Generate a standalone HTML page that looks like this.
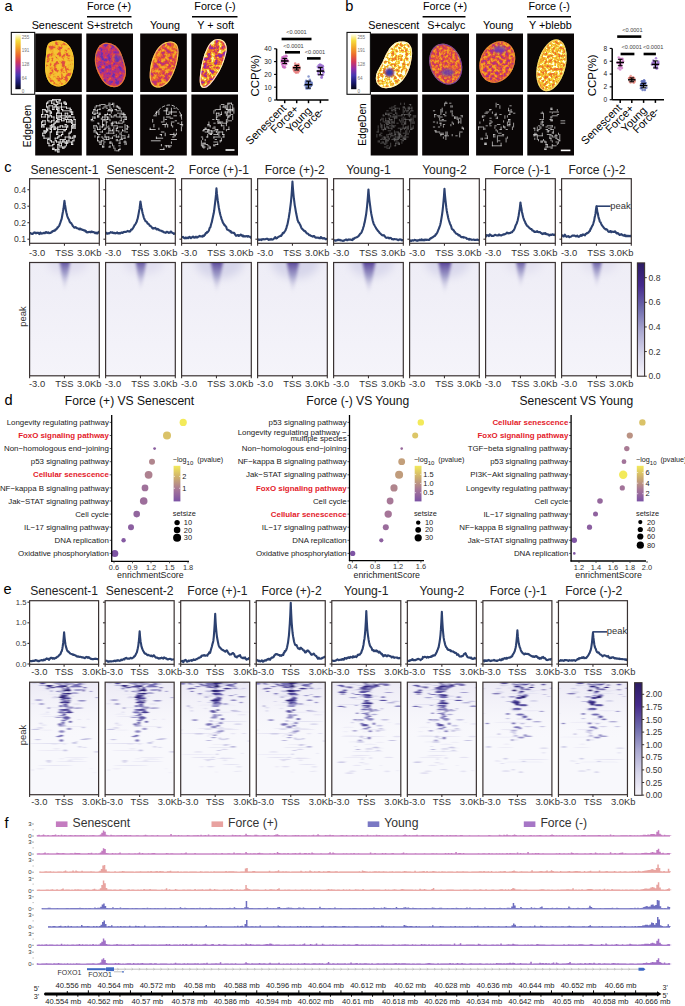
<!DOCTYPE html>
<html><head><meta charset="utf-8"><style>
html,body{margin:0;padding:0;background:#fff;overflow:hidden;width:685px;height:1006px;}
svg{display:block;}
</style></head><body>
<svg width="685" height="1006" viewBox="0 0 685 1006" font-family='"Liberation Sans", sans-serif'>
<defs>
<linearGradient id="fireg" x1="0" y1="0" x2="0" y2="1"><stop offset="0" stop-color="rgb(255, 255, 235)"/><stop offset="0.12" stop-color="rgb(245, 220, 60)"/><stop offset="0.25" stop-color="rgb(242, 165, 40)"/><stop offset="0.38" stop-color="rgb(235, 105, 45)"/><stop offset="0.5" stop-color="rgb(210, 55, 90)"/><stop offset="0.62" stop-color="rgb(150, 45, 165)"/><stop offset="0.75" stop-color="rgb(70, 55, 175)"/><stop offset="0.88" stop-color="rgb(25, 25, 110)"/><stop offset="1" stop-color="rgb(5, 5, 20)"/></linearGradient>
<clipPath id="nc0"><path d="M58 40.5C66 40 72 47 73.5 56C75 66 73 78 66 84C61 88 53 87 49 82C45 77 44.5 68 45.5 60C46.5 52 46 46 49 43C51 41.3 54.5 40.6 58 40.5Z"/></clipPath>
<filter id="nf0" filterUnits="userSpaceOnUse" x="35.2" y="33.5" width="46.6" height="58.5" color-interpolation-filters="sRGB"><feTurbulence type="fractalNoise" baseFrequency="0.26" numOctaves="3" seed="3"/><feGaussianBlur stdDeviation="0.5"/><feColorMatrix type="matrix" values="1 0 0 0 0  1 0 0 0 0  1 0 0 0 0  0 0 0 0 1"/><feComponentTransfer><feFuncR type="table" tableValues="0.86 0.86 0.86 0.86 0.86 0.86 0.86 0.87 0.87 0.88 0.88 0.9 0.92 0.93 0.94 0.95 0.95 0.95 0.95 0.95 0.96 0.96 0.96 0.96 0.96 0.96 0.96 0.96 0.96 0.96 0.96 0.96 0.96"/><feFuncG type="table" tableValues="0.29 0.29 0.29 0.29 0.3 0.3 0.3 0.3 0.31 0.32 0.34 0.37 0.42 0.49 0.57 0.64 0.69 0.72 0.74 0.75 0.76 0.76 0.77 0.77 0.77 0.77 0.77 0.77 0.77 0.77 0.77 0.77 0.77"/><feFuncB type="table" tableValues="0.28 0.28 0.28 0.28 0.28 0.28 0.28 0.28 0.27 0.26 0.24 0.21 0.18 0.17 0.16 0.16 0.17 0.18 0.19 0.2 0.2 0.2 0.2 0.2 0.2 0.2 0.2 0.2 0.2 0.2 0.2 0.2 0.2"/></feComponentTransfer></filter>
<clipPath id="nc1"><path d="M104 43C111 41.5 118 46 121 53C123 58 124 61 125.5 67C127 74 125 82 119 86C113 89 106 86 102 80C99 75 96 70 95 63C94 55 97 45 104 43Z"/></clipPath>
<filter id="nf1" filterUnits="userSpaceOnUse" x="86.3" y="33.5" width="46.7" height="58.5" color-interpolation-filters="sRGB"><feTurbulence type="fractalNoise" baseFrequency="0.26" numOctaves="3" seed="11"/><feGaussianBlur stdDeviation="0.5"/><feColorMatrix type="matrix" values="1 0 0 0 0  1 0 0 0 0  1 0 0 0 0  0 0 0 0 1"/><feComponentTransfer><feFuncR type="table" tableValues="0.4 0.4 0.4 0.4 0.4 0.4 0.4 0.41 0.41 0.42 0.44 0.48 0.53 0.6 0.66 0.7 0.74 0.76 0.79 0.81 0.84 0.86 0.88 0.89 0.9 0.91 0.91 0.92 0.92 0.92 0.92 0.92 0.92"/><feFuncG type="table" tableValues="0.2 0.2 0.2 0.2 0.2 0.2 0.2 0.2 0.2 0.2 0.19 0.19 0.18 0.18 0.19 0.2 0.2 0.21 0.21 0.21 0.24 0.28 0.32 0.35 0.38 0.39 0.4 0.4 0.4 0.4 0.4 0.4 0.4"/><feFuncB type="table" tableValues="0.67 0.67 0.67 0.67 0.67 0.67 0.67 0.67 0.67 0.67 0.67 0.66 0.65 0.63 0.56 0.5 0.46 0.43 0.4 0.36 0.33 0.29 0.26 0.23 0.21 0.2 0.19 0.19 0.19 0.18 0.18 0.18 0.18"/></feComponentTransfer></filter>
<clipPath id="nc2"><path d="M170 41.5C176 41 179 46 178.5 53C178 62 175 72 170 80C166 86 160 89 155 87C150 85 149 78 150 70C151 61 154 53 158 48C162 43 166 41.8 170 41.5Z"/></clipPath>
<filter id="nf2" filterUnits="userSpaceOnUse" x="140.2" y="33.5" width="46.6" height="58.5" color-interpolation-filters="sRGB"><feTurbulence type="fractalNoise" baseFrequency="0.26" numOctaves="3" seed="21"/><feGaussianBlur stdDeviation="0.5"/><feColorMatrix type="matrix" values="1 0 0 0 0  1 0 0 0 0  1 0 0 0 0  0 0 0 0 1"/><feComponentTransfer><feFuncR type="table" tableValues="0.71 0.71 0.71 0.71 0.71 0.71 0.71 0.71 0.71 0.71 0.73 0.78 0.82 0.85 0.87 0.89 0.91 0.92 0.93 0.93 0.94 0.95 0.95 0.95 0.95 0.95 0.95 0.95 0.95 0.95 0.95 0.95 0.95"/><feFuncG type="table" tableValues="0.2 0.2 0.2 0.2 0.2 0.2 0.2 0.2 0.2 0.2 0.2 0.21 0.22 0.26 0.3 0.34 0.38 0.42 0.47 0.52 0.57 0.62 0.66 0.68 0.68 0.68 0.68 0.68 0.68 0.68 0.68 0.68 0.68"/><feFuncB type="table" tableValues="0.49 0.49 0.49 0.49 0.49 0.49 0.49 0.49 0.49 0.49 0.47 0.41 0.35 0.31 0.28 0.24 0.2 0.18 0.17 0.17 0.16 0.16 0.16 0.17 0.17 0.17 0.17 0.17 0.17 0.17 0.17 0.17 0.17"/></feComponentTransfer></filter>
<clipPath id="nc3"><path d="M218 39C224 39 228 44 226.5 52C225 60 221 70 216 77C212 83 208 88 204 88C200 88 199 82 200 75C201 66 203 56 207 48C210 42 214 39 218 39Z"/></clipPath>
<filter id="nf3" filterUnits="userSpaceOnUse" x="191.4" y="33.5" width="46.6" height="58.5" color-interpolation-filters="sRGB"><feTurbulence type="fractalNoise" baseFrequency="0.26" numOctaves="3" seed="31"/><feGaussianBlur stdDeviation="0.5"/><feColorMatrix type="matrix" values="1 0 0 0 0  1 0 0 0 0  1 0 0 0 0  0 0 0 0 1"/><feComponentTransfer><feFuncR type="table" tableValues="0.55 0.55 0.55 0.55 0.55 0.55 0.55 0.55 0.55 0.55 0.59 0.68 0.76 0.83 0.87 0.9 0.93 0.93 0.94 0.95 0.96 0.96 0.97 0.98 0.98 0.98 0.98 0.98 0.98 0.98 0.98 0.98 0.98"/><feFuncG type="table" tableValues="0.18 0.18 0.18 0.18 0.18 0.18 0.18 0.18 0.18 0.18 0.18 0.19 0.2 0.23 0.3 0.37 0.44 0.52 0.61 0.69 0.76 0.84 0.89 0.94 0.95 0.95 0.95 0.95 0.95 0.95 0.95 0.95 0.95"/><feFuncB type="table" tableValues="0.65 0.65 0.65 0.65 0.65 0.65 0.65 0.65 0.65 0.65 0.64 0.54 0.43 0.34 0.28 0.22 0.17 0.17 0.16 0.17 0.2 0.23 0.4 0.64 0.65 0.65 0.65 0.65 0.65 0.65 0.65 0.65 0.65"/></feComponentTransfer></filter>
<clipPath id="nc10"><path d="M404 41.5C410 42 413 48 412 56C411 65 408 74 403 80C398 86 390 89 384 88C378 87 375 82 376 76C377 70 381 66 383 61C386 54 389 47 395 43C398 41.5 401 41.2 404 41.5Z"/></clipPath>
<filter id="nf10" filterUnits="userSpaceOnUse" x="370.7" y="33.5" width="47.1" height="58.5" color-interpolation-filters="sRGB"><feTurbulence type="fractalNoise" baseFrequency="0.36" numOctaves="3" seed="41"/><feGaussianBlur stdDeviation="0.5"/><feColorMatrix type="matrix" values="1 0 0 0 0  1 0 0 0 0  1 0 0 0 0  0 0 0 0 1"/><feComponentTransfer><feFuncR type="table" tableValues="0.92 0.92 0.92 0.92 0.92 0.92 0.92 0.92 0.92 0.92 0.93 0.94 0.94 0.95 0.95 0.96 0.96 0.97 0.98 0.99 1 1 1 1 1 1 1 1 1 1 1 1 1"/><feFuncG type="table" tableValues="0.44 0.44 0.44 0.44 0.44 0.44 0.44 0.44 0.44 0.44 0.47 0.53 0.6 0.66 0.72 0.78 0.85 0.89 0.93 0.97 1 1 1 1 1 1 1 1 1 1 1 1 1"/><feFuncB type="table" tableValues="0.17 0.17 0.17 0.17 0.17 0.17 0.17 0.17 0.17 0.17 0.17 0.17 0.16 0.16 0.18 0.21 0.23 0.37 0.57 0.76 0.92 0.92 0.92 0.92 0.92 0.92 0.92 0.92 0.92 0.92 0.92 0.92 0.92"/></feComponentTransfer></filter>
<clipPath id="nc11"><ellipse cx="445.7" cy="64.1" rx="15.8" ry="21" transform="rotate(-20 445.7 64.1)"/></clipPath>
<filter id="nf11" filterUnits="userSpaceOnUse" x="422.2" y="33.5" width="46.8" height="58.5" color-interpolation-filters="sRGB"><feTurbulence type="fractalNoise" baseFrequency="0.38" numOctaves="3" seed="51"/><feGaussianBlur stdDeviation="0.5"/><feColorMatrix type="matrix" values="1 0 0 0 0  1 0 0 0 0  1 0 0 0 0  0 0 0 0 1"/><feComponentTransfer><feFuncR type="table" tableValues="0.77 0.77 0.77 0.77 0.77 0.77 0.77 0.77 0.77 0.77 0.78 0.82 0.84 0.86 0.88 0.89 0.91 0.92 0.93 0.93 0.94 0.94 0.95 0.95 0.95 0.95 0.95 0.95 0.95 0.95 0.95 0.95 0.95"/><feFuncG type="table" tableValues="0.21 0.21 0.21 0.21 0.21 0.21 0.21 0.21 0.21 0.21 0.21 0.22 0.25 0.29 0.32 0.35 0.39 0.42 0.47 0.51 0.55 0.59 0.63 0.65 0.65 0.65 0.65 0.65 0.65 0.65 0.65 0.65 0.65"/><feFuncB type="table" tableValues="0.42 0.42 0.42 0.42 0.42 0.42 0.42 0.42 0.42 0.42 0.4 0.35 0.32 0.29 0.26 0.23 0.2 0.18 0.17 0.17 0.17 0.16 0.16 0.16 0.16 0.16 0.16 0.16 0.16 0.16 0.16 0.16 0.16"/></feComponentTransfer></filter>
<clipPath id="nc12"><ellipse cx="497.3" cy="62" rx="17" ry="21.5" transform="rotate(25 497.3 62)"/></clipPath>
<filter id="nf12" filterUnits="userSpaceOnUse" x="476.1" y="33.5" width="46.9" height="58.5" color-interpolation-filters="sRGB"><feTurbulence type="fractalNoise" baseFrequency="0.32" numOctaves="3" seed="61"/><feGaussianBlur stdDeviation="0.5"/><feColorMatrix type="matrix" values="1 0 0 0 0  1 0 0 0 0  1 0 0 0 0  0 0 0 0 1"/><feComponentTransfer><feFuncR type="table" tableValues="0.67 0.67 0.67 0.67 0.67 0.67 0.67 0.67 0.67 0.67 0.69 0.74 0.79 0.83 0.85 0.87 0.89 0.91 0.93 0.93 0.94 0.94 0.95 0.95 0.95 0.95 0.95 0.95 0.95 0.95 0.95 0.95 0.95"/><feFuncG type="table" tableValues="0.19 0.19 0.19 0.19 0.19 0.19 0.19 0.19 0.19 0.19 0.19 0.2 0.21 0.23 0.27 0.32 0.36 0.4 0.45 0.5 0.55 0.6 0.65 0.66 0.66 0.66 0.66 0.66 0.66 0.66 0.66 0.66 0.66"/><feFuncB type="table" tableValues="0.54 0.54 0.54 0.54 0.54 0.54 0.54 0.54 0.54 0.54 0.52 0.45 0.39 0.34 0.3 0.26 0.23 0.19 0.17 0.17 0.17 0.16 0.16 0.16 0.16 0.16 0.16 0.16 0.16 0.16 0.16 0.16 0.16"/></feComponentTransfer></filter>
<clipPath id="nc13"><ellipse cx="551.5" cy="65.3" rx="14" ry="26.5" transform="rotate(15 551.5 65.3)"/></clipPath>
<filter id="nf13" filterUnits="userSpaceOnUse" x="527.3" y="33.5" width="46.7" height="58.5" color-interpolation-filters="sRGB"><feTurbulence type="fractalNoise" baseFrequency="0.38" numOctaves="3" seed="71"/><feGaussianBlur stdDeviation="0.5"/><feColorMatrix type="matrix" values="1 0 0 0 0  1 0 0 0 0  1 0 0 0 0  0 0 0 0 1"/><feComponentTransfer><feFuncR type="table" tableValues="0.92 0.92 0.92 0.92 0.92 0.92 0.92 0.92 0.92 0.92 0.92 0.93 0.94 0.94 0.95 0.95 0.95 0.96 0.96 0.97 0.98 0.99 1 1 1 1 1 1 1 1 1 1 1"/><feFuncG type="table" tableValues="0.4 0.4 0.4 0.4 0.4 0.4 0.4 0.4 0.4 0.4 0.42 0.48 0.54 0.59 0.65 0.7 0.75 0.8 0.85 0.89 0.92 0.95 0.99 1 1 1 1 1 1 1 1 1 1"/><feFuncB type="table" tableValues="0.18 0.18 0.18 0.18 0.18 0.18 0.18 0.18 0.18 0.18 0.18 0.17 0.17 0.16 0.16 0.18 0.19 0.21 0.23 0.37 0.53 0.69 0.86 0.92 0.92 0.92 0.92 0.92 0.92 0.92 0.92 0.92 0.92"/></feComponentTransfer></filter>
<filter id="nspot" x="-50%" y="-50%" width="200%" height="200%"><feGaussianBlur stdDeviation="1.1"/></filter>
<clipPath id="lpc100"><rect x="29.6" y="179.3" width="69.7" height="64"/></clipPath>
<clipPath id="lpc101"><rect x="105.6" y="179.3" width="69.7" height="64"/></clipPath>
<clipPath id="lpc102"><rect x="181.6" y="179.3" width="69.7" height="64"/></clipPath>
<clipPath id="lpc103"><rect x="257.6" y="179.3" width="69.7" height="64"/></clipPath>
<clipPath id="lpc104"><rect x="333.6" y="179.3" width="69.7" height="64"/></clipPath>
<clipPath id="lpc105"><rect x="409.6" y="179.3" width="69.7" height="64"/></clipPath>
<clipPath id="lpc106"><rect x="485.6" y="179.3" width="69.7" height="64"/></clipPath>
<clipPath id="lpc107"><rect x="561.6" y="179.3" width="69.7" height="64"/></clipPath>
<linearGradient id="hcbg" x1="0" y1="0" x2="0" y2="1"><stop offset="0" stop-color="#eeedf6"/><stop offset="1" stop-color="#f5f4fa"/></linearGradient>
<filter id="hcb1" x="-50%" y="-50%" width="200%" height="200%"><feGaussianBlur stdDeviation="1.5"/></filter>
<filter id="hcb2" x="-50%" y="-50%" width="200%" height="200%"><feGaussianBlur stdDeviation="4"/></filter>
<linearGradient id="hcg0" x1="0" y1="0" x2="0" y2="1"><stop offset="0" stop-color="#564499"/><stop offset="0.45" stop-color="#9c9ac8" stop-opacity="0.85"/><stop offset="1" stop-color="#e6e4f2" stop-opacity="0"/></linearGradient>
<clipPath id="hcc0"><rect x="29.6" y="262.5" width="69.7" height="113.3"/></clipPath>
<linearGradient id="hcg1" x1="0" y1="0" x2="0" y2="1"><stop offset="0" stop-color="#5a4a9c"/><stop offset="0.45" stop-color="#a09dca" stop-opacity="0.85"/><stop offset="1" stop-color="#e6e4f2" stop-opacity="0"/></linearGradient>
<clipPath id="hcc1"><rect x="105.6" y="262.5" width="69.7" height="113.3"/></clipPath>
<linearGradient id="hcg2" x1="0" y1="0" x2="0" y2="1"><stop offset="0" stop-color="#4e3792"/><stop offset="0.45" stop-color="#9592c3" stop-opacity="0.85"/><stop offset="1" stop-color="#e6e4f2" stop-opacity="0"/></linearGradient>
<clipPath id="hcc2"><rect x="181.6" y="262.5" width="69.7" height="113.3"/></clipPath>
<linearGradient id="hcg3" x1="0" y1="0" x2="0" y2="1"><stop offset="0" stop-color="#4e3792"/><stop offset="0.45" stop-color="#9592c3" stop-opacity="0.85"/><stop offset="1" stop-color="#e6e4f2" stop-opacity="0"/></linearGradient>
<clipPath id="hcc3"><rect x="257.6" y="262.5" width="69.7" height="113.3"/></clipPath>
<linearGradient id="hcg4" x1="0" y1="0" x2="0" y2="1"><stop offset="0" stop-color="#4a308f"/><stop offset="0.45" stop-color="#918ec1" stop-opacity="0.85"/><stop offset="1" stop-color="#e6e4f2" stop-opacity="0"/></linearGradient>
<clipPath id="hcc4"><rect x="333.6" y="262.5" width="69.7" height="113.3"/></clipPath>
<linearGradient id="hcg5" x1="0" y1="0" x2="0" y2="1"><stop offset="0" stop-color="#4a308f"/><stop offset="0.45" stop-color="#918ec1" stop-opacity="0.85"/><stop offset="1" stop-color="#e6e4f2" stop-opacity="0"/></linearGradient>
<clipPath id="hcc5"><rect x="409.6" y="262.5" width="69.7" height="113.3"/></clipPath>
<linearGradient id="hcg6" x1="0" y1="0" x2="0" y2="1"><stop offset="0" stop-color="#5e509f"/><stop offset="0.45" stop-color="#a4a1cc" stop-opacity="0.85"/><stop offset="1" stop-color="#e6e4f2" stop-opacity="0"/></linearGradient>
<clipPath id="hcc6"><rect x="485.6" y="262.5" width="69.7" height="113.3"/></clipPath>
<linearGradient id="hcg7" x1="0" y1="0" x2="0" y2="1"><stop offset="0" stop-color="#5e509f"/><stop offset="0.45" stop-color="#a4a1cc" stop-opacity="0.85"/><stop offset="1" stop-color="#e6e4f2" stop-opacity="0"/></linearGradient>
<clipPath id="hcc7"><rect x="561.6" y="262.5" width="69.7" height="113.3"/></clipPath>
<linearGradient id="cbc" x1="0" y1="0" x2="0" y2="1"><stop offset="0" stop-color="#2c1c62"/><stop offset="0.1" stop-color="#392377"/><stop offset="0.2" stop-color="#462a8c"/><stop offset="0.3" stop-color="#5a4a9c"/><stop offset="0.4" stop-color="#6e6aac"/><stop offset="0.5" stop-color="#8c89be"/><stop offset="0.6" stop-color="#aaa8d0"/><stop offset="0.7" stop-color="#c0bedd"/><stop offset="0.8" stop-color="#d6d5ea"/><stop offset="0.9" stop-color="#e6e4f2"/><stop offset="1" stop-color="#f6f4fa"/></linearGradient>
<linearGradient id="dg172" x1="0" y1="0" x2="0" y2="1"><stop offset="0" stop-color="#f3ea5a"/><stop offset="0.34" stop-color="#ccac70"/><stop offset="0.67" stop-color="#a67698"/><stop offset="1" stop-color="#7b52a5"/></linearGradient>
<linearGradient id="dg413" x1="0" y1="0" x2="0" y2="1"><stop offset="0" stop-color="#f3ea5a"/><stop offset="0.34" stop-color="#ccac70"/><stop offset="0.67" stop-color="#a67698"/><stop offset="1" stop-color="#7b52a5"/></linearGradient>
<linearGradient id="dg636" x1="0" y1="0" x2="0" y2="1"><stop offset="0" stop-color="#f3ea5a"/><stop offset="0.34" stop-color="#ccac70"/><stop offset="0.67" stop-color="#a67698"/><stop offset="1" stop-color="#7b52a5"/></linearGradient>
<clipPath id="lpe200"><rect x="29.6" y="601.3" width="69" height="63"/></clipPath>
<clipPath id="lpe201"><rect x="105.15" y="601.3" width="69" height="63"/></clipPath>
<clipPath id="lpe202"><rect x="180.7" y="601.3" width="69" height="63"/></clipPath>
<clipPath id="lpe203"><rect x="256.25" y="601.3" width="69" height="63"/></clipPath>
<clipPath id="lpe204"><rect x="331.8" y="601.3" width="69" height="63"/></clipPath>
<clipPath id="lpe205"><rect x="407.35" y="601.3" width="69" height="63"/></clipPath>
<clipPath id="lpe206"><rect x="482.9" y="601.3" width="69" height="63"/></clipPath>
<clipPath id="lpe207"><rect x="558.45" y="601.3" width="69" height="63"/></clipPath>
<linearGradient id="hehz" x1="0" y1="0" x2="0" y2="1"><stop offset="0" stop-color="#eceaf5"/><stop offset="1" stop-color="#f7f6fb" stop-opacity="0"/></linearGradient>
<filter id="heb" x="-20%" y="-50%" width="140%" height="200%"><feGaussianBlur stdDeviation="0.9 0.55"/></filter>
<clipPath id="hecl0"><rect x="29.6" y="682.2" width="69" height="112.5"/></clipPath>
<clipPath id="hecl1"><rect x="105.15" y="682.2" width="69" height="112.5"/></clipPath>
<clipPath id="hecl2"><rect x="180.7" y="682.2" width="69" height="112.5"/></clipPath>
<clipPath id="hecl3"><rect x="256.25" y="682.2" width="69" height="112.5"/></clipPath>
<clipPath id="hecl4"><rect x="331.8" y="682.2" width="69" height="112.5"/></clipPath>
<clipPath id="hecl5"><rect x="407.35" y="682.2" width="69" height="112.5"/></clipPath>
<clipPath id="hecl6"><rect x="482.9" y="682.2" width="69" height="112.5"/></clipPath>
<clipPath id="hecl7"><rect x="558.45" y="682.2" width="69" height="112.5"/></clipPath>
</defs>
<rect x="35.2" y="33.5" width="46.6" height="58.5" fill="#0a0606" />
<g clip-path="url(#nc0)"><rect x="35.2" y="33.5" width="46.6" height="58.5" fill="#000" filter="url(#nf0)"/></g>
<g clip-path="url(#nc0)"><path d="M58 40.5C66 40 72 47 73.5 56C75 66 73 78 66 84C61 88 53 87 49 82C45 77 44.5 68 45.5 60C46.5 52 46 46 49 43C51 41.3 54.5 40.6 58 40.5Z" fill="none" stroke="#f5d030" stroke-opacity="0.9" stroke-width="2.2"/></g>
<rect x="86.3" y="33.5" width="46.7" height="58.5" fill="#0a0606" />
<g clip-path="url(#nc1)"><rect x="86.3" y="33.5" width="46.7" height="58.5" fill="#000" filter="url(#nf1)"/></g>
<g clip-path="url(#nc1)"><path d="M104 43C111 41.5 118 46 121 53C123 58 124 61 125.5 67C127 74 125 82 119 86C113 89 106 86 102 80C99 75 96 70 95 63C94 55 97 45 104 43Z" fill="none" stroke="#e8802a" stroke-opacity="0.9" stroke-width="2.2"/></g>
<rect x="140.2" y="33.5" width="46.6" height="58.5" fill="#0a0606" />
<g clip-path="url(#nc2)"><rect x="140.2" y="33.5" width="46.6" height="58.5" fill="#000" filter="url(#nf2)"/></g>
<g clip-path="url(#nc2)"><path d="M170 41.5C176 41 179 46 178.5 53C178 62 175 72 170 80C166 86 160 89 155 87C150 85 149 78 150 70C151 61 154 53 158 48C162 43 166 41.8 170 41.5Z" fill="none" stroke="#f8e060" stroke-opacity="0.8" stroke-width="2.2"/></g>
<rect x="191.4" y="33.5" width="46.6" height="58.5" fill="#0a0606" />
<g clip-path="url(#nc3)"><rect x="191.4" y="33.5" width="46.6" height="58.5" fill="#000" filter="url(#nf3)"/></g>
<g clip-path="url(#nc3)"><path d="M218 39C224 39 228 44 226.5 52C225 60 221 70 216 77C212 83 208 88 204 88C200 88 199 82 200 75C201 66 203 56 207 48C210 42 214 39 218 39Z" fill="none" stroke="#fff8d0" stroke-opacity="0.9" stroke-width="2.2"/></g>
<rect x="370.7" y="33.5" width="47.1" height="58.5" fill="#0a0606" />
<g clip-path="url(#nc10)"><rect x="370.7" y="33.5" width="47.1" height="58.5" fill="#000" filter="url(#nf10)"/></g>
<g clip-path="url(#nc10)"><path d="M404 41.5C410 42 413 48 412 56C411 65 408 74 403 80C398 86 390 89 384 88C378 87 375 82 376 76C377 70 381 66 383 61C386 54 389 47 395 43C398 41.5 401 41.2 404 41.5Z" fill="none" stroke="#fff4c0" stroke-opacity="0.9" stroke-width="2.2"/></g>
<rect x="422.2" y="33.5" width="46.8" height="58.5" fill="#0a0606" />
<g clip-path="url(#nc11)"><rect x="422.2" y="33.5" width="46.8" height="58.5" fill="#000" filter="url(#nf11)"/></g>
<ellipse cx="445.7" cy="64.1" rx="15.3" ry="20.5" transform="rotate(-20 445.7 64.1)" fill="none" stroke="#6040b0" stroke-opacity="0.7" stroke-width="1.2"/>
<rect x="476.1" y="33.5" width="46.9" height="58.5" fill="#0a0606" />
<g clip-path="url(#nc12)"><rect x="476.1" y="33.5" width="46.9" height="58.5" fill="#000" filter="url(#nf12)"/></g>
<ellipse cx="497.3" cy="62" rx="16.5" ry="21" transform="rotate(25 497.3 62)" fill="none" stroke="#e89030" stroke-opacity="0.7" stroke-width="1.2"/>
<rect x="527.3" y="33.5" width="46.7" height="58.5" fill="#0a0606" />
<g clip-path="url(#nc13)"><rect x="527.3" y="33.5" width="46.7" height="58.5" fill="#000" filter="url(#nf13)"/></g>
<ellipse cx="551.5" cy="65.3" rx="13.5" ry="26" transform="rotate(15 551.5 65.3)" fill="none" stroke="#f8e070" stroke-opacity="0.8" stroke-width="1.2"/>
<g clip-path="url(#nc10)"><ellipse cx="389.5" cy="72.5" rx="4.6" ry="4.2" fill="#8a2a8a" fill-opacity="0.9" filter="url(#nspot)"/></g>
<g clip-path="url(#nc10)"><ellipse cx="389.5" cy="72.5" rx="3.2" ry="3.0" fill="#3040a8" fill-opacity="1.0" filter="url(#nspot)"/></g>
<g clip-path="url(#nc11)"><ellipse cx="447.5" cy="72.5" rx="6.5" ry="3.6" fill="#5a3cb8" fill-opacity="0.75" filter="url(#nspot)"/></g>
<g clip-path="url(#nc12)"><ellipse cx="499.5" cy="49.5" rx="6.5" ry="3.6" fill="#6a3cb8" fill-opacity="0.8" filter="url(#nspot)"/></g>
<g clip-path="url(#nc1)"><ellipse cx="118.0" cy="58.0" rx="5.0" ry="3.5" fill="#5a3cb8" fill-opacity="0.5" filter="url(#nspot)"/></g>
<rect x="35.2" y="94.5" width="46.6" height="61" fill="#0a0606" />
<path d="M52.7 99.5h7.50M49.0 100.8h2.50M52.7 100.8h3.75M59.0 100.8h1.25M47.7 102.0h1.25M56.5 102.0h1.25M64.0 102.0h1.25M46.5 103.2h1.25M51.5 103.2h2.50M59.0 103.2h2.50M64.0 103.2h2.50M54.0 104.5h3.75M65.2 104.5h1.25M49.0 105.8h3.75M55.2 105.8h1.25M46.5 107.0h1.25M54.0 107.0h1.25M57.7 107.0h8.75M57.7 108.2h1.25M66.5 108.2h3.75M42.7 109.5h2.50M52.7 109.5h1.25M56.5 109.5h1.25M61.5 109.5h1.25M70.2 109.5h1.25M45.2 110.8h1.25M49.0 110.8h1.25M57.7 110.8h1.25M62.7 110.8h7.50M46.5 112.0h1.25M50.2 112.0h1.25M57.7 112.0h1.25M70.2 112.0h2.50M50.2 113.2h1.25M56.5 113.2h1.25M59.0 113.2h2.50M65.2 113.2h2.50M41.5 114.5h1.25M45.2 114.5h2.50M71.5 114.5h1.25M47.7 115.8h1.25M50.2 115.8h1.25M56.5 115.8h3.75M61.5 115.8h3.75M69.0 115.8h1.25M41.5 117.0h3.75M47.7 117.0h1.25M51.5 117.0h2.50M56.5 117.0h2.50M60.2 117.0h1.25M65.2 117.0h1.25M67.7 117.0h1.25M70.2 117.0h3.75M56.5 118.2h1.25M61.5 118.2h2.50M57.7 119.5h3.75M65.2 119.5h1.25M67.7 119.5h1.25M70.2 119.5h1.25M74.0 119.5h1.25M42.7 120.8h2.50M47.7 120.8h1.25M51.5 120.8h2.50M56.5 120.8h1.25M61.5 120.8h2.50M71.5 120.8h1.25M41.5 122.0h1.25M50.2 122.0h1.25M55.2 122.0h1.25M57.7 122.0h1.25M66.5 122.0h2.50M70.2 122.0h1.25M54.0 123.2h1.25M71.5 123.2h1.25M42.7 124.5h2.50M52.7 124.5h1.25M65.2 124.5h1.25M72.7 124.5h2.50M42.7 125.8h1.25M50.2 125.8h1.25M52.7 125.8h1.25M60.2 125.8h2.50M66.5 125.8h1.25M71.5 125.8h1.25M74.0 125.8h1.25M41.5 127.0h2.50M51.5 127.0h1.25M54.0 127.0h1.25M57.7 127.0h2.50M62.7 127.0h2.50M66.5 127.0h1.25M72.7 127.0h1.25M46.5 128.2h5.00M54.0 128.2h3.75M72.7 128.2h2.50M46.5 129.5h1.25M50.2 129.5h1.25M54.0 129.5h1.25M57.7 129.5h6.25M65.2 129.5h1.25M44.0 130.8h1.25M46.5 130.8h1.25M64.0 130.8h1.25M44.0 132.0h2.50M50.2 132.0h1.25M56.5 132.0h6.25M70.2 132.0h1.25M42.7 133.2h2.50M69.0 133.2h1.25M56.5 134.5h1.25M61.5 134.5h1.25M42.7 135.8h1.25M59.0 135.8h2.50M74.0 135.8h1.25M57.7 137.0h1.25M65.2 137.0h5.00M74.0 137.0h1.25M44.0 138.2h5.00M55.2 138.2h2.50M70.2 138.2h2.50M47.7 139.5h1.25M60.2 139.5h5.00M50.2 140.8h1.25M55.2 140.8h1.25M62.7 140.8h1.25M66.5 140.8h2.50M72.7 140.8h1.25M51.5 142.0h2.50M56.5 142.0h2.50M60.2 142.0h2.50M64.0 142.0h1.25M67.7 142.0h3.75M47.7 143.2h1.25M59.0 143.2h2.50M65.2 143.2h2.50M52.7 144.5h1.25M57.7 144.5h1.25M71.5 144.5h1.25M49.0 145.8h3.75M59.0 145.8h2.50M59.0 147.0h3.75M64.0 147.0h1.25M52.7 148.2h1.25M57.7 148.2h1.25M62.7 148.2h1.25M52.7 149.5h1.25M55.2 149.5h3.75M55.2 150.8h2.50M57.7 152.0h1.25M41.5 114.5v2.50M41.5 122.0v5.00M42.7 109.5v5.00M42.7 120.8v1.25M42.7 124.5v1.25M42.7 133.2v2.50M44.0 125.8v1.25M44.0 130.8v1.25M44.0 135.8v2.50M45.2 109.5v1.25M45.2 114.5v2.50M45.2 120.8v3.75M45.2 130.8v2.50M46.5 103.2v3.75M46.5 110.8v1.25M46.5 128.2v1.25M46.5 130.8v1.25M47.7 102.0v1.25M47.7 107.0v5.00M47.7 114.5v1.25M47.7 117.0v3.75M47.7 129.5v1.25M47.7 139.5v3.75M49.0 105.8v5.00M49.0 115.8v1.25M49.0 120.8v1.25M49.0 138.2v1.25M49.0 143.2v2.50M50.2 110.8v1.25M50.2 113.2v2.50M50.2 125.8v3.75M50.2 132.0v8.75M51.5 100.8v2.50M51.5 112.0v1.25M51.5 115.8v1.25M51.5 120.8v1.25M51.5 124.5v1.25M51.5 127.0v1.25M51.5 129.5v2.50M51.5 140.8v1.25M52.7 99.5v1.25M52.7 105.8v3.75M52.7 125.8v1.25M52.7 144.5v1.25M52.7 148.2v1.25M54.0 103.2v1.25M54.0 107.0v2.50M54.0 117.0v3.75M54.0 123.2v1.25M54.0 125.8v1.25M54.0 128.2v1.25M54.0 142.0v2.50M54.0 148.2v1.25M55.2 105.8v1.25M55.2 122.0v1.25M55.2 127.0v2.50M55.2 138.2v2.50M55.2 149.5v1.25M56.5 100.8v1.25M56.5 105.8v3.75M56.5 113.2v2.50M56.5 117.0v1.25M56.5 120.8v1.25M56.5 132.0v2.50M56.5 140.8v1.25M57.7 102.0v2.50M57.7 107.0v1.25M57.7 109.5v1.25M57.7 112.0v1.25M57.7 118.2v1.25M57.7 120.8v1.25M57.7 127.0v1.25M57.7 129.5v5.00M57.7 137.0v1.25M57.7 144.5v3.75M57.7 150.8v1.25M59.0 100.8v2.50M59.0 108.2v2.50M59.0 112.0v1.25M59.0 117.0v5.00M59.0 135.8v1.25M59.0 142.0v1.25M59.0 144.5v1.25M59.0 149.5v2.50M60.2 99.5v1.25M60.2 115.8v1.25M60.2 125.8v1.25M60.2 139.5v2.50M61.5 103.2v6.25M61.5 113.2v2.50M61.5 117.0v1.25M61.5 119.5v1.25M61.5 134.5v1.25M61.5 143.2v2.50M62.7 109.5v1.25M62.7 125.8v1.25M62.7 132.0v2.50M62.7 140.8v1.25M62.7 147.0v1.25M64.0 102.0v1.25M64.0 118.2v2.50M64.0 129.5v1.25M64.0 140.8v1.25M64.0 147.0v1.25M65.2 102.0v2.50M65.2 113.2v2.50M65.2 117.0v2.50M65.2 124.5v2.50M65.2 129.5v1.25M65.2 137.0v2.50M65.2 142.0v1.25M65.2 145.8v1.25M66.5 103.2v1.25M66.5 107.0v1.25M66.5 115.8v1.25M66.5 119.5v2.50M66.5 127.0v2.50M66.5 140.8v5.00M67.7 113.2v2.50M67.7 117.0v2.50M67.7 125.8v1.25M67.7 142.0v1.25M69.0 115.8v1.25M69.0 119.5v2.50M69.0 133.2v7.50M70.2 108.2v1.25M70.2 110.8v1.25M70.2 115.8v1.25M70.2 119.5v2.50M70.2 132.0v1.25M70.2 137.0v1.25M71.5 110.8v3.75M71.5 119.5v1.25M71.5 122.0v1.25M71.5 125.8v6.25M71.5 142.0v2.50M72.7 112.0v2.50M72.7 120.8v2.50M72.7 124.5v1.25M72.7 127.0v1.25M72.7 137.0v1.25M72.7 140.8v3.75M74.0 117.0v2.50M74.0 125.8v1.25M74.0 135.8v5.00M75.2 119.5v5.00M75.2 125.8v2.50M75.2 135.8v1.25" fill="none" stroke="#fff" stroke-width="0.75" stroke-linecap="square"/>
<rect x="86.3" y="94.5" width="46.7" height="61" fill="#0a0606" />
<path d="M108.8 103.2h1.25M101.3 104.5h3.75M111.3 104.5h1.25M96.3 105.8h3.75M105.0 105.8h2.50M103.8 107.0h2.50M117.5 107.0h1.25M102.5 108.2h1.25M106.3 108.2h1.25M118.8 108.2h1.25M93.8 109.5h1.25M98.8 109.5h1.25M108.8 109.5h1.25M115.0 109.5h1.25M95.0 110.8h2.50M107.5 110.8h1.25M110.0 110.8h2.50M117.5 110.8h1.25M92.5 113.2h1.25M95.0 113.2h2.50M98.8 113.2h1.25M117.5 113.2h1.25M122.5 113.2h1.25M93.8 114.5h1.25M98.8 114.5h1.25M105.0 114.5h2.50M108.8 114.5h1.25M122.5 114.5h2.50M97.5 115.8h1.25M105.0 115.8h1.25M113.8 115.8h1.25M92.5 117.0h2.50M97.5 117.0h1.25M102.5 117.0h2.50M106.3 117.0h1.25M111.3 117.0h2.50M117.5 117.0h2.50M122.5 117.0h1.25M125.0 117.0h1.25M93.8 118.2h1.25M91.3 119.5h1.25M102.5 119.5h2.50M106.3 119.5h1.25M125.0 119.5h1.25M92.5 120.8h1.25M102.5 120.8h3.75M120.0 120.8h1.25M106.3 122.0h1.25M113.8 122.0h2.50M122.5 122.0h1.25M97.5 123.2h1.25M111.3 123.2h2.50M116.3 123.2h1.25M118.8 123.2h3.75M102.5 124.5h1.25M93.8 125.8h2.50M102.5 125.8h1.25M113.8 125.8h3.75M126.3 125.8h1.25M101.3 127.0h1.25M106.3 127.0h1.25M118.8 127.0h3.75M127.5 127.0h1.25M105.0 128.2h1.25M108.8 128.2h1.25M116.3 128.2h1.25M97.5 129.5h2.50M103.8 129.5h1.25M93.8 130.8h1.25M110.0 130.8h2.50M116.3 130.8h1.25M122.5 130.8h1.25M93.8 132.0h2.50M100.0 132.0h2.50M126.3 132.0h1.25M96.3 133.2h1.25M106.3 133.2h2.50M110.0 133.2h3.75M97.5 134.5h2.50M113.8 135.8h1.25M122.5 135.8h2.50M97.5 137.0h1.25M101.3 137.0h1.25M105.0 137.0h1.25M107.5 137.0h1.25M116.3 137.0h2.50M127.5 137.0h1.25M102.5 138.2h1.25M110.0 138.2h2.50M121.3 138.2h3.75M103.8 139.5h1.25M106.3 139.5h2.50M120.0 139.5h2.50M97.5 140.8h1.25M101.3 140.8h2.50M118.8 140.8h1.25M98.8 142.0h1.25M103.8 142.0h1.25M110.0 142.0h1.25M123.8 142.0h2.50M110.0 143.2h2.50M118.8 143.2h1.25M100.0 144.5h1.25M118.8 145.8h1.25M102.5 147.0h1.25M108.8 147.0h1.25M118.8 149.5h1.25M116.3 150.8h2.50M91.3 119.5v1.25M92.5 112.0v1.25M92.5 118.2v1.25M93.8 109.5v2.50M93.8 125.8v2.50M95.0 107.0v2.50M95.0 113.2v1.25M95.0 117.0v1.25M95.0 128.2v2.50M95.0 135.8v1.25M96.3 105.8v1.25M96.3 125.8v1.25M96.3 132.0v1.25M97.5 109.5v1.25M97.5 112.0v1.25M97.5 115.8v1.25M97.5 127.0v2.50M97.5 133.2v1.25M97.5 137.0v3.75M98.8 115.8v1.25M98.8 123.2v1.25M98.8 135.8v1.25M100.0 104.5v1.25M100.0 108.2v1.25M100.0 113.2v1.25M100.0 125.8v3.75M100.0 142.0v2.50M101.3 118.2v1.25M101.3 140.8v2.50M102.5 117.0v1.25M102.5 120.8v3.75M102.5 125.8v1.25M102.5 130.8v1.25M102.5 145.8v1.25M103.8 124.5v1.25M103.8 143.2v1.25M103.8 145.8v1.25M105.0 114.5v1.25M105.0 117.0v2.50M105.0 128.2v1.25M105.0 134.5v2.50M106.3 122.0v3.75M106.3 137.0v2.50M107.5 113.2v1.25M107.5 117.0v2.50M108.8 104.5v1.25M108.8 109.5v1.25M108.8 117.0v2.50M108.8 125.8v1.25M108.8 128.2v5.00M108.8 137.0v2.50M110.0 104.5v3.75M110.0 109.5v1.25M110.0 114.5v1.25M110.0 119.5v1.25M110.0 129.5v1.25M110.0 142.0v1.25M110.0 145.8v1.25M111.3 108.2v5.00M111.3 115.8v1.25M111.3 123.2v2.50M112.5 103.2v1.25M112.5 109.5v1.25M112.5 122.0v3.75M112.5 129.5v1.25M112.5 137.0v1.25M112.5 144.5v1.25M113.8 103.2v3.75M113.8 127.0v6.25M113.8 145.8v2.50M115.0 114.5v1.25M115.0 148.2v2.50M116.3 105.8v1.25M116.3 109.5v1.25M116.3 114.5v2.50M116.3 122.0v1.25M116.3 128.2v2.50M116.3 134.5v2.50M116.3 139.5v1.25M117.5 105.8v1.25M117.5 127.0v1.25M117.5 139.5v1.25M118.8 107.0v1.25M118.8 122.0v1.25M118.8 130.8v1.25M118.8 135.8v1.25M118.8 149.5v1.25M120.0 108.2v2.50M120.0 113.2v3.75M120.0 133.2v1.25M120.0 142.0v1.25M120.0 148.2v1.25M121.3 110.8v1.25M121.3 113.2v1.25M121.3 117.0v3.75M121.3 132.0v1.25M121.3 134.5v3.75M122.5 129.5v1.25M123.8 113.2v3.75M123.8 119.5v2.50M125.0 114.5v2.50M125.0 118.2v1.25M125.0 124.5v7.50M125.0 137.0v1.25M125.0 140.8v3.75M126.3 117.0v2.50M126.3 128.2v1.25M126.3 143.2v1.25M127.5 125.8v1.25M127.5 128.2v1.25M128.8 134.5v2.50" fill="none" stroke="#fff" stroke-width="0.65" stroke-linecap="square"/>
<rect x="140.2" y="94.5" width="46.6" height="61" fill="#0a0606" />
<path d="M173.9 108.2h1.25M163.9 110.8h3.75M156.4 112.0h1.25M168.9 112.0h7.50M168.9 113.2h1.25M167.7 114.5h1.25M153.9 115.8h2.50M173.9 115.8h2.50M180.2 115.8h1.25M166.4 117.0h3.75M170.2 118.2h2.50M165.2 119.5h1.25M175.2 120.8h1.25M161.4 122.0h1.25M171.4 122.0h2.50M177.7 123.2h1.25M162.7 124.5h2.50M180.2 124.5h2.50M181.4 125.8h1.25M150.2 129.5h5.00M161.4 132.0h2.50M160.2 134.5h1.25M170.2 134.5h3.75M173.9 135.8h1.25M172.7 137.0h1.25M156.4 138.2h6.25M171.4 139.5h5.00M151.4 140.8h8.75M165.2 145.8h3.75M170.2 145.8h1.25M168.9 147.0h1.25M160.2 149.5h3.75M150.2 128.2v1.25M152.7 119.5v2.50M153.9 124.5v2.50M156.4 112.0v2.50M156.4 137.0v1.25M158.9 110.8v3.75M158.9 128.2v1.25M161.4 134.5v1.25M161.4 144.5v1.25M163.9 117.0v5.00M163.9 148.2v1.25M165.2 124.5v2.50M165.2 133.2v2.50M166.4 108.2v6.25M166.4 123.2v1.25M166.4 145.8v1.25M167.7 108.2v1.25M167.7 124.5v2.50M168.9 145.8v1.25M171.4 108.2v6.25M171.4 123.2v2.50M171.4 142.0v1.25M172.7 125.8v1.25M173.9 133.2v1.25M175.2 134.5v1.25M176.4 129.5v1.25M176.4 133.2v1.25M181.4 114.5v1.25M181.4 127.0v3.75" fill="none" stroke="#fff" stroke-width="0.7" stroke-linecap="square"/>
<rect x="191.4" y="94.5" width="46.6" height="61" fill="#0a0606" />
<path d="M228.9 103.2h2.50M221.4 104.5h2.50M225.2 105.8h1.25M222.7 107.0h1.25M225.2 107.0h1.25M232.7 108.2h1.25M216.4 109.5h3.75M226.4 109.5h1.25M228.9 109.5h3.75M227.7 110.8h1.25M230.2 110.8h2.50M225.2 112.0h5.00M216.4 113.2h2.50M220.2 114.5h1.25M231.4 114.5h1.25M217.7 115.8h2.50M228.9 115.8h1.25M216.4 117.0h1.25M227.7 117.0h1.25M212.7 119.5h1.25M216.4 119.5h1.25M227.7 120.8h3.75M218.9 122.0h1.25M221.4 122.0h1.25M226.4 122.0h1.25M213.9 123.2h1.25M217.7 123.2h1.25M220.2 123.2h6.25M207.7 124.5h1.25M207.7 125.8h2.50M221.4 125.8h2.50M213.9 127.0h1.25M205.2 128.2h1.25M212.7 128.2h2.50M203.9 129.5h1.25M206.4 129.5h2.50M215.2 129.5h2.50M227.7 129.5h1.25M202.7 130.8h1.25M207.7 130.8h3.75M213.9 130.8h1.25M205.2 132.0h2.50M216.4 132.0h1.25M218.9 132.0h3.75M208.9 133.2h1.25M211.4 133.2h1.25M210.2 134.5h1.25M213.9 134.5h3.75M222.7 134.5h1.25M201.4 137.0h1.25M206.4 137.0h1.25M213.9 137.0h6.25M222.7 137.0h1.25M215.2 139.5h1.25M220.2 140.8h1.25M213.9 142.0h3.75M203.9 143.2h1.25M206.4 144.5h1.25M215.2 144.5h2.50M202.7 145.8h1.25M207.7 145.8h1.25M213.9 145.8h1.25M202.7 147.0h2.50M208.9 147.0h1.25M208.9 148.2h1.25M201.4 140.8v5.00M202.7 138.2v1.25M202.7 143.2v3.75M203.9 129.5v1.25M203.9 143.2v1.25M203.9 147.0v1.25M205.2 128.2v1.25M205.2 139.5v1.25M205.2 143.2v1.25M207.7 130.8v1.25M207.7 134.5v2.50M207.7 148.2v1.25M208.9 122.0v2.50M208.9 129.5v3.75M210.2 125.8v1.25M210.2 133.2v1.25M210.2 147.0v1.25M211.4 130.8v1.25M211.4 133.2v1.25M212.7 130.8v1.25M213.9 110.8v2.50M213.9 137.0v1.25M213.9 144.5v1.25M215.2 109.5v1.25M216.4 113.2v2.50M216.4 117.0v2.50M216.4 130.8v1.25M217.7 120.8v1.25M217.7 129.5v1.25M217.7 133.2v1.25M217.7 143.2v1.25M218.9 113.2v1.25M218.9 119.5v1.25M218.9 122.0v1.25M218.9 132.0v3.75M220.2 105.8v3.75M220.2 122.0v1.25M220.2 140.8v1.25M221.4 112.0v2.50M221.4 124.5v1.25M221.4 138.2v2.50M222.7 132.0v2.50M223.9 105.8v1.25M223.9 127.0v2.50M223.9 134.5v2.50M225.2 107.0v1.25M225.2 112.0v1.25M226.4 108.2v1.25M226.4 113.2v2.50M226.4 119.5v2.50M226.4 123.2v2.50M226.4 129.5v1.25M227.7 103.2v6.25M227.7 112.0v3.75M227.7 117.0v2.50M228.9 103.2v1.25M228.9 109.5v1.25M228.9 115.8v1.25M228.9 127.0v2.50M230.2 105.8v5.00M230.2 112.0v3.75M231.4 103.2v1.25M232.7 104.5v3.75M232.7 109.5v1.25M232.7 115.8v3.75M233.9 109.5v3.75" fill="none" stroke="#fff" stroke-width="0.65" stroke-linecap="square"/>
<rect x="370.7" y="94.5" width="47.1" height="61" fill="#0a0606" />
<path d="M409.4 104.5h1.25M394.4 105.8h1.25M393.2 107.0h1.25M403.2 107.0h1.25M389.4 108.2h1.25M394.4 108.2h1.25M396.9 108.2h1.25M408.2 108.2h3.75M393.2 109.5h1.25M386.9 110.8h1.25M391.9 110.8h1.25M394.4 110.8h1.25M406.9 110.8h1.25M411.9 110.8h1.25M385.7 113.2h1.25M389.4 113.2h2.50M395.7 113.2h1.25M408.2 113.2h1.25M385.7 114.5h1.25M388.2 114.5h1.25M393.2 114.5h1.25M401.9 114.5h1.25M404.4 114.5h6.25M383.2 115.8h1.25M388.2 115.8h2.50M398.2 115.8h3.75M408.2 115.8h1.25M413.2 115.8h2.50M391.9 117.0h1.25M395.7 117.0h1.25M413.2 117.0h2.50M388.2 118.2h1.25M394.4 118.2h2.50M404.4 118.2h1.25M410.7 118.2h1.25M389.4 119.5h2.50M404.4 119.5h5.00M410.7 119.5h1.25M385.7 120.8h5.00M409.4 120.8h2.50M384.4 122.0h5.00M391.9 122.0h1.25M401.9 122.0h3.75M411.9 122.0h2.50M385.7 123.2h1.25M389.4 123.2h1.25M396.9 123.2h1.25M404.4 123.2h1.25M411.9 123.2h2.50M386.9 124.5h1.25M380.7 125.8h1.25M389.4 125.8h1.25M391.9 125.8h1.25M394.4 125.8h1.25M380.7 127.0h1.25M386.9 127.0h1.25M393.2 127.0h1.25M405.7 127.0h2.50M384.4 128.2h1.25M388.2 128.2h3.75M398.2 128.2h1.25M401.9 128.2h1.25M404.4 128.2h1.25M406.9 128.2h1.25M411.9 128.2h1.25M383.2 129.5h2.50M400.7 129.5h1.25M410.7 129.5h1.25M388.2 130.8h2.50M376.9 132.0h1.25M395.7 132.0h2.50M380.7 133.2h1.25M389.4 133.2h2.50M398.2 133.2h1.25M403.2 133.2h1.25M379.4 134.5h1.25M388.2 134.5h2.50M394.4 134.5h1.25M398.2 134.5h2.50M379.4 135.8h2.50M391.9 135.8h2.50M398.2 135.8h3.75M404.4 135.8h1.25M383.2 137.0h1.25M386.9 137.0h1.25M396.9 137.0h3.75M403.2 137.0h5.00M381.9 138.2h1.25M384.4 138.2h1.25M393.2 138.2h1.25M396.9 138.2h2.50M403.2 138.2h2.50M380.7 139.5h1.25M383.2 139.5h3.75M391.9 139.5h3.75M396.9 139.5h1.25M400.7 139.5h1.25M404.4 139.5h1.25M385.7 140.8h2.50M394.4 140.8h1.25M401.9 140.8h1.25M381.9 142.0h1.25M380.7 143.2h1.25M395.7 143.2h1.25M398.2 143.2h1.25M398.2 144.5h1.25M386.9 145.8h1.25M394.4 145.8h1.25M384.4 147.0h2.50M386.9 148.2h2.50M376.9 134.5v2.50M378.2 125.8v2.50M378.2 129.5v2.50M378.2 140.8v1.25M379.4 140.8v1.25M380.7 119.5v1.25M380.7 123.2v1.25M381.9 118.2v1.25M381.9 124.5v1.25M381.9 127.0v2.50M383.2 114.5v1.25M383.2 118.2v3.75M383.2 129.5v1.25M383.2 142.0v1.25M384.4 124.5v3.75M384.4 137.0v1.25M384.4 143.2v1.25M385.7 113.2v1.25M385.7 118.2v2.50M385.7 128.2v1.25M385.7 137.0v1.25M385.7 140.8v3.75M386.9 123.2v1.25M386.9 125.8v1.25M386.9 134.5v1.25M386.9 140.8v2.50M388.2 113.2v1.25M388.2 120.8v3.75M388.2 127.0v1.25M388.2 135.8v1.25M388.2 138.2v2.50M389.4 118.2v1.25M389.4 122.0v1.25M389.4 138.2v1.25M389.4 147.0v1.25M390.7 115.8v1.25M390.7 135.8v1.25M390.7 143.2v3.75M391.9 107.0v3.75M391.9 119.5v5.00M391.9 125.8v1.25M391.9 128.2v1.25M391.9 133.2v2.50M393.2 115.8v1.25M393.2 122.0v1.25M393.2 125.8v1.25M394.4 115.8v7.50M394.4 130.8v2.50M394.4 138.2v2.50M395.7 108.2v2.50M395.7 112.0v1.25M395.7 115.8v1.25M395.7 133.2v1.25M395.7 135.8v3.75M395.7 143.2v2.50M396.9 114.5v2.50M396.9 139.5v2.50M398.2 132.0v1.25M398.2 137.0v2.50M398.2 142.0v1.25M399.4 108.2v1.25M399.4 119.5v1.25M399.4 133.2v5.00M399.4 143.2v1.25M400.7 103.2v1.25M400.7 120.8v1.25M400.7 128.2v3.75M400.7 133.2v1.25M401.9 114.5v1.25M401.9 118.2v2.50M401.9 123.2v1.25M401.9 135.8v1.25M401.9 142.0v1.25M403.2 107.0v1.25M403.2 109.5v3.75M403.2 117.0v1.25M403.2 119.5v1.25M403.2 124.5v3.75M403.2 138.2v2.50M404.4 103.2v1.25M404.4 107.0v1.25M404.4 110.8v1.25M404.4 114.5v1.25M404.4 123.2v1.25M404.4 128.2v1.25M404.4 138.2v1.25M405.7 108.2v2.50M405.7 119.5v2.50M405.7 123.2v1.25M405.7 127.0v1.25M405.7 130.8v5.00M405.7 138.2v1.25M406.9 110.8v1.25M406.9 129.5v5.00M408.2 107.0v3.75M408.2 125.8v1.25M408.2 128.2v1.25M408.2 133.2v1.25M409.4 107.0v2.50M409.4 112.0v1.25M409.4 115.8v1.25M409.4 119.5v1.25M409.4 130.8v1.25M410.7 104.5v1.25M410.7 110.8v1.25M410.7 114.5v1.25M410.7 119.5v10.00M411.9 107.0v1.25M411.9 109.5v1.25M411.9 128.2v1.25M413.2 118.2v2.50M413.2 125.8v2.50" fill="none" stroke="#888" stroke-width="0.5" stroke-linecap="square"/>
<rect x="422.2" y="94.5" width="46.8" height="61" fill="#0a0606" />
<path d="M445.9 103.2h1.25M449.7 103.2h1.25M433.4 110.8h1.25M434.7 114.5h1.25M443.4 114.5h1.25M437.2 115.8h2.50M444.7 115.8h1.25M452.2 115.8h1.25M460.9 115.8h1.25M438.4 117.0h3.75M454.7 117.0h1.25M454.7 118.2h1.25M458.4 118.2h2.50M442.2 119.5h1.25M439.7 120.8h6.25M433.4 122.0h1.25M458.4 122.0h1.25M439.7 123.2h1.25M443.4 124.5h1.25M433.4 127.0h1.25M438.4 127.0h1.25M462.2 128.2h1.25M434.7 130.8h1.25M435.9 132.0h3.75M459.7 132.0h2.50M439.7 133.2h3.75M440.9 134.5h2.50M444.7 135.8h3.75M455.9 135.8h1.25M434.7 114.5v2.50M435.9 130.8v1.25M437.2 122.0v1.25M439.7 118.2v1.25M440.9 109.5v5.00M440.9 123.2v2.50M440.9 134.5v1.25M442.2 108.2v3.75M443.4 125.8v1.25M443.4 137.0v1.25M444.7 103.2v2.50M445.9 102.0v1.25M445.9 112.0v1.25M445.9 132.0v7.50M447.2 132.0v2.50M450.9 105.8v1.25M450.9 110.8v1.25M450.9 124.5v1.25M452.2 105.8v1.25M452.2 110.8v1.25M452.2 113.2v1.25M452.2 122.0v1.25M452.2 134.5v1.25M453.4 123.2v1.25M454.7 117.0v1.25M457.2 117.0v2.50M458.4 119.5v1.25M458.4 122.0v1.25M459.7 133.2v3.75M460.9 119.5v3.75M462.2 115.8v1.25M462.2 127.0v1.25M463.4 128.2v1.25" fill="none" stroke="#fff" stroke-width="0.6" stroke-linecap="square"/>
<rect x="476.1" y="94.5" width="46.9" height="61" fill="#0a0606" />
<path d="M497.4 104.5h1.25M509.9 105.8h1.25M489.9 109.5h1.25M508.6 110.8h1.25M486.1 112.0h2.50M511.1 112.0h1.25M484.9 113.2h2.50M513.6 113.2h1.25M494.9 114.5h1.25M499.9 114.5h1.25M508.6 114.5h1.25M483.6 115.8h1.25M494.9 115.8h1.25M482.4 117.0h1.25M489.9 118.2h1.25M496.1 118.2h1.25M508.6 119.5h1.25M489.9 120.8h1.25M491.1 122.0h1.25M489.9 123.2h1.25M497.4 124.5h2.50M508.6 124.5h1.25M486.1 125.8h1.25M489.9 125.8h1.25M494.9 125.8h1.25M508.6 125.8h1.25M478.6 127.0h3.75M503.6 127.0h1.25M499.9 129.5h1.25M506.1 129.5h1.25M498.6 133.2h2.50M493.6 134.5h1.25M502.4 134.5h1.25M498.6 135.8h5.00M484.9 138.2h2.50M498.6 140.8h1.25M484.9 143.2h1.25M484.9 144.5h1.25M492.4 145.8h8.75M478.6 127.0v2.50M479.9 122.0v1.25M481.1 138.2v1.25M482.4 115.8v1.25M482.4 138.2v1.25M483.6 119.5v1.25M483.6 127.0v2.50M484.9 128.2v1.25M484.9 143.2v1.25M486.1 133.2v2.50M486.1 143.2v1.25M487.4 135.8v2.50M489.9 109.5v1.25M489.9 123.2v1.25M492.4 112.0v1.25M492.4 142.0v3.75M493.6 134.5v2.50M494.9 127.0v1.25M494.9 135.8v1.25M496.1 103.2v3.75M496.1 113.2v1.25M496.1 129.5v1.25M497.4 117.0v1.25M497.4 130.8v1.25M497.4 135.8v6.25M499.9 105.8v2.50M501.1 127.0v2.50M501.1 143.2v2.50M503.6 120.8v1.25M503.6 125.8v1.25M504.9 115.8v2.50M504.9 127.0v1.25M506.1 138.2v3.75M507.4 115.8v1.25M507.4 122.0v3.75M507.4 137.0v1.25M508.6 108.2v2.50M508.6 119.5v2.50M509.9 112.0v2.50M509.9 119.5v5.00M511.1 109.5v2.50M512.4 127.0v2.50M513.6 123.2v3.75" fill="none" stroke="#fff" stroke-width="0.6" stroke-linecap="square"/>
<rect x="527.3" y="94.5" width="46.7" height="61" fill="#0a0606" />
<path d="M551.0 108.2h1.25M551.0 109.5h1.25M549.8 112.0h1.25M553.5 112.0h5.00M541.0 113.2h1.25M557.3 114.5h1.25M552.3 115.8h5.00M551.0 117.0h1.25M539.8 119.5h1.25M542.3 119.5h1.25M549.8 119.5h1.25M551.0 120.8h1.25M561.0 120.8h3.75M541.0 122.0h2.50M561.0 123.2h3.75M538.5 125.8h1.25M547.3 125.8h5.00M539.8 127.0h1.25M546.0 127.0h1.25M533.5 128.2h1.25M539.8 128.2h1.25M548.5 128.2h1.25M538.5 129.5h1.25M546.0 129.5h1.25M551.0 129.5h2.50M537.3 130.8h1.25M548.5 130.8h1.25M533.5 134.5h3.75M547.3 134.5h3.75M533.5 135.8h1.25M537.3 135.8h5.00M549.8 135.8h2.50M554.8 135.8h2.50M553.5 137.0h1.25M549.8 138.2h1.25M556.0 138.2h1.25M557.3 139.5h1.25M558.5 140.8h1.25M541.0 142.0h1.25M544.8 142.0h1.25M556.0 142.0h1.25M546.0 144.5h1.25M552.3 145.8h3.75M547.3 147.0h5.00M551.0 148.2h1.25M544.8 149.5h1.25M534.8 128.2v2.50M534.8 133.2v2.50M534.8 138.2v1.25M536.0 133.2v2.50M537.3 127.0v3.75M537.3 135.8v3.75M538.5 139.5v1.25M541.0 123.2v1.25M541.0 140.8v1.25M542.3 112.0v1.25M542.3 120.8v2.50M542.3 124.5v1.25M542.3 133.2v2.50M542.3 140.8v1.25M543.5 113.2v5.00M543.5 124.5v1.25M543.5 139.5v1.25M544.8 140.8v1.25M544.8 148.2v1.25M546.0 142.0v2.50M546.0 145.8v3.75M547.3 129.5v2.50M547.3 144.5v2.50M548.5 130.8v1.25M549.8 137.0v1.25M551.0 108.2v1.25M551.0 117.0v1.25M551.0 119.5v1.25M551.0 127.0v2.50M551.0 138.2v2.50M552.3 112.0v1.25M552.3 119.5v1.25M552.3 125.8v1.25M552.3 132.0v1.25M552.3 135.8v1.25M552.3 140.8v1.25M552.3 144.5v1.25M553.5 130.8v2.50M554.8 127.0v1.25M556.0 134.5v3.75M557.3 109.5v1.25M557.3 143.2v1.25M558.5 133.2v1.25M558.5 142.0v1.25M559.8 134.5v6.25" fill="none" stroke="#fff" stroke-width="0.6" stroke-linecap="square"/>
<path d="M154.87 114.65 L155.77 113.3 L156.74 112.03 L157.77 110.85 L158.85 109.76 L159.97 108.77 L161.13 107.88 L162.32 107.11 L163.53 106.46 L164.76 105.92 L165.99 105.51 L167.23 105.22 L168.45 105.07 L169.67 105.04 L170.86 105.14 L172.02 105.37 L173.14 105.73 L174.22 106.21 L175.24 106.81 L176.21 107.53 L177.12 108.37 L177.96 109.32 L178.73 110.36 L179.41 111.51 L180.02 112.74 L180.54 114.06 L180.96 115.44 L181.3 116.9 L181.54 118.41 L181.69 119.97 L181.74 121.56 L181.69 123.18 L181.54 124.82" fill="none" stroke="#fff" stroke-width="0.75" stroke-dasharray="3.5 1.6"/>
<rect x="225.5" y="149.2" width="9" height="1.6" fill="#fff" />
<rect x="560.8" y="149.6" width="9.6" height="1.6" fill="#fff" />
<rect x="11.3" y="32.4" width="23.4" height="61.9" fill="#fff" stroke="#111" stroke-width="1.1" />
<rect x="15.4" y="34.1" width="5.3" height="55.1" fill="url(#fireg)"/>
<text x="21.7" y="38.6" font-size="4.6" text-anchor="start" fill="#777" >255</text>
<text x="21.7" y="52.1" font-size="4.6" text-anchor="start" fill="#777" >191</text>
<text x="21.7" y="65.7" font-size="4.6" text-anchor="start" fill="#777" >128</text>
<text x="21.7" y="79.6" font-size="4.6" text-anchor="start" fill="#777" >64</text>
<text x="21.7" y="93.3" font-size="4.6" text-anchor="start" fill="#777" >0</text>
<rect x="347" y="32.4" width="23.4" height="61.9" fill="#fff" stroke="#111" stroke-width="1.1" />
<rect x="351.1" y="34.1" width="5.3" height="55.1" fill="url(#fireg)"/>
<text x="357.4" y="38.6" font-size="4.6" text-anchor="start" fill="#777" >255</text>
<text x="357.4" y="52.1" font-size="4.6" text-anchor="start" fill="#777" >191</text>
<text x="357.4" y="65.7" font-size="4.6" text-anchor="start" fill="#777" >128</text>
<text x="357.4" y="79.6" font-size="4.6" text-anchor="start" fill="#777" >64</text>
<text x="357.4" y="93.3" font-size="4.6" text-anchor="start" fill="#777" >0</text>
<text x="4.4" y="11.3" font-size="14.6" text-anchor="start" fill="#000" >a</text>
<text x="345.3" y="11.3" font-size="14.6" text-anchor="start" fill="#000" >b</text>
<text x="109" y="10.4" font-size="10.8" text-anchor="middle" fill="#000" >Force (+)</text>
<text x="215" y="10.4" font-size="10.8" text-anchor="middle" fill="#000" >Force (-)</text>
<text x="445" y="10.4" font-size="10.8" text-anchor="middle" fill="#000" >Force (+)</text>
<text x="549.2" y="10.4" font-size="10.8" text-anchor="middle" fill="#000" >Force (-)</text>
<line x1="87" y1="16.8" x2="131.5" y2="16.8" stroke="#000" stroke-width="1.4" />
<line x1="192" y1="16.8" x2="237.5" y2="16.8" stroke="#000" stroke-width="1.4" />
<line x1="422.6" y1="16.8" x2="465.5" y2="16.8" stroke="#000" stroke-width="1.4" />
<line x1="527" y1="16.8" x2="571" y2="16.8" stroke="#000" stroke-width="1.4" />
<text x="57.2" y="29.3" font-size="10.8" text-anchor="middle" fill="#000" >Senescent</text>
<text x="109.8" y="29.3" font-size="10.8" text-anchor="middle" fill="#000" >S+stretch</text>
<text x="165" y="29.3" font-size="10.8" text-anchor="middle" fill="#000" >Young</text>
<text x="215.6" y="29.3" font-size="10.8" text-anchor="middle" fill="#000" >Y + soft</text>
<text x="393.8" y="29.3" font-size="10.8" text-anchor="middle" fill="#000" >Senescent</text>
<text x="446.3" y="29.3" font-size="10.8" text-anchor="middle" fill="#000" >S+calyc</text>
<text x="498.2" y="29.3" font-size="10.8" text-anchor="middle" fill="#000" >Young</text>
<text x="550.3" y="29.3" font-size="10.8" text-anchor="middle" fill="#000" >Y +blebb</text>
<text x="31" y="126" font-size="10.2" text-anchor="middle" fill="#000" transform="rotate(-90 31.0 126)">EdgeDen</text>
<text x="366" y="124.5" font-size="10.2" text-anchor="middle" fill="#000" transform="rotate(-90 366.0 124.5)">EdgeDen</text>
<line x1="276.6" y1="48.8" x2="276.6" y2="100" stroke="#000" stroke-width="1.5" />
<line x1="276.6" y1="100" x2="328.5" y2="100" stroke="#000" stroke-width="1.5" />
<line x1="274.1" y1="100" x2="276.6" y2="100" stroke="#000" stroke-width="1.1" />
<text x="271.6" y="102.3" font-size="6.6" text-anchor="end" fill="#222" >0</text>
<line x1="274.1" y1="87.2" x2="276.6" y2="87.2" stroke="#000" stroke-width="1.1" />
<text x="271.6" y="89.5" font-size="6.6" text-anchor="end" fill="#222" >10</text>
<line x1="274.1" y1="74.4" x2="276.6" y2="74.4" stroke="#000" stroke-width="1.1" />
<text x="271.6" y="76.7" font-size="6.6" text-anchor="end" fill="#222" >20</text>
<line x1="274.1" y1="61.6" x2="276.6" y2="61.6" stroke="#000" stroke-width="1.1" />
<text x="271.6" y="63.9" font-size="6.6" text-anchor="end" fill="#222" >30</text>
<line x1="274.1" y1="48.8" x2="276.6" y2="48.8" stroke="#000" stroke-width="1.1" />
<text x="271.6" y="51.1" font-size="6.6" text-anchor="end" fill="#222" >40</text>
<line x1="284.7" y1="100" x2="284.7" y2="103.2" stroke="#000" stroke-width="1.5" />
<line x1="296.7" y1="100" x2="296.7" y2="103.2" stroke="#000" stroke-width="1.5" />
<line x1="308.5" y1="100" x2="308.5" y2="103.2" stroke="#000" stroke-width="1.5" />
<line x1="320.4" y1="100" x2="320.4" y2="103.2" stroke="#000" stroke-width="1.5" />
<circle cx="285.72" cy="61.9" r="1.25" fill="#c966c0" fill-opacity="0.8"/>
<circle cx="282.02" cy="59.08" r="1.25" fill="#c966c0" fill-opacity="0.8"/>
<circle cx="282.26" cy="64.38" r="1.25" fill="#c966c0" fill-opacity="0.8"/>
<circle cx="284.75" cy="61.74" r="1.25" fill="#c966c0" fill-opacity="0.8"/>
<circle cx="282.41" cy="57.14" r="1.25" fill="#c966c0" fill-opacity="0.8"/>
<circle cx="281.94" cy="60.04" r="1.25" fill="#c966c0" fill-opacity="0.8"/>
<circle cx="283.12" cy="67.09" r="1.25" fill="#c966c0" fill-opacity="0.8"/>
<circle cx="283.13" cy="57.81" r="1.25" fill="#c966c0" fill-opacity="0.8"/>
<circle cx="285.02" cy="67.18" r="1.25" fill="#c966c0" fill-opacity="0.8"/>
<circle cx="284.28" cy="67.38" r="1.25" fill="#c966c0" fill-opacity="0.8"/>
<circle cx="287.08" cy="59.84" r="1.25" fill="#c966c0" fill-opacity="0.8"/>
<circle cx="283.2" cy="61.13" r="1.25" fill="#c966c0" fill-opacity="0.8"/>
<circle cx="283.43" cy="59.82" r="1.25" fill="#c966c0" fill-opacity="0.8"/>
<circle cx="286.75" cy="59.51" r="1.25" fill="#c966c0" fill-opacity="0.8"/>
<circle cx="285.56" cy="58.91" r="1.25" fill="#c966c0" fill-opacity="0.8"/>
<circle cx="284.06" cy="56.56" r="1.25" fill="#c966c0" fill-opacity="0.8"/>
<circle cx="281.8" cy="62.23" r="1.25" fill="#c966c0" fill-opacity="0.8"/>
<circle cx="282.64" cy="61.35" r="1.25" fill="#c966c0" fill-opacity="0.8"/>
<circle cx="283.51" cy="62.61" r="1.25" fill="#c966c0" fill-opacity="0.8"/>
<circle cx="285.17" cy="64.48" r="1.25" fill="#c966c0" fill-opacity="0.8"/>
<circle cx="286.39" cy="63.93" r="1.25" fill="#c966c0" fill-opacity="0.8"/>
<circle cx="286.05" cy="60.06" r="1.25" fill="#c966c0" fill-opacity="0.8"/>
<circle cx="284.88" cy="60.78" r="1.25" fill="#c966c0" fill-opacity="0.8"/>
<circle cx="286.52" cy="56.15" r="1.25" fill="#c966c0" fill-opacity="0.8"/>
<circle cx="288.07" cy="61.35" r="1.25" fill="#c966c0" fill-opacity="0.8"/>
<circle cx="282.51" cy="63.97" r="1.25" fill="#c966c0" fill-opacity="0.8"/>
<circle cx="283.11" cy="66.35" r="1.25" fill="#c966c0" fill-opacity="0.8"/>
<circle cx="284.64" cy="57.91" r="1.25" fill="#c966c0" fill-opacity="0.8"/>
<circle cx="285.92" cy="55.66" r="1.25" fill="#c966c0" fill-opacity="0.8"/>
<circle cx="285.18" cy="59.63" r="1.25" fill="#c966c0" fill-opacity="0.8"/>
<line x1="284.7" y1="58.4" x2="284.7" y2="63.52" stroke="#000" stroke-width="1.2" />
<line x1="282.4" y1="58.4" x2="287" y2="58.4" stroke="#000" stroke-width="1.1" />
<line x1="282.4" y1="63.52" x2="287" y2="63.52" stroke="#000" stroke-width="1.1" />
<line x1="280.9" y1="60.96" x2="288.5" y2="60.96" stroke="#000" stroke-width="1.5" />
<circle cx="297.89" cy="66.17" r="1.25" fill="#e87e7e" fill-opacity="0.8"/>
<circle cx="297.28" cy="69.31" r="1.25" fill="#e87e7e" fill-opacity="0.8"/>
<circle cx="298.56" cy="70.22" r="1.25" fill="#e87e7e" fill-opacity="0.8"/>
<circle cx="299.48" cy="69.1" r="1.25" fill="#e87e7e" fill-opacity="0.8"/>
<circle cx="294.69" cy="71.48" r="1.25" fill="#e87e7e" fill-opacity="0.8"/>
<circle cx="298.06" cy="67.13" r="1.25" fill="#e87e7e" fill-opacity="0.8"/>
<circle cx="297.95" cy="72.48" r="1.25" fill="#e87e7e" fill-opacity="0.8"/>
<circle cx="295.87" cy="72.48" r="1.25" fill="#e87e7e" fill-opacity="0.8"/>
<circle cx="294.22" cy="70.61" r="1.25" fill="#e87e7e" fill-opacity="0.8"/>
<circle cx="296.49" cy="65.24" r="1.25" fill="#e87e7e" fill-opacity="0.8"/>
<circle cx="293.72" cy="67.11" r="1.25" fill="#e87e7e" fill-opacity="0.8"/>
<circle cx="298.42" cy="66.63" r="1.25" fill="#e87e7e" fill-opacity="0.8"/>
<circle cx="296.02" cy="66.42" r="1.25" fill="#e87e7e" fill-opacity="0.8"/>
<circle cx="299.01" cy="66.34" r="1.25" fill="#e87e7e" fill-opacity="0.8"/>
<circle cx="296.97" cy="65.3" r="1.25" fill="#e87e7e" fill-opacity="0.8"/>
<circle cx="299.09" cy="66.39" r="1.25" fill="#e87e7e" fill-opacity="0.8"/>
<circle cx="295.44" cy="65.59" r="1.25" fill="#e87e7e" fill-opacity="0.8"/>
<circle cx="296.37" cy="72.38" r="1.25" fill="#e87e7e" fill-opacity="0.8"/>
<circle cx="298.92" cy="71.1" r="1.25" fill="#e87e7e" fill-opacity="0.8"/>
<circle cx="295.2" cy="63.62" r="1.25" fill="#e87e7e" fill-opacity="0.8"/>
<circle cx="294.94" cy="66.91" r="1.25" fill="#e87e7e" fill-opacity="0.8"/>
<circle cx="296.61" cy="66.08" r="1.25" fill="#e87e7e" fill-opacity="0.8"/>
<circle cx="293.72" cy="69.44" r="1.25" fill="#e87e7e" fill-opacity="0.8"/>
<circle cx="296.18" cy="68.81" r="1.25" fill="#e87e7e" fill-opacity="0.8"/>
<circle cx="299.24" cy="70" r="1.25" fill="#e87e7e" fill-opacity="0.8"/>
<circle cx="297.75" cy="65.32" r="1.25" fill="#e87e7e" fill-opacity="0.8"/>
<circle cx="297.53" cy="71.28" r="1.25" fill="#e87e7e" fill-opacity="0.8"/>
<circle cx="293.6" cy="68.09" r="1.25" fill="#e87e7e" fill-opacity="0.8"/>
<circle cx="298.45" cy="64.15" r="1.25" fill="#e87e7e" fill-opacity="0.8"/>
<circle cx="298.29" cy="70.37" r="1.25" fill="#e87e7e" fill-opacity="0.8"/>
<line x1="296.7" y1="65.44" x2="296.7" y2="70.05" stroke="#000" stroke-width="1.2" />
<line x1="294.4" y1="65.44" x2="299" y2="65.44" stroke="#000" stroke-width="1.1" />
<line x1="294.4" y1="70.05" x2="299" y2="70.05" stroke="#000" stroke-width="1.1" />
<line x1="292.9" y1="67.74" x2="300.5" y2="67.74" stroke="#000" stroke-width="1.5" />
<circle cx="306.21" cy="87.28" r="1.25" fill="#6d7fc2" fill-opacity="0.8"/>
<circle cx="309.31" cy="82.52" r="1.25" fill="#6d7fc2" fill-opacity="0.8"/>
<circle cx="306.58" cy="83.48" r="1.25" fill="#6d7fc2" fill-opacity="0.8"/>
<circle cx="306.16" cy="84.16" r="1.25" fill="#6d7fc2" fill-opacity="0.8"/>
<circle cx="305.06" cy="85.23" r="1.25" fill="#6d7fc2" fill-opacity="0.8"/>
<circle cx="306.16" cy="83.71" r="1.25" fill="#6d7fc2" fill-opacity="0.8"/>
<circle cx="305.74" cy="82.07" r="1.25" fill="#6d7fc2" fill-opacity="0.8"/>
<circle cx="310.81" cy="82.74" r="1.25" fill="#6d7fc2" fill-opacity="0.8"/>
<circle cx="306.91" cy="86.08" r="1.25" fill="#6d7fc2" fill-opacity="0.8"/>
<circle cx="307.5" cy="85.89" r="1.25" fill="#6d7fc2" fill-opacity="0.8"/>
<circle cx="310.8" cy="85.77" r="1.25" fill="#6d7fc2" fill-opacity="0.8"/>
<circle cx="311.71" cy="83.34" r="1.25" fill="#6d7fc2" fill-opacity="0.8"/>
<circle cx="306.36" cy="88.42" r="1.25" fill="#6d7fc2" fill-opacity="0.8"/>
<circle cx="305.81" cy="83.82" r="1.25" fill="#6d7fc2" fill-opacity="0.8"/>
<circle cx="310.61" cy="86.09" r="1.25" fill="#6d7fc2" fill-opacity="0.8"/>
<circle cx="306.46" cy="82.44" r="1.25" fill="#6d7fc2" fill-opacity="0.8"/>
<circle cx="308.58" cy="76.48" r="1.25" fill="#6d7fc2" fill-opacity="0.8"/>
<circle cx="306.18" cy="83.45" r="1.25" fill="#6d7fc2" fill-opacity="0.8"/>
<circle cx="308.69" cy="85.4" r="1.25" fill="#6d7fc2" fill-opacity="0.8"/>
<circle cx="311.89" cy="84.85" r="1.25" fill="#6d7fc2" fill-opacity="0.8"/>
<circle cx="307.21" cy="81.25" r="1.25" fill="#6d7fc2" fill-opacity="0.8"/>
<circle cx="307.81" cy="88.48" r="1.25" fill="#6d7fc2" fill-opacity="0.8"/>
<circle cx="308.68" cy="81.76" r="1.25" fill="#6d7fc2" fill-opacity="0.8"/>
<circle cx="309.76" cy="79.63" r="1.25" fill="#6d7fc2" fill-opacity="0.8"/>
<circle cx="310.55" cy="85.79" r="1.25" fill="#6d7fc2" fill-opacity="0.8"/>
<circle cx="311.45" cy="82.55" r="1.25" fill="#6d7fc2" fill-opacity="0.8"/>
<circle cx="310.17" cy="80.98" r="1.25" fill="#6d7fc2" fill-opacity="0.8"/>
<circle cx="309.73" cy="88.48" r="1.25" fill="#6d7fc2" fill-opacity="0.8"/>
<circle cx="307.51" cy="84.05" r="1.25" fill="#6d7fc2" fill-opacity="0.8"/>
<circle cx="306.12" cy="80.63" r="1.25" fill="#6d7fc2" fill-opacity="0.8"/>
<line x1="308.5" y1="81.18" x2="308.5" y2="88.1" stroke="#000" stroke-width="1.2" />
<line x1="306.2" y1="81.18" x2="310.8" y2="81.18" stroke="#000" stroke-width="1.1" />
<line x1="306.2" y1="88.1" x2="310.8" y2="88.1" stroke="#000" stroke-width="1.1" />
<line x1="304.7" y1="84.64" x2="312.3" y2="84.64" stroke="#000" stroke-width="1.5" />
<circle cx="319.01" cy="67.76" r="1.25" fill="#9b6fd0" fill-opacity="0.8"/>
<circle cx="321.74" cy="70.48" r="1.25" fill="#9b6fd0" fill-opacity="0.8"/>
<circle cx="322.72" cy="66.71" r="1.25" fill="#9b6fd0" fill-opacity="0.8"/>
<circle cx="323.66" cy="72.29" r="1.25" fill="#9b6fd0" fill-opacity="0.8"/>
<circle cx="318.85" cy="67.27" r="1.25" fill="#9b6fd0" fill-opacity="0.8"/>
<circle cx="318.56" cy="72.18" r="1.25" fill="#9b6fd0" fill-opacity="0.8"/>
<circle cx="321.24" cy="70.15" r="1.25" fill="#9b6fd0" fill-opacity="0.8"/>
<circle cx="322.82" cy="68.42" r="1.25" fill="#9b6fd0" fill-opacity="0.8"/>
<circle cx="321.33" cy="68.51" r="1.25" fill="#9b6fd0" fill-opacity="0.8"/>
<circle cx="322.04" cy="75.08" r="1.25" fill="#9b6fd0" fill-opacity="0.8"/>
<circle cx="322.42" cy="65.8" r="1.25" fill="#9b6fd0" fill-opacity="0.8"/>
<circle cx="322.05" cy="67.97" r="1.25" fill="#9b6fd0" fill-opacity="0.8"/>
<circle cx="318.09" cy="71.07" r="1.25" fill="#9b6fd0" fill-opacity="0.8"/>
<circle cx="321.89" cy="75.82" r="1.25" fill="#9b6fd0" fill-opacity="0.8"/>
<circle cx="323.04" cy="74.78" r="1.25" fill="#9b6fd0" fill-opacity="0.8"/>
<circle cx="319.94" cy="64.58" r="1.25" fill="#9b6fd0" fill-opacity="0.8"/>
<circle cx="321.38" cy="77.6" r="1.25" fill="#9b6fd0" fill-opacity="0.8"/>
<circle cx="318.86" cy="65.22" r="1.25" fill="#9b6fd0" fill-opacity="0.8"/>
<circle cx="323.02" cy="69.41" r="1.25" fill="#9b6fd0" fill-opacity="0.8"/>
<circle cx="322.38" cy="69.37" r="1.25" fill="#9b6fd0" fill-opacity="0.8"/>
<circle cx="322.88" cy="66.35" r="1.25" fill="#9b6fd0" fill-opacity="0.8"/>
<circle cx="321.11" cy="64.88" r="1.25" fill="#9b6fd0" fill-opacity="0.8"/>
<circle cx="318.24" cy="74.17" r="1.25" fill="#9b6fd0" fill-opacity="0.8"/>
<circle cx="317.79" cy="66.83" r="1.25" fill="#9b6fd0" fill-opacity="0.8"/>
<circle cx="320.52" cy="65.15" r="1.25" fill="#9b6fd0" fill-opacity="0.8"/>
<circle cx="323.32" cy="72.17" r="1.25" fill="#9b6fd0" fill-opacity="0.8"/>
<circle cx="321.83" cy="77.6" r="1.25" fill="#9b6fd0" fill-opacity="0.8"/>
<circle cx="318.75" cy="67.67" r="1.25" fill="#9b6fd0" fill-opacity="0.8"/>
<circle cx="318.54" cy="71.11" r="1.25" fill="#9b6fd0" fill-opacity="0.8"/>
<circle cx="320.89" cy="67.61" r="1.25" fill="#9b6fd0" fill-opacity="0.8"/>
<line x1="320.4" y1="67.36" x2="320.4" y2="74.78" stroke="#000" stroke-width="1.2" />
<line x1="318.1" y1="67.36" x2="322.7" y2="67.36" stroke="#000" stroke-width="1.1" />
<line x1="318.1" y1="74.78" x2="322.7" y2="74.78" stroke="#000" stroke-width="1.1" />
<line x1="316.6" y1="71.07" x2="324.2" y2="71.07" stroke="#000" stroke-width="1.5" />
<rect x="281.6" y="37.7" width="29.9" height="2.6" fill="#000" />
<text x="296.5" y="34.4" font-size="5.6" text-anchor="middle" fill="#444" >&lt;0.0001</text>
<rect x="285" y="51" width="15" height="2.6" fill="#000" />
<text x="293.5" y="47.7" font-size="5.6" text-anchor="middle" fill="#444" >&lt;0.0001</text>
<rect x="307" y="57.1" width="13.6" height="2.6" fill="#000" />
<text x="315" y="53.8" font-size="5.6" text-anchor="middle" fill="#444" >&lt;0.0001</text>
<text x="259" y="75.6" font-size="11.4" text-anchor="middle" transform="rotate(-90 259 75.6)">CCP(%)</text>
<text x="286.8" y="108.8" font-size="11" text-anchor="end" transform="rotate(-45 286.8 108.8)">Senescent</text>
<text x="299.4" y="109.6" font-size="11" text-anchor="end" transform="rotate(-45 299.4 109.6)">Force+</text>
<text x="312.2" y="111.4" font-size="11" text-anchor="end" transform="rotate(-45 312.2 111.4)">Young</text>
<text x="324.7" y="111.8" font-size="11" text-anchor="end" transform="rotate(-45 324.7 111.8)">Force-</text>
<line x1="612.2" y1="48.4" x2="612.2" y2="99.7" stroke="#000" stroke-width="1.5" />
<line x1="612.2" y1="99.7" x2="664" y2="99.7" stroke="#000" stroke-width="1.5" />
<line x1="609.7" y1="99.7" x2="612.2" y2="99.7" stroke="#000" stroke-width="1.1" />
<text x="607.2" y="102" font-size="6.6" text-anchor="end" fill="#222" >0</text>
<line x1="609.7" y1="86.88" x2="612.2" y2="86.88" stroke="#000" stroke-width="1.1" />
<text x="607.2" y="89.17" font-size="6.6" text-anchor="end" fill="#222" >2</text>
<line x1="609.7" y1="74.05" x2="612.2" y2="74.05" stroke="#000" stroke-width="1.1" />
<text x="607.2" y="76.35" font-size="6.6" text-anchor="end" fill="#222" >4</text>
<line x1="609.7" y1="61.23" x2="612.2" y2="61.23" stroke="#000" stroke-width="1.1" />
<text x="607.2" y="63.52" font-size="6.6" text-anchor="end" fill="#222" >6</text>
<line x1="609.7" y1="48.4" x2="612.2" y2="48.4" stroke="#000" stroke-width="1.1" />
<text x="607.2" y="50.7" font-size="6.6" text-anchor="end" fill="#222" >8</text>
<line x1="620.2" y1="99.7" x2="620.2" y2="102.9" stroke="#000" stroke-width="1.5" />
<line x1="631.8" y1="99.7" x2="631.8" y2="102.9" stroke="#000" stroke-width="1.5" />
<line x1="643.6" y1="99.7" x2="643.6" y2="102.9" stroke="#000" stroke-width="1.5" />
<line x1="655.4" y1="99.7" x2="655.4" y2="102.9" stroke="#000" stroke-width="1.5" />
<circle cx="617.58" cy="62.72" r="1.25" fill="#d07ac8" fill-opacity="0.8"/>
<circle cx="622.38" cy="58.84" r="1.25" fill="#d07ac8" fill-opacity="0.8"/>
<circle cx="620.7" cy="64.88" r="1.25" fill="#d07ac8" fill-opacity="0.8"/>
<circle cx="622.47" cy="59.4" r="1.25" fill="#d07ac8" fill-opacity="0.8"/>
<circle cx="620.21" cy="69.43" r="1.25" fill="#d07ac8" fill-opacity="0.8"/>
<circle cx="620.37" cy="58.74" r="1.25" fill="#d07ac8" fill-opacity="0.8"/>
<circle cx="619.79" cy="63.19" r="1.25" fill="#d07ac8" fill-opacity="0.8"/>
<circle cx="617.93" cy="62.61" r="1.25" fill="#d07ac8" fill-opacity="0.8"/>
<circle cx="618.7" cy="57.38" r="1.25" fill="#d07ac8" fill-opacity="0.8"/>
<circle cx="620.01" cy="62.35" r="1.25" fill="#d07ac8" fill-opacity="0.8"/>
<circle cx="619.01" cy="63.21" r="1.25" fill="#d07ac8" fill-opacity="0.8"/>
<circle cx="620.29" cy="66.95" r="1.25" fill="#d07ac8" fill-opacity="0.8"/>
<circle cx="618.53" cy="68.31" r="1.25" fill="#d07ac8" fill-opacity="0.8"/>
<circle cx="620.57" cy="64.62" r="1.25" fill="#d07ac8" fill-opacity="0.8"/>
<circle cx="622.16" cy="62.48" r="1.25" fill="#d07ac8" fill-opacity="0.8"/>
<circle cx="620.24" cy="59.67" r="1.25" fill="#d07ac8" fill-opacity="0.8"/>
<circle cx="622.01" cy="68.02" r="1.25" fill="#d07ac8" fill-opacity="0.8"/>
<circle cx="619.86" cy="64.76" r="1.25" fill="#d07ac8" fill-opacity="0.8"/>
<circle cx="620.27" cy="65.69" r="1.25" fill="#d07ac8" fill-opacity="0.8"/>
<circle cx="621.32" cy="65.23" r="1.25" fill="#d07ac8" fill-opacity="0.8"/>
<circle cx="620.09" cy="66.67" r="1.25" fill="#d07ac8" fill-opacity="0.8"/>
<circle cx="623.09" cy="61.22" r="1.25" fill="#d07ac8" fill-opacity="0.8"/>
<line x1="620.2" y1="59.3" x2="620.2" y2="65.71" stroke="#000" stroke-width="1.2" />
<line x1="617.9" y1="59.3" x2="622.5" y2="59.3" stroke="#000" stroke-width="1.1" />
<line x1="617.9" y1="65.71" x2="622.5" y2="65.71" stroke="#000" stroke-width="1.1" />
<line x1="616.4" y1="62.51" x2="624" y2="62.51" stroke="#000" stroke-width="1.5" />
<circle cx="634.47" cy="81.06" r="1.25" fill="#e88a82" fill-opacity="0.8"/>
<circle cx="630.65" cy="82.39" r="1.25" fill="#e88a82" fill-opacity="0.8"/>
<circle cx="633.43" cy="82.39" r="1.25" fill="#e88a82" fill-opacity="0.8"/>
<circle cx="629.76" cy="81.5" r="1.25" fill="#e88a82" fill-opacity="0.8"/>
<circle cx="629.32" cy="78.32" r="1.25" fill="#e88a82" fill-opacity="0.8"/>
<circle cx="630.28" cy="78.38" r="1.25" fill="#e88a82" fill-opacity="0.8"/>
<circle cx="633.16" cy="77.26" r="1.25" fill="#e88a82" fill-opacity="0.8"/>
<circle cx="634.19" cy="78.55" r="1.25" fill="#e88a82" fill-opacity="0.8"/>
<circle cx="632.7" cy="78.1" r="1.25" fill="#e88a82" fill-opacity="0.8"/>
<circle cx="630.07" cy="77.3" r="1.25" fill="#e88a82" fill-opacity="0.8"/>
<circle cx="630.76" cy="76.09" r="1.25" fill="#e88a82" fill-opacity="0.8"/>
<circle cx="633.97" cy="82.39" r="1.25" fill="#e88a82" fill-opacity="0.8"/>
<circle cx="634.51" cy="81.61" r="1.25" fill="#e88a82" fill-opacity="0.8"/>
<circle cx="633.78" cy="78.49" r="1.25" fill="#e88a82" fill-opacity="0.8"/>
<circle cx="631.9" cy="78.74" r="1.25" fill="#e88a82" fill-opacity="0.8"/>
<circle cx="630.9" cy="78.08" r="1.25" fill="#e88a82" fill-opacity="0.8"/>
<circle cx="633.28" cy="79.26" r="1.25" fill="#e88a82" fill-opacity="0.8"/>
<circle cx="629.05" cy="78.23" r="1.25" fill="#e88a82" fill-opacity="0.8"/>
<line x1="631.8" y1="77.9" x2="631.8" y2="81.75" stroke="#000" stroke-width="1.2" />
<line x1="629.5" y1="77.9" x2="634.1" y2="77.9" stroke="#000" stroke-width="1.1" />
<line x1="629.5" y1="81.75" x2="634.1" y2="81.75" stroke="#000" stroke-width="1.1" />
<line x1="628" y1="79.82" x2="635.6" y2="79.82" stroke="#000" stroke-width="1.5" />
<circle cx="641.01" cy="88.2" r="1.25" fill="#5a6ab8" fill-opacity="0.8"/>
<circle cx="642.5" cy="86.51" r="1.25" fill="#5a6ab8" fill-opacity="0.8"/>
<circle cx="641.13" cy="87.78" r="1.25" fill="#5a6ab8" fill-opacity="0.8"/>
<circle cx="646.36" cy="87.75" r="1.25" fill="#5a6ab8" fill-opacity="0.8"/>
<circle cx="641.21" cy="83.96" r="1.25" fill="#5a6ab8" fill-opacity="0.8"/>
<circle cx="642.65" cy="90.08" r="1.25" fill="#5a6ab8" fill-opacity="0.8"/>
<circle cx="642.64" cy="81.27" r="1.25" fill="#5a6ab8" fill-opacity="0.8"/>
<circle cx="641.22" cy="84.5" r="1.25" fill="#5a6ab8" fill-opacity="0.8"/>
<circle cx="644.89" cy="90.08" r="1.25" fill="#5a6ab8" fill-opacity="0.8"/>
<circle cx="642.31" cy="82.94" r="1.25" fill="#5a6ab8" fill-opacity="0.8"/>
<circle cx="643.94" cy="82.19" r="1.25" fill="#5a6ab8" fill-opacity="0.8"/>
<circle cx="644.39" cy="80.95" r="1.25" fill="#5a6ab8" fill-opacity="0.8"/>
<circle cx="644.86" cy="84.85" r="1.25" fill="#5a6ab8" fill-opacity="0.8"/>
<circle cx="643.09" cy="85.12" r="1.25" fill="#5a6ab8" fill-opacity="0.8"/>
<circle cx="644.05" cy="80.15" r="1.25" fill="#5a6ab8" fill-opacity="0.8"/>
<circle cx="645.21" cy="82.93" r="1.25" fill="#5a6ab8" fill-opacity="0.8"/>
<circle cx="641.81" cy="81.22" r="1.25" fill="#5a6ab8" fill-opacity="0.8"/>
<circle cx="645.57" cy="83.06" r="1.25" fill="#5a6ab8" fill-opacity="0.8"/>
<line x1="643.6" y1="83.35" x2="643.6" y2="87.84" stroke="#000" stroke-width="1.2" />
<line x1="641.3" y1="83.35" x2="645.9" y2="83.35" stroke="#000" stroke-width="1.1" />
<line x1="641.3" y1="87.84" x2="645.9" y2="87.84" stroke="#000" stroke-width="1.1" />
<line x1="639.8" y1="85.59" x2="647.4" y2="85.59" stroke="#000" stroke-width="1.5" />
<circle cx="655.7" cy="67.79" r="1.25" fill="#9b6fd0" fill-opacity="0.8"/>
<circle cx="658.27" cy="63.43" r="1.25" fill="#9b6fd0" fill-opacity="0.8"/>
<circle cx="655.59" cy="64.66" r="1.25" fill="#9b6fd0" fill-opacity="0.8"/>
<circle cx="653.76" cy="62.42" r="1.25" fill="#9b6fd0" fill-opacity="0.8"/>
<circle cx="652.53" cy="62.67" r="1.25" fill="#9b6fd0" fill-opacity="0.8"/>
<circle cx="653.45" cy="62.98" r="1.25" fill="#9b6fd0" fill-opacity="0.8"/>
<circle cx="657.12" cy="65.68" r="1.25" fill="#9b6fd0" fill-opacity="0.8"/>
<circle cx="654.19" cy="61.39" r="1.25" fill="#9b6fd0" fill-opacity="0.8"/>
<circle cx="654.47" cy="66.84" r="1.25" fill="#9b6fd0" fill-opacity="0.8"/>
<circle cx="651.93" cy="64.43" r="1.25" fill="#9b6fd0" fill-opacity="0.8"/>
<circle cx="657.08" cy="64.43" r="1.25" fill="#9b6fd0" fill-opacity="0.8"/>
<circle cx="655.75" cy="63.75" r="1.25" fill="#9b6fd0" fill-opacity="0.8"/>
<circle cx="658.2" cy="62.81" r="1.25" fill="#9b6fd0" fill-opacity="0.8"/>
<circle cx="653.31" cy="60.38" r="1.25" fill="#9b6fd0" fill-opacity="0.8"/>
<circle cx="655.37" cy="62.71" r="1.25" fill="#9b6fd0" fill-opacity="0.8"/>
<circle cx="657.23" cy="68.15" r="1.25" fill="#9b6fd0" fill-opacity="0.8"/>
<circle cx="656.44" cy="68.01" r="1.25" fill="#9b6fd0" fill-opacity="0.8"/>
<circle cx="658.23" cy="61.58" r="1.25" fill="#9b6fd0" fill-opacity="0.8"/>
<circle cx="656.5" cy="68.43" r="1.25" fill="#9b6fd0" fill-opacity="0.8"/>
<circle cx="655.99" cy="58.36" r="1.25" fill="#9b6fd0" fill-opacity="0.8"/>
<line x1="655.4" y1="60.9" x2="655.4" y2="67.96" stroke="#000" stroke-width="1.2" />
<line x1="653.1" y1="60.9" x2="657.7" y2="60.9" stroke="#000" stroke-width="1.1" />
<line x1="653.1" y1="67.96" x2="657.7" y2="67.96" stroke="#000" stroke-width="1.1" />
<line x1="651.6" y1="64.43" x2="659.2" y2="64.43" stroke="#000" stroke-width="1.5" />
<rect x="617.2" y="35.3" width="24.1" height="2.6" fill="#000" />
<text x="632.4" y="32" font-size="5.6" text-anchor="middle" fill="#444" >&lt;0.0001</text>
<rect x="620.6" y="52.7" width="13.8" height="2.6" fill="#000" />
<text x="631.7" y="49.4" font-size="5.6" text-anchor="middle" fill="#444" >&lt;0.0001</text>
<rect x="643.6" y="52.7" width="12.3" height="2.6" fill="#000" />
<text x="653.1" y="49.4" font-size="5.6" text-anchor="middle" fill="#444" >&lt;0.0001</text>
<text x="596.4" y="75.25" font-size="11.4" text-anchor="middle" transform="rotate(-90 596.4 75.25)">CCP(%)</text>
<text x="622.3" y="108.5" font-size="11" text-anchor="end" transform="rotate(-45 622.3 108.5)">Senescent</text>
<text x="634.5" y="109.3" font-size="11" text-anchor="end" transform="rotate(-45 634.5 109.3)">Force+</text>
<text x="647.3" y="111.1" font-size="11" text-anchor="end" transform="rotate(-45 647.3 111.1)">Young</text>
<text x="659.7" y="111.5" font-size="11" text-anchor="end" transform="rotate(-45 659.7 111.5)">Force-</text>
<text x="4.2" y="172.4" font-size="14.6" text-anchor="start" fill="#000" >c</text>
<polyline clip-path="url(#lpc100)" points="29.6,233.15 30.06,232.93 30.53,233.03 30.99,233.73 31.46,233.63 31.92,233.91 32.39,233.55 32.85,233.9 33.32,233.33 33.78,233.14 34.25,232.42 34.71,232.53 35.18,232.54 35.64,232.96 36.11,233.32 36.57,232.73 37.03,232.89 37.5,232.82 37.96,232.87 38.43,232.71 38.89,233.57 39.36,234.09 39.82,233.51 40.29,232.49 40.75,233.49 41.22,233.61 41.68,233.31 42.15,233.41 42.61,233.37 43.08,233.37 43.54,232.85 44,232.86 44.47,232.8 44.93,233.28 45.4,232.83 45.86,232.14 46.33,232.12 46.79,232.44 47.26,232.96 47.72,232.58 48.19,232.33 48.65,232.41 49.12,233.2 49.58,233.05 50.05,233.03 50.51,232.89 50.97,232.3 51.44,232.38 51.9,232.05 52.37,231.17 52.83,231.36 53.3,231.1 53.76,230.56 54.23,230.6 54.69,230.83 55.16,230.14 55.62,229.33 56.09,229.66 56.55,229.11 57.02,228.61 57.48,227.37 57.94,227.44 58.41,226.65 58.87,226.27 59.34,225.45 59.8,224.1 60.27,222.89 60.73,221.49 61.2,220.18 61.66,218.92 62.13,216.31 62.59,213.48 63.06,211.16 63.52,208.52 63.99,204.69 64.45,200.85 64.91,204.21 65.38,206.85 65.84,209.86 66.31,212.31 66.77,214 67.24,216 67.7,217.21 68.17,218.26 68.63,219.13 69.1,220 69.56,221.55 70.03,222.26 70.49,222.76 70.96,223.02 71.42,223.4 71.88,224.3 72.35,224.99 72.81,225.94 73.28,226.39 73.74,226.94 74.21,227.59 74.67,227.72 75.14,227.41 75.6,227.13 76.07,227.53 76.53,228.02 77,228.23 77.46,228.25 77.93,228.42 78.39,228.63 78.85,229.02 79.32,229.31 79.78,228.56 80.25,228.57 80.71,229.31 81.18,229.15 81.64,229.66 82.11,229.62 82.57,229.92 83.04,229.87 83.5,230.22 83.97,230.4 84.43,230.32 84.9,230.31 85.36,231.31 85.82,230.84 86.29,231.9 86.75,232.36 87.22,232.33 87.68,231.96 88.15,232.01 88.61,232.24 89.08,231.82 89.54,231.96 90.01,232.1 90.47,231.88 90.94,232.35 91.4,231.56 91.87,231.44 92.33,231.87 92.79,232.12 93.26,232.25 93.72,232.12 94.19,232.18 94.65,232.69 95.12,233.1 95.58,232.55 96.05,233.17 96.51,233.35 96.98,232.71 97.44,233.32 97.91,232.94 98.37,232.53 98.84,231.78 99.3,231.75" fill="none" stroke="#2c4170" stroke-width="2.1" stroke-linejoin="round"/>
<rect x="29.6" y="178.7" width="69.7" height="64.6" fill="none" stroke="#3a3232" stroke-width="1.2" />
<line x1="27.4" y1="189.7" x2="29.6" y2="189.7" stroke="#3a3232" stroke-width="1.1" />
<text x="26" y="192.7" font-size="8.6" text-anchor="end" fill="#333" >0.4</text>
<line x1="27.4" y1="206.2" x2="29.6" y2="206.2" stroke="#3a3232" stroke-width="1.1" />
<text x="26" y="209.2" font-size="8.6" text-anchor="end" fill="#333" >0.3</text>
<line x1="27.4" y1="222.7" x2="29.6" y2="222.7" stroke="#3a3232" stroke-width="1.1" />
<text x="26" y="225.7" font-size="8.6" text-anchor="end" fill="#333" >0.2</text>
<line x1="27.4" y1="239.2" x2="29.6" y2="239.2" stroke="#3a3232" stroke-width="1.1" />
<text x="26" y="242.2" font-size="8.6" text-anchor="end" fill="#333" >0.1</text>
<line x1="29.6" y1="243.3" x2="29.6" y2="245.7" stroke="#3a3232" stroke-width="1.1" />
<line x1="64.45" y1="243.3" x2="64.45" y2="245.7" stroke="#3a3232" stroke-width="1.1" />
<line x1="99.3" y1="243.3" x2="99.3" y2="245.7" stroke="#3a3232" stroke-width="1.1" />
<text x="64.45" y="174.1" font-size="12.1" text-anchor="middle" fill="#222" >Senescent-1</text>
<text x="29" y="256.1" font-size="9.4" text-anchor="start" fill="#333" >-3.0</text>
<text x="64.45" y="256.1" font-size="9.4" text-anchor="middle" fill="#333" >TSS</text>
<text x="101.5" y="256.1" font-size="9.4" text-anchor="end" fill="#333" >3.0Kb</text>
<polyline clip-path="url(#lpc101)" points="105.6,233.6 106.06,233.63 106.53,232.73 106.99,233.16 107.46,233.77 107.92,233.5 108.39,233.39 108.85,233.13 109.32,233.35 109.78,232.81 110.25,232.79 110.71,232.07 111.18,232.36 111.64,232.64 112.11,232.38 112.57,232.41 113.03,233.04 113.5,232.82 113.96,233.23 114.43,232.78 114.89,233.16 115.36,233.04 115.82,233.38 116.29,233.16 116.75,232.64 117.22,232.4 117.68,232.91 118.15,233.46 118.61,233.02 119.08,233.26 119.54,233.42 120,232.96 120.47,233.37 120.93,232.85 121.4,232.42 121.86,232.52 122.33,232.9 122.79,232.85 123.26,232.15 123.72,232.19 124.19,231.78 124.65,231.94 125.12,231.96 125.58,231.91 126.05,231.85 126.51,231.69 126.97,231.33 127.44,230.92 127.9,231.1 128.37,231.41 128.83,231.41 129.3,231.41 129.76,231.7 130.23,231.01 130.69,230.74 131.16,229.47 131.62,229.42 132.09,229.52 132.55,228.71 133.02,228.14 133.48,227.22 133.94,226.64 134.41,225.33 134.87,225.12 135.34,224.24 135.8,223.49 136.27,222.53 136.73,221.77 137.2,219.79 137.66,218.64 138.13,216.3 138.59,213.83 139.06,211.16 139.52,208.91 139.99,205.08 140.45,201.48 140.91,204.5 141.38,207.45 141.84,209.12 142.31,211.7 142.77,213.71 143.24,215.23 143.7,217.25 144.17,218.5 144.63,219.52 145.1,220.29 145.56,221.27 146.03,221.34 146.49,221.58 146.96,222.2 147.42,223.24 147.88,223.81 148.35,223.78 148.81,224.04 149.28,224.74 149.74,225.73 150.21,225.81 150.67,226.09 151.14,226.58 151.6,227.02 152.07,227.77 152.53,228.3 153,228.57 153.46,228.19 153.93,228.02 154.39,228.31 154.85,228.36 155.32,227.87 155.78,228.62 156.25,228.9 156.71,229.48 157.18,228.78 157.64,229.35 158.11,229.15 158.57,229.38 159.04,230.13 159.5,230.2 159.97,230.46 160.43,230.58 160.9,230.81 161.36,230.83 161.82,230.9 162.29,231.48 162.75,231.29 163.22,231.78 163.68,232.3 164.15,232.3 164.61,232.51 165.08,232.58 165.54,232.81 166.01,232.25 166.47,231.93 166.94,232.32 167.4,231.85 167.87,232.1 168.33,232.52 168.79,232.88 169.26,232.59 169.72,232.63 170.19,232.53 170.65,231.5 171.12,231.63 171.58,232.1 172.05,232.76 172.51,232.92 172.98,233.13 173.44,233.24 173.91,233.96 174.37,233.48 174.84,233.66 175.3,232.56" fill="none" stroke="#2c4170" stroke-width="2.1" stroke-linejoin="round"/>
<rect x="105.6" y="178.7" width="69.7" height="64.6" fill="none" stroke="#3a3232" stroke-width="1.2" />
<line x1="103.4" y1="189.7" x2="105.6" y2="189.7" stroke="#3a3232" stroke-width="1.1" />
<line x1="103.4" y1="206.2" x2="105.6" y2="206.2" stroke="#3a3232" stroke-width="1.1" />
<line x1="103.4" y1="222.7" x2="105.6" y2="222.7" stroke="#3a3232" stroke-width="1.1" />
<line x1="103.4" y1="239.2" x2="105.6" y2="239.2" stroke="#3a3232" stroke-width="1.1" />
<line x1="105.6" y1="243.3" x2="105.6" y2="245.7" stroke="#3a3232" stroke-width="1.1" />
<line x1="140.45" y1="243.3" x2="140.45" y2="245.7" stroke="#3a3232" stroke-width="1.1" />
<line x1="175.3" y1="243.3" x2="175.3" y2="245.7" stroke="#3a3232" stroke-width="1.1" />
<text x="140.45" y="174.1" font-size="12.1" text-anchor="middle" fill="#222" >Senescent-2</text>
<text x="105" y="256.1" font-size="9.4" text-anchor="start" fill="#333" >-3.0</text>
<text x="140.45" y="256.1" font-size="9.4" text-anchor="middle" fill="#333" >TSS</text>
<text x="177.5" y="256.1" font-size="9.4" text-anchor="end" fill="#333" >3.0Kb</text>
<polyline clip-path="url(#lpc102)" points="181.6,237.47 182.06,237.15 182.53,237.09 182.99,236.8 183.46,237.51 183.92,237.87 184.39,238.22 184.85,238.39 185.32,237.64 185.78,237.54 186.25,237.98 186.71,238.21 187.18,237.51 187.64,238.04 188.11,238.1 188.57,237.71 189.03,237.15 189.5,236.79 189.96,237.31 190.43,237.93 190.89,238.22 191.36,237.75 191.82,237.54 192.29,236.99 192.75,236.8 193.22,236.56 193.68,237.27 194.15,237.71 194.61,237.5 195.08,237.17 195.54,237.44 196,236.72 196.47,237.48 196.93,237.27 197.4,237.44 197.86,236.95 198.33,236.59 198.79,236.67 199.26,236.38 199.72,235.77 200.19,236.18 200.65,236.38 201.12,236.53 201.58,236.28 202.05,236.32 202.51,236.58 202.97,235.61 203.44,235.72 203.9,236.12 204.37,235.07 204.83,235.02 205.3,234.1 205.76,233.14 206.23,233.26 206.69,233.19 207.16,231.95 207.62,232.12 208.09,231.74 208.55,231.01 209.02,230.21 209.48,228.48 209.94,227.57 210.41,227.23 210.87,225.1 211.34,223.52 211.8,222.19 212.27,219.75 212.73,217.74 213.2,215.53 213.66,213.58 214.13,210.77 214.59,206.86 215.06,203.05 215.52,199.02 215.99,194.64 216.45,188.42 216.91,193.38 217.38,197.34 217.84,201 218.31,204.14 218.77,207.26 219.24,209.78 219.7,212.34 220.17,214.17 220.63,215.81 221.1,217.3 221.56,219.13 222.03,220.15 222.49,221.38 222.96,222.82 223.42,223.58 223.88,224.06 224.35,225.09 224.81,225.11 225.28,225.87 225.74,226.24 226.21,226.84 226.67,228.38 227.14,229.54 227.6,229.44 228.07,229.91 228.53,230.39 229,230.38 229.46,230.58 229.93,230.86 230.39,231.65 230.85,231.28 231.32,232.65 231.78,232.24 232.25,232.73 232.71,232.56 233.18,232.86 233.64,233.03 234.11,232.74 234.57,233.5 235.04,234.65 235.5,234.8 235.97,235.68 236.43,235.56 236.9,235.61 237.36,235.17 237.82,235.41 238.29,235.2 238.75,235.9 239.22,235.62 239.68,235.7 240.15,235.3 240.61,234.55 241.08,234.79 241.54,234.9 242.01,235.74 242.47,236.17 242.94,235.44 243.4,236.48 243.87,236.55 244.33,236.32 244.79,236 245.26,236.45 245.72,236.52 246.19,236.35 246.65,235.96 247.12,236.26 247.58,236.59 248.05,236.19 248.51,236.06 248.98,236.64 249.44,236.64 249.91,236.85 250.37,236.91 250.84,237.69 251.3,237.38" fill="none" stroke="#2c4170" stroke-width="2.1" stroke-linejoin="round"/>
<rect x="181.6" y="178.7" width="69.7" height="64.6" fill="none" stroke="#3a3232" stroke-width="1.2" />
<line x1="179.4" y1="189.7" x2="181.6" y2="189.7" stroke="#3a3232" stroke-width="1.1" />
<line x1="179.4" y1="206.2" x2="181.6" y2="206.2" stroke="#3a3232" stroke-width="1.1" />
<line x1="179.4" y1="222.7" x2="181.6" y2="222.7" stroke="#3a3232" stroke-width="1.1" />
<line x1="179.4" y1="239.2" x2="181.6" y2="239.2" stroke="#3a3232" stroke-width="1.1" />
<line x1="181.6" y1="243.3" x2="181.6" y2="245.7" stroke="#3a3232" stroke-width="1.1" />
<line x1="216.45" y1="243.3" x2="216.45" y2="245.7" stroke="#3a3232" stroke-width="1.1" />
<line x1="251.3" y1="243.3" x2="251.3" y2="245.7" stroke="#3a3232" stroke-width="1.1" />
<text x="218.85" y="174.1" font-size="12.1" text-anchor="middle" fill="#222" >Force (+)-1</text>
<text x="181" y="256.1" font-size="9.4" text-anchor="start" fill="#333" >-3.0</text>
<text x="216.45" y="256.1" font-size="9.4" text-anchor="middle" fill="#333" >TSS</text>
<text x="253.5" y="256.1" font-size="9.4" text-anchor="end" fill="#333" >3.0Kb</text>
<polyline clip-path="url(#lpc103)" points="257.6,239.13 258.06,239.31 258.53,239.48 258.99,240 259.46,239.76 259.92,239.51 260.39,239.62 260.85,239.65 261.32,240.07 261.78,239.35 262.25,239.26 262.71,239.43 263.18,239.21 263.64,239.16 264.11,239.21 264.57,239.33 265.03,239.31 265.5,239.15 265.96,238.93 266.43,238.78 266.89,238.83 267.36,238.68 267.82,238.94 268.29,239.56 268.75,239.88 269.22,239.27 269.68,239.74 270.15,239.72 270.61,239.41 271.08,238.9 271.54,239.58 272,239.65 272.47,239.55 272.93,239.44 273.4,239.09 273.86,238.58 274.33,238.29 274.79,237.34 275.26,237.13 275.72,237.94 276.19,238.43 276.65,238.24 277.12,238.07 277.58,237.42 278.05,237.1 278.51,236.76 278.97,236.72 279.44,236.44 279.9,236.16 280.37,236.06 280.83,235.59 281.3,235.8 281.76,234.95 282.23,234.35 282.69,232.99 283.16,232.91 283.62,233.08 284.09,232.55 284.55,231.73 285.02,231.03 285.48,230.31 285.94,229.08 286.41,228.11 286.87,226.01 287.34,224.9 287.8,222.69 288.27,220.26 288.73,217.89 289.2,214.89 289.66,211.97 290.13,208.41 290.59,204.94 291.06,200.78 291.52,195.49 291.99,189.12 292.45,181.58 292.91,188.19 293.38,193.56 293.84,198.23 294.31,201.71 294.77,205.33 295.24,207.88 295.7,210.74 296.17,213.33 296.63,215.54 297.1,217.8 297.56,220 298.03,221.12 298.49,222.29 298.96,222.43 299.42,223.45 299.88,224.24 300.35,225.28 300.81,226.3 301.28,227.6 301.74,228.57 302.21,228.48 302.67,229.28 303.14,229.95 303.6,230.14 304.07,230.75 304.53,231.29 305,231.02 305.46,231.55 305.93,232.27 306.39,232.83 306.85,233.4 307.32,233.5 307.78,233.6 308.25,234.15 308.71,234.47 309.18,235.21 309.64,235.31 310.11,235.12 310.57,235.65 311.04,235.76 311.5,236.09 311.97,236.29 312.43,236.21 312.9,236.65 313.36,236.27 313.82,236.04 314.29,236 314.75,236.72 315.22,237.54 315.68,237.63 316.15,237.49 316.61,237.51 317.08,237.61 317.54,237.63 318.01,237.81 318.47,237.62 318.94,238.23 319.4,238.03 319.87,237.89 320.33,238.2 320.79,236.98 321.26,237.42 321.72,237.71 322.19,238.4 322.65,238.34 323.12,238.34 323.58,238.06 324.05,238.45 324.51,238.16 324.98,238.82 325.44,238.79 325.91,239.38 326.37,239.16 326.84,238.79 327.3,239.34" fill="none" stroke="#2c4170" stroke-width="2.1" stroke-linejoin="round"/>
<rect x="257.6" y="178.7" width="69.7" height="64.6" fill="none" stroke="#3a3232" stroke-width="1.2" />
<line x1="255.4" y1="189.7" x2="257.6" y2="189.7" stroke="#3a3232" stroke-width="1.1" />
<line x1="255.4" y1="206.2" x2="257.6" y2="206.2" stroke="#3a3232" stroke-width="1.1" />
<line x1="255.4" y1="222.7" x2="257.6" y2="222.7" stroke="#3a3232" stroke-width="1.1" />
<line x1="255.4" y1="239.2" x2="257.6" y2="239.2" stroke="#3a3232" stroke-width="1.1" />
<line x1="257.6" y1="243.3" x2="257.6" y2="245.7" stroke="#3a3232" stroke-width="1.1" />
<line x1="292.45" y1="243.3" x2="292.45" y2="245.7" stroke="#3a3232" stroke-width="1.1" />
<line x1="327.3" y1="243.3" x2="327.3" y2="245.7" stroke="#3a3232" stroke-width="1.1" />
<text x="294.75" y="174.1" font-size="12.1" text-anchor="middle" fill="#222" >Force (+)-2</text>
<text x="257" y="256.1" font-size="9.4" text-anchor="start" fill="#333" >-3.0</text>
<text x="292.45" y="256.1" font-size="9.4" text-anchor="middle" fill="#333" >TSS</text>
<text x="329.5" y="256.1" font-size="9.4" text-anchor="end" fill="#333" >3.0Kb</text>
<polyline clip-path="url(#lpc104)" points="333.6,239.9 334.06,240.28 334.53,240.38 334.99,240.63 335.46,240.79 335.92,240.25 336.39,240.31 336.85,240.42 337.32,240.11 337.78,239.7 338.25,239.67 338.71,239.68 339.18,240.17 339.64,239.89 340.11,239.83 340.57,240.35 341.03,240.56 341.5,240.31 341.96,240.62 342.43,240.79 342.89,240.87 343.36,240.45 343.82,240.6 344.29,240.5 344.75,240.21 345.22,239.85 345.68,239.64 346.15,239.59 346.61,239.6 347.08,240.29 347.54,240.17 348,239.76 348.47,239.55 348.93,239.78 349.4,239.56 349.86,239.6 350.33,239.54 350.79,239.59 351.26,239.77 351.72,240.03 352.19,240.08 352.65,239.77 353.12,238.56 353.58,239.12 354.05,238.73 354.51,238.24 354.97,237.9 355.44,237.81 355.9,237.62 356.37,237.35 356.83,237.28 357.3,237.1 357.76,236.71 358.23,236.29 358.69,235.78 359.16,235.54 359.62,234.57 360.09,233.9 360.55,233.44 361.02,233.14 361.48,232.49 361.94,231.41 362.41,230.19 362.87,229.08 363.34,227.25 363.8,226.04 364.27,223.68 364.73,222.17 365.2,219.46 365.66,217.05 366.13,214.3 366.59,210.53 367.06,206.3 367.52,201.46 367.99,195.7 368.45,189.45 368.91,195.23 369.38,199.78 369.84,203.47 370.31,206.89 370.77,210.58 371.24,213.48 371.7,215.87 372.17,217.95 372.63,220.32 373.1,221.89 373.56,223.38 374.03,224.78 374.49,225.12 374.96,226.11 375.42,227.02 375.88,227.74 376.35,228.71 376.81,229.3 377.28,229.88 377.74,230.51 378.21,231.17 378.67,231.56 379.14,232.16 379.6,232.84 380.07,233.25 380.53,233.58 381,234.22 381.46,234.53 381.93,235.04 382.39,235.29 382.85,235.39 383.32,235.34 383.78,235.17 384.25,235.45 384.71,236.24 385.18,236.64 385.64,237.52 386.11,237.66 386.57,237.88 387.04,237.77 387.5,237.72 387.97,237.52 388.43,237.68 388.9,238.29 389.36,238.4 389.82,237.79 390.29,237.9 390.75,237.99 391.22,238.18 391.68,239.1 392.15,239.07 392.61,239.03 393.08,239.34 393.54,239.39 394.01,239.05 394.47,239.1 394.94,239.14 395.4,239.31 395.87,239.3 396.33,239.23 396.79,239.3 397.26,239.67 397.72,239.85 398.19,240.21 398.65,239.71 399.12,239.72 399.58,239.38 400.05,239.22 400.51,239.78 400.98,239.82 401.44,239.67 401.91,240.31 402.37,240.08 402.84,240.01 403.3,240.15" fill="none" stroke="#2c4170" stroke-width="2.1" stroke-linejoin="round"/>
<rect x="333.6" y="178.7" width="69.7" height="64.6" fill="none" stroke="#3a3232" stroke-width="1.2" />
<line x1="331.4" y1="189.7" x2="333.6" y2="189.7" stroke="#3a3232" stroke-width="1.1" />
<line x1="331.4" y1="206.2" x2="333.6" y2="206.2" stroke="#3a3232" stroke-width="1.1" />
<line x1="331.4" y1="222.7" x2="333.6" y2="222.7" stroke="#3a3232" stroke-width="1.1" />
<line x1="331.4" y1="239.2" x2="333.6" y2="239.2" stroke="#3a3232" stroke-width="1.1" />
<line x1="333.6" y1="243.3" x2="333.6" y2="245.7" stroke="#3a3232" stroke-width="1.1" />
<line x1="368.45" y1="243.3" x2="368.45" y2="245.7" stroke="#3a3232" stroke-width="1.1" />
<line x1="403.3" y1="243.3" x2="403.3" y2="245.7" stroke="#3a3232" stroke-width="1.1" />
<text x="368.45" y="174.1" font-size="12.1" text-anchor="middle" fill="#222" >Young-1</text>
<text x="333" y="256.1" font-size="9.4" text-anchor="start" fill="#333" >-3.0</text>
<text x="368.45" y="256.1" font-size="9.4" text-anchor="middle" fill="#333" >TSS</text>
<text x="405.5" y="256.1" font-size="9.4" text-anchor="end" fill="#333" >3.0Kb</text>
<polyline clip-path="url(#lpc105)" points="409.6,240.29 410.06,240.56 410.53,240.34 410.99,241.1 411.46,241.04 411.92,240.34 412.39,240.48 412.85,240.31 413.32,240.65 413.78,240.16 414.25,240.01 414.71,239.82 415.18,240.16 415.64,240.11 416.11,240.49 416.57,240.32 417.03,240.93 417.5,240.55 417.96,240.27 418.43,240.39 418.89,239.95 419.36,240.11 419.82,239.63 420.29,240.01 420.75,240.31 421.22,240.29 421.68,239.22 422.15,240.05 422.61,240.16 423.08,240.2 423.54,239.88 424,240.35 424.47,239.56 424.93,240.21 425.4,239.54 425.86,239.65 426.33,239.9 426.79,239.5 427.26,239.95 427.72,239.69 428.19,239.86 428.65,239.92 429.12,239.89 429.58,239.45 430.05,238.56 430.51,238.59 430.97,237.97 431.44,238.12 431.9,237.69 432.37,237.31 432.83,237.23 433.3,236.76 433.76,236.43 434.23,236.05 434.69,236.24 435.16,235.55 435.62,234.43 436.09,234.57 436.55,233.8 437.02,232.97 437.48,232 437.94,230.91 438.41,229.67 438.87,228.71 439.34,227.33 439.8,226.03 440.27,224.57 440.73,222.5 441.2,219.92 441.66,217.12 442.13,214.04 442.59,210.52 443.06,206 443.52,201.28 443.99,195.73 444.45,188.7 444.91,194.56 445.38,199.35 445.84,203.34 446.31,207.67 446.77,210.77 447.24,213.29 447.7,215.39 448.17,217.7 448.63,219.47 449.1,220.99 449.56,222.31 450.03,223.85 450.49,224.81 450.96,225.77 451.42,227.17 451.88,228.97 452.35,229.26 452.81,229.39 453.28,230.18 453.74,230.21 454.21,231.47 454.67,231.93 455.14,232.22 455.6,233.07 456.07,233.46 456.53,233.79 457,233.91 457.46,233.94 457.93,234.45 458.39,235.28 458.85,235.03 459.32,235.29 459.78,235.36 460.25,236.3 460.71,236.48 461.18,237.1 461.64,237.28 462.11,237.06 462.57,237.07 463.04,236.9 463.5,237.54 463.97,237.24 464.43,237.55 464.9,237.57 465.36,237.66 465.82,237.85 466.29,238.03 466.75,238.82 467.22,238.72 467.68,238.81 468.15,239 468.61,239.35 469.08,239.66 469.54,238.89 470.01,239.13 470.47,239.43 470.94,239.25 471.4,239.6 471.87,239.88 472.33,239.68 472.79,239.71 473.26,239.67 473.72,239.56 474.19,239.86 474.65,239.99 475.12,239.86 475.58,239.96 476.05,239.97 476.51,239.75 476.98,239.79 477.44,239.53 477.91,240.03 478.37,240.05 478.84,240.18 479.3,240.6" fill="none" stroke="#2c4170" stroke-width="2.1" stroke-linejoin="round"/>
<rect x="409.6" y="178.7" width="69.7" height="64.6" fill="none" stroke="#3a3232" stroke-width="1.2" />
<line x1="407.4" y1="189.7" x2="409.6" y2="189.7" stroke="#3a3232" stroke-width="1.1" />
<line x1="407.4" y1="206.2" x2="409.6" y2="206.2" stroke="#3a3232" stroke-width="1.1" />
<line x1="407.4" y1="222.7" x2="409.6" y2="222.7" stroke="#3a3232" stroke-width="1.1" />
<line x1="407.4" y1="239.2" x2="409.6" y2="239.2" stroke="#3a3232" stroke-width="1.1" />
<line x1="409.6" y1="243.3" x2="409.6" y2="245.7" stroke="#3a3232" stroke-width="1.1" />
<line x1="444.45" y1="243.3" x2="444.45" y2="245.7" stroke="#3a3232" stroke-width="1.1" />
<line x1="479.3" y1="243.3" x2="479.3" y2="245.7" stroke="#3a3232" stroke-width="1.1" />
<text x="444.45" y="174.1" font-size="12.1" text-anchor="middle" fill="#222" >Young-2</text>
<text x="409" y="256.1" font-size="9.4" text-anchor="start" fill="#333" >-3.0</text>
<text x="444.45" y="256.1" font-size="9.4" text-anchor="middle" fill="#333" >TSS</text>
<text x="481.5" y="256.1" font-size="9.4" text-anchor="end" fill="#333" >3.0Kb</text>
<polyline clip-path="url(#lpc106)" points="485.6,235.75 486.06,236.52 486.53,235.15 486.99,235.19 487.46,235.26 487.92,235.49 488.39,235.24 488.85,236.04 489.32,235.41 489.78,234.42 490.25,235.14 490.71,234.94 491.18,235.51 491.64,236.01 492.11,235.79 492.57,235.98 493.03,235.98 493.5,235.73 493.96,235.68 494.43,235.09 494.89,234.86 495.36,234.88 495.82,234.96 496.29,235.34 496.75,235.42 497.22,235.32 497.68,235.3 498.15,235.45 498.61,235.06 499.08,234.47 499.54,235.22 500,234.97 500.47,235.37 500.93,235.52 501.4,235.49 501.86,235.13 502.33,234.82 502.79,234.57 503.26,234.59 503.72,234.22 504.19,234.11 504.65,234.4 505.12,234.13 505.58,233.9 506.05,233.43 506.51,233.05 506.97,232.65 507.44,233.22 507.9,232.79 508.37,233.09 508.83,233.42 509.3,233.01 509.76,232.95 510.23,232.86 510.69,232.83 511.16,232.31 511.62,232.19 512.09,232.24 512.55,231.46 513.02,230.82 513.48,230.54 513.94,229.89 514.41,228.95 514.87,227.89 515.34,226.37 515.8,225.12 516.27,224.21 516.73,223.41 517.2,221.82 517.66,220.5 518.13,218.13 518.59,216.01 519.06,212.92 519.52,210.56 519.99,206.67 520.45,202.44 520.91,206.09 521.38,208.28 521.84,211.17 522.31,213.6 522.77,215.57 523.24,217.6 523.7,218.71 524.17,220.27 524.63,221.03 525.1,221.89 525.56,223.36 526.03,223.99 526.49,224.91 526.96,225.55 527.42,226.11 527.88,226.51 528.35,226.57 528.81,227.29 529.28,227.89 529.74,228.09 530.21,228.63 530.67,229.06 531.14,229.08 531.6,229.02 532.07,230.24 532.53,230.53 533,230.47 533.46,231.01 533.93,231.04 534.39,231.91 534.85,231.49 535.32,231.96 535.78,231.8 536.25,231.84 536.71,231.57 537.18,231.11 537.64,231.9 538.11,232.06 538.57,232.13 539.04,232.05 539.5,232.26 539.97,232.1 540.43,232.5 540.9,232.94 541.36,233 541.82,233.66 542.29,234.05 542.75,233.55 543.22,233.39 543.68,233.86 544.15,233.18 544.61,233.29 545.08,233.88 545.54,233.21 546.01,234.09 546.47,234.16 546.94,234.17 547.4,234.48 547.87,234.3 548.33,234.67 548.79,234.5 549.26,235.6 549.72,235.06 550.19,235.27 550.65,234.59 551.12,234.8 551.58,234.95 552.05,234.56 552.51,234.21 552.98,234.22 553.44,235.03 553.91,234.85 554.37,234.59 554.84,235.08 555.3,234.54" fill="none" stroke="#2c4170" stroke-width="2.1" stroke-linejoin="round"/>
<rect x="485.6" y="178.7" width="69.7" height="64.6" fill="none" stroke="#3a3232" stroke-width="1.2" />
<line x1="483.4" y1="189.7" x2="485.6" y2="189.7" stroke="#3a3232" stroke-width="1.1" />
<line x1="483.4" y1="206.2" x2="485.6" y2="206.2" stroke="#3a3232" stroke-width="1.1" />
<line x1="483.4" y1="222.7" x2="485.6" y2="222.7" stroke="#3a3232" stroke-width="1.1" />
<line x1="483.4" y1="239.2" x2="485.6" y2="239.2" stroke="#3a3232" stroke-width="1.1" />
<line x1="485.6" y1="243.3" x2="485.6" y2="245.7" stroke="#3a3232" stroke-width="1.1" />
<line x1="520.45" y1="243.3" x2="520.45" y2="245.7" stroke="#3a3232" stroke-width="1.1" />
<line x1="555.3" y1="243.3" x2="555.3" y2="245.7" stroke="#3a3232" stroke-width="1.1" />
<text x="522.05" y="174.1" font-size="12.1" text-anchor="middle" fill="#222" >Force (-)-1</text>
<text x="485" y="256.1" font-size="9.4" text-anchor="start" fill="#333" >-3.0</text>
<text x="520.45" y="256.1" font-size="9.4" text-anchor="middle" fill="#333" >TSS</text>
<text x="557.5" y="256.1" font-size="9.4" text-anchor="end" fill="#333" >3.0Kb</text>
<polyline clip-path="url(#lpc107)" points="561.6,236.35 562.06,235.81 562.53,235.43 562.99,235.9 563.46,236.43 563.92,236.36 564.39,235.37 564.85,234.61 565.32,235.29 565.78,236.01 566.25,236.67 566.71,236.89 567.18,236.37 567.64,236.52 568.11,236.53 568.57,236.18 569.03,237 569.5,237.2 569.96,236.83 570.43,236.81 570.89,236.68 571.36,236.37 571.82,236.03 572.29,235.67 572.75,235.67 573.22,235.57 573.68,235.76 574.15,235.44 574.61,235.49 575.08,235.93 575.54,236.26 576,236.39 576.47,236.27 576.93,235.76 577.4,235.62 577.86,236.44 578.33,236.23 578.79,236.84 579.26,236.36 579.72,236.34 580.19,235.9 580.65,235.12 581.12,235.7 581.58,235.9 582.05,234.9 582.51,235.27 582.97,234.41 583.44,234.54 583.9,234.76 584.37,235.18 584.83,235.41 585.3,234.7 585.76,233.83 586.23,233.9 586.69,233.68 587.16,232.85 587.62,232.93 588.09,232.75 588.55,232.51 589.02,231.72 589.48,231.06 589.94,230.97 590.41,229 590.87,228.86 591.34,227.55 591.8,226.71 592.27,225.75 592.73,225.09 593.2,223.76 593.66,222.19 594.13,220.79 594.59,217.81 595.06,215.83 595.52,213.67 595.99,209.31 596.45,206.2 596.91,208.55 597.38,212.07 597.84,213.44 598.31,216.22 598.77,218.23 599.24,219.34 599.7,221.32 600.17,222 600.63,222.37 601.1,223.6 601.56,224.69 602.03,225.38 602.49,225.99 602.96,226.56 603.42,227.21 603.88,227.78 604.35,228.58 604.81,228.72 605.28,228.94 605.74,229.5 606.21,229.15 606.67,229.32 607.14,229.57 607.6,230.5 608.07,231.28 608.53,231.57 609,231.99 609.46,231.85 609.93,231.12 610.39,230.96 610.85,231.03 611.32,232.27 611.78,232.08 612.25,231.86 612.71,231.61 613.18,231.85 613.64,231.75 614.11,231.99 614.57,231.8 615.04,231.4 615.5,231.82 615.97,232.75 616.43,232.52 616.9,233.45 617.36,233.37 617.82,233.03 618.29,233.39 618.75,234.11 619.22,234.55 619.68,234.99 620.15,234.53 620.61,234.67 621.08,234.35 621.54,234.11 622.01,234.66 622.47,235.21 622.94,235.39 623.4,235.3 623.87,235.71 624.33,235.18 624.79,234.79 625.26,236.06 625.72,236.2 626.19,236.29 626.65,235.65 627.12,236.06 627.58,235.79 628.05,236.14 628.51,235.79 628.98,235.98 629.44,236.17 629.91,235.87 630.37,236.29 630.84,235.74 631.3,235.72" fill="none" stroke="#2c4170" stroke-width="2.1" stroke-linejoin="round"/>
<line x1="596.05" y1="206.2" x2="610.55" y2="206.2" stroke="#2c4170" stroke-width="1.6" />
<text x="610.25" y="208.8" font-size="9.4" text-anchor="start" fill="#333" >peak</text>
<rect x="561.6" y="178.7" width="69.7" height="64.6" fill="none" stroke="#3a3232" stroke-width="1.2" />
<line x1="559.4" y1="189.7" x2="561.6" y2="189.7" stroke="#3a3232" stroke-width="1.1" />
<line x1="559.4" y1="206.2" x2="561.6" y2="206.2" stroke="#3a3232" stroke-width="1.1" />
<line x1="559.4" y1="222.7" x2="561.6" y2="222.7" stroke="#3a3232" stroke-width="1.1" />
<line x1="559.4" y1="239.2" x2="561.6" y2="239.2" stroke="#3a3232" stroke-width="1.1" />
<line x1="561.6" y1="243.3" x2="561.6" y2="245.7" stroke="#3a3232" stroke-width="1.1" />
<line x1="596.45" y1="243.3" x2="596.45" y2="245.7" stroke="#3a3232" stroke-width="1.1" />
<line x1="631.3" y1="243.3" x2="631.3" y2="245.7" stroke="#3a3232" stroke-width="1.1" />
<text x="597.05" y="174.1" font-size="12.1" text-anchor="middle" fill="#222" >Force (-)-2</text>
<text x="561" y="256.1" font-size="9.4" text-anchor="start" fill="#333" >-3.0</text>
<text x="596.45" y="256.1" font-size="9.4" text-anchor="middle" fill="#333" >TSS</text>
<text x="633.5" y="256.1" font-size="9.4" text-anchor="end" fill="#333" >3.0Kb</text>
<rect x="29.6" y="262.5" width="69.7" height="113.3" fill="url(#hcbg)" />
<g clip-path="url(#hcc0)"><ellipse cx="67.45" cy="262.5" rx="20" ry="12" fill="#e0deef" filter="url(#hcb2)"/><path d="M59.45 259.5 L70.45 259.5 L65.25 292.5 L64.15 292.5 Z" fill="url(#hcg0)" filter="url(#hcb1)"/></g>
<rect x="29.6" y="262.5" width="69.7" height="113.3" fill="none" stroke="#3a3232" stroke-width="1.2" />
<line x1="29.6" y1="375.8" x2="29.6" y2="378.2" stroke="#3a3232" stroke-width="1.1" />
<line x1="64.45" y1="375.8" x2="64.45" y2="378.2" stroke="#3a3232" stroke-width="1.1" />
<line x1="99.3" y1="375.8" x2="99.3" y2="378.2" stroke="#3a3232" stroke-width="1.1" />
<text x="29" y="386.6" font-size="9.4" text-anchor="start" fill="#333" >-3.0</text>
<text x="64.45" y="386.6" font-size="9.4" text-anchor="middle" fill="#333" >TSS</text>
<text x="101.5" y="386.6" font-size="9.4" text-anchor="end" fill="#333" >3.0Kb</text>
<rect x="105.6" y="262.5" width="69.7" height="113.3" fill="url(#hcbg)" />
<g clip-path="url(#hcc1)"><ellipse cx="143.45" cy="262.5" rx="20" ry="12" fill="#e0deef" filter="url(#hcb2)"/><path d="M135.45 259.5 L146.45 259.5 L141.25 292.5 L140.15 292.5 Z" fill="url(#hcg1)" filter="url(#hcb1)"/></g>
<rect x="105.6" y="262.5" width="69.7" height="113.3" fill="none" stroke="#3a3232" stroke-width="1.2" />
<line x1="105.6" y1="375.8" x2="105.6" y2="378.2" stroke="#3a3232" stroke-width="1.1" />
<line x1="140.45" y1="375.8" x2="140.45" y2="378.2" stroke="#3a3232" stroke-width="1.1" />
<line x1="175.3" y1="375.8" x2="175.3" y2="378.2" stroke="#3a3232" stroke-width="1.1" />
<text x="105" y="386.6" font-size="9.4" text-anchor="start" fill="#333" >-3.0</text>
<text x="140.45" y="386.6" font-size="9.4" text-anchor="middle" fill="#333" >TSS</text>
<text x="177.5" y="386.6" font-size="9.4" text-anchor="end" fill="#333" >3.0Kb</text>
<rect x="181.6" y="262.5" width="69.7" height="113.3" fill="url(#hcbg)" />
<g clip-path="url(#hcc2)"><ellipse cx="219.45" cy="262.5" rx="24" ry="16" fill="#d6d5ea" filter="url(#hcb2)"/><path d="M210.45 259.5 L223.45 259.5 L217.25 294.5 L216.15 294.5 Z" fill="url(#hcg2)" filter="url(#hcb1)"/></g>
<rect x="181.6" y="262.5" width="69.7" height="113.3" fill="none" stroke="#3a3232" stroke-width="1.2" />
<line x1="181.6" y1="375.8" x2="181.6" y2="378.2" stroke="#3a3232" stroke-width="1.1" />
<line x1="216.45" y1="375.8" x2="216.45" y2="378.2" stroke="#3a3232" stroke-width="1.1" />
<line x1="251.3" y1="375.8" x2="251.3" y2="378.2" stroke="#3a3232" stroke-width="1.1" />
<text x="181" y="386.6" font-size="9.4" text-anchor="start" fill="#333" >-3.0</text>
<text x="216.45" y="386.6" font-size="9.4" text-anchor="middle" fill="#333" >TSS</text>
<text x="253.5" y="386.6" font-size="9.4" text-anchor="end" fill="#333" >3.0Kb</text>
<rect x="257.6" y="262.5" width="69.7" height="113.3" fill="url(#hcbg)" />
<g clip-path="url(#hcc3)"><ellipse cx="295.45" cy="262.5" rx="24" ry="16" fill="#d6d5ea" filter="url(#hcb2)"/><path d="M286.45 259.5 L299.45 259.5 L293.25 294.5 L292.15 294.5 Z" fill="url(#hcg3)" filter="url(#hcb1)"/></g>
<rect x="257.6" y="262.5" width="69.7" height="113.3" fill="none" stroke="#3a3232" stroke-width="1.2" />
<line x1="257.6" y1="375.8" x2="257.6" y2="378.2" stroke="#3a3232" stroke-width="1.1" />
<line x1="292.45" y1="375.8" x2="292.45" y2="378.2" stroke="#3a3232" stroke-width="1.1" />
<line x1="327.3" y1="375.8" x2="327.3" y2="378.2" stroke="#3a3232" stroke-width="1.1" />
<text x="257" y="386.6" font-size="9.4" text-anchor="start" fill="#333" >-3.0</text>
<text x="292.45" y="386.6" font-size="9.4" text-anchor="middle" fill="#333" >TSS</text>
<text x="329.5" y="386.6" font-size="9.4" text-anchor="end" fill="#333" >3.0Kb</text>
<rect x="333.6" y="262.5" width="69.7" height="113.3" fill="url(#hcbg)" />
<g clip-path="url(#hcc4)"><ellipse cx="371.45" cy="262.5" rx="22" ry="15" fill="#d9d8ec" filter="url(#hcb2)"/><path d="M362.05 259.5 L375.85 259.5 L369.25 295.5 L368.15 295.5 Z" fill="url(#hcg4)" filter="url(#hcb1)"/></g>
<rect x="333.6" y="262.5" width="69.7" height="113.3" fill="none" stroke="#3a3232" stroke-width="1.2" />
<line x1="333.6" y1="375.8" x2="333.6" y2="378.2" stroke="#3a3232" stroke-width="1.1" />
<line x1="368.45" y1="375.8" x2="368.45" y2="378.2" stroke="#3a3232" stroke-width="1.1" />
<line x1="403.3" y1="375.8" x2="403.3" y2="378.2" stroke="#3a3232" stroke-width="1.1" />
<text x="333" y="386.6" font-size="9.4" text-anchor="start" fill="#333" >-3.0</text>
<text x="368.45" y="386.6" font-size="9.4" text-anchor="middle" fill="#333" >TSS</text>
<text x="405.5" y="386.6" font-size="9.4" text-anchor="end" fill="#333" >3.0Kb</text>
<rect x="409.6" y="262.5" width="69.7" height="113.3" fill="url(#hcbg)" />
<g clip-path="url(#hcc5)"><ellipse cx="447.45" cy="262.5" rx="22" ry="15" fill="#d9d8ec" filter="url(#hcb2)"/><path d="M438.05 259.5 L451.85 259.5 L445.25 295.5 L444.15 295.5 Z" fill="url(#hcg5)" filter="url(#hcb1)"/></g>
<rect x="409.6" y="262.5" width="69.7" height="113.3" fill="none" stroke="#3a3232" stroke-width="1.2" />
<line x1="409.6" y1="375.8" x2="409.6" y2="378.2" stroke="#3a3232" stroke-width="1.1" />
<line x1="444.45" y1="375.8" x2="444.45" y2="378.2" stroke="#3a3232" stroke-width="1.1" />
<line x1="479.3" y1="375.8" x2="479.3" y2="378.2" stroke="#3a3232" stroke-width="1.1" />
<text x="409" y="386.6" font-size="9.4" text-anchor="start" fill="#333" >-3.0</text>
<text x="444.45" y="386.6" font-size="9.4" text-anchor="middle" fill="#333" >TSS</text>
<text x="481.5" y="386.6" font-size="9.4" text-anchor="end" fill="#333" >3.0Kb</text>
<rect x="485.6" y="262.5" width="69.7" height="113.3" fill="url(#hcbg)" />
<g clip-path="url(#hcc6)"><ellipse cx="523.45" cy="262.5" rx="18" ry="11" fill="#e3e1f0" filter="url(#hcb2)"/><path d="M515.85 259.5 L526.05 259.5 L521.25 289.5 L520.15 289.5 Z" fill="url(#hcg6)" filter="url(#hcb1)"/></g>
<rect x="485.6" y="262.5" width="69.7" height="113.3" fill="none" stroke="#3a3232" stroke-width="1.2" />
<line x1="485.6" y1="375.8" x2="485.6" y2="378.2" stroke="#3a3232" stroke-width="1.1" />
<line x1="520.45" y1="375.8" x2="520.45" y2="378.2" stroke="#3a3232" stroke-width="1.1" />
<line x1="555.3" y1="375.8" x2="555.3" y2="378.2" stroke="#3a3232" stroke-width="1.1" />
<text x="485" y="386.6" font-size="9.4" text-anchor="start" fill="#333" >-3.0</text>
<text x="520.45" y="386.6" font-size="9.4" text-anchor="middle" fill="#333" >TSS</text>
<text x="557.5" y="386.6" font-size="9.4" text-anchor="end" fill="#333" >3.0Kb</text>
<rect x="561.6" y="262.5" width="69.7" height="113.3" fill="url(#hcbg)" />
<g clip-path="url(#hcc7)"><ellipse cx="599.45" cy="262.5" rx="18" ry="11" fill="#e3e1f0" filter="url(#hcb2)"/><path d="M591.85 259.5 L602.05 259.5 L597.25 289.5 L596.15 289.5 Z" fill="url(#hcg7)" filter="url(#hcb1)"/></g>
<rect x="561.6" y="262.5" width="69.7" height="113.3" fill="none" stroke="#3a3232" stroke-width="1.2" />
<line x1="561.6" y1="375.8" x2="561.6" y2="378.2" stroke="#3a3232" stroke-width="1.1" />
<line x1="596.45" y1="375.8" x2="596.45" y2="378.2" stroke="#3a3232" stroke-width="1.1" />
<line x1="631.3" y1="375.8" x2="631.3" y2="378.2" stroke="#3a3232" stroke-width="1.1" />
<text x="561" y="386.6" font-size="9.4" text-anchor="start" fill="#333" >-3.0</text>
<text x="596.45" y="386.6" font-size="9.4" text-anchor="middle" fill="#333" >TSS</text>
<text x="633.5" y="386.6" font-size="9.4" text-anchor="end" fill="#333" >3.0Kb</text>
<text x="26" y="316.5" font-size="9.4" text-anchor="middle" fill="#333" transform="rotate(-90 26 316.5)">peak</text>
<rect x="637.4" y="262.9" width="7.2" height="113.3" fill="url(#cbc)" stroke="#3a3232" stroke-width="1.1" />
<line x1="644.6" y1="376.2" x2="646.8" y2="376.2" stroke="#3a3232" stroke-width="1.0" />
<text x="648.6" y="379.2" font-size="8.6" text-anchor="start" fill="#333" >0.0</text>
<line x1="644.6" y1="351.57" x2="646.8" y2="351.57" stroke="#3a3232" stroke-width="1.0" />
<text x="648.6" y="354.57" font-size="8.6" text-anchor="start" fill="#333" >0.2</text>
<line x1="644.6" y1="326.94" x2="646.8" y2="326.94" stroke="#3a3232" stroke-width="1.0" />
<text x="648.6" y="329.94" font-size="8.6" text-anchor="start" fill="#333" >0.4</text>
<line x1="644.6" y1="302.31" x2="646.8" y2="302.31" stroke="#3a3232" stroke-width="1.0" />
<text x="648.6" y="305.31" font-size="8.6" text-anchor="start" fill="#333" >0.6</text>
<line x1="644.6" y1="277.68" x2="646.8" y2="277.68" stroke="#3a3232" stroke-width="1.0" />
<text x="648.6" y="280.68" font-size="8.6" text-anchor="start" fill="#333" >0.8</text>
<text x="4.6" y="404.6" font-size="14.6" text-anchor="start" fill="#000" >d</text>
<text x="129.5" y="405.3" font-size="12.1" text-anchor="middle" fill="#111" >Force (+) VS Senescent</text>
<text x="108.9" y="425" font-size="7.9" text-anchor="end" fill="#222" >Longevity regulating pathway</text>
<line x1="109.7" y1="422.4" x2="111.7" y2="422.4" stroke="#333" stroke-width="0.8" />
<circle cx="183.2" cy="422.4" r="3.6" fill="#f3ea5a"/>
<text x="108.9" y="438.1" font-size="7.9" text-anchor="end" fill="#e41a2a" font-weight="bold">FoxO signaling pathway</text>
<line x1="109.7" y1="435.5" x2="111.7" y2="435.5" stroke="#333" stroke-width="0.8" />
<circle cx="167" cy="435.5" r="4" fill="#dac268"/>
<text x="108.9" y="451.2" font-size="7.9" text-anchor="end" fill="#222" >Non−homologous end−joining</text>
<line x1="109.7" y1="448.6" x2="111.7" y2="448.6" stroke="#333" stroke-width="0.8" />
<circle cx="154.6" cy="448.6" r="1.4" fill="#8b5fa0"/>
<text x="108.9" y="464.3" font-size="7.9" text-anchor="end" fill="#222" >p53 signaling pathway</text>
<line x1="109.7" y1="461.7" x2="111.7" y2="461.7" stroke="#333" stroke-width="0.8" />
<circle cx="152" cy="461.7" r="3" fill="#b0858d"/>
<text x="108.9" y="477.4" font-size="7.9" text-anchor="end" fill="#e41a2a" font-weight="bold">Cellular senescence</text>
<line x1="109.7" y1="474.8" x2="111.7" y2="474.8" stroke="#333" stroke-width="0.8" />
<circle cx="148.6" cy="474.8" r="3.9" fill="#ae8190"/>
<text x="108.9" y="490.5" font-size="7.9" text-anchor="end" fill="#222" >NF−kappa B signaling pathway</text>
<line x1="109.7" y1="487.9" x2="111.7" y2="487.9" stroke="#333" stroke-width="0.8" />
<circle cx="145" cy="487.9" r="3.4" fill="#9f719a"/>
<text x="108.9" y="503.6" font-size="7.9" text-anchor="end" fill="#222" >Jak−STAT signaling pathway</text>
<line x1="109.7" y1="501" x2="111.7" y2="501" stroke="#333" stroke-width="0.8" />
<circle cx="143.7" cy="501" r="3.8" fill="#9d6e9b"/>
<text x="108.9" y="516.7" font-size="7.9" text-anchor="end" fill="#222" >Cell cycle</text>
<line x1="109.7" y1="514.1" x2="111.7" y2="514.1" stroke="#333" stroke-width="0.8" />
<circle cx="136.7" cy="514.1" r="3.3" fill="#92669e"/>
<text x="108.9" y="529.8" font-size="7.9" text-anchor="end" fill="#222" >IL−17 signaling pathway</text>
<line x1="109.7" y1="527.2" x2="111.7" y2="527.2" stroke="#333" stroke-width="0.8" />
<circle cx="131" cy="527.2" r="3" fill="#8b5fa0"/>
<text x="108.9" y="542.9" font-size="7.9" text-anchor="end" fill="#222" >DNA replication</text>
<line x1="109.7" y1="540.3" x2="111.7" y2="540.3" stroke="#333" stroke-width="0.8" />
<circle cx="123.6" cy="540.3" r="2.2" fill="#855ba2"/>
<text x="108.9" y="556" font-size="7.9" text-anchor="end" fill="#222" >Oxidative phosphorylation</text>
<line x1="109.7" y1="553.4" x2="111.7" y2="553.4" stroke="#333" stroke-width="0.8" />
<circle cx="114.8" cy="553.4" r="3.5" fill="#7e54a4"/>
<line x1="111.7" y1="415" x2="111.7" y2="561.9" stroke="#000" stroke-width="1.3" />
<line x1="111.1" y1="561.3" x2="189" y2="561.3" stroke="#000" stroke-width="1.3" />
<line x1="114" y1="561.3" x2="114" y2="563.3" stroke="#333" stroke-width="0.8" />
<text x="114" y="569.9" font-size="7.4" text-anchor="middle" fill="#333" >0.6</text>
<line x1="132.51" y1="561.3" x2="132.51" y2="563.3" stroke="#333" stroke-width="0.8" />
<text x="132.51" y="569.9" font-size="7.4" text-anchor="middle" fill="#333" >0.9</text>
<line x1="151.02" y1="561.3" x2="151.02" y2="563.3" stroke="#333" stroke-width="0.8" />
<text x="151.02" y="569.9" font-size="7.4" text-anchor="middle" fill="#333" >1.2</text>
<line x1="169.53" y1="561.3" x2="169.53" y2="563.3" stroke="#333" stroke-width="0.8" />
<text x="169.53" y="569.9" font-size="7.4" text-anchor="middle" fill="#333" >1.5</text>
<line x1="188.04" y1="561.3" x2="188.04" y2="563.3" stroke="#333" stroke-width="0.8" />
<text x="188.04" y="569.9" font-size="7.4" text-anchor="middle" fill="#333" >1.8</text>
<text x="150.35" y="577.6" font-size="8.8" text-anchor="middle" fill="#222" >enrichmentScore</text>
<text x="172.8" y="462.2" font-size="7.2" fill="#222">−log<tspan dy="2.4" font-size="6">10</tspan><tspan dy="-2.4" dx="2"> (pvalue)</tspan></text>
<rect x="173.6" y="465.8" width="6.8" height="35.6" fill="url(#dg172)" />
<line x1="173.6" y1="476.4" x2="175" y2="476.4" stroke="#fff" stroke-width="0.6" />
<line x1="179" y1="476.4" x2="180.4" y2="476.4" stroke="#fff" stroke-width="0.6" />
<text x="182.2" y="479" font-size="7.4" text-anchor="start" fill="#222" >2</text>
<line x1="173.6" y1="488.3" x2="175" y2="488.3" stroke="#fff" stroke-width="0.6" />
<line x1="179" y1="488.3" x2="180.4" y2="488.3" stroke="#fff" stroke-width="0.6" />
<text x="182.2" y="490.9" font-size="7.4" text-anchor="start" fill="#222" >1</text>
<text x="172.8" y="516.2" font-size="7.4" text-anchor="start" fill="#222" >setsize</text>
<circle cx="177.1" cy="522.6" r="2.7" fill="#000"/>
<text x="183.8" y="525.2" font-size="7.4" text-anchor="start" fill="#222" >10</text>
<circle cx="177.1" cy="530" r="3.3" fill="#000"/>
<text x="183.8" y="532.6" font-size="7.4" text-anchor="start" fill="#222" >20</text>
<circle cx="177.1" cy="537.8" r="4.0" fill="#000"/>
<text x="183.8" y="540.4" font-size="7.4" text-anchor="start" fill="#222" >30</text>
<text x="357.8" y="405.3" font-size="12.1" text-anchor="middle" fill="#111" >Force (-) VS Young</text>
<text x="346.7" y="425" font-size="7.9" text-anchor="end" fill="#222" >p53 signaling pathway</text>
<line x1="347.5" y1="422.4" x2="349.5" y2="422.4" stroke="#333" stroke-width="0.8" />
<circle cx="420.8" cy="422.4" r="3.2" fill="#f3ea5a"/>
<text x="346.7" y="434.7" font-size="7.9" text-anchor="end" fill="#222" >Longevity regulating pathway −</text>
<text x="346.7" y="440.8" font-size="7.9" text-anchor="end" fill="#222" >multiple species</text>
<line x1="347.5" y1="435.5" x2="349.5" y2="435.5" stroke="#333" stroke-width="0.8" />
<circle cx="415.2" cy="435.5" r="3" fill="#dcc667"/>
<text x="346.7" y="451.2" font-size="7.9" text-anchor="end" fill="#222" >Non−homologous end−joining</text>
<line x1="347.5" y1="448.6" x2="349.5" y2="448.6" stroke="#333" stroke-width="0.8" />
<circle cx="401.7" cy="448.6" r="1.3" fill="#986a9c"/>
<text x="346.7" y="464.3" font-size="7.9" text-anchor="end" fill="#222" >NF−kappa B signaling pathway</text>
<line x1="347.5" y1="461.7" x2="349.5" y2="461.7" stroke="#333" stroke-width="0.8" />
<circle cx="401.7" cy="461.7" r="3.4" fill="#c39f7a"/>
<text x="346.7" y="477.4" font-size="7.9" text-anchor="end" fill="#222" >Jak−STAT signaling pathway</text>
<line x1="347.5" y1="474.8" x2="349.5" y2="474.8" stroke="#333" stroke-width="0.8" />
<circle cx="399.1" cy="474.8" r="4" fill="#c09c7c"/>
<text x="346.7" y="490.5" font-size="7.9" text-anchor="end" fill="#e41a2a" font-weight="bold">FoxO signaling pathway</text>
<line x1="347.5" y1="487.9" x2="349.5" y2="487.9" stroke="#333" stroke-width="0.8" />
<circle cx="394" cy="487.9" r="3.6" fill="#b0858d"/>
<text x="346.7" y="503.6" font-size="7.9" text-anchor="end" fill="#222" >Cell cycle</text>
<line x1="347.5" y1="501" x2="349.5" y2="501" stroke="#333" stroke-width="0.8" />
<circle cx="390.1" cy="501" r="3.4" fill="#a77897"/>
<text x="346.7" y="516.7" font-size="7.9" text-anchor="end" fill="#e41a2a" font-weight="bold">Cellular senescence</text>
<line x1="347.5" y1="514.1" x2="349.5" y2="514.1" stroke="#333" stroke-width="0.8" />
<circle cx="388.2" cy="514.1" r="3.7" fill="#a57598"/>
<text x="346.7" y="529.8" font-size="7.9" text-anchor="end" fill="#222" >IL−17 signaling pathway</text>
<line x1="347.5" y1="527.2" x2="349.5" y2="527.2" stroke="#333" stroke-width="0.8" />
<circle cx="385.8" cy="527.2" r="3" fill="#9a6c9c"/>
<text x="346.7" y="542.9" font-size="7.9" text-anchor="end" fill="#222" >DNA replication</text>
<line x1="347.5" y1="540.3" x2="349.5" y2="540.3" stroke="#333" stroke-width="0.8" />
<circle cx="381.3" cy="540.3" r="2.1" fill="#8d619f"/>
<text x="346.7" y="556" font-size="7.9" text-anchor="end" fill="#222" >Oxidative phosphorylation</text>
<line x1="347.5" y1="553.4" x2="349.5" y2="553.4" stroke="#333" stroke-width="0.8" />
<circle cx="352.7" cy="553.4" r="2.6" fill="#7e54a4"/>
<line x1="349.5" y1="415" x2="349.5" y2="561.2" stroke="#000" stroke-width="1.3" />
<line x1="348.9" y1="560.6" x2="424" y2="560.6" stroke="#000" stroke-width="1.3" />
<line x1="352.4" y1="560.6" x2="352.4" y2="562.6" stroke="#333" stroke-width="0.8" />
<text x="352.4" y="569.2" font-size="7.4" text-anchor="middle" fill="#333" >0.4</text>
<line x1="375.24" y1="560.6" x2="375.24" y2="562.6" stroke="#333" stroke-width="0.8" />
<text x="375.24" y="569.2" font-size="7.4" text-anchor="middle" fill="#333" >0.8</text>
<line x1="398.08" y1="560.6" x2="398.08" y2="562.6" stroke="#333" stroke-width="0.8" />
<text x="398.08" y="569.2" font-size="7.4" text-anchor="middle" fill="#333" >1.2</text>
<line x1="420.92" y1="560.6" x2="420.92" y2="562.6" stroke="#333" stroke-width="0.8" />
<text x="420.92" y="569.2" font-size="7.4" text-anchor="middle" fill="#333" >1.6</text>
<text x="386.75" y="577.6" font-size="8.8" text-anchor="middle" fill="#222" >enrichmentScore</text>
<text x="413.9" y="462.2" font-size="7.2" fill="#222">−log<tspan dy="2.4" font-size="6">10</tspan><tspan dy="-2.4" dx="2"> (pvalue)</tspan></text>
<rect x="414.7" y="465.8" width="6.8" height="35.6" fill="url(#dg413)" />
<line x1="414.7" y1="474.4" x2="416.1" y2="474.4" stroke="#fff" stroke-width="0.6" />
<line x1="420.1" y1="474.4" x2="421.5" y2="474.4" stroke="#fff" stroke-width="0.6" />
<text x="423.3" y="477" font-size="7.4" text-anchor="start" fill="#222" >1.5</text>
<line x1="414.7" y1="483.5" x2="416.1" y2="483.5" stroke="#fff" stroke-width="0.6" />
<line x1="420.1" y1="483.5" x2="421.5" y2="483.5" stroke="#fff" stroke-width="0.6" />
<text x="423.3" y="486.1" font-size="7.4" text-anchor="start" fill="#222" >1.0</text>
<line x1="414.7" y1="492.7" x2="416.1" y2="492.7" stroke="#fff" stroke-width="0.6" />
<line x1="420.1" y1="492.7" x2="421.5" y2="492.7" stroke="#fff" stroke-width="0.6" />
<text x="423.3" y="495.3" font-size="7.4" text-anchor="start" fill="#222" >0.5</text>
<text x="413.9" y="516.2" font-size="7.4" text-anchor="start" fill="#222" >setsize</text>
<circle cx="418.2" cy="522.6" r="2.2" fill="#000"/>
<text x="424.9" y="525.2" font-size="7.4" text-anchor="start" fill="#222" >10</text>
<circle cx="418.2" cy="529.8" r="2.9" fill="#000"/>
<text x="424.9" y="532.4" font-size="7.4" text-anchor="start" fill="#222" >20</text>
<circle cx="418.2" cy="537.8" r="3.6" fill="#000"/>
<text x="424.9" y="540.4" font-size="7.4" text-anchor="start" fill="#222" >30</text>
<text x="576.3" y="405.3" font-size="12.1" text-anchor="middle" fill="#111" >Senescent VS Young</text>
<text x="568.3" y="425" font-size="7.9" text-anchor="end" fill="#e41a2a" font-weight="bold">Cellular senescence</text>
<line x1="569.1" y1="422.4" x2="571.1" y2="422.4" stroke="#333" stroke-width="0.8" />
<circle cx="642.4" cy="422.4" r="3.2" fill="#dac268"/>
<text x="568.3" y="438.1" font-size="7.9" text-anchor="end" fill="#e41a2a" font-weight="bold">FoxO signaling pathway</text>
<line x1="569.1" y1="435.5" x2="571.1" y2="435.5" stroke="#333" stroke-width="0.8" />
<circle cx="629.8" cy="435.5" r="3.1" fill="#ba9283"/>
<text x="568.3" y="451.2" font-size="7.9" text-anchor="end" fill="#222" >TGF−beta signaling pathway</text>
<line x1="569.1" y1="448.6" x2="571.1" y2="448.6" stroke="#333" stroke-width="0.8" />
<circle cx="626.8" cy="448.6" r="2.7" fill="#a97b94"/>
<text x="568.3" y="464.3" font-size="7.9" text-anchor="end" fill="#222" >p53 signaling pathway</text>
<line x1="569.1" y1="461.7" x2="571.1" y2="461.7" stroke="#333" stroke-width="0.8" />
<circle cx="624" cy="461.7" r="2.4" fill="#a27399"/>
<text x="568.3" y="477.4" font-size="7.9" text-anchor="end" fill="#222" >PI3K−Akt signaling pathway</text>
<line x1="569.1" y1="474.8" x2="571.1" y2="474.8" stroke="#333" stroke-width="0.8" />
<circle cx="623.2" cy="474.8" r="4.2" fill="#f3ea5a"/>
<text x="568.3" y="490.5" font-size="7.9" text-anchor="end" fill="#222" >Longevity regulating pathway</text>
<line x1="569.1" y1="487.9" x2="571.1" y2="487.9" stroke="#333" stroke-width="0.8" />
<circle cx="622.3" cy="487.9" r="2.6" fill="#a27399"/>
<text x="568.3" y="503.6" font-size="7.9" text-anchor="end" fill="#222" >Cell cycle</text>
<line x1="569.1" y1="501" x2="571.1" y2="501" stroke="#333" stroke-width="0.8" />
<circle cx="600" cy="501" r="2.8" fill="#95689d"/>
<text x="568.3" y="516.7" font-size="7.9" text-anchor="end" fill="#222" >IL−17 signaling pathway</text>
<line x1="569.1" y1="514.1" x2="571.1" y2="514.1" stroke="#333" stroke-width="0.8" />
<circle cx="595.5" cy="514.1" r="2.5" fill="#8f629f"/>
<text x="568.3" y="529.8" font-size="7.9" text-anchor="end" fill="#222" >NF−kappa B signaling pathway</text>
<line x1="569.1" y1="527.2" x2="571.1" y2="527.2" stroke="#333" stroke-width="0.8" />
<circle cx="589.5" cy="527.2" r="2.6" fill="#8b5fa0"/>
<text x="568.3" y="542.9" font-size="7.9" text-anchor="end" fill="#222" >Jak−STAT signaling pathway</text>
<line x1="569.1" y1="540.3" x2="571.1" y2="540.3" stroke="#333" stroke-width="0.8" />
<circle cx="574.3" cy="540.3" r="2.7" fill="#7f55a4"/>
<text x="568.3" y="556" font-size="7.9" text-anchor="end" fill="#222" >DNA replication</text>
<line x1="569.1" y1="553.4" x2="571.1" y2="553.4" stroke="#333" stroke-width="0.8" />
<circle cx="574.3" cy="553.4" r="1.3" fill="#7f55a4"/>
<line x1="571.1" y1="415" x2="571.1" y2="561.6" stroke="#000" stroke-width="1.3" />
<line x1="570.5" y1="561" x2="646" y2="561" stroke="#000" stroke-width="1.3" />
<line x1="579" y1="561" x2="579" y2="563" stroke="#333" stroke-width="0.8" />
<text x="579" y="569.6" font-size="7.4" text-anchor="middle" fill="#333" >1.2</text>
<line x1="596" y1="561" x2="596" y2="563" stroke="#333" stroke-width="0.8" />
<text x="596" y="569.6" font-size="7.4" text-anchor="middle" fill="#333" >1.4</text>
<line x1="613" y1="561" x2="613" y2="563" stroke="#333" stroke-width="0.8" />
<text x="613" y="569.6" font-size="7.4" text-anchor="middle" fill="#333" >1.6</text>
<line x1="630" y1="561" x2="630" y2="563" stroke="#333" stroke-width="0.8" />
<text x="630" y="569.6" font-size="7.4" text-anchor="middle" fill="#333" >1.8</text>
<line x1="647" y1="561" x2="647" y2="563" stroke="#333" stroke-width="0.8" />
<text x="647" y="569.6" font-size="7.4" text-anchor="middle" fill="#333" >2.0</text>
<text x="608.55" y="577.6" font-size="8.8" text-anchor="middle" fill="#222" >enrichmentScore</text>
<text x="636" y="462.2" font-size="7.2" fill="#222">−log<tspan dy="2.4" font-size="6">10</tspan><tspan dy="-2.4" dx="2"> (pvalue)</tspan></text>
<rect x="636.8" y="465.8" width="6.8" height="35.6" fill="url(#dg636)" />
<line x1="636.8" y1="472.5" x2="638.2" y2="472.5" stroke="#fff" stroke-width="0.6" />
<line x1="642.2" y1="472.5" x2="643.6" y2="472.5" stroke="#fff" stroke-width="0.6" />
<text x="645.4" y="475.1" font-size="7.4" text-anchor="start" fill="#222" >6</text>
<line x1="636.8" y1="483.2" x2="638.2" y2="483.2" stroke="#fff" stroke-width="0.6" />
<line x1="642.2" y1="483.2" x2="643.6" y2="483.2" stroke="#fff" stroke-width="0.6" />
<text x="645.4" y="485.8" font-size="7.4" text-anchor="start" fill="#222" >4</text>
<line x1="636.8" y1="493.7" x2="638.2" y2="493.7" stroke="#fff" stroke-width="0.6" />
<line x1="642.2" y1="493.7" x2="643.6" y2="493.7" stroke="#fff" stroke-width="0.6" />
<text x="645.4" y="496.3" font-size="7.4" text-anchor="start" fill="#222" >2</text>
<text x="636" y="516.2" font-size="7.4" text-anchor="start" fill="#222" >setsize</text>
<circle cx="640.3" cy="522.1" r="2.1" fill="#000"/>
<text x="647" y="524.7" font-size="7.4" text-anchor="start" fill="#222" >20</text>
<circle cx="640.3" cy="529.5" r="2.6" fill="#000"/>
<text x="647" y="532.1" font-size="7.4" text-anchor="start" fill="#222" >40</text>
<circle cx="640.3" cy="536.5" r="3.1" fill="#000"/>
<text x="647" y="539.1" font-size="7.4" text-anchor="start" fill="#222" >60</text>
<circle cx="640.3" cy="545.2" r="3.6" fill="#000"/>
<text x="647" y="547.8" font-size="7.4" text-anchor="start" fill="#222" >80</text>
<text x="3.4" y="593.9" font-size="14.6" text-anchor="start" fill="#000" >e</text>
<polyline clip-path="url(#lpe200)" points="29.6,660.9 30.06,660.91 30.52,661.01 30.98,661.19 31.44,660.97 31.9,661.18 32.36,660.78 32.82,660.84 33.28,660.87 33.74,660.86 34.2,660.96 34.66,660.61 35.12,660.52 35.58,660.11 36.04,660.57 36.5,660.24 36.96,660.57 37.42,660.56 37.88,661.1 38.34,660.79 38.8,661.22 39.26,661 39.72,660.76 40.18,660.61 40.64,660.37 41.1,660.19 41.56,660.12 42.02,660.47 42.48,660.35 42.94,660.43 43.4,660.22 43.86,659.65 44.32,659.58 44.78,660.12 45.24,659.6 45.7,659.14 46.16,659.06 46.62,658.47 47.08,658.97 47.54,659.03 48,658.6 48.46,659.39 48.92,659.93 49.38,659.06 49.84,658.91 50.3,658.05 50.76,657.79 51.22,657.73 51.68,657.7 52.14,658.25 52.6,658.73 53.06,658.2 53.52,658.12 53.98,658.69 54.44,658.76 54.9,658.24 55.36,657.79 55.82,657.82 56.28,657.91 56.74,657.26 57.2,656.85 57.66,656.75 58.12,656.35 58.58,655.93 59.04,655.13 59.5,654.96 59.96,654.65 60.42,654.11 60.88,652.99 61.34,651.72 61.8,651.06 62.26,649.03 62.72,646.23 63.18,642.96 63.64,638.18 64.1,632.36 64.56,637.34 65.02,641.3 65.48,644.46 65.94,646.64 66.4,648.12 66.86,649.63 67.32,650.72 67.78,651.44 68.24,651.34 68.7,652.1 69.16,652.31 69.62,653.04 70.08,653.29 70.54,653.61 71,653.86 71.46,654.04 71.92,654.1 72.38,654.59 72.84,654.34 73.3,654.43 73.76,654.94 74.22,654.86 74.68,655.16 75.14,655.3 75.6,655.43 76.06,655.8 76.52,656.47 76.98,656.34 77.44,656.48 77.9,656.67 78.36,656.43 78.82,656.85 79.28,656.96 79.74,656.81 80.2,656.71 80.66,656.8 81.12,657.08 81.58,657.36 82.04,657.49 82.5,657.2 82.96,657.28 83.42,657.63 83.88,657.58 84.34,657.87 84.8,658.14 85.26,657.7 85.72,657.5 86.18,656.92 86.64,657.18 87.1,657.1 87.56,657.5 88.02,657.85 88.48,657.13 88.94,657.3 89.4,657.63 89.86,658.27 90.32,658.23 90.78,658.91 91.24,658.75 91.7,658.76 92.16,659.14 92.62,659.04 93.08,659.09 93.54,659.21 94,658.94 94.46,658.74 94.92,658.8 95.38,658.9 95.84,658.56 96.3,658.88 96.76,659.04 97.22,658.95 97.68,659.31 98.14,659.1 98.6,658.8" fill="none" stroke="#2c4170" stroke-width="2.1" stroke-linejoin="round"/>
<rect x="29.6" y="600.7" width="69" height="63.6" fill="none" stroke="#3a3232" stroke-width="1.2" />
<line x1="27.4" y1="602.2" x2="29.6" y2="602.2" stroke="#3a3232" stroke-width="1.1" />
<text x="26.4" y="604.8" font-size="7.6" text-anchor="end" fill="#333" >1.5</text>
<line x1="27.4" y1="622.8" x2="29.6" y2="622.8" stroke="#3a3232" stroke-width="1.1" />
<text x="26.4" y="625.4" font-size="7.6" text-anchor="end" fill="#333" >1.0</text>
<line x1="27.4" y1="643.4" x2="29.6" y2="643.4" stroke="#3a3232" stroke-width="1.1" />
<text x="26.4" y="646" font-size="7.6" text-anchor="end" fill="#333" >0.5</text>
<line x1="27.4" y1="664" x2="29.6" y2="664" stroke="#3a3232" stroke-width="1.1" />
<text x="26.4" y="666.6" font-size="7.6" text-anchor="end" fill="#333" >0.0</text>
<line x1="29.6" y1="664.3" x2="29.6" y2="666.7" stroke="#3a3232" stroke-width="1.1" />
<line x1="64.1" y1="664.3" x2="64.1" y2="666.7" stroke="#3a3232" stroke-width="1.1" />
<line x1="98.6" y1="664.3" x2="98.6" y2="666.7" stroke="#3a3232" stroke-width="1.1" />
<text x="64.1" y="595" font-size="12.1" text-anchor="middle" fill="#222" >Senescent-1</text>
<text x="31.2" y="675.3" font-size="9.4" text-anchor="start" fill="#333" >-3.0</text>
<text x="64.1" y="675.3" font-size="9.4" text-anchor="middle" fill="#333" >TSS</text>
<text x="106.6" y="675.3" font-size="9.4" text-anchor="end" fill="#333" >3.0Kb</text>
<polyline clip-path="url(#lpe201)" points="105.15,660.85 105.61,660.83 106.07,660.67 106.53,660.82 106.99,660.9 107.45,661.43 107.91,661.78 108.37,661.38 108.83,661.82 109.29,661.3 109.75,661.31 110.21,661.28 110.67,661.47 111.13,661.41 111.59,661.43 112.05,661.27 112.51,661.19 112.97,661.26 113.43,661.18 113.89,660.83 114.35,660.86 114.81,660.65 115.27,660.7 115.73,661.19 116.19,660.61 116.65,660.58 117.11,660.22 117.57,660.17 118.03,660.65 118.49,660.37 118.95,660.34 119.41,660.85 119.87,660.68 120.33,660.65 120.79,660 121.25,659.65 121.71,660.23 122.17,660 122.63,659.5 123.09,659.41 123.55,659.56 124.01,658.91 124.47,659.43 124.93,658.61 125.39,658.15 125.85,658.15 126.31,657.76 126.77,658.56 127.23,658.66 127.69,658.5 128.15,658.64 128.61,658.65 129.07,658.6 129.53,658.74 129.99,658.39 130.45,657.92 130.91,657.92 131.37,658.26 131.83,658.37 132.29,658.23 132.75,657.83 133.21,657.43 133.67,657.46 134.13,656.39 134.59,656.51 135.05,655.81 135.51,654.93 135.97,654.09 136.43,653.1 136.89,652.17 137.35,650.2 137.81,648.15 138.27,645.85 138.73,642.23 139.19,637.34 139.65,631.41 140.11,636.98 140.57,641.48 141.03,643.68 141.49,646.55 141.95,648.04 142.41,649.05 142.87,650.17 143.33,651.08 143.79,651.74 144.25,652.75 144.71,653.25 145.17,653.7 145.63,653.48 146.09,654.1 146.55,654.25 147.01,654.75 147.47,655.23 147.93,654.97 148.39,654.91 148.85,655.18 149.31,655.38 149.77,655.46 150.23,655.67 150.69,656.03 151.15,655.55 151.61,655.76 152.07,656.22 152.53,656.43 152.99,656.28 153.45,655.53 153.91,655.28 154.37,655.7 154.83,656.63 155.29,656.97 155.75,657.47 156.21,657.65 156.67,657.61 157.13,657.54 157.59,657.97 158.05,658.29 158.51,658.17 158.97,658.68 159.43,658.39 159.89,658.3 160.35,658.02 160.81,658.34 161.27,657.92 161.73,657.61 162.19,658.13 162.65,658.11 163.11,658.66 163.57,658.2 164.03,657.43 164.49,657.6 164.95,657.91 165.41,658.39 165.87,658.32 166.33,658.38 166.79,658.72 167.25,659.28 167.71,659.36 168.17,659.33 168.63,659.03 169.09,658.94 169.55,658.92 170.01,658.95 170.47,658.92 170.93,659.09 171.39,659.77 171.85,659.82 172.31,659.43 172.77,659.43 173.23,659.56 173.69,659.35 174.15,659.42" fill="none" stroke="#2c4170" stroke-width="2.1" stroke-linejoin="round"/>
<rect x="105.15" y="600.7" width="69" height="63.6" fill="none" stroke="#3a3232" stroke-width="1.2" />
<line x1="102.95" y1="602.2" x2="105.15" y2="602.2" stroke="#3a3232" stroke-width="1.1" />
<line x1="102.95" y1="622.8" x2="105.15" y2="622.8" stroke="#3a3232" stroke-width="1.1" />
<line x1="102.95" y1="643.4" x2="105.15" y2="643.4" stroke="#3a3232" stroke-width="1.1" />
<line x1="102.95" y1="664" x2="105.15" y2="664" stroke="#3a3232" stroke-width="1.1" />
<line x1="105.15" y1="664.3" x2="105.15" y2="666.7" stroke="#3a3232" stroke-width="1.1" />
<line x1="139.65" y1="664.3" x2="139.65" y2="666.7" stroke="#3a3232" stroke-width="1.1" />
<line x1="174.15" y1="664.3" x2="174.15" y2="666.7" stroke="#3a3232" stroke-width="1.1" />
<text x="139.65" y="595" font-size="12.1" text-anchor="middle" fill="#222" >Senescent-2</text>
<text x="106.75" y="675.3" font-size="9.4" text-anchor="start" fill="#333" >-3.0</text>
<text x="139.65" y="675.3" font-size="9.4" text-anchor="middle" fill="#333" >TSS</text>
<text x="182.15" y="675.3" font-size="9.4" text-anchor="end" fill="#333" >3.0Kb</text>
<polyline clip-path="url(#lpe202)" points="180.7,660.61 181.16,661.24 181.62,661.23 182.08,660.83 182.54,661.24 183,662 183.46,662.18 183.92,661.16 184.38,660.39 184.84,660.32 185.3,660.24 185.76,659.86 186.22,660.75 186.68,661.18 187.14,661.74 187.6,661.33 188.06,661.06 188.52,660.58 188.98,661.15 189.44,660.67 189.9,660.55 190.36,660.55 190.82,660.42 191.28,659.99 191.74,660.9 192.2,660.43 192.66,660.3 193.12,660.05 193.58,659.3 194.04,660.04 194.5,659.91 194.96,659.92 195.42,659.77 195.88,659.32 196.34,659.06 196.8,659.12 197.26,658.73 197.72,658.38 198.18,658.19 198.64,658.31 199.1,657.6 199.56,657.46 200.02,657.37 200.48,657.27 200.94,657.1 201.4,655.84 201.86,655.52 202.32,655.6 202.78,655.69 203.24,655.5 203.7,655.35 204.16,654.99 204.62,655.72 205.08,655.65 205.54,655.66 206,655.27 206.46,655.56 206.92,655.41 207.38,655.73 207.84,654.16 208.3,654.08 208.76,653.8 209.22,652.24 209.68,652.42 210.14,652.8 210.6,650.9 211.06,649.24 211.52,647.79 211.98,646.3 212.44,644.07 212.9,642.69 213.36,640.69 213.82,636.54 214.28,630.34 214.74,623.12 215.2,613.82 215.66,622.5 216.12,628.61 216.58,633.6 217.04,637.29 217.5,639.79 217.96,642.1 218.42,644.18 218.88,645.86 219.34,646.83 219.8,647.63 220.26,647.82 220.72,648.24 221.18,648.96 221.64,649.53 222.1,649.49 222.56,649.91 223.02,649.99 223.48,650.68 223.94,650.67 224.4,650.87 224.86,651.24 225.32,651.75 225.78,651.21 226.24,650.61 226.7,650.34 227.16,650.83 227.62,651.51 228.08,652.72 228.54,653.09 229,653.83 229.46,654.25 229.92,654.63 230.38,654.46 230.84,654.19 231.3,654.4 231.76,653.74 232.22,653.53 232.68,653.08 233.14,653.14 233.6,653.84 234.06,653.99 234.52,655.09 234.98,656.54 235.44,656.63 235.9,656.83 236.36,657.19 236.82,657.45 237.28,656.23 237.74,656.44 238.2,656.2 238.66,655.99 239.12,655.55 239.58,655.38 240.04,655.12 240.5,656.45 240.96,656.9 241.42,657.56 241.88,657.54 242.34,658.04 242.8,658.19 243.26,657.6 243.72,658 244.18,658.26 244.64,657.8 245.1,657.44 245.56,658.71 246.02,658.86 246.48,659.54 246.94,658.97 247.4,659.17 247.86,659.34 248.32,658.79 248.78,658.17 249.24,658.16 249.7,659.08" fill="none" stroke="#2c4170" stroke-width="2.1" stroke-linejoin="round"/>
<rect x="180.7" y="600.7" width="69" height="63.6" fill="none" stroke="#3a3232" stroke-width="1.2" />
<line x1="178.5" y1="602.2" x2="180.7" y2="602.2" stroke="#3a3232" stroke-width="1.1" />
<line x1="178.5" y1="622.8" x2="180.7" y2="622.8" stroke="#3a3232" stroke-width="1.1" />
<line x1="178.5" y1="643.4" x2="180.7" y2="643.4" stroke="#3a3232" stroke-width="1.1" />
<line x1="178.5" y1="664" x2="180.7" y2="664" stroke="#3a3232" stroke-width="1.1" />
<line x1="180.7" y1="664.3" x2="180.7" y2="666.7" stroke="#3a3232" stroke-width="1.1" />
<line x1="215.2" y1="664.3" x2="215.2" y2="666.7" stroke="#3a3232" stroke-width="1.1" />
<line x1="249.7" y1="664.3" x2="249.7" y2="666.7" stroke="#3a3232" stroke-width="1.1" />
<text x="217.4" y="595" font-size="12.1" text-anchor="middle" fill="#222" >Force (+)-1</text>
<text x="182.3" y="675.3" font-size="9.4" text-anchor="start" fill="#333" >-3.0</text>
<text x="215.2" y="675.3" font-size="9.4" text-anchor="middle" fill="#333" >TSS</text>
<text x="257.7" y="675.3" font-size="9.4" text-anchor="end" fill="#333" >3.0Kb</text>
<polyline clip-path="url(#lpe203)" points="256.25,659.95 256.71,659.77 257.17,660.34 257.63,660.61 258.09,660.49 258.55,661.08 259.01,660.58 259.47,661.08 259.93,660.97 260.39,661.51 260.85,661.19 261.31,660.73 261.77,660.42 262.23,660.54 262.69,661.71 263.15,661.63 263.61,661.3 264.07,660.61 264.53,660.68 264.99,660.29 265.45,660.24 265.91,660.55 266.37,659.82 266.83,659.62 267.29,659.74 267.75,659.48 268.21,658.72 268.67,658.94 269.13,659.5 269.59,658.92 270.05,659.74 270.51,659.14 270.97,658.2 271.43,657.8 271.89,657.49 272.35,657.63 272.81,657.62 273.27,656.94 273.73,657.03 274.19,655.57 274.65,655.44 275.11,654.69 275.57,654.17 276.03,654.35 276.49,654.01 276.95,654.11 277.41,654.3 277.87,654.61 278.33,654.98 278.79,654.84 279.25,655.04 279.71,655.76 280.17,655.39 280.63,655.31 281.09,655.87 281.55,655.18 282.01,655.28 282.47,655.27 282.93,654.32 283.39,654.89 283.85,652.75 284.31,652.86 284.77,651.09 285.23,651.36 285.69,650.61 286.15,650.13 286.61,648.94 287.07,647.28 287.53,644.87 287.99,642.77 288.45,639.18 288.91,635.61 289.37,629.66 289.83,623.19 290.29,614.61 290.75,602.85 291.21,613.67 291.67,622.67 292.13,628.16 292.59,633.02 293.05,636.14 293.51,638.46 293.97,641.2 294.43,642.75 294.89,644.17 295.35,645.12 295.81,645.14 296.27,645.14 296.73,645.26 297.19,646.56 297.65,647.66 298.11,648.29 298.57,648.63 299.03,648.41 299.49,648.32 299.95,649.11 300.41,648.21 300.87,647.7 301.33,648.24 301.79,648.69 302.25,648.75 302.71,649.58 303.17,650.11 303.63,650.71 304.09,650.44 304.55,650.88 305.01,652.32 305.47,652.07 305.93,652.42 306.39,651.84 306.85,650.94 307.31,650.47 307.77,650.86 308.23,650.56 308.69,651.25 309.15,651.84 309.61,652.25 310.07,652.93 310.53,653.26 310.99,654.28 311.45,654.7 311.91,654.86 312.37,654.35 312.83,654.21 313.29,654.07 313.75,653.52 314.21,654.16 314.67,654.84 315.13,655.41 315.59,655.91 316.05,655.83 316.51,656.2 316.97,657.42 317.43,657.82 317.89,658.65 318.35,657.98 318.81,657.68 319.27,658.78 319.73,658.43 320.19,658.57 320.65,658.66 321.11,658.8 321.57,658.41 322.03,657.92 322.49,658.14 322.95,657.57 323.41,657.34 323.87,657.47 324.33,657.07 324.79,656.66 325.25,657.76" fill="none" stroke="#2c4170" stroke-width="2.1" stroke-linejoin="round"/>
<rect x="256.25" y="600.7" width="69" height="63.6" fill="none" stroke="#3a3232" stroke-width="1.2" />
<line x1="254.05" y1="602.2" x2="256.25" y2="602.2" stroke="#3a3232" stroke-width="1.1" />
<line x1="254.05" y1="622.8" x2="256.25" y2="622.8" stroke="#3a3232" stroke-width="1.1" />
<line x1="254.05" y1="643.4" x2="256.25" y2="643.4" stroke="#3a3232" stroke-width="1.1" />
<line x1="254.05" y1="664" x2="256.25" y2="664" stroke="#3a3232" stroke-width="1.1" />
<line x1="256.25" y1="664.3" x2="256.25" y2="666.7" stroke="#3a3232" stroke-width="1.1" />
<line x1="290.75" y1="664.3" x2="290.75" y2="666.7" stroke="#3a3232" stroke-width="1.1" />
<line x1="325.25" y1="664.3" x2="325.25" y2="666.7" stroke="#3a3232" stroke-width="1.1" />
<text x="291.55" y="595" font-size="12.1" text-anchor="middle" fill="#222" >Force (+)-2</text>
<text x="257.85" y="675.3" font-size="9.4" text-anchor="start" fill="#333" >-3.0</text>
<text x="290.75" y="675.3" font-size="9.4" text-anchor="middle" fill="#333" >TSS</text>
<text x="333.25" y="675.3" font-size="9.4" text-anchor="end" fill="#333" >3.0Kb</text>
<polyline clip-path="url(#lpe204)" points="331.8,660.75 332.26,660.6 332.72,660.76 333.18,660.78 333.64,661.02 334.1,660.79 334.56,660.75 335.02,660.85 335.48,660.56 335.94,660.54 336.4,659.99 336.86,659.92 337.32,659.36 337.78,659.81 338.24,659.9 338.7,660.21 339.16,660.09 339.62,659.79 340.08,659.86 340.54,659.65 341,659.83 341.46,659.43 341.92,659.77 342.38,659.02 342.84,659 343.3,659.19 343.76,659.65 344.22,659.34 344.68,658.12 345.14,657.99 345.6,658.39 346.06,658.35 346.52,658.75 346.98,657.82 347.44,658.04 347.9,657.8 348.36,657.32 348.82,657.3 349.28,658.01 349.74,657.41 350.2,656.89 350.66,657.46 351.12,657.13 351.58,657.22 352.04,657.31 352.5,657.55 352.96,656.28 353.42,656.52 353.88,657.17 354.34,656.57 354.8,656.83 355.26,656.39 355.72,656.49 356.18,657.07 356.64,656.52 357.1,656.36 357.56,655.09 358.02,654.63 358.48,655.02 358.94,654.71 359.4,654.46 359.86,654.65 360.32,653.72 360.78,653.27 361.24,652.66 361.7,651.15 362.16,649.91 362.62,648.93 363.08,646.69 363.54,644.71 364,641.07 364.46,638.91 364.92,634.53 365.38,629.11 365.84,621.61 366.3,611.09 366.76,620.49 367.22,628.24 367.68,633.12 368.14,636.65 368.6,639.68 369.06,642.22 369.52,643.92 369.98,645.75 370.44,646.47 370.9,647.03 371.36,647.74 371.82,648.6 372.28,650.27 372.74,650.17 373.2,650.56 373.66,650.11 374.12,651.27 374.58,650.84 375.04,650.54 375.5,651.18 375.96,651.09 376.42,650.47 376.88,651.3 377.34,650.89 377.8,651.5 378.26,652.11 378.72,652.63 379.18,652.18 379.64,651.71 380.1,652.44 380.56,652.82 381.02,653.61 381.48,653.99 381.94,653.76 382.4,655.13 382.86,655.09 383.32,656.31 383.78,656.14 384.24,655.2 384.7,655.42 385.16,655.76 385.62,655.18 386.08,655.81 386.54,655.97 387,656.31 387.46,655.66 387.92,655.23 388.38,655.46 388.84,655.44 389.3,655.86 389.76,655.96 390.22,656.31 390.68,656.35 391.14,656.62 391.6,657.31 392.06,656.84 392.52,656.81 392.98,656.62 393.44,657.51 393.9,657.58 394.36,657.81 394.82,657.36 395.28,657.53 395.74,657.54 396.2,657.52 396.66,657.63 397.12,657.53 397.58,657.71 398.04,658.21 398.5,658.33 398.96,658.12 399.42,658.09 399.88,657.9 400.34,658.39 400.8,658.68" fill="none" stroke="#2c4170" stroke-width="2.1" stroke-linejoin="round"/>
<rect x="331.8" y="600.7" width="69" height="63.6" fill="none" stroke="#3a3232" stroke-width="1.2" />
<line x1="329.6" y1="602.2" x2="331.8" y2="602.2" stroke="#3a3232" stroke-width="1.1" />
<line x1="329.6" y1="622.8" x2="331.8" y2="622.8" stroke="#3a3232" stroke-width="1.1" />
<line x1="329.6" y1="643.4" x2="331.8" y2="643.4" stroke="#3a3232" stroke-width="1.1" />
<line x1="329.6" y1="664" x2="331.8" y2="664" stroke="#3a3232" stroke-width="1.1" />
<line x1="331.8" y1="664.3" x2="331.8" y2="666.7" stroke="#3a3232" stroke-width="1.1" />
<line x1="366.3" y1="664.3" x2="366.3" y2="666.7" stroke="#3a3232" stroke-width="1.1" />
<line x1="400.8" y1="664.3" x2="400.8" y2="666.7" stroke="#3a3232" stroke-width="1.1" />
<text x="366.3" y="595" font-size="12.1" text-anchor="middle" fill="#222" >Young-1</text>
<text x="333.4" y="675.3" font-size="9.4" text-anchor="start" fill="#333" >-3.0</text>
<text x="366.3" y="675.3" font-size="9.4" text-anchor="middle" fill="#333" >TSS</text>
<text x="408.8" y="675.3" font-size="9.4" text-anchor="end" fill="#333" >3.0Kb</text>
<polyline clip-path="url(#lpe205)" points="407.35,661.18 407.81,660.7 408.27,661.08 408.73,660.97 409.19,660.68 409.65,660.85 410.11,660.27 410.57,660.43 411.03,659.95 411.49,659.79 411.95,659.91 412.41,659.11 412.87,659.71 413.33,660.18 413.79,659.9 414.25,660.1 414.71,660.08 415.17,660.09 415.63,660.21 416.09,659.59 416.55,659.73 417.01,659.38 417.47,659.04 417.93,658.87 418.39,658.83 418.85,659.18 419.31,659.27 419.77,659.43 420.23,659.43 420.69,660.12 421.15,659.64 421.61,659.02 422.07,659.07 422.53,658.38 422.99,656.92 423.45,657.07 423.91,657.16 424.37,656.98 424.83,656.76 425.29,656.93 425.75,657.03 426.21,657.19 426.67,657.68 427.13,657.39 427.59,656.88 428.05,657 428.51,657.56 428.97,656.97 429.43,657.08 429.89,656.95 430.35,656.96 430.81,656.52 431.27,656.4 431.73,656.8 432.19,656.03 432.65,655.61 433.11,655.35 433.57,655.85 434.03,655.36 434.49,655.29 434.95,655.46 435.41,654.33 435.87,653.74 436.33,652.73 436.79,651.93 437.25,650.56 437.71,649.8 438.17,648.29 438.63,647.27 439.09,644.59 439.55,642.09 440.01,638.84 440.47,634.76 440.93,629.13 441.39,621.25 441.85,611.82 442.31,621.31 442.77,628.29 443.23,633.69 443.69,637.91 444.15,640.41 444.61,642.2 445.07,644.3 445.53,645.54 445.99,646.91 446.45,647.34 446.91,647.91 447.37,649.19 447.83,649.02 448.29,650 448.75,650.02 449.21,649.84 449.67,650.25 450.13,650.11 450.59,651.1 451.05,650.55 451.51,651.29 451.97,651.27 452.43,651.56 452.89,651.27 453.35,651.79 453.81,652.2 454.27,652.06 454.73,652.69 455.19,653.04 455.65,652.79 456.11,652.93 456.57,653.53 457.03,654.82 457.49,654.46 457.95,654.23 458.41,654.54 458.87,655.53 459.33,656.22 459.79,656.53 460.25,656.29 460.71,656.57 461.17,656.62 461.63,656.02 462.09,656.14 462.55,655.69 463.01,655.86 463.47,655.03 463.93,654.1 464.39,653.78 464.85,653.77 465.31,653.15 465.77,653.59 466.23,654.98 466.69,655.65 467.15,656.41 467.61,657.2 468.07,657.39 468.53,657.56 468.99,657.59 469.45,657.57 469.91,657.79 470.37,657.55 470.83,658.22 471.29,657.58 471.75,658.62 472.21,658.63 472.67,658.96 473.13,658.97 473.59,658.64 474.05,658.6 474.51,657.86 474.97,658.4 475.43,658.38 475.89,658.44 476.35,658.7" fill="none" stroke="#2c4170" stroke-width="2.1" stroke-linejoin="round"/>
<rect x="407.35" y="600.7" width="69" height="63.6" fill="none" stroke="#3a3232" stroke-width="1.2" />
<line x1="405.15" y1="602.2" x2="407.35" y2="602.2" stroke="#3a3232" stroke-width="1.1" />
<line x1="405.15" y1="622.8" x2="407.35" y2="622.8" stroke="#3a3232" stroke-width="1.1" />
<line x1="405.15" y1="643.4" x2="407.35" y2="643.4" stroke="#3a3232" stroke-width="1.1" />
<line x1="405.15" y1="664" x2="407.35" y2="664" stroke="#3a3232" stroke-width="1.1" />
<line x1="407.35" y1="664.3" x2="407.35" y2="666.7" stroke="#3a3232" stroke-width="1.1" />
<line x1="441.85" y1="664.3" x2="441.85" y2="666.7" stroke="#3a3232" stroke-width="1.1" />
<line x1="476.35" y1="664.3" x2="476.35" y2="666.7" stroke="#3a3232" stroke-width="1.1" />
<text x="441.85" y="595" font-size="12.1" text-anchor="middle" fill="#222" >Young-2</text>
<text x="408.95" y="675.3" font-size="9.4" text-anchor="start" fill="#333" >-3.0</text>
<text x="441.85" y="675.3" font-size="9.4" text-anchor="middle" fill="#333" >TSS</text>
<text x="484.35" y="675.3" font-size="9.4" text-anchor="end" fill="#333" >3.0Kb</text>
<polyline clip-path="url(#lpe206)" points="482.9,660.4 483.36,660.49 483.82,660.62 484.28,661.28 484.74,660.31 485.2,661 485.66,660.75 486.12,660.46 486.58,661.01 487.04,660.93 487.5,660.6 487.96,660.07 488.42,660.36 488.88,659.94 489.34,660.36 489.8,660.67 490.26,661.08 490.72,660.62 491.18,660.85 491.64,660.81 492.1,660.39 492.56,660.54 493.02,660.57 493.48,660.38 493.94,659.9 494.4,660.27 494.86,660.52 495.32,660.81 495.78,660.6 496.24,660.44 496.7,660.96 497.16,660.91 497.62,660.49 498.08,660.38 498.54,660.17 499,660.09 499.46,659.74 499.92,659.36 500.38,659.84 500.84,660.35 501.3,660.2 501.76,659.75 502.22,658.78 502.68,659.71 503.14,659.25 503.6,658.89 504.06,658.43 504.52,658.11 504.98,658.34 505.44,658.57 505.9,658.2 506.36,657.79 506.82,658.66 507.28,658.46 507.74,658.01 508.2,657.84 508.66,657.63 509.12,657.47 509.58,657.72 510.04,657.52 510.5,657.2 510.96,657.15 511.42,656.32 511.88,656.43 512.34,655.95 512.8,654.42 513.26,653.94 513.72,653.23 514.18,652.24 514.64,651.49 515.1,649.77 515.56,647.99 516.02,645.48 516.48,641.29 516.94,636.62 517.4,630.39 517.86,636.41 518.32,640.3 518.78,643.53 519.24,645.34 519.7,647.27 520.16,647.97 520.62,649.58 521.08,650.79 521.54,651.67 522,652.06 522.46,652.95 522.92,653.28 523.38,653.58 523.84,653.61 524.3,654.43 524.76,653.69 525.22,653.65 525.68,653.47 526.14,654.05 526.6,654.03 527.06,653.93 527.52,653.95 527.98,653.78 528.44,654.4 528.9,654.18 529.36,654.6 529.82,654.95 530.28,655.36 530.74,655.65 531.2,655.76 531.66,656.2 532.12,656.03 532.58,656.73 533.04,656.86 533.5,656.27 533.96,656.27 534.42,656.99 534.88,656.76 535.34,656.46 535.8,655.98 536.26,656.05 536.72,656.84 537.18,656.68 537.64,657.23 538.1,658.09 538.56,657.68 539.02,658.44 539.48,658.77 539.94,657.95 540.4,658.44 540.86,658.68 541.32,658.26 541.78,657.4 542.24,657.69 542.7,657.66 543.16,656.91 543.62,657.4 544.08,658.26 544.54,658.19 545,657.98 545.46,658.7 545.92,659.33 546.38,660 546.84,659.75 547.3,660.1 547.76,659.97 548.22,659.79 548.68,659.54 549.14,659.46 549.6,659.39 550.06,659.43 550.52,659.65 550.98,658.94 551.44,658.85 551.9,659.17" fill="none" stroke="#2c4170" stroke-width="2.1" stroke-linejoin="round"/>
<rect x="482.9" y="600.7" width="69" height="63.6" fill="none" stroke="#3a3232" stroke-width="1.2" />
<line x1="480.7" y1="602.2" x2="482.9" y2="602.2" stroke="#3a3232" stroke-width="1.1" />
<line x1="480.7" y1="622.8" x2="482.9" y2="622.8" stroke="#3a3232" stroke-width="1.1" />
<line x1="480.7" y1="643.4" x2="482.9" y2="643.4" stroke="#3a3232" stroke-width="1.1" />
<line x1="480.7" y1="664" x2="482.9" y2="664" stroke="#3a3232" stroke-width="1.1" />
<line x1="482.9" y1="664.3" x2="482.9" y2="666.7" stroke="#3a3232" stroke-width="1.1" />
<line x1="517.4" y1="664.3" x2="517.4" y2="666.7" stroke="#3a3232" stroke-width="1.1" />
<line x1="551.9" y1="664.3" x2="551.9" y2="666.7" stroke="#3a3232" stroke-width="1.1" />
<text x="518.2" y="595" font-size="12.1" text-anchor="middle" fill="#222" >Force (-)-1</text>
<text x="484.5" y="675.3" font-size="9.4" text-anchor="start" fill="#333" >-3.0</text>
<text x="517.4" y="675.3" font-size="9.4" text-anchor="middle" fill="#333" >TSS</text>
<text x="559.9" y="675.3" font-size="9.4" text-anchor="end" fill="#333" >3.0Kb</text>
<polyline clip-path="url(#lpe207)" points="558.45,661.19 558.91,661.01 559.37,660.72 559.83,660.89 560.29,660.52 560.75,660.14 561.21,660.64 561.67,660.2 562.13,660.3 562.59,660.52 563.05,660.7 563.51,660.5 563.97,660.89 564.43,660.06 564.89,660.16 565.35,659.99 565.81,660.14 566.27,660.12 566.73,660.2 567.19,660.26 567.65,660.23 568.11,660.83 568.57,661 569.03,660.3 569.49,660.12 569.95,660.36 570.41,660.47 570.87,660.58 571.33,660.57 571.79,660.16 572.25,660.68 572.71,660.4 573.17,660.55 573.63,660.17 574.09,660.1 574.55,660.42 575.01,660.47 575.47,660.8 575.93,660.23 576.39,660.18 576.85,659.94 577.31,659.17 577.77,659.28 578.23,658.79 578.69,659.08 579.15,658.18 579.61,658.48 580.07,658.35 580.53,658.15 580.99,658.08 581.45,658.06 581.91,657.44 582.37,657.92 582.83,657.35 583.29,657.06 583.75,657.35 584.21,658.27 584.67,657.91 585.13,657.98 585.59,658.04 586.05,658.13 586.51,657.66 586.97,656.93 587.43,656.48 587.89,655.86 588.35,655.17 588.81,654.46 589.27,653.37 589.73,652.76 590.19,651.28 590.65,650.27 591.11,648.33 591.57,645.44 592.03,642.11 592.49,637.13 592.95,632.53 593.41,637.39 593.87,641.18 594.33,644.5 594.79,646.75 595.25,647.9 595.71,648.73 596.17,650.3 596.63,651.37 597.09,652.06 597.55,652.41 598.01,652.75 598.47,652.34 598.93,652.83 599.39,653.62 599.85,654.13 600.31,654.49 600.77,654.57 601.23,654.95 601.69,655.34 602.15,655.9 602.61,656.39 603.07,655.92 603.53,655.55 603.99,655.29 604.45,655.23 604.91,655.44 605.37,655.61 605.83,655.67 606.29,656.1 606.75,656.49 607.21,656.32 607.67,656.41 608.13,655.93 608.59,657.33 609.05,657.04 609.51,657.82 609.97,658.23 610.43,657.64 610.89,657.84 611.35,657.96 611.81,657.21 612.27,657.27 612.73,657.39 613.19,657.31 613.65,657.51 614.11,658.13 614.57,658.37 615.03,658.46 615.49,658.11 615.95,658.37 616.41,658.25 616.87,658.8 617.33,658.62 617.79,658.73 618.25,658.66 618.71,658.93 619.17,658.58 619.63,658.78 620.09,659.11 620.55,658.88 621.01,659.02 621.47,659.05 621.93,659.19 622.39,659.12 622.85,659.2 623.31,659.26 623.77,659.26 624.23,659.22 624.69,659.43 625.15,659.84 625.61,659.24 626.07,659.28 626.53,659.8 626.99,660.15 627.45,659.75" fill="none" stroke="#2c4170" stroke-width="2.1" stroke-linejoin="round"/>
<line x1="592.55" y1="631.86" x2="607.05" y2="631.86" stroke="#2c4170" stroke-width="1.6" />
<text x="606.75" y="634.46" font-size="9.4" text-anchor="start" fill="#333" >peak</text>
<rect x="558.45" y="600.7" width="69" height="63.6" fill="none" stroke="#3a3232" stroke-width="1.2" />
<line x1="556.25" y1="602.2" x2="558.45" y2="602.2" stroke="#3a3232" stroke-width="1.1" />
<line x1="556.25" y1="622.8" x2="558.45" y2="622.8" stroke="#3a3232" stroke-width="1.1" />
<line x1="556.25" y1="643.4" x2="558.45" y2="643.4" stroke="#3a3232" stroke-width="1.1" />
<line x1="556.25" y1="664" x2="558.45" y2="664" stroke="#3a3232" stroke-width="1.1" />
<line x1="558.45" y1="664.3" x2="558.45" y2="666.7" stroke="#3a3232" stroke-width="1.1" />
<line x1="592.95" y1="664.3" x2="592.95" y2="666.7" stroke="#3a3232" stroke-width="1.1" />
<line x1="627.45" y1="664.3" x2="627.45" y2="666.7" stroke="#3a3232" stroke-width="1.1" />
<text x="593.75" y="595" font-size="12.1" text-anchor="middle" fill="#222" >Force (-)-2</text>
<text x="560.05" y="675.3" font-size="9.4" text-anchor="start" fill="#333" >-3.0</text>
<text x="592.95" y="675.3" font-size="9.4" text-anchor="middle" fill="#333" >TSS</text>
<text x="635.45" y="675.3" font-size="9.4" text-anchor="end" fill="#333" >3.0Kb</text>
<rect x="29.6" y="682.2" width="69" height="112.5" fill="#f8f8fc" />
<rect x="29.6" y="682.2" width="69" height="56.25" fill="url(#hehz)" />
<g clip-path="url(#hecl0)"><g filter="url(#heb)"><ellipse cx="65.82" cy="682.5" rx="3.3" ry="0.84" fill="#2e2378"/><ellipse cx="62.87" cy="682.5" rx="5.06" ry="0.85" fill="#241a62"/><ellipse cx="60.36" cy="683.47" rx="4.59" ry="0.89" fill="#30257c"/><ellipse cx="63.39" cy="686.06" rx="4.14" ry="0.97" fill="#241a62"/><ellipse cx="67.87" cy="688.08" rx="1.72" ry="1.19" fill="#544a9b"/><ellipse cx="64" cy="689.03" rx="1.92" ry="0.97" fill="#584e9f"/><ellipse cx="68.68" cy="690.19" rx="1.97" ry="1.27" fill="#30247b"/><ellipse cx="65.19" cy="690.19" rx="3.47" ry="0.87" fill="#291f6d"/><ellipse cx="61" cy="691.31" rx="4.71" ry="0.93" fill="#5f56a4"/><ellipse cx="62.9" cy="691.31" rx="1.95" ry="1.06" fill="#6158a6"/><ellipse cx="68.17" cy="693.75" rx="3.31" ry="0.94" fill="#2f2379"/><ellipse cx="64.05" cy="693.75" rx="2.08" ry="0.91" fill="#5a51a1"/><ellipse cx="64.5" cy="694.77" rx="4.25" ry="1.09" fill="#2f247a"/><ellipse cx="63.35" cy="695.71" rx="2.83" ry="1.2" fill="#473d91"/><ellipse cx="65.47" cy="697.25" rx="2.57" ry="1.08" fill="#504698"/><ellipse cx="62.58" cy="697.25" rx="3.93" ry="0.94" fill="#2d2275"/><ellipse cx="68.15" cy="698.51" rx="2.68" ry="1.07" fill="#4f4598"/><ellipse cx="64.18" cy="698.51" rx="2.21" ry="0.88" fill="#463b90"/><ellipse cx="62.55" cy="699.73" rx="2.56" ry="0.81" fill="#6d65af"/><ellipse cx="69" cy="700.85" rx="1.87" ry="0.72" fill="#2f2379"/><ellipse cx="65.1" cy="700.85" rx="2.27" ry="1.22" fill="#817bbb"/><ellipse cx="67.09" cy="702.42" rx="2.85" ry="1.01" fill="#342882"/><ellipse cx="63.36" cy="702.42" rx="3.49" ry="0.84" fill="#352982"/><ellipse cx="65.36" cy="705.07" rx="2.48" ry="1.1" fill="#554c9d"/><ellipse cx="60.69" cy="706.07" rx="1.48" ry="1.17" fill="#6b63ae"/><ellipse cx="65.53" cy="706.07" rx="3.02" ry="1.06" fill="#7a73b6"/><ellipse cx="69.86" cy="707.43" rx="3.71" ry="1.03" fill="#544b9c"/><ellipse cx="62.74" cy="709.92" rx="4.01" ry="0.8" fill="#655daa"/><ellipse cx="66.17" cy="709.92" rx="3.62" ry="0.92" fill="#4b4194"/><ellipse cx="69.16" cy="711.18" rx="1.61" ry="1.19" fill="#645ca9"/><ellipse cx="69.05" cy="712.29" rx="3.94" ry="0.89" fill="#453a8f"/><ellipse cx="61.5" cy="712.29" rx="3.62" ry="1.09" fill="#7871b6"/><ellipse cx="64.29" cy="714.55" rx="1.61" ry="1.19" fill="#4e4597"/><ellipse cx="65.91" cy="717" rx="3.12" ry="0.8" fill="#564c9d"/><ellipse cx="66.55" cy="717.94" rx="3.61" ry="1.09" fill="#5f57a5"/><ellipse cx="66.62" cy="719.27" rx="1.81" ry="0.84" fill="#817bbb"/><ellipse cx="63.7" cy="720.52" rx="2.63" ry="0.75" fill="#756eb4"/><ellipse cx="70.35" cy="721.86" rx="1.56" ry="1.05" fill="#584f9f"/><ellipse cx="63.24" cy="722.78" rx="1.29" ry="1.24" fill="#635ba8"/><ellipse cx="62.59" cy="722.78" rx="1.38" ry="0.86" fill="#6b63ae"/><ellipse cx="59.58" cy="724.18" rx="1.49" ry="0.85" fill="#554b9c"/><ellipse cx="61.86" cy="725.52" rx="3.15" ry="1.23" fill="#7c75b8"/><ellipse cx="69.15" cy="728.9" rx="2.46" ry="1.11" fill="#9c97cb"/><ellipse cx="61.71" cy="731.47" rx="2.88" ry="1.3" fill="#8c86c1"/><ellipse cx="61.36" cy="735.66" rx="1.98" ry="0.86" fill="#6b63ae"/><ellipse cx="58.7" cy="736.57" rx="2.71" ry="0.72" fill="#8079ba"/><ellipse cx="61.38" cy="740.47" rx="1.81" ry="1.26" fill="#7871b6"/><ellipse cx="72.87" cy="686.56" rx="3.12" ry="0.88" fill="#7b74b7"/><ellipse cx="61.89" cy="685.9" rx="1.82" ry="0.77" fill="#43388e"/><ellipse cx="78.57" cy="686.64" rx="3.87" ry="0.7" fill="#6860ac"/><ellipse cx="49.92" cy="685.75" rx="4.72" ry="0.59" fill="#2f2379"/><ellipse cx="76.97" cy="682.21" rx="1.87" ry="0.63" fill="#6058a6"/><ellipse cx="52.22" cy="687.62" rx="3.67" ry="0.55" fill="#372b84"/><ellipse cx="64.82" cy="684.03" rx="4.78" ry="0.82" fill="#a6a2d0"/><ellipse cx="48.68" cy="686.01" rx="3.11" ry="0.98" fill="#32267f"/><ellipse cx="80.29" cy="683.87" rx="2.42" ry="0.91" fill="#7068b0"/><ellipse cx="68.69" cy="683.6" rx="2.72" ry="0.86" fill="#30247b"/><ellipse cx="66.43" cy="683.62" rx="1.53" ry="0.88" fill="#6860ac"/><ellipse cx="61.87" cy="683.89" rx="3.09" ry="0.61" fill="#483d92"/><ellipse cx="47.91" cy="688.52" rx="1.31" ry="0.85" fill="#473d91"/><ellipse cx="62.59" cy="683.77" rx="1.4" ry="0.84" fill="#e2e0f1"/><ellipse cx="45.82" cy="686.46" rx="1.55" ry="0.47" fill="#dcdbee"/><ellipse cx="40.81" cy="723.41" rx="1.78" ry="0.87" fill="#dddbee"/><ellipse cx="62.54" cy="719.8" rx="1.56" ry="0.4" fill="#aaa7d3"/><ellipse cx="42.61" cy="683.42" rx="2.86" ry="0.82" fill="#53499b"/><ellipse cx="75.77" cy="708.15" rx="3.24" ry="0.77" fill="#c0bde0"/><ellipse cx="78.79" cy="684.72" rx="4.07" ry="0.45" fill="#7069b1"/><ellipse cx="38.63" cy="699.91" rx="3.9" ry="0.77" fill="#9e99cb"/><ellipse cx="57.86" cy="683.21" rx="4.42" ry="0.71" fill="#9f9bcc"/><ellipse cx="40.63" cy="768.73" rx="4.42" ry="0.73" fill="#efeef8"/><ellipse cx="88.16" cy="719.2" rx="1.13" ry="0.74" fill="#e6e5f3"/><ellipse cx="54.65" cy="743.73" rx="4.23" ry="0.44" fill="#c9c8e5"/><ellipse cx="37.8" cy="739.62" rx="3.28" ry="0.62" fill="#c7c5e4"/><ellipse cx="48.72" cy="687.97" rx="4.49" ry="0.57" fill="#bcbadd"/><ellipse cx="84.95" cy="687.64" rx="1.62" ry="0.73" fill="#584f9f"/><ellipse cx="58.95" cy="717.43" rx="3.94" ry="0.41" fill="#7b74b7"/><ellipse cx="69.96" cy="760.93" rx="2.84" ry="0.67" fill="#dfddef"/><ellipse cx="67.64" cy="697.15" rx="2.83" ry="0.73" fill="#8882bf"/><ellipse cx="33.27" cy="703.7" rx="2.25" ry="0.79" fill="#e7e6f4"/><ellipse cx="59.16" cy="686.65" rx="4.26" ry="0.74" fill="#4c4295"/><ellipse cx="41.57" cy="703.94" rx="2.88" ry="0.8" fill="#908bc3"/><ellipse cx="55.22" cy="697.38" rx="2.64" ry="0.53" fill="#5b52a1"/><ellipse cx="97.43" cy="751.82" rx="3.8" ry="0.88" fill="#d7d5eb"/><ellipse cx="99.72" cy="742.85" rx="1.31" ry="0.47" fill="#b7b4da"/><ellipse cx="71.03" cy="699.93" rx="1.12" ry="0.49" fill="#cbc9e6"/><ellipse cx="49.03" cy="762.19" rx="1.79" ry="0.78" fill="#dcdaee"/><ellipse cx="76.53" cy="741.72" rx="1.12" ry="0.44" fill="#bfbcdf"/><ellipse cx="42.17" cy="685.38" rx="3.32" ry="0.71" fill="#b6b3da"/><ellipse cx="54.56" cy="697.77" rx="3.35" ry="0.79" fill="#e2e0f1"/><ellipse cx="54.81" cy="685.85" rx="1.34" ry="0.49" fill="#e1dff0"/><ellipse cx="70.05" cy="683.74" rx="4.38" ry="0.87" fill="#aaa6d3"/><ellipse cx="34.29" cy="683.23" rx="3.05" ry="0.88" fill="#d8d7ec"/><ellipse cx="79.93" cy="683.23" rx="1.54" ry="0.5" fill="#7069b1"/><ellipse cx="67.88" cy="708.57" rx="2.23" ry="0.52" fill="#e5e4f3"/><ellipse cx="63.58" cy="725.99" rx="3.33" ry="0.8" fill="#cccae6"/><ellipse cx="74.49" cy="742.89" rx="2.67" ry="0.9" fill="#c5c4e3"/><ellipse cx="74.43" cy="693.09" rx="4.16" ry="0.53" fill="#665eab"/><ellipse cx="64.41" cy="744.29" rx="1.13" ry="0.79" fill="#e3e2f2"/><ellipse cx="18.71" cy="683.43" rx="4.25" ry="0.62" fill="#483e92"/><ellipse cx="64.65" cy="689.14" rx="1.95" ry="0.66" fill="#e0def0"/><ellipse cx="61.84" cy="758.69" rx="2.81" ry="0.52" fill="#eceaf6"/><ellipse cx="63.39" cy="685.09" rx="2.82" ry="0.88" fill="#dcdaee"/><ellipse cx="73.46" cy="685.47" rx="1.16" ry="0.53" fill="#bdbbde"/><ellipse cx="63.27" cy="685.52" rx="4.19" ry="0.5" fill="#5d55a3"/><ellipse cx="81.93" cy="700.79" rx="4.22" ry="0.83" fill="#8e89c3"/><ellipse cx="65.15" cy="750.48" rx="2.3" ry="0.89" fill="#c5c3e3"/><ellipse cx="63.14" cy="683.21" rx="2.95" ry="0.55" fill="#bbb8dd"/><ellipse cx="62.57" cy="687.73" rx="1.15" ry="0.75" fill="#554b9c"/><ellipse cx="79.16" cy="707.99" rx="4.11" ry="0.46" fill="#8c87c1"/><ellipse cx="79.29" cy="719.32" rx="1.97" ry="0.43" fill="#dad9ed"/><ellipse cx="48.86" cy="707.93" rx="1.33" ry="0.59" fill="#655da9"/><ellipse cx="35.44" cy="729.38" rx="4.05" ry="0.73" fill="#c9c7e5"/><ellipse cx="72.51" cy="696.12" rx="1.7" ry="0.56" fill="#dad8ed"/><ellipse cx="79.81" cy="746.81" rx="2.23" ry="0.67" fill="#cbc9e6"/><ellipse cx="83.59" cy="690.77" rx="1.28" ry="0.8" fill="#44398e"/><ellipse cx="65.57" cy="689.46" rx="1.34" ry="0.58" fill="#504698"/><ellipse cx="40" cy="727.9" rx="3.27" ry="0.62" fill="#d3d1e9"/><ellipse cx="64.18" cy="702.05" rx="1.85" ry="0.59" fill="#554b9c"/><ellipse cx="56.42" cy="748.83" rx="3.57" ry="0.71" fill="#ecebf6"/><ellipse cx="61.68" cy="715.85" rx="3.35" ry="0.76" fill="#7b74b7"/><ellipse cx="51.34" cy="690.85" rx="1.56" ry="0.86" fill="#9d99cb"/><ellipse cx="65.72" cy="697.18" rx="1.08" ry="0.64" fill="#6158a6"/><ellipse cx="61.06" cy="688.88" rx="2.75" ry="0.48" fill="#d2d0e9"/><ellipse cx="96.9" cy="697.61" rx="1.23" ry="0.64" fill="#8a85c0"/><ellipse cx="77.14" cy="703.99" rx="4.11" ry="0.79" fill="#e5e3f2"/><ellipse cx="82.43" cy="689.66" rx="3.47" ry="0.66" fill="#b0acd6"/><ellipse cx="76.15" cy="685.08" rx="3.64" ry="0.89" fill="#6b63ae"/><ellipse cx="61.28" cy="691.14" rx="3.25" ry="0.73" fill="#c8c6e4"/><ellipse cx="44.01" cy="725.09" rx="2.89" ry="0.85" fill="#e9e8f5"/><ellipse cx="58.57" cy="716.18" rx="4.27" ry="0.71" fill="#dbdaee"/><ellipse cx="84.63" cy="747.31" rx="2.52" ry="0.45" fill="#d1d0e9"/><ellipse cx="94.5" cy="772.64" rx="2.07" ry="0.69" fill="#f1f0f9"/><ellipse cx="47.61" cy="712.13" rx="1.25" ry="0.67" fill="#d8d6ec"/><ellipse cx="91.31" cy="768.55" rx="1.18" ry="0.83" fill="#f1f0f9"/><ellipse cx="84.05" cy="739.48" rx="3.71" ry="0.64" fill="#c1bfe0"/><ellipse cx="77.67" cy="689.96" rx="4.09" ry="0.68" fill="#8680be"/><ellipse cx="70.66" cy="706.4" rx="1.82" ry="0.5" fill="#d2d0e9"/><ellipse cx="48.74" cy="760.93" rx="2.95" ry="0.87" fill="#d4d2ea"/><ellipse cx="32.64" cy="769.93" rx="1.03" ry="0.75" fill="#e1e0f1"/><ellipse cx="87.85" cy="738.66" rx="3.73" ry="0.75" fill="#cccae6"/><ellipse cx="67.7" cy="708.21" rx="2.19" ry="0.64" fill="#9691c7"/><ellipse cx="83.06" cy="684.02" rx="2.92" ry="0.81" fill="#c2bfe1"/><ellipse cx="90.96" cy="691.2" rx="1.14" ry="0.57" fill="#625aa7"/><ellipse cx="83.44" cy="727.6" rx="2.08" ry="0.57" fill="#c7c5e3"/><ellipse cx="60.36" cy="694.74" rx="12.89" ry="0.35" fill="#e8e7f4"/><ellipse cx="51.1" cy="750.63" rx="14.4" ry="0.35" fill="#e7e5f3"/><ellipse cx="71.68" cy="761.54" rx="16.07" ry="0.35" fill="#e3e2f2"/><ellipse cx="46.56" cy="730.05" rx="6.53" ry="0.35" fill="#e9e8f4"/><ellipse cx="73.2" cy="726.5" rx="13.53" ry="0.35" fill="#e1dff0"/><ellipse cx="60.94" cy="707.85" rx="14.81" ry="0.35" fill="#e1dff0"/><ellipse cx="76.41" cy="757.78" rx="12.15" ry="0.35" fill="#dfdef0"/><ellipse cx="45.35" cy="713.98" rx="5.43" ry="0.35" fill="#dcdaee"/><ellipse cx="51.08" cy="690.73" rx="12.1" ry="0.35" fill="#eae9f5"/><ellipse cx="55.41" cy="765.69" rx="17.61" ry="0.35" fill="#e1e0f1"/><ellipse cx="48.17" cy="743.63" rx="18.6" ry="0.35" fill="#dbdaee"/><ellipse cx="59.94" cy="743.54" rx="9.79" ry="0.35" fill="#e5e4f3"/><ellipse cx="75.75" cy="759.14" rx="8.11" ry="0.35" fill="#e6e5f3"/><ellipse cx="53.39" cy="716.42" rx="12.3" ry="0.35" fill="#e4e3f2"/></g></g>
<rect x="29.6" y="682.2" width="69" height="112.5" fill="none" stroke="#3a3232" stroke-width="1.2" />
<line x1="29.6" y1="794.7" x2="29.6" y2="797.1" stroke="#3a3232" stroke-width="1.1" />
<line x1="64.1" y1="794.7" x2="64.1" y2="797.1" stroke="#3a3232" stroke-width="1.1" />
<line x1="98.6" y1="794.7" x2="98.6" y2="797.1" stroke="#3a3232" stroke-width="1.1" />
<text x="31.2" y="805" font-size="9.4" text-anchor="start" fill="#333" >-3.0</text>
<text x="64.1" y="805" font-size="9.4" text-anchor="middle" fill="#333" >TSS</text>
<text x="106.6" y="805" font-size="9.4" text-anchor="end" fill="#333" >3.0Kb</text>
<rect x="105.15" y="682.2" width="69" height="112.5" fill="#f8f8fc" />
<rect x="105.15" y="682.2" width="69" height="56.25" fill="url(#hehz)" />
<g clip-path="url(#hecl1)"><g filter="url(#heb)"><ellipse cx="141.28" cy="682.5" rx="3.3" ry="0.84" fill="#2e2378"/><ellipse cx="138.17" cy="682.5" rx="5.06" ry="0.85" fill="#241a62"/><ellipse cx="136.01" cy="683.47" rx="4.59" ry="0.89" fill="#30257c"/><ellipse cx="138.8" cy="686.06" rx="4.14" ry="0.97" fill="#241a62"/><ellipse cx="143.73" cy="688.08" rx="1.72" ry="1.19" fill="#544a9b"/><ellipse cx="139.27" cy="689.03" rx="1.92" ry="0.97" fill="#584e9f"/><ellipse cx="144.48" cy="690.19" rx="1.97" ry="1.27" fill="#30247b"/><ellipse cx="141.3" cy="690.19" rx="3.47" ry="0.87" fill="#291f6d"/><ellipse cx="136.33" cy="691.31" rx="4.71" ry="0.93" fill="#5f56a4"/><ellipse cx="138.62" cy="691.31" rx="1.95" ry="1.06" fill="#6158a6"/><ellipse cx="143.59" cy="693.75" rx="3.31" ry="0.94" fill="#2f2379"/><ellipse cx="139.49" cy="693.75" rx="2.08" ry="0.91" fill="#5a51a1"/><ellipse cx="140.23" cy="694.77" rx="4.25" ry="1.09" fill="#2f247a"/><ellipse cx="138.98" cy="695.71" rx="2.83" ry="1.2" fill="#473d91"/><ellipse cx="141.25" cy="697.25" rx="2.57" ry="1.08" fill="#504698"/><ellipse cx="138.13" cy="697.25" rx="3.93" ry="0.94" fill="#2d2275"/><ellipse cx="143.24" cy="698.51" rx="2.68" ry="1.07" fill="#4f4598"/><ellipse cx="139.59" cy="698.51" rx="2.21" ry="0.88" fill="#463b90"/><ellipse cx="137.63" cy="699.73" rx="2.56" ry="0.81" fill="#6d65af"/><ellipse cx="144.38" cy="700.85" rx="1.87" ry="0.72" fill="#2f2379"/><ellipse cx="140.17" cy="700.85" rx="2.27" ry="1.22" fill="#817bbb"/><ellipse cx="142.06" cy="702.42" rx="2.85" ry="1.01" fill="#342882"/><ellipse cx="139.31" cy="702.42" rx="3.49" ry="0.84" fill="#352982"/><ellipse cx="140.96" cy="705.07" rx="2.48" ry="1.1" fill="#554c9d"/><ellipse cx="136.28" cy="706.07" rx="1.48" ry="1.17" fill="#6b63ae"/><ellipse cx="140.84" cy="706.07" rx="3.02" ry="1.06" fill="#7a73b6"/><ellipse cx="145.66" cy="707.43" rx="3.71" ry="1.03" fill="#544b9c"/><ellipse cx="138.22" cy="709.92" rx="4.01" ry="0.8" fill="#655daa"/><ellipse cx="142.23" cy="709.92" rx="3.62" ry="0.92" fill="#4b4194"/><ellipse cx="144.57" cy="711.18" rx="1.61" ry="1.19" fill="#645ca9"/><ellipse cx="145.03" cy="712.29" rx="3.94" ry="0.89" fill="#453a8f"/><ellipse cx="136.46" cy="712.29" rx="3.62" ry="1.09" fill="#7871b6"/><ellipse cx="139.97" cy="714.55" rx="1.61" ry="1.19" fill="#4e4597"/><ellipse cx="141.62" cy="717" rx="3.12" ry="0.8" fill="#564c9d"/><ellipse cx="142.28" cy="717.94" rx="3.61" ry="1.09" fill="#5f57a5"/><ellipse cx="141.7" cy="719.27" rx="1.81" ry="0.84" fill="#817bbb"/><ellipse cx="139.53" cy="720.52" rx="2.63" ry="0.75" fill="#756eb4"/><ellipse cx="146.49" cy="721.86" rx="1.56" ry="1.05" fill="#584f9f"/><ellipse cx="139.08" cy="722.78" rx="1.29" ry="1.24" fill="#635ba8"/><ellipse cx="138.17" cy="722.78" rx="1.38" ry="0.86" fill="#6b63ae"/><ellipse cx="134.95" cy="724.18" rx="1.49" ry="0.85" fill="#554b9c"/><ellipse cx="137.65" cy="725.52" rx="3.15" ry="1.23" fill="#7c75b8"/><ellipse cx="144.61" cy="728.9" rx="2.46" ry="1.11" fill="#9c97cb"/><ellipse cx="137.81" cy="731.47" rx="2.88" ry="1.3" fill="#8c86c1"/><ellipse cx="136.69" cy="735.66" rx="1.98" ry="0.86" fill="#6b63ae"/><ellipse cx="134.25" cy="736.57" rx="2.71" ry="0.72" fill="#8079ba"/><ellipse cx="137.21" cy="740.47" rx="1.81" ry="1.26" fill="#7871b6"/><ellipse cx="148.96" cy="686.56" rx="3.12" ry="0.88" fill="#7b74b7"/><ellipse cx="137.43" cy="685.9" rx="1.82" ry="0.77" fill="#43388e"/><ellipse cx="154.31" cy="686.64" rx="3.87" ry="0.7" fill="#6860ac"/><ellipse cx="125.79" cy="685.75" rx="4.72" ry="0.59" fill="#2f2379"/><ellipse cx="152.92" cy="682.21" rx="1.87" ry="0.63" fill="#6058a6"/><ellipse cx="128.03" cy="687.62" rx="3.67" ry="0.55" fill="#372b84"/><ellipse cx="140.61" cy="684.03" rx="4.78" ry="0.82" fill="#a6a2d0"/><ellipse cx="123.71" cy="686.01" rx="3.11" ry="0.98" fill="#32267f"/><ellipse cx="155.49" cy="683.87" rx="2.42" ry="0.91" fill="#7068b0"/><ellipse cx="144.1" cy="683.6" rx="2.72" ry="0.86" fill="#30247b"/><ellipse cx="141.39" cy="683.62" rx="1.53" ry="0.88" fill="#6860ac"/><ellipse cx="137.45" cy="683.89" rx="3.09" ry="0.61" fill="#483d92"/><ellipse cx="123.02" cy="688.52" rx="1.31" ry="0.85" fill="#473d91"/><ellipse cx="138.2" cy="683.77" rx="1.4" ry="0.84" fill="#e2e0f1"/><ellipse cx="121.67" cy="686.46" rx="1.55" ry="0.47" fill="#dcdbee"/><ellipse cx="116.73" cy="723.41" rx="1.78" ry="0.87" fill="#dddbee"/><ellipse cx="137.76" cy="719.8" rx="1.56" ry="0.4" fill="#aaa7d3"/><ellipse cx="117.63" cy="683.42" rx="2.86" ry="0.82" fill="#53499b"/><ellipse cx="151.9" cy="708.15" rx="3.24" ry="0.77" fill="#c0bde0"/><ellipse cx="154.07" cy="684.72" rx="4.07" ry="0.45" fill="#7069b1"/><ellipse cx="114.33" cy="699.91" rx="3.9" ry="0.77" fill="#9e99cb"/><ellipse cx="132.86" cy="683.21" rx="4.42" ry="0.71" fill="#9f9bcc"/><ellipse cx="116.7" cy="768.73" rx="4.42" ry="0.73" fill="#efeef8"/><ellipse cx="163.55" cy="719.2" rx="1.13" ry="0.74" fill="#e6e5f3"/><ellipse cx="130.48" cy="743.73" rx="4.23" ry="0.44" fill="#c9c8e5"/><ellipse cx="113.45" cy="739.62" rx="3.28" ry="0.62" fill="#c7c5e4"/><ellipse cx="124.59" cy="687.97" rx="4.49" ry="0.57" fill="#bcbadd"/><ellipse cx="161.07" cy="687.64" rx="1.62" ry="0.73" fill="#584f9f"/><ellipse cx="134.61" cy="717.43" rx="3.94" ry="0.41" fill="#7b74b7"/><ellipse cx="145.6" cy="760.93" rx="2.84" ry="0.67" fill="#dfddef"/><ellipse cx="143.22" cy="697.15" rx="2.83" ry="0.73" fill="#8882bf"/><ellipse cx="108.65" cy="703.7" rx="2.25" ry="0.79" fill="#e7e6f4"/><ellipse cx="134.99" cy="686.65" rx="4.26" ry="0.74" fill="#4c4295"/><ellipse cx="117.21" cy="703.94" rx="2.88" ry="0.8" fill="#908bc3"/><ellipse cx="130.44" cy="697.38" rx="2.64" ry="0.53" fill="#5b52a1"/><ellipse cx="172.9" cy="751.82" rx="3.8" ry="0.88" fill="#d7d5eb"/><ellipse cx="175.59" cy="742.85" rx="1.31" ry="0.47" fill="#b7b4da"/><ellipse cx="147.07" cy="699.93" rx="1.12" ry="0.49" fill="#cbc9e6"/><ellipse cx="124.59" cy="762.19" rx="1.79" ry="0.78" fill="#dcdaee"/><ellipse cx="152.52" cy="741.72" rx="1.12" ry="0.44" fill="#bfbcdf"/><ellipse cx="117.75" cy="685.38" rx="3.32" ry="0.71" fill="#b6b3da"/><ellipse cx="130.06" cy="697.77" rx="3.35" ry="0.79" fill="#e2e0f1"/><ellipse cx="129.82" cy="685.85" rx="1.34" ry="0.49" fill="#e1dff0"/><ellipse cx="145.12" cy="683.74" rx="4.38" ry="0.87" fill="#aaa6d3"/><ellipse cx="109.97" cy="683.23" rx="3.05" ry="0.88" fill="#d8d7ec"/><ellipse cx="155.4" cy="683.23" rx="1.54" ry="0.5" fill="#7069b1"/><ellipse cx="143" cy="708.57" rx="2.23" ry="0.52" fill="#e5e4f3"/><ellipse cx="138.58" cy="725.99" rx="3.33" ry="0.8" fill="#cccae6"/><ellipse cx="149.84" cy="742.89" rx="2.67" ry="0.9" fill="#c5c4e3"/><ellipse cx="149.85" cy="693.09" rx="4.16" ry="0.53" fill="#665eab"/><ellipse cx="139.73" cy="744.29" rx="1.13" ry="0.79" fill="#e3e2f2"/><ellipse cx="94.84" cy="683.43" rx="4.25" ry="0.62" fill="#483e92"/><ellipse cx="139.95" cy="689.14" rx="1.95" ry="0.66" fill="#e0def0"/><ellipse cx="137.93" cy="758.69" rx="2.81" ry="0.52" fill="#eceaf6"/><ellipse cx="139.26" cy="685.09" rx="2.82" ry="0.88" fill="#dcdaee"/><ellipse cx="149.01" cy="685.47" rx="1.16" ry="0.53" fill="#bdbbde"/><ellipse cx="138.96" cy="685.52" rx="4.19" ry="0.5" fill="#5d55a3"/><ellipse cx="157.39" cy="700.79" rx="4.22" ry="0.83" fill="#8e89c3"/><ellipse cx="140.63" cy="750.48" rx="2.3" ry="0.89" fill="#c5c3e3"/><ellipse cx="138.77" cy="683.21" rx="2.95" ry="0.55" fill="#bbb8dd"/><ellipse cx="138.43" cy="687.73" rx="1.15" ry="0.75" fill="#554b9c"/><ellipse cx="155.12" cy="707.99" rx="4.11" ry="0.46" fill="#8c87c1"/><ellipse cx="154.47" cy="719.32" rx="1.97" ry="0.43" fill="#dad9ed"/><ellipse cx="124.14" cy="707.93" rx="1.33" ry="0.59" fill="#655da9"/><ellipse cx="110.83" cy="729.38" rx="4.05" ry="0.73" fill="#c9c7e5"/><ellipse cx="148.5" cy="696.12" rx="1.7" ry="0.56" fill="#dad8ed"/><ellipse cx="154.8" cy="746.81" rx="2.23" ry="0.67" fill="#cbc9e6"/><ellipse cx="159.72" cy="690.77" rx="1.28" ry="0.8" fill="#44398e"/><ellipse cx="141.66" cy="689.46" rx="1.34" ry="0.58" fill="#504698"/><ellipse cx="115.97" cy="727.9" rx="3.27" ry="0.62" fill="#d3d1e9"/><ellipse cx="140.03" cy="702.05" rx="1.85" ry="0.59" fill="#554b9c"/><ellipse cx="132.38" cy="748.83" rx="3.57" ry="0.71" fill="#ecebf6"/><ellipse cx="137.43" cy="715.85" rx="3.35" ry="0.76" fill="#7b74b7"/><ellipse cx="126.35" cy="690.85" rx="1.56" ry="0.86" fill="#9d99cb"/><ellipse cx="141.27" cy="697.18" rx="1.08" ry="0.64" fill="#6158a6"/><ellipse cx="137.09" cy="688.88" rx="2.75" ry="0.48" fill="#d2d0e9"/><ellipse cx="172.07" cy="697.61" rx="1.23" ry="0.64" fill="#8a85c0"/><ellipse cx="152.88" cy="703.99" rx="4.11" ry="0.79" fill="#e5e3f2"/><ellipse cx="157.89" cy="689.66" rx="3.47" ry="0.66" fill="#b0acd6"/><ellipse cx="151.51" cy="685.08" rx="3.64" ry="0.89" fill="#6b63ae"/><ellipse cx="136.39" cy="691.14" rx="3.25" ry="0.73" fill="#c8c6e4"/><ellipse cx="119.17" cy="725.09" rx="2.89" ry="0.85" fill="#e9e8f5"/><ellipse cx="133.76" cy="716.18" rx="4.27" ry="0.71" fill="#dbdaee"/><ellipse cx="159.88" cy="747.31" rx="2.52" ry="0.45" fill="#d1d0e9"/><ellipse cx="170.18" cy="772.64" rx="2.07" ry="0.69" fill="#f1f0f9"/><ellipse cx="123.02" cy="712.13" rx="1.25" ry="0.67" fill="#d8d6ec"/><ellipse cx="166.33" cy="768.55" rx="1.18" ry="0.83" fill="#f1f0f9"/><ellipse cx="159.67" cy="739.48" rx="3.71" ry="0.64" fill="#c1bfe0"/><ellipse cx="153.76" cy="689.96" rx="4.09" ry="0.68" fill="#8680be"/><ellipse cx="146.27" cy="706.4" rx="1.82" ry="0.5" fill="#d2d0e9"/><ellipse cx="124.86" cy="760.93" rx="2.95" ry="0.87" fill="#d4d2ea"/><ellipse cx="108.72" cy="769.93" rx="1.03" ry="0.75" fill="#e1e0f1"/><ellipse cx="162.86" cy="738.66" rx="3.73" ry="0.75" fill="#cccae6"/><ellipse cx="142.82" cy="708.21" rx="2.19" ry="0.64" fill="#9691c7"/><ellipse cx="158.98" cy="684.02" rx="2.92" ry="0.81" fill="#c2bfe1"/><ellipse cx="166.47" cy="691.2" rx="1.14" ry="0.57" fill="#625aa7"/><ellipse cx="159.18" cy="727.6" rx="2.08" ry="0.57" fill="#c7c5e3"/><ellipse cx="135.83" cy="694.74" rx="12.89" ry="0.35" fill="#e8e7f4"/><ellipse cx="126.15" cy="750.63" rx="14.4" ry="0.35" fill="#e7e5f3"/><ellipse cx="147.1" cy="761.54" rx="16.07" ry="0.35" fill="#e3e2f2"/><ellipse cx="122.51" cy="730.05" rx="6.53" ry="0.35" fill="#e9e8f4"/><ellipse cx="149.1" cy="726.5" rx="13.53" ry="0.35" fill="#e1dff0"/><ellipse cx="136.38" cy="707.85" rx="14.81" ry="0.35" fill="#e1dff0"/><ellipse cx="151.89" cy="757.78" rx="12.15" ry="0.35" fill="#dfdef0"/><ellipse cx="120.34" cy="713.98" rx="5.43" ry="0.35" fill="#dcdaee"/><ellipse cx="126.93" cy="690.73" rx="12.1" ry="0.35" fill="#eae9f5"/><ellipse cx="130.86" cy="765.69" rx="17.61" ry="0.35" fill="#e1e0f1"/><ellipse cx="123.97" cy="743.63" rx="18.6" ry="0.35" fill="#dbdaee"/><ellipse cx="135.01" cy="743.54" rx="9.79" ry="0.35" fill="#e5e4f3"/><ellipse cx="151.5" cy="759.14" rx="8.11" ry="0.35" fill="#e6e5f3"/><ellipse cx="128.36" cy="716.42" rx="12.3" ry="0.35" fill="#e4e3f2"/></g></g>
<rect x="105.15" y="682.2" width="69" height="112.5" fill="none" stroke="#3a3232" stroke-width="1.2" />
<line x1="105.15" y1="794.7" x2="105.15" y2="797.1" stroke="#3a3232" stroke-width="1.1" />
<line x1="139.65" y1="794.7" x2="139.65" y2="797.1" stroke="#3a3232" stroke-width="1.1" />
<line x1="174.15" y1="794.7" x2="174.15" y2="797.1" stroke="#3a3232" stroke-width="1.1" />
<text x="106.75" y="805" font-size="9.4" text-anchor="start" fill="#333" >-3.0</text>
<text x="139.65" y="805" font-size="9.4" text-anchor="middle" fill="#333" >TSS</text>
<text x="182.15" y="805" font-size="9.4" text-anchor="end" fill="#333" >3.0Kb</text>
<rect x="180.7" y="682.2" width="69" height="112.5" fill="#f8f8fc" />
<rect x="180.7" y="682.2" width="69" height="56.25" fill="url(#hehz)" />
<g clip-path="url(#hecl2)"><g filter="url(#heb)"><ellipse cx="217.5" cy="682.5" rx="5.14" ry="1.27" fill="#53499b"/><ellipse cx="215.94" cy="682.5" rx="3.09" ry="0.95" fill="#291e6c"/><ellipse cx="213.18" cy="683.98" rx="3.72" ry="0.77" fill="#473d91"/><ellipse cx="215.34" cy="683.98" rx="4.85" ry="1.19" fill="#2f2379"/><ellipse cx="215.56" cy="685.08" rx="3.67" ry="1.18" fill="#2e2378"/><ellipse cx="217.27" cy="686.55" rx="3.84" ry="0.85" fill="#241a63"/><ellipse cx="217.32" cy="690.87" rx="3.68" ry="1.24" fill="#463c90"/><ellipse cx="214.36" cy="690.87" rx="3.39" ry="1.23" fill="#2c2174"/><ellipse cx="216.82" cy="693.7" rx="4.55" ry="1.08" fill="#6259a7"/><ellipse cx="215.92" cy="693.7" rx="3.83" ry="0.74" fill="#504698"/><ellipse cx="216.17" cy="694.68" rx="1.64" ry="1.21" fill="#3f338a"/><ellipse cx="219.75" cy="694.68" rx="3.79" ry="0.74" fill="#6159a7"/><ellipse cx="217.52" cy="696.86" rx="1.74" ry="0.95" fill="#6860ac"/><ellipse cx="219.29" cy="698.07" rx="2.79" ry="0.9" fill="#514799"/><ellipse cx="215.44" cy="699.27" rx="1.73" ry="0.97" fill="#504799"/><ellipse cx="218.71" cy="699.27" rx="2.45" ry="1.03" fill="#52489a"/><ellipse cx="216.84" cy="700.61" rx="4.2" ry="0.9" fill="#675fab"/><ellipse cx="214.84" cy="700.61" rx="4.28" ry="1.12" fill="#2f247a"/><ellipse cx="216.47" cy="702.2" rx="3.83" ry="0.85" fill="#635ba8"/><ellipse cx="215.42" cy="703.46" rx="2.37" ry="0.94" fill="#322680"/><ellipse cx="220.13" cy="703.46" rx="1.68" ry="0.85" fill="#6b63ae"/><ellipse cx="216.72" cy="704.38" rx="4.21" ry="1.22" fill="#8882bf"/><ellipse cx="215.51" cy="705.91" rx="3.49" ry="1.13" fill="#6e66b0"/><ellipse cx="217.81" cy="710.12" rx="1.48" ry="0.84" fill="#3d3289"/><ellipse cx="212.61" cy="711.25" rx="2.54" ry="1.19" fill="#645ba8"/><ellipse cx="214.87" cy="712.25" rx="2.67" ry="0.78" fill="#453a8f"/><ellipse cx="219.41" cy="715.12" rx="2.75" ry="0.95" fill="#9b96ca"/><ellipse cx="214.84" cy="715.12" rx="1.98" ry="0.78" fill="#6f68b0"/><ellipse cx="214.98" cy="716.3" rx="2.86" ry="0.9" fill="#9590c6"/><ellipse cx="214.06" cy="717.7" rx="3.3" ry="0.89" fill="#938ec5"/><ellipse cx="222.36" cy="719.07" rx="1.9" ry="1.07" fill="#665eab"/><ellipse cx="220.72" cy="723.13" rx="2.13" ry="1.07" fill="#938ec5"/><ellipse cx="209.26" cy="724.25" rx="3.36" ry="1.09" fill="#665eaa"/><ellipse cx="218.02" cy="725.76" rx="1.94" ry="0.86" fill="#6e67b0"/><ellipse cx="214.09" cy="726.93" rx="2.2" ry="1.23" fill="#6158a6"/><ellipse cx="213.09" cy="726.93" rx="2.28" ry="1.11" fill="#9793c8"/><ellipse cx="220.83" cy="730.99" rx="3.1" ry="1.25" fill="#9c98cb"/><ellipse cx="218.37" cy="732.42" rx="2.07" ry="1.06" fill="#9994c9"/><ellipse cx="214.68" cy="734.92" rx="1.97" ry="0.86" fill="#6860ac"/><ellipse cx="219.79" cy="738.35" rx="1" ry="0.75" fill="#b1add7"/><ellipse cx="229.6" cy="685.35" rx="4.66" ry="0.69" fill="#5b52a2"/><ellipse cx="221.22" cy="686.38" rx="2.23" ry="0.62" fill="#918bc4"/><ellipse cx="210.78" cy="685.14" rx="4.53" ry="0.81" fill="#908ac3"/><ellipse cx="230.31" cy="684.55" rx="4.64" ry="0.51" fill="#726bb2"/><ellipse cx="213.33" cy="687.59" rx="4.82" ry="0.65" fill="#756eb4"/><ellipse cx="220.36" cy="684" rx="3.96" ry="0.5" fill="#675fab"/><ellipse cx="232.33" cy="686.33" rx="3.44" ry="0.84" fill="#9c97ca"/><ellipse cx="227.5" cy="688.67" rx="4.56" ry="0.63" fill="#5a51a1"/><ellipse cx="197.72" cy="686.59" rx="3.22" ry="0.6" fill="#837cbc"/><ellipse cx="214.38" cy="685.82" rx="1.51" ry="0.68" fill="#7b74b7"/><ellipse cx="211.18" cy="682.85" rx="2.53" ry="0.92" fill="#aba8d4"/><ellipse cx="206.93" cy="684.76" rx="1.84" ry="0.63" fill="#2f2379"/><ellipse cx="199.09" cy="682.7" rx="3.64" ry="0.76" fill="#8b85c1"/><ellipse cx="227.31" cy="738.76" rx="1.53" ry="0.72" fill="#c4c2e2"/><ellipse cx="203.32" cy="684.35" rx="4.21" ry="0.86" fill="#bebcdf"/><ellipse cx="208.06" cy="760.53" rx="2.37" ry="0.63" fill="#dbd9ed"/><ellipse cx="180.63" cy="730.02" rx="2.09" ry="0.83" fill="#e5e4f3"/><ellipse cx="188.33" cy="705.93" rx="1.37" ry="0.49" fill="#5f56a5"/><ellipse cx="235.25" cy="688.26" rx="2.48" ry="0.65" fill="#8a85c0"/><ellipse cx="199.91" cy="693.79" rx="2.23" ry="0.74" fill="#7d76b8"/><ellipse cx="204.64" cy="685.76" rx="3.98" ry="0.45" fill="#53499b"/><ellipse cx="233.06" cy="733.79" rx="2.93" ry="0.44" fill="#dcdaee"/><ellipse cx="208.84" cy="740.48" rx="3.01" ry="0.58" fill="#b8b5db"/><ellipse cx="207.65" cy="684.02" rx="2.01" ry="0.49" fill="#665eab"/><ellipse cx="233.09" cy="746.82" rx="2.88" ry="0.86" fill="#b4b1d9"/><ellipse cx="211.11" cy="721.04" rx="1.7" ry="0.67" fill="#aca8d4"/><ellipse cx="227.68" cy="744.64" rx="3.39" ry="0.54" fill="#e2e0f1"/><ellipse cx="239.6" cy="771.2" rx="2.22" ry="0.64" fill="#ecebf6"/><ellipse cx="189.72" cy="683.2" rx="1.95" ry="0.59" fill="#534a9b"/><ellipse cx="211.91" cy="702.28" rx="2.32" ry="0.55" fill="#9b96ca"/><ellipse cx="216.47" cy="772.04" rx="1.8" ry="0.48" fill="#eae8f5"/><ellipse cx="234.21" cy="710.71" rx="3.04" ry="0.7" fill="#938ec5"/><ellipse cx="221.75" cy="686.56" rx="1.41" ry="0.5" fill="#d4d2ea"/><ellipse cx="225.38" cy="744.99" rx="2.69" ry="0.8" fill="#c3c1e1"/><ellipse cx="234.92" cy="710.63" rx="2.1" ry="0.81" fill="#cdcbe6"/><ellipse cx="210.1" cy="702.39" rx="3.34" ry="0.68" fill="#d5d4eb"/><ellipse cx="239.09" cy="689.16" rx="4.22" ry="0.41" fill="#dcdbee"/><ellipse cx="208.16" cy="729.26" rx="3.68" ry="0.81" fill="#dcdbee"/><ellipse cx="222.97" cy="758.17" rx="2.7" ry="0.61" fill="#dddcef"/><ellipse cx="226.66" cy="688.49" rx="2.31" ry="0.73" fill="#3c3188"/><ellipse cx="208.79" cy="691.36" rx="3.65" ry="0.79" fill="#b3b0d8"/><ellipse cx="213.23" cy="757.22" rx="2.03" ry="0.59" fill="#d3d2ea"/><ellipse cx="207.59" cy="759.5" rx="4.4" ry="0.53" fill="#e2e0f1"/><ellipse cx="217.16" cy="723.91" rx="2.21" ry="0.75" fill="#d3d1e9"/><ellipse cx="207.05" cy="690.94" rx="1.2" ry="0.75" fill="#cbc9e6"/><ellipse cx="218.93" cy="730.26" rx="2.34" ry="0.52" fill="#dcdaee"/><ellipse cx="241.08" cy="702.57" rx="1.65" ry="0.71" fill="#8a84c0"/><ellipse cx="209.44" cy="686.97" rx="3.45" ry="0.61" fill="#3b2f87"/><ellipse cx="216.8" cy="732.57" rx="3.71" ry="0.68" fill="#d1cfe8"/><ellipse cx="222.76" cy="684.58" rx="4.49" ry="0.89" fill="#cfcde8"/><ellipse cx="194.86" cy="720.06" rx="3.22" ry="0.82" fill="#8e88c2"/><ellipse cx="239.01" cy="766.81" rx="3.08" ry="0.6" fill="#dfdef0"/><ellipse cx="221.52" cy="683.44" rx="2.26" ry="0.42" fill="#4d4396"/><ellipse cx="221.69" cy="695.44" rx="1.11" ry="0.49" fill="#5e55a4"/><ellipse cx="192.04" cy="691.42" rx="1.47" ry="0.6" fill="#635aa8"/><ellipse cx="211.49" cy="684.39" rx="2.4" ry="0.74" fill="#7770b5"/><ellipse cx="198.97" cy="733.71" rx="4.44" ry="0.65" fill="#a7a4d1"/><ellipse cx="224.42" cy="749.29" rx="3.64" ry="0.62" fill="#d7d5eb"/><ellipse cx="213.64" cy="737.6" rx="2.78" ry="0.71" fill="#a39fcf"/><ellipse cx="237.96" cy="724.15" rx="3.8" ry="0.84" fill="#dbdaee"/><ellipse cx="182.67" cy="683.87" rx="3.23" ry="0.83" fill="#756eb4"/><ellipse cx="208.25" cy="735.98" rx="1.22" ry="0.78" fill="#eae8f5"/><ellipse cx="169.1" cy="683.51" rx="4.38" ry="0.42" fill="#352983"/><ellipse cx="215.68" cy="688.85" rx="1.09" ry="0.48" fill="#3c3188"/><ellipse cx="243.64" cy="688.35" rx="2.5" ry="0.52" fill="#c9c7e4"/><ellipse cx="201.68" cy="766.65" rx="2.36" ry="0.75" fill="#eceaf6"/><ellipse cx="195.33" cy="683.69" rx="1.91" ry="0.63" fill="#d9d7ec"/><ellipse cx="218.94" cy="750.6" rx="2.49" ry="0.52" fill="#cac8e5"/><ellipse cx="241.86" cy="714.81" rx="4.43" ry="0.51" fill="#e2e0f1"/><ellipse cx="211.75" cy="725.12" rx="2.29" ry="0.45" fill="#d7d5ec"/><ellipse cx="201.44" cy="684.36" rx="2.16" ry="0.49" fill="#372b84"/><ellipse cx="237.59" cy="711.25" rx="3.81" ry="0.62" fill="#bdbbde"/><ellipse cx="189.17" cy="689.12" rx="2.89" ry="0.46" fill="#6e67b0"/><ellipse cx="249.28" cy="740.91" rx="1.71" ry="0.47" fill="#bebcde"/><ellipse cx="235.72" cy="694.39" rx="1.78" ry="0.42" fill="#9c98cb"/><ellipse cx="191.12" cy="684.18" rx="3.03" ry="0.76" fill="#aca8d4"/><ellipse cx="241.69" cy="696.7" rx="3.95" ry="0.76" fill="#8b85c0"/><ellipse cx="242.26" cy="753.3" rx="1.12" ry="0.49" fill="#d4d2ea"/><ellipse cx="222.16" cy="690.71" rx="2.86" ry="0.75" fill="#574e9e"/><ellipse cx="228.11" cy="758.08" rx="4.45" ry="0.76" fill="#efeef8"/><ellipse cx="223.13" cy="739.36" rx="4.08" ry="0.83" fill="#d2d1e9"/><ellipse cx="209.6" cy="683.39" rx="2.62" ry="0.62" fill="#d4d2ea"/><ellipse cx="225.01" cy="760.37" rx="2.43" ry="0.79" fill="#e7e6f3"/><ellipse cx="191.76" cy="710.9" rx="1.11" ry="0.81" fill="#d0cee8"/><ellipse cx="231.08" cy="695.61" rx="2.87" ry="0.52" fill="#9894c8"/><ellipse cx="191.87" cy="688.2" rx="4.11" ry="0.54" fill="#4f4598"/><ellipse cx="199.42" cy="701.54" rx="1.54" ry="0.55" fill="#cdcbe6"/><ellipse cx="236.06" cy="771.7" rx="2.53" ry="0.42" fill="#e0dff0"/><ellipse cx="225.76" cy="683.2" rx="3.92" ry="0.73" fill="#c0bddf"/><ellipse cx="244.57" cy="683.51" rx="1.75" ry="0.45" fill="#d8d7ec"/><ellipse cx="208.19" cy="725.26" rx="1.94" ry="0.72" fill="#9994c9"/><ellipse cx="210.55" cy="695.85" rx="1.51" ry="0.47" fill="#766fb4"/><ellipse cx="244.01" cy="733.59" rx="2.65" ry="0.46" fill="#cdcbe6"/><ellipse cx="198.28" cy="751.9" rx="4.42" ry="0.61" fill="#e2e0f1"/><ellipse cx="210.6" cy="766.79" rx="3.81" ry="0.47" fill="#d8d6ec"/><ellipse cx="212.39" cy="734.66" rx="4.09" ry="0.67" fill="#e5e4f2"/><ellipse cx="231.79" cy="683.29" rx="3.28" ry="0.66" fill="#d0cfe8"/><ellipse cx="217.18" cy="754.25" rx="1.16" ry="0.63" fill="#cac8e5"/><ellipse cx="215.11" cy="706.08" rx="3.12" ry="0.66" fill="#a8a5d2"/><ellipse cx="233.6" cy="700.15" rx="2.96" ry="0.72" fill="#746db3"/><ellipse cx="199.92" cy="689.4" rx="1.81" ry="0.44" fill="#e5e3f2"/><ellipse cx="211.13" cy="684.55" rx="4.18" ry="0.88" fill="#7972b6"/><ellipse cx="191.03" cy="707.71" rx="2.05" ry="0.8" fill="#dcdaee"/><ellipse cx="221.27" cy="727.81" rx="2.63" ry="0.73" fill="#e1e0f1"/><ellipse cx="225.48" cy="703.98" rx="2.87" ry="0.85" fill="#948ec6"/><ellipse cx="235.21" cy="683.44" rx="1.49" ry="0.73" fill="#53499b"/><ellipse cx="205.47" cy="708.56" rx="2.1" ry="0.76" fill="#e5e4f2"/><ellipse cx="206.47" cy="696.91" rx="2.18" ry="0.73" fill="#a29ece"/><ellipse cx="211.31" cy="759.46" rx="4.02" ry="0.59" fill="#dddcef"/><ellipse cx="209.24" cy="683.42" rx="4.08" ry="0.73" fill="#766fb4"/><ellipse cx="215.3" cy="696.33" rx="9.58" ry="0.35" fill="#dddcef"/><ellipse cx="202.23" cy="757.44" rx="11.12" ry="0.35" fill="#dddbee"/><ellipse cx="198.57" cy="754.52" rx="17.32" ry="0.35" fill="#e5e4f3"/><ellipse cx="197.23" cy="733.57" rx="19.69" ry="0.35" fill="#dedcef"/><ellipse cx="211.74" cy="695.72" rx="15.99" ry="0.35" fill="#e5e3f2"/><ellipse cx="225.76" cy="758.68" rx="9.73" ry="0.35" fill="#dddbee"/><ellipse cx="229.44" cy="721.56" rx="18.3" ry="0.35" fill="#dcdbee"/><ellipse cx="231.38" cy="764.37" rx="8.52" ry="0.35" fill="#dddcef"/><ellipse cx="229.03" cy="729.46" rx="10.52" ry="0.35" fill="#dedcef"/><ellipse cx="222.15" cy="747.23" rx="14.53" ry="0.35" fill="#dcdbee"/><ellipse cx="208.14" cy="694.11" rx="5.78" ry="0.35" fill="#e3e2f2"/><ellipse cx="217.45" cy="705.01" rx="19.1" ry="0.35" fill="#e2e1f1"/><ellipse cx="215.62" cy="728.66" rx="18.35" ry="0.35" fill="#dcdbee"/><ellipse cx="222.41" cy="712.55" rx="8.46" ry="0.35" fill="#e9e8f4"/><ellipse cx="234" cy="711.99" rx="19.92" ry="0.35" fill="#e9e8f5"/><ellipse cx="218.03" cy="744.42" rx="5.75" ry="0.35" fill="#ebeaf5"/></g></g>
<rect x="180.7" y="682.2" width="69" height="112.5" fill="none" stroke="#3a3232" stroke-width="1.2" />
<line x1="180.7" y1="794.7" x2="180.7" y2="797.1" stroke="#3a3232" stroke-width="1.1" />
<line x1="215.2" y1="794.7" x2="215.2" y2="797.1" stroke="#3a3232" stroke-width="1.1" />
<line x1="249.7" y1="794.7" x2="249.7" y2="797.1" stroke="#3a3232" stroke-width="1.1" />
<text x="182.3" y="805" font-size="9.4" text-anchor="start" fill="#333" >-3.0</text>
<text x="215.2" y="805" font-size="9.4" text-anchor="middle" fill="#333" >TSS</text>
<text x="257.7" y="805" font-size="9.4" text-anchor="end" fill="#333" >3.0Kb</text>
<rect x="256.25" y="682.2" width="69" height="112.5" fill="#f8f8fc" />
<rect x="256.25" y="682.2" width="69" height="56.25" fill="url(#hehz)" />
<g clip-path="url(#hecl3)"><g filter="url(#heb)"><ellipse cx="292.5" cy="682.5" rx="5.14" ry="1.27" fill="#53499b"/><ellipse cx="291.68" cy="682.5" rx="3.09" ry="0.95" fill="#291e6c"/><ellipse cx="288.48" cy="683.98" rx="3.72" ry="0.77" fill="#473d91"/><ellipse cx="290.52" cy="683.98" rx="4.85" ry="1.19" fill="#2f2379"/><ellipse cx="290.74" cy="685.08" rx="3.67" ry="1.18" fill="#2e2378"/><ellipse cx="292.7" cy="686.55" rx="3.84" ry="0.85" fill="#241a63"/><ellipse cx="292.37" cy="690.87" rx="3.68" ry="1.24" fill="#463c90"/><ellipse cx="289.61" cy="690.87" rx="3.39" ry="1.23" fill="#2c2174"/><ellipse cx="292.07" cy="693.7" rx="4.55" ry="1.08" fill="#6259a7"/><ellipse cx="291.94" cy="693.7" rx="3.83" ry="0.74" fill="#504698"/><ellipse cx="291.56" cy="694.68" rx="1.64" ry="1.21" fill="#3f338a"/><ellipse cx="294.81" cy="694.68" rx="3.79" ry="0.74" fill="#6159a7"/><ellipse cx="293.36" cy="696.86" rx="1.74" ry="0.95" fill="#6860ac"/><ellipse cx="294.6" cy="698.07" rx="2.79" ry="0.9" fill="#514799"/><ellipse cx="291.57" cy="699.27" rx="1.73" ry="0.97" fill="#504799"/><ellipse cx="293.74" cy="699.27" rx="2.45" ry="1.03" fill="#52489a"/><ellipse cx="292.82" cy="700.61" rx="4.2" ry="0.9" fill="#675fab"/><ellipse cx="289.88" cy="700.61" rx="4.28" ry="1.12" fill="#2f247a"/><ellipse cx="292.37" cy="702.2" rx="3.83" ry="0.85" fill="#635ba8"/><ellipse cx="290.93" cy="703.46" rx="2.37" ry="0.94" fill="#322680"/><ellipse cx="295.85" cy="703.46" rx="1.68" ry="0.85" fill="#6b63ae"/><ellipse cx="292.73" cy="704.38" rx="4.21" ry="1.22" fill="#8882bf"/><ellipse cx="291.33" cy="705.91" rx="3.49" ry="1.13" fill="#6e66b0"/><ellipse cx="293.68" cy="710.12" rx="1.48" ry="0.84" fill="#3d3289"/><ellipse cx="288.69" cy="711.25" rx="2.54" ry="1.19" fill="#645ba8"/><ellipse cx="290.96" cy="712.25" rx="2.67" ry="0.78" fill="#453a8f"/><ellipse cx="294.77" cy="715.12" rx="2.75" ry="0.95" fill="#9b96ca"/><ellipse cx="290.05" cy="715.12" rx="1.98" ry="0.78" fill="#6f68b0"/><ellipse cx="290.6" cy="716.3" rx="2.86" ry="0.9" fill="#9590c6"/><ellipse cx="289.9" cy="717.7" rx="3.3" ry="0.89" fill="#938ec5"/><ellipse cx="298.38" cy="719.07" rx="1.9" ry="1.07" fill="#665eab"/><ellipse cx="295.95" cy="723.13" rx="2.13" ry="1.07" fill="#938ec5"/><ellipse cx="284.39" cy="724.25" rx="3.36" ry="1.09" fill="#665eaa"/><ellipse cx="294.1" cy="725.76" rx="1.94" ry="0.86" fill="#6e67b0"/><ellipse cx="289.51" cy="726.93" rx="2.2" ry="1.23" fill="#6158a6"/><ellipse cx="288.38" cy="726.93" rx="2.28" ry="1.11" fill="#9793c8"/><ellipse cx="296.15" cy="730.99" rx="3.1" ry="1.25" fill="#9c98cb"/><ellipse cx="294.11" cy="732.42" rx="2.07" ry="1.06" fill="#9994c9"/><ellipse cx="290.13" cy="734.92" rx="1.97" ry="0.86" fill="#6860ac"/><ellipse cx="295.15" cy="738.35" rx="1" ry="0.75" fill="#b1add7"/><ellipse cx="305.54" cy="685.35" rx="4.66" ry="0.69" fill="#5b52a2"/><ellipse cx="296.22" cy="686.38" rx="2.23" ry="0.62" fill="#918bc4"/><ellipse cx="285.99" cy="685.14" rx="4.53" ry="0.81" fill="#908ac3"/><ellipse cx="306.41" cy="684.55" rx="4.64" ry="0.51" fill="#726bb2"/><ellipse cx="288.31" cy="687.59" rx="4.82" ry="0.65" fill="#756eb4"/><ellipse cx="295.96" cy="684" rx="3.96" ry="0.5" fill="#675fab"/><ellipse cx="307.37" cy="686.33" rx="3.44" ry="0.84" fill="#9c97ca"/><ellipse cx="303.22" cy="688.67" rx="4.56" ry="0.63" fill="#5a51a1"/><ellipse cx="273.56" cy="686.59" rx="3.22" ry="0.6" fill="#837cbc"/><ellipse cx="290.5" cy="685.82" rx="1.51" ry="0.68" fill="#7b74b7"/><ellipse cx="286.69" cy="682.85" rx="2.53" ry="0.92" fill="#aba8d4"/><ellipse cx="282.76" cy="684.76" rx="1.84" ry="0.63" fill="#2f2379"/><ellipse cx="274.8" cy="682.7" rx="3.64" ry="0.76" fill="#8b85c1"/><ellipse cx="303.16" cy="738.76" rx="1.53" ry="0.72" fill="#c4c2e2"/><ellipse cx="278.77" cy="684.35" rx="4.21" ry="0.86" fill="#bebcdf"/><ellipse cx="283.57" cy="760.53" rx="2.37" ry="0.63" fill="#dbd9ed"/><ellipse cx="256.35" cy="730.02" rx="2.09" ry="0.83" fill="#e5e4f3"/><ellipse cx="264.06" cy="705.93" rx="1.37" ry="0.49" fill="#5f56a5"/><ellipse cx="311.36" cy="688.26" rx="2.48" ry="0.65" fill="#8a85c0"/><ellipse cx="276" cy="693.79" rx="2.23" ry="0.74" fill="#7d76b8"/><ellipse cx="280.72" cy="685.76" rx="3.98" ry="0.45" fill="#53499b"/><ellipse cx="309.03" cy="733.79" rx="2.93" ry="0.44" fill="#dcdaee"/><ellipse cx="284.38" cy="740.48" rx="3.01" ry="0.58" fill="#b8b5db"/><ellipse cx="283.5" cy="684.02" rx="2.01" ry="0.49" fill="#665eab"/><ellipse cx="309.18" cy="746.82" rx="2.88" ry="0.86" fill="#b4b1d9"/><ellipse cx="286.99" cy="721.04" rx="1.7" ry="0.67" fill="#aca8d4"/><ellipse cx="302.68" cy="744.64" rx="3.39" ry="0.54" fill="#e2e0f1"/><ellipse cx="314.78" cy="771.2" rx="2.22" ry="0.64" fill="#ecebf6"/><ellipse cx="264.71" cy="683.2" rx="1.95" ry="0.59" fill="#534a9b"/><ellipse cx="287.16" cy="702.28" rx="2.32" ry="0.55" fill="#9b96ca"/><ellipse cx="292.33" cy="772.04" rx="1.8" ry="0.48" fill="#eae8f5"/><ellipse cx="309.5" cy="710.71" rx="3.04" ry="0.7" fill="#938ec5"/><ellipse cx="296.84" cy="686.56" rx="1.41" ry="0.5" fill="#d4d2ea"/><ellipse cx="300.91" cy="744.99" rx="2.69" ry="0.8" fill="#c3c1e1"/><ellipse cx="310.88" cy="710.63" rx="2.1" ry="0.81" fill="#cdcbe6"/><ellipse cx="285.14" cy="702.39" rx="3.34" ry="0.68" fill="#d5d4eb"/><ellipse cx="315.01" cy="689.16" rx="4.22" ry="0.41" fill="#dcdbee"/><ellipse cx="283.19" cy="729.26" rx="3.68" ry="0.81" fill="#dcdbee"/><ellipse cx="298.41" cy="758.17" rx="2.7" ry="0.61" fill="#dddcef"/><ellipse cx="302.59" cy="688.49" rx="2.31" ry="0.73" fill="#3c3188"/><ellipse cx="284.52" cy="691.36" rx="3.65" ry="0.79" fill="#b3b0d8"/><ellipse cx="289.29" cy="757.22" rx="2.03" ry="0.59" fill="#d3d2ea"/><ellipse cx="283.3" cy="759.5" rx="4.4" ry="0.53" fill="#e2e0f1"/><ellipse cx="292.42" cy="723.91" rx="2.21" ry="0.75" fill="#d3d1e9"/><ellipse cx="282.19" cy="690.94" rx="1.2" ry="0.75" fill="#cbc9e6"/><ellipse cx="294.69" cy="730.26" rx="2.34" ry="0.52" fill="#dcdaee"/><ellipse cx="316.35" cy="702.57" rx="1.65" ry="0.71" fill="#8a84c0"/><ellipse cx="285.58" cy="686.97" rx="3.45" ry="0.61" fill="#3b2f87"/><ellipse cx="292.22" cy="732.57" rx="3.71" ry="0.68" fill="#d1cfe8"/><ellipse cx="297.74" cy="684.58" rx="4.49" ry="0.89" fill="#cfcde8"/><ellipse cx="270.93" cy="720.06" rx="3.22" ry="0.82" fill="#8e88c2"/><ellipse cx="314.41" cy="766.81" rx="3.08" ry="0.6" fill="#dfdef0"/><ellipse cx="297.36" cy="683.44" rx="2.26" ry="0.42" fill="#4d4396"/><ellipse cx="296.69" cy="695.44" rx="1.11" ry="0.49" fill="#5e55a4"/><ellipse cx="267.69" cy="691.42" rx="1.47" ry="0.6" fill="#635aa8"/><ellipse cx="287.51" cy="684.39" rx="2.4" ry="0.74" fill="#7770b5"/><ellipse cx="274.59" cy="733.71" rx="4.44" ry="0.65" fill="#a7a4d1"/><ellipse cx="299.97" cy="749.29" rx="3.64" ry="0.62" fill="#d7d5eb"/><ellipse cx="289.33" cy="737.6" rx="2.78" ry="0.71" fill="#a39fcf"/><ellipse cx="313.96" cy="724.15" rx="3.8" ry="0.84" fill="#dbdaee"/><ellipse cx="257.87" cy="683.87" rx="3.23" ry="0.83" fill="#756eb4"/><ellipse cx="283.39" cy="735.98" rx="1.22" ry="0.78" fill="#eae8f5"/><ellipse cx="244.07" cy="683.51" rx="4.38" ry="0.42" fill="#352983"/><ellipse cx="291.69" cy="688.85" rx="1.09" ry="0.48" fill="#3c3188"/><ellipse cx="319.23" cy="688.35" rx="2.5" ry="0.52" fill="#c9c7e4"/><ellipse cx="277.04" cy="766.65" rx="2.36" ry="0.75" fill="#eceaf6"/><ellipse cx="271.31" cy="683.69" rx="1.91" ry="0.63" fill="#d9d7ec"/><ellipse cx="294.48" cy="750.6" rx="2.49" ry="0.52" fill="#cac8e5"/><ellipse cx="317.74" cy="714.81" rx="4.43" ry="0.51" fill="#e2e0f1"/><ellipse cx="286.77" cy="725.12" rx="2.29" ry="0.45" fill="#d7d5ec"/><ellipse cx="277.53" cy="684.36" rx="2.16" ry="0.49" fill="#372b84"/><ellipse cx="313.33" cy="711.25" rx="3.81" ry="0.62" fill="#bdbbde"/><ellipse cx="264.88" cy="689.12" rx="2.89" ry="0.46" fill="#6e67b0"/><ellipse cx="324.34" cy="740.91" rx="1.71" ry="0.47" fill="#bebcde"/><ellipse cx="311.33" cy="694.39" rx="1.78" ry="0.42" fill="#9c98cb"/><ellipse cx="266.19" cy="684.18" rx="3.03" ry="0.76" fill="#aca8d4"/><ellipse cx="316.98" cy="696.7" rx="3.95" ry="0.76" fill="#8b85c0"/><ellipse cx="317.52" cy="753.3" rx="1.12" ry="0.49" fill="#d4d2ea"/><ellipse cx="297.9" cy="690.71" rx="2.86" ry="0.75" fill="#574e9e"/><ellipse cx="303.36" cy="758.08" rx="4.45" ry="0.76" fill="#efeef8"/><ellipse cx="298.18" cy="739.36" rx="4.08" ry="0.83" fill="#d2d1e9"/><ellipse cx="285.61" cy="683.39" rx="2.62" ry="0.62" fill="#d4d2ea"/><ellipse cx="300.63" cy="760.37" rx="2.43" ry="0.79" fill="#e7e6f3"/><ellipse cx="266.91" cy="710.9" rx="1.11" ry="0.81" fill="#d0cee8"/><ellipse cx="306.33" cy="695.61" rx="2.87" ry="0.52" fill="#9894c8"/><ellipse cx="267.43" cy="688.2" rx="4.11" ry="0.54" fill="#4f4598"/><ellipse cx="275.23" cy="701.54" rx="1.54" ry="0.55" fill="#cdcbe6"/><ellipse cx="311.91" cy="771.7" rx="2.53" ry="0.42" fill="#e0dff0"/><ellipse cx="300.73" cy="683.2" rx="3.92" ry="0.73" fill="#c0bddf"/><ellipse cx="320.01" cy="683.51" rx="1.75" ry="0.45" fill="#d8d7ec"/><ellipse cx="283.49" cy="725.26" rx="1.94" ry="0.72" fill="#9994c9"/><ellipse cx="285.67" cy="695.85" rx="1.51" ry="0.47" fill="#766fb4"/><ellipse cx="320.11" cy="733.59" rx="2.65" ry="0.46" fill="#cdcbe6"/><ellipse cx="273.5" cy="751.9" rx="4.42" ry="0.61" fill="#e2e0f1"/><ellipse cx="285.59" cy="766.79" rx="3.81" ry="0.47" fill="#d8d6ec"/><ellipse cx="288.26" cy="734.66" rx="4.09" ry="0.67" fill="#e5e4f2"/><ellipse cx="306.82" cy="683.29" rx="3.28" ry="0.66" fill="#d0cfe8"/><ellipse cx="292.48" cy="754.25" rx="1.16" ry="0.63" fill="#cac8e5"/><ellipse cx="290.24" cy="706.08" rx="3.12" ry="0.66" fill="#a8a5d2"/><ellipse cx="309.62" cy="700.15" rx="2.96" ry="0.72" fill="#746db3"/><ellipse cx="275.74" cy="689.4" rx="1.81" ry="0.44" fill="#e5e3f2"/><ellipse cx="286.75" cy="684.55" rx="4.18" ry="0.88" fill="#7972b6"/><ellipse cx="267.08" cy="707.71" rx="2.05" ry="0.8" fill="#dcdaee"/><ellipse cx="297.34" cy="727.81" rx="2.63" ry="0.73" fill="#e1e0f1"/><ellipse cx="300.6" cy="703.98" rx="2.87" ry="0.85" fill="#948ec6"/><ellipse cx="310.78" cy="683.44" rx="1.49" ry="0.73" fill="#53499b"/><ellipse cx="281.35" cy="708.56" rx="2.1" ry="0.76" fill="#e5e4f2"/><ellipse cx="282.25" cy="696.91" rx="2.18" ry="0.73" fill="#a29ece"/><ellipse cx="286.46" cy="759.46" rx="4.02" ry="0.59" fill="#dddcef"/><ellipse cx="284.54" cy="683.42" rx="4.08" ry="0.73" fill="#766fb4"/><ellipse cx="290.27" cy="696.33" rx="9.58" ry="0.35" fill="#dddcef"/><ellipse cx="277.66" cy="757.44" rx="11.12" ry="0.35" fill="#dddbee"/><ellipse cx="273.73" cy="754.52" rx="17.32" ry="0.35" fill="#e5e4f3"/><ellipse cx="272.64" cy="733.57" rx="19.69" ry="0.35" fill="#dedcef"/><ellipse cx="287.22" cy="695.72" rx="15.99" ry="0.35" fill="#e5e3f2"/><ellipse cx="301" cy="758.68" rx="9.73" ry="0.35" fill="#dddbee"/><ellipse cx="305.33" cy="721.56" rx="18.3" ry="0.35" fill="#dcdbee"/><ellipse cx="307.35" cy="764.37" rx="8.52" ry="0.35" fill="#dddcef"/><ellipse cx="304.4" cy="729.46" rx="10.52" ry="0.35" fill="#dedcef"/><ellipse cx="298.04" cy="747.23" rx="14.53" ry="0.35" fill="#dcdbee"/><ellipse cx="283.56" cy="694.11" rx="5.78" ry="0.35" fill="#e3e2f2"/><ellipse cx="292.56" cy="705.01" rx="19.1" ry="0.35" fill="#e2e1f1"/><ellipse cx="291.68" cy="728.66" rx="18.35" ry="0.35" fill="#dcdbee"/><ellipse cx="297.99" cy="712.55" rx="8.46" ry="0.35" fill="#e9e8f4"/><ellipse cx="309.67" cy="711.99" rx="19.92" ry="0.35" fill="#e9e8f5"/><ellipse cx="294.14" cy="744.42" rx="5.75" ry="0.35" fill="#ebeaf5"/></g></g>
<rect x="256.25" y="682.2" width="69" height="112.5" fill="none" stroke="#3a3232" stroke-width="1.2" />
<line x1="256.25" y1="794.7" x2="256.25" y2="797.1" stroke="#3a3232" stroke-width="1.1" />
<line x1="290.75" y1="794.7" x2="290.75" y2="797.1" stroke="#3a3232" stroke-width="1.1" />
<line x1="325.25" y1="794.7" x2="325.25" y2="797.1" stroke="#3a3232" stroke-width="1.1" />
<text x="257.85" y="805" font-size="9.4" text-anchor="start" fill="#333" >-3.0</text>
<text x="290.75" y="805" font-size="9.4" text-anchor="middle" fill="#333" >TSS</text>
<text x="333.25" y="805" font-size="9.4" text-anchor="end" fill="#333" >3.0Kb</text>
<rect x="331.8" y="682.2" width="69" height="112.5" fill="#f8f8fc" />
<rect x="331.8" y="682.2" width="69" height="56.25" fill="url(#hehz)" />
<g clip-path="url(#hecl4)"><g filter="url(#heb)"><ellipse cx="364.7" cy="682.5" rx="2.7" ry="0.8" fill="#291f6e"/><ellipse cx="366.15" cy="682.5" rx="2.36" ry="1.04" fill="#2d2275"/><ellipse cx="366.99" cy="685.27" rx="2.58" ry="0.79" fill="#635aa8"/><ellipse cx="372.18" cy="686.55" rx="4.85" ry="1.23" fill="#584f9f"/><ellipse cx="365.4" cy="687.79" rx="1.87" ry="1.12" fill="#625aa7"/><ellipse cx="364.55" cy="687.79" rx="3.4" ry="0.77" fill="#342881"/><ellipse cx="367.36" cy="689.09" rx="4.65" ry="0.75" fill="#2d2174"/><ellipse cx="366.06" cy="689.09" rx="2.1" ry="0.86" fill="#261c66"/><ellipse cx="366.95" cy="690.46" rx="3.33" ry="1.23" fill="#584f9f"/><ellipse cx="365.99" cy="690.46" rx="4.84" ry="1.25" fill="#574e9e"/><ellipse cx="362.97" cy="692.02" rx="3.89" ry="1.06" fill="#5c53a2"/><ellipse cx="365.86" cy="694.7" rx="3.65" ry="0.8" fill="#584f9f"/><ellipse cx="369.63" cy="695.71" rx="2.41" ry="1.26" fill="#332881"/><ellipse cx="365.54" cy="695.71" rx="3.05" ry="0.89" fill="#4e4497"/><ellipse cx="368.13" cy="697.08" rx="4.51" ry="1.15" fill="#6d65af"/><ellipse cx="366.71" cy="701.09" rx="2.76" ry="1.21" fill="#564c9d"/><ellipse cx="366.92" cy="702.35" rx="2.16" ry="1.2" fill="#493e92"/><ellipse cx="366.26" cy="702.35" rx="1.54" ry="1" fill="#837dbc"/><ellipse cx="365.18" cy="703.37" rx="3.35" ry="0.87" fill="#4e4497"/><ellipse cx="369.27" cy="703.37" rx="3.55" ry="1.18" fill="#392e86"/><ellipse cx="366.63" cy="705.89" rx="4.12" ry="0.73" fill="#5b52a1"/><ellipse cx="366.39" cy="705.89" rx="4.21" ry="1.04" fill="#6158a6"/><ellipse cx="366.2" cy="707.19" rx="3.13" ry="0.76" fill="#504699"/><ellipse cx="369.84" cy="708.42" rx="1.56" ry="1.02" fill="#8a84c0"/><ellipse cx="370.56" cy="709.59" rx="2.36" ry="0.84" fill="#6d65af"/><ellipse cx="364.83" cy="709.59" rx="3.6" ry="1.03" fill="#7069b1"/><ellipse cx="371.48" cy="710.66" rx="2.99" ry="0.78" fill="#3b3088"/><ellipse cx="364.96" cy="713.38" rx="3.8" ry="0.71" fill="#8882bf"/><ellipse cx="367.15" cy="714.74" rx="2.13" ry="0.71" fill="#675fab"/><ellipse cx="369.3" cy="716.25" rx="2.32" ry="0.81" fill="#665eaa"/><ellipse cx="366.75" cy="717.68" rx="2.38" ry="1.25" fill="#8a84c0"/><ellipse cx="370.4" cy="719.17" rx="3.24" ry="1.21" fill="#8d88c2"/><ellipse cx="361.99" cy="723.78" rx="1.53" ry="1" fill="#6860ac"/><ellipse cx="373.92" cy="723.78" rx="1.22" ry="1.18" fill="#665daa"/><ellipse cx="364.93" cy="725.15" rx="3.26" ry="1.21" fill="#564d9e"/><ellipse cx="363.9" cy="725.15" rx="1.32" ry="1" fill="#5c53a2"/><ellipse cx="368.86" cy="727.37" rx="1.75" ry="0.83" fill="#756eb3"/><ellipse cx="365.67" cy="728.83" rx="2.98" ry="1.11" fill="#8d87c2"/><ellipse cx="370.25" cy="731.21" rx="1.89" ry="0.92" fill="#837dbc"/><ellipse cx="369.14" cy="738.09" rx="1.42" ry="1.29" fill="#6c64ae"/><ellipse cx="359.96" cy="740.57" rx="2.21" ry="0.96" fill="#a9a5d2"/><ellipse cx="366.39" cy="688.5" rx="4.5" ry="0.94" fill="#8680be"/><ellipse cx="363.7" cy="688.99" rx="3.26" ry="0.75" fill="#382d85"/><ellipse cx="381.6" cy="684.12" rx="3.64" ry="0.7" fill="#493f93"/><ellipse cx="366.19" cy="686.57" rx="3.52" ry="0.77" fill="#31257e"/><ellipse cx="375.32" cy="686.13" rx="4.77" ry="0.72" fill="#6158a6"/><ellipse cx="374.55" cy="685.06" rx="4.53" ry="0.86" fill="#30247c"/><ellipse cx="371.88" cy="687.98" rx="1.8" ry="0.59" fill="#4e4496"/><ellipse cx="371.9" cy="683.79" rx="3.06" ry="0.95" fill="#41368c"/><ellipse cx="363.21" cy="687.94" rx="4.05" ry="0.79" fill="#514799"/><ellipse cx="370.51" cy="685.13" rx="4.52" ry="0.97" fill="#514799"/><ellipse cx="371.08" cy="685.6" rx="1.58" ry="0.72" fill="#4d4396"/><ellipse cx="370.29" cy="683.7" rx="2.08" ry="0.94" fill="#b1aed7"/><ellipse cx="367.96" cy="684.98" rx="4.31" ry="0.81" fill="#857fbd"/><ellipse cx="354.98" cy="719.76" rx="1.64" ry="0.78" fill="#7f78b9"/><ellipse cx="361.71" cy="762.82" rx="3.12" ry="0.47" fill="#d9d7ec"/><ellipse cx="388.76" cy="692.57" rx="4.33" ry="0.45" fill="#a29dce"/><ellipse cx="369.42" cy="683.63" rx="1.85" ry="0.49" fill="#aeabd5"/><ellipse cx="398.15" cy="723.95" rx="3.57" ry="0.65" fill="#e3e2f2"/><ellipse cx="344.88" cy="690.17" rx="2.57" ry="0.74" fill="#5b52a1"/><ellipse cx="367.47" cy="751.39" rx="1.46" ry="0.82" fill="#e1e0f1"/><ellipse cx="342.89" cy="761.42" rx="4.44" ry="0.71" fill="#eeedf7"/><ellipse cx="374.62" cy="696.13" rx="4.34" ry="0.69" fill="#d9d8ed"/><ellipse cx="357.19" cy="713.22" rx="1.26" ry="0.74" fill="#665eaa"/><ellipse cx="365.12" cy="690.95" rx="3" ry="0.65" fill="#5f56a4"/><ellipse cx="375.96" cy="710.43" rx="3.81" ry="0.73" fill="#9590c7"/><ellipse cx="397.14" cy="736.48" rx="4.17" ry="0.8" fill="#e2e0f1"/><ellipse cx="352.69" cy="684.07" rx="4.24" ry="0.4" fill="#c9c7e4"/><ellipse cx="377.29" cy="748.55" rx="1.58" ry="0.67" fill="#e7e5f3"/><ellipse cx="383.23" cy="700.43" rx="3.76" ry="0.65" fill="#5950a0"/><ellipse cx="387.12" cy="771.36" rx="3.01" ry="0.87" fill="#e5e4f3"/><ellipse cx="380.61" cy="683.54" rx="1.65" ry="0.83" fill="#a29dce"/><ellipse cx="352.4" cy="722.5" rx="1.43" ry="0.86" fill="#d1cfe8"/><ellipse cx="371.47" cy="683.82" rx="3.6" ry="0.84" fill="#d5d3ea"/><ellipse cx="352.47" cy="771.16" rx="3.56" ry="0.59" fill="#deddef"/><ellipse cx="372.27" cy="685.34" rx="1.64" ry="0.52" fill="#a19ccd"/><ellipse cx="378.13" cy="750.32" rx="2.77" ry="0.58" fill="#d3d2ea"/><ellipse cx="386.43" cy="702.91" rx="1.49" ry="0.66" fill="#e5e4f3"/><ellipse cx="326.7" cy="713.75" rx="3.08" ry="0.79" fill="#d1cfe8"/><ellipse cx="370.33" cy="692.2" rx="2.96" ry="0.56" fill="#dbd9ed"/><ellipse cx="344.5" cy="706.97" rx="1.4" ry="0.52" fill="#6b63ae"/><ellipse cx="358" cy="749.55" rx="2.51" ry="0.53" fill="#b5b2d9"/><ellipse cx="382.79" cy="684.29" rx="2.74" ry="0.46" fill="#ada9d4"/><ellipse cx="342.66" cy="686.33" rx="2.02" ry="0.84" fill="#6860ac"/><ellipse cx="369.35" cy="701.75" rx="2.91" ry="0.41" fill="#d5d4eb"/><ellipse cx="360.13" cy="719.9" rx="4.1" ry="0.63" fill="#857fbd"/><ellipse cx="381" cy="765.58" rx="1.36" ry="0.44" fill="#e1e0f1"/><ellipse cx="349.33" cy="773.04" rx="4.22" ry="0.87" fill="#e0def0"/><ellipse cx="342.81" cy="693.91" rx="3.01" ry="0.49" fill="#483e92"/><ellipse cx="385.87" cy="683.98" rx="3.31" ry="0.59" fill="#7871b5"/><ellipse cx="403.19" cy="687.69" rx="2.19" ry="0.81" fill="#7770b5"/><ellipse cx="362.67" cy="711.23" rx="2.1" ry="0.86" fill="#dbd9ed"/><ellipse cx="361.57" cy="736.61" rx="2.1" ry="0.84" fill="#9994c9"/><ellipse cx="341.35" cy="762.21" rx="4.02" ry="0.72" fill="#cfcde7"/><ellipse cx="342.39" cy="692.23" rx="4" ry="0.88" fill="#574e9e"/><ellipse cx="369.17" cy="748.91" rx="3.92" ry="0.68" fill="#cdcbe6"/><ellipse cx="366.2" cy="763.89" rx="2.95" ry="0.61" fill="#eae8f5"/><ellipse cx="379.8" cy="742.28" rx="4.42" ry="0.53" fill="#edebf6"/><ellipse cx="358.49" cy="721.27" rx="2.05" ry="0.82" fill="#e3e2f1"/><ellipse cx="357.13" cy="765.44" rx="4.14" ry="0.65" fill="#e8e7f4"/><ellipse cx="365.2" cy="738.76" rx="2.68" ry="0.49" fill="#c6c5e3"/><ellipse cx="397.5" cy="770.73" rx="1.5" ry="0.44" fill="#e1e0f1"/><ellipse cx="381.89" cy="708.72" rx="1.33" ry="0.66" fill="#bcb9dd"/><ellipse cx="379.36" cy="725.65" rx="3.26" ry="0.89" fill="#c9c7e5"/><ellipse cx="408.83" cy="722.02" rx="1.23" ry="0.84" fill="#c7c5e3"/><ellipse cx="392.22" cy="740.54" rx="4.4" ry="0.41" fill="#b1aed7"/><ellipse cx="374.18" cy="714.41" rx="3.24" ry="0.76" fill="#b1add7"/><ellipse cx="380.86" cy="728.81" rx="2.54" ry="0.42" fill="#908bc3"/><ellipse cx="384.97" cy="719.75" rx="4.02" ry="0.72" fill="#c4c2e2"/><ellipse cx="355.78" cy="746.59" rx="1.6" ry="0.43" fill="#d1cfe8"/><ellipse cx="391.02" cy="702.73" rx="4.17" ry="0.53" fill="#9d99cb"/><ellipse cx="352.89" cy="693.32" rx="1.23" ry="0.58" fill="#8882bf"/><ellipse cx="340.7" cy="706.42" rx="3.09" ry="0.6" fill="#7068b0"/><ellipse cx="360.21" cy="685.38" rx="3.93" ry="0.48" fill="#c8c6e4"/><ellipse cx="375.41" cy="709.94" rx="1.67" ry="0.64" fill="#655da9"/><ellipse cx="340.67" cy="685.49" rx="3.3" ry="0.73" fill="#6158a6"/><ellipse cx="363.02" cy="699.5" rx="1.23" ry="0.52" fill="#cdcbe6"/><ellipse cx="357.87" cy="694.52" rx="3.88" ry="0.43" fill="#756eb4"/><ellipse cx="386.69" cy="689.19" rx="1.48" ry="0.87" fill="#e0dff0"/><ellipse cx="370.67" cy="758.05" rx="1.57" ry="0.72" fill="#d8d6ec"/><ellipse cx="389.46" cy="722.66" rx="1.96" ry="0.42" fill="#e9e8f4"/><ellipse cx="395.68" cy="701.25" rx="3.95" ry="0.47" fill="#c2bfe1"/><ellipse cx="356.24" cy="705.5" rx="1.56" ry="0.58" fill="#9c98cb"/><ellipse cx="354.85" cy="730.8" rx="2.54" ry="0.65" fill="#8c86c1"/><ellipse cx="368.02" cy="712.78" rx="2.85" ry="0.45" fill="#938ec5"/><ellipse cx="353.17" cy="697.57" rx="4.25" ry="0.68" fill="#a6a3d1"/><ellipse cx="362.47" cy="758.94" rx="1.08" ry="0.54" fill="#cecce7"/><ellipse cx="370.86" cy="720.84" rx="1.17" ry="0.4" fill="#9994c9"/><ellipse cx="348.54" cy="686.97" rx="3.92" ry="0.46" fill="#4a4093"/><ellipse cx="362.49" cy="729.53" rx="2.46" ry="0.8" fill="#e1dff0"/><ellipse cx="386.4" cy="685.05" rx="3.4" ry="0.7" fill="#544a9c"/><ellipse cx="362.46" cy="695.73" rx="3.01" ry="0.51" fill="#b6b3da"/><ellipse cx="381.89" cy="729.97" rx="3.52" ry="0.78" fill="#dad9ed"/><ellipse cx="375.86" cy="747.19" rx="3.46" ry="0.55" fill="#b1add7"/><ellipse cx="363.77" cy="706.88" rx="3.25" ry="0.52" fill="#dad8ed"/><ellipse cx="388.81" cy="757.38" rx="4.43" ry="0.68" fill="#e4e2f2"/><ellipse cx="364.38" cy="731.9" rx="1.7" ry="0.65" fill="#ebeaf5"/><ellipse cx="350.45" cy="687.78" rx="2.28" ry="0.59" fill="#4f4598"/><ellipse cx="345.55" cy="731.75" rx="3.24" ry="0.41" fill="#eae9f5"/><ellipse cx="360.8" cy="696.78" rx="1.83" ry="0.79" fill="#cccae6"/><ellipse cx="368.4" cy="769.48" rx="3.68" ry="0.47" fill="#dcdbee"/><ellipse cx="358.7" cy="689.35" rx="3.92" ry="0.45" fill="#807aba"/><ellipse cx="355.77" cy="689.58" rx="3.46" ry="0.44" fill="#e2e0f1"/><ellipse cx="360.35" cy="741.98" rx="3.71" ry="0.87" fill="#cfcee8"/><ellipse cx="383.1" cy="697.14" rx="2.26" ry="0.81" fill="#7d77b9"/><ellipse cx="398.49" cy="706.2" rx="3.77" ry="0.64" fill="#766fb4"/><ellipse cx="377.78" cy="730.91" rx="2.29" ry="0.55" fill="#b0add6"/><ellipse cx="357.04" cy="736.36" rx="16.4" ry="0.35" fill="#e0dff0"/><ellipse cx="376.23" cy="748.04" rx="7.4" ry="0.35" fill="#e4e3f2"/><ellipse cx="354.38" cy="704.29" rx="17.4" ry="0.35" fill="#dddcef"/><ellipse cx="370.97" cy="710.16" rx="10.68" ry="0.35" fill="#dcdaee"/><ellipse cx="350.73" cy="735.69" rx="7.92" ry="0.35" fill="#ebeaf6"/><ellipse cx="372.07" cy="729.42" rx="9.51" ry="0.35" fill="#e3e1f1"/><ellipse cx="353.96" cy="741.9" rx="5.22" ry="0.35" fill="#e8e7f4"/><ellipse cx="348.31" cy="727.21" rx="5.37" ry="0.35" fill="#e9e8f4"/><ellipse cx="367.64" cy="751.49" rx="15.75" ry="0.35" fill="#deddef"/><ellipse cx="355.27" cy="757.15" rx="11.87" ry="0.35" fill="#dfddef"/><ellipse cx="370.39" cy="699.31" rx="17.34" ry="0.35" fill="#dddbee"/><ellipse cx="373.92" cy="736.61" rx="12.08" ry="0.35" fill="#e4e3f2"/><ellipse cx="361.62" cy="690.2" rx="12.18" ry="0.35" fill="#dddbee"/><ellipse cx="370.31" cy="744.15" rx="6.41" ry="0.35" fill="#e4e3f2"/><ellipse cx="360.92" cy="755.44" rx="9.95" ry="0.35" fill="#dedcef"/></g></g>
<rect x="331.8" y="682.2" width="69" height="112.5" fill="none" stroke="#3a3232" stroke-width="1.2" />
<line x1="331.8" y1="794.7" x2="331.8" y2="797.1" stroke="#3a3232" stroke-width="1.1" />
<line x1="366.3" y1="794.7" x2="366.3" y2="797.1" stroke="#3a3232" stroke-width="1.1" />
<line x1="400.8" y1="794.7" x2="400.8" y2="797.1" stroke="#3a3232" stroke-width="1.1" />
<text x="333.4" y="805" font-size="9.4" text-anchor="start" fill="#333" >-3.0</text>
<text x="366.3" y="805" font-size="9.4" text-anchor="middle" fill="#333" >TSS</text>
<text x="408.8" y="805" font-size="9.4" text-anchor="end" fill="#333" >3.0Kb</text>
<rect x="407.35" y="682.2" width="69" height="112.5" fill="#f8f8fc" />
<rect x="407.35" y="682.2" width="69" height="56.25" fill="url(#hehz)" />
<g clip-path="url(#hecl5)"><g filter="url(#heb)"><ellipse cx="440.48" cy="682.5" rx="2.7" ry="0.8" fill="#291f6e"/><ellipse cx="441.51" cy="682.5" rx="2.36" ry="1.04" fill="#2d2275"/><ellipse cx="442.59" cy="685.27" rx="2.58" ry="0.79" fill="#635aa8"/><ellipse cx="447.87" cy="686.55" rx="4.85" ry="1.23" fill="#584f9f"/><ellipse cx="440.52" cy="687.79" rx="1.87" ry="1.12" fill="#625aa7"/><ellipse cx="439.66" cy="687.79" rx="3.4" ry="0.77" fill="#342881"/><ellipse cx="443.43" cy="689.09" rx="4.65" ry="0.75" fill="#2d2174"/><ellipse cx="441.06" cy="689.09" rx="2.1" ry="0.86" fill="#261c66"/><ellipse cx="442.96" cy="690.46" rx="3.33" ry="1.23" fill="#584f9f"/><ellipse cx="441.36" cy="690.46" rx="4.84" ry="1.25" fill="#574e9e"/><ellipse cx="439.02" cy="692.02" rx="3.89" ry="1.06" fill="#5c53a2"/><ellipse cx="441.49" cy="694.7" rx="3.65" ry="0.8" fill="#584f9f"/><ellipse cx="445.61" cy="695.71" rx="2.41" ry="1.26" fill="#332881"/><ellipse cx="441.28" cy="695.71" rx="3.05" ry="0.89" fill="#4e4497"/><ellipse cx="443.71" cy="697.08" rx="4.51" ry="1.15" fill="#6d65af"/><ellipse cx="442.78" cy="701.09" rx="2.76" ry="1.21" fill="#564c9d"/><ellipse cx="442.41" cy="702.35" rx="2.16" ry="1.2" fill="#493e92"/><ellipse cx="441.35" cy="702.35" rx="1.54" ry="1" fill="#837dbc"/><ellipse cx="441.2" cy="703.37" rx="3.35" ry="0.87" fill="#4e4497"/><ellipse cx="444.89" cy="703.37" rx="3.55" ry="1.18" fill="#392e86"/><ellipse cx="442.69" cy="705.89" rx="4.12" ry="0.73" fill="#5b52a1"/><ellipse cx="441.64" cy="705.89" rx="4.21" ry="1.04" fill="#6158a6"/><ellipse cx="441.92" cy="707.19" rx="3.13" ry="0.76" fill="#504699"/><ellipse cx="444.84" cy="708.42" rx="1.56" ry="1.02" fill="#8a84c0"/><ellipse cx="445.81" cy="709.59" rx="2.36" ry="0.84" fill="#6d65af"/><ellipse cx="440.9" cy="709.59" rx="3.6" ry="1.03" fill="#7069b1"/><ellipse cx="446.56" cy="710.66" rx="2.99" ry="0.78" fill="#3b3088"/><ellipse cx="440.89" cy="713.38" rx="3.8" ry="0.71" fill="#8882bf"/><ellipse cx="443.08" cy="714.74" rx="2.13" ry="0.71" fill="#675fab"/><ellipse cx="444.59" cy="716.25" rx="2.32" ry="0.81" fill="#665eaa"/><ellipse cx="442.49" cy="717.68" rx="2.38" ry="1.25" fill="#8a84c0"/><ellipse cx="446.09" cy="719.17" rx="3.24" ry="1.21" fill="#8d88c2"/><ellipse cx="438.03" cy="723.78" rx="1.53" ry="1" fill="#6860ac"/><ellipse cx="449.22" cy="723.78" rx="1.22" ry="1.18" fill="#665daa"/><ellipse cx="440.57" cy="725.15" rx="3.26" ry="1.21" fill="#564d9e"/><ellipse cx="440.01" cy="725.15" rx="1.32" ry="1" fill="#5c53a2"/><ellipse cx="444.23" cy="727.37" rx="1.75" ry="0.83" fill="#756eb3"/><ellipse cx="440.74" cy="728.83" rx="2.98" ry="1.11" fill="#8d87c2"/><ellipse cx="446.18" cy="731.21" rx="1.89" ry="0.92" fill="#837dbc"/><ellipse cx="444.2" cy="738.09" rx="1.42" ry="1.29" fill="#6c64ae"/><ellipse cx="435.95" cy="740.57" rx="2.21" ry="0.96" fill="#a9a5d2"/><ellipse cx="442.4" cy="688.5" rx="4.5" ry="0.94" fill="#8680be"/><ellipse cx="439.45" cy="688.99" rx="3.26" ry="0.75" fill="#382d85"/><ellipse cx="457.28" cy="684.12" rx="3.64" ry="0.7" fill="#493f93"/><ellipse cx="442.22" cy="686.57" rx="3.52" ry="0.77" fill="#31257e"/><ellipse cx="450.42" cy="686.13" rx="4.77" ry="0.72" fill="#6158a6"/><ellipse cx="449.99" cy="685.06" rx="4.53" ry="0.86" fill="#30247c"/><ellipse cx="447.95" cy="687.98" rx="1.8" ry="0.59" fill="#4e4496"/><ellipse cx="447.68" cy="683.79" rx="3.06" ry="0.95" fill="#41368c"/><ellipse cx="438.29" cy="687.94" rx="4.05" ry="0.79" fill="#514799"/><ellipse cx="445.87" cy="685.13" rx="4.52" ry="0.97" fill="#514799"/><ellipse cx="446.94" cy="685.6" rx="1.58" ry="0.72" fill="#4d4396"/><ellipse cx="445.8" cy="683.7" rx="2.08" ry="0.94" fill="#b1aed7"/><ellipse cx="443.82" cy="684.98" rx="4.31" ry="0.81" fill="#857fbd"/><ellipse cx="430.23" cy="719.76" rx="1.64" ry="0.78" fill="#7f78b9"/><ellipse cx="437.09" cy="762.82" rx="3.12" ry="0.47" fill="#d9d7ec"/><ellipse cx="464.23" cy="692.57" rx="4.33" ry="0.45" fill="#a29dce"/><ellipse cx="445.12" cy="683.63" rx="1.85" ry="0.49" fill="#aeabd5"/><ellipse cx="473.92" cy="723.95" rx="3.57" ry="0.65" fill="#e3e2f2"/><ellipse cx="419.93" cy="690.17" rx="2.57" ry="0.74" fill="#5b52a1"/><ellipse cx="443.29" cy="751.39" rx="1.46" ry="0.82" fill="#e1e0f1"/><ellipse cx="418.74" cy="761.42" rx="4.44" ry="0.71" fill="#eeedf7"/><ellipse cx="450.41" cy="696.13" rx="4.34" ry="0.69" fill="#d9d8ed"/><ellipse cx="432.62" cy="713.22" rx="1.26" ry="0.74" fill="#665eaa"/><ellipse cx="440.45" cy="690.95" rx="3" ry="0.65" fill="#5f56a4"/><ellipse cx="452.02" cy="710.43" rx="3.81" ry="0.73" fill="#9590c7"/><ellipse cx="472.46" cy="736.48" rx="4.17" ry="0.8" fill="#e2e0f1"/><ellipse cx="427.78" cy="684.07" rx="4.24" ry="0.4" fill="#c9c7e4"/><ellipse cx="453.4" cy="748.55" rx="1.58" ry="0.67" fill="#e7e5f3"/><ellipse cx="458.57" cy="700.43" rx="3.76" ry="0.65" fill="#5950a0"/><ellipse cx="463.25" cy="771.36" rx="3.01" ry="0.87" fill="#e5e4f3"/><ellipse cx="456.62" cy="683.54" rx="1.65" ry="0.83" fill="#a29dce"/><ellipse cx="428.43" cy="722.5" rx="1.43" ry="0.86" fill="#d1cfe8"/><ellipse cx="447.25" cy="683.82" rx="3.6" ry="0.84" fill="#d5d3ea"/><ellipse cx="428.05" cy="771.16" rx="3.56" ry="0.59" fill="#deddef"/><ellipse cx="447.97" cy="685.34" rx="1.64" ry="0.52" fill="#a19ccd"/><ellipse cx="453.57" cy="750.32" rx="2.77" ry="0.58" fill="#d3d2ea"/><ellipse cx="461.67" cy="702.91" rx="1.49" ry="0.66" fill="#e5e4f3"/><ellipse cx="402.27" cy="713.75" rx="3.08" ry="0.79" fill="#d1cfe8"/><ellipse cx="445.7" cy="692.2" rx="2.96" ry="0.56" fill="#dbd9ed"/><ellipse cx="420.17" cy="706.97" rx="1.4" ry="0.52" fill="#6b63ae"/><ellipse cx="433.11" cy="749.55" rx="2.51" ry="0.53" fill="#b5b2d9"/><ellipse cx="458.79" cy="684.29" rx="2.74" ry="0.46" fill="#ada9d4"/><ellipse cx="418.5" cy="686.33" rx="2.02" ry="0.84" fill="#6860ac"/><ellipse cx="445.41" cy="701.75" rx="2.91" ry="0.41" fill="#d5d4eb"/><ellipse cx="435.36" cy="719.9" rx="4.1" ry="0.63" fill="#857fbd"/><ellipse cx="457.14" cy="765.58" rx="1.36" ry="0.44" fill="#e1e0f1"/><ellipse cx="424.4" cy="773.04" rx="4.22" ry="0.87" fill="#e0def0"/><ellipse cx="418.65" cy="693.91" rx="3.01" ry="0.49" fill="#483e92"/><ellipse cx="460.98" cy="683.98" rx="3.31" ry="0.59" fill="#7871b5"/><ellipse cx="478.16" cy="687.69" rx="2.19" ry="0.81" fill="#7770b5"/><ellipse cx="438.57" cy="711.23" rx="2.1" ry="0.86" fill="#dbd9ed"/><ellipse cx="436.92" cy="736.61" rx="2.1" ry="0.84" fill="#9994c9"/><ellipse cx="417.4" cy="762.21" rx="4.02" ry="0.72" fill="#cfcde7"/><ellipse cx="417.89" cy="692.23" rx="4" ry="0.88" fill="#574e9e"/><ellipse cx="445" cy="748.91" rx="3.92" ry="0.68" fill="#cdcbe6"/><ellipse cx="441.38" cy="763.89" rx="2.95" ry="0.61" fill="#eae8f5"/><ellipse cx="454.78" cy="742.28" rx="4.42" ry="0.53" fill="#edebf6"/><ellipse cx="434.31" cy="721.27" rx="2.05" ry="0.82" fill="#e3e2f1"/><ellipse cx="432.64" cy="765.44" rx="4.14" ry="0.65" fill="#e8e7f4"/><ellipse cx="440.6" cy="738.76" rx="2.68" ry="0.49" fill="#c6c5e3"/><ellipse cx="472.69" cy="770.73" rx="1.5" ry="0.44" fill="#e1e0f1"/><ellipse cx="456.91" cy="708.72" rx="1.33" ry="0.66" fill="#bcb9dd"/><ellipse cx="454.72" cy="725.65" rx="3.26" ry="0.89" fill="#c9c7e5"/><ellipse cx="484.91" cy="722.02" rx="1.23" ry="0.84" fill="#c7c5e3"/><ellipse cx="468.05" cy="740.54" rx="4.4" ry="0.41" fill="#b1aed7"/><ellipse cx="449.79" cy="714.41" rx="3.24" ry="0.76" fill="#b1add7"/><ellipse cx="456.96" cy="728.81" rx="2.54" ry="0.42" fill="#908bc3"/><ellipse cx="459.97" cy="719.75" rx="4.02" ry="0.72" fill="#c4c2e2"/><ellipse cx="431.76" cy="746.59" rx="1.6" ry="0.43" fill="#d1cfe8"/><ellipse cx="466.39" cy="702.73" rx="4.17" ry="0.53" fill="#9d99cb"/><ellipse cx="429.03" cy="693.32" rx="1.23" ry="0.58" fill="#8882bf"/><ellipse cx="415.67" cy="706.42" rx="3.09" ry="0.6" fill="#7068b0"/><ellipse cx="436.19" cy="685.38" rx="3.93" ry="0.48" fill="#c8c6e4"/><ellipse cx="450.88" cy="709.94" rx="1.67" ry="0.64" fill="#655da9"/><ellipse cx="416.19" cy="685.49" rx="3.3" ry="0.73" fill="#6158a6"/><ellipse cx="438.32" cy="699.5" rx="1.23" ry="0.52" fill="#cdcbe6"/><ellipse cx="433.28" cy="694.52" rx="3.88" ry="0.43" fill="#756eb4"/><ellipse cx="462.63" cy="689.19" rx="1.48" ry="0.87" fill="#e0dff0"/><ellipse cx="446.1" cy="758.05" rx="1.57" ry="0.72" fill="#d8d6ec"/><ellipse cx="465.54" cy="722.66" rx="1.96" ry="0.42" fill="#e9e8f4"/><ellipse cx="471.71" cy="701.25" rx="3.95" ry="0.47" fill="#c2bfe1"/><ellipse cx="431.49" cy="705.5" rx="1.56" ry="0.58" fill="#9c98cb"/><ellipse cx="430.86" cy="730.8" rx="2.54" ry="0.65" fill="#8c86c1"/><ellipse cx="443.93" cy="712.78" rx="2.85" ry="0.45" fill="#938ec5"/><ellipse cx="428.49" cy="697.57" rx="4.25" ry="0.68" fill="#a6a3d1"/><ellipse cx="437.54" cy="758.94" rx="1.08" ry="0.54" fill="#cecce7"/><ellipse cx="446.49" cy="720.84" rx="1.17" ry="0.4" fill="#9994c9"/><ellipse cx="424.49" cy="686.97" rx="3.92" ry="0.46" fill="#4a4093"/><ellipse cx="438" cy="729.53" rx="2.46" ry="0.8" fill="#e1dff0"/><ellipse cx="462.11" cy="685.05" rx="3.4" ry="0.7" fill="#544a9c"/><ellipse cx="438.24" cy="695.73" rx="3.01" ry="0.51" fill="#b6b3da"/><ellipse cx="457.48" cy="729.97" rx="3.52" ry="0.78" fill="#dad9ed"/><ellipse cx="451.78" cy="747.19" rx="3.46" ry="0.55" fill="#b1add7"/><ellipse cx="439.4" cy="706.88" rx="3.25" ry="0.52" fill="#dad8ed"/><ellipse cx="464.02" cy="757.38" rx="4.43" ry="0.68" fill="#e4e2f2"/><ellipse cx="439.38" cy="731.9" rx="1.7" ry="0.65" fill="#ebeaf5"/><ellipse cx="426.08" cy="687.78" rx="2.28" ry="0.59" fill="#4f4598"/><ellipse cx="420.76" cy="731.75" rx="3.24" ry="0.41" fill="#eae9f5"/><ellipse cx="436.75" cy="696.78" rx="1.83" ry="0.79" fill="#cccae6"/><ellipse cx="443.71" cy="769.48" rx="3.68" ry="0.47" fill="#dcdbee"/><ellipse cx="434.55" cy="689.35" rx="3.92" ry="0.45" fill="#807aba"/><ellipse cx="431.92" cy="689.58" rx="3.46" ry="0.44" fill="#e2e0f1"/><ellipse cx="435.87" cy="741.98" rx="3.71" ry="0.87" fill="#cfcee8"/><ellipse cx="458.65" cy="697.14" rx="2.26" ry="0.81" fill="#7d77b9"/><ellipse cx="473.65" cy="706.2" rx="3.77" ry="0.64" fill="#766fb4"/><ellipse cx="453.17" cy="730.91" rx="2.29" ry="0.55" fill="#b0add6"/><ellipse cx="432.86" cy="736.36" rx="16.4" ry="0.35" fill="#e0dff0"/><ellipse cx="451.8" cy="748.04" rx="7.4" ry="0.35" fill="#e4e3f2"/><ellipse cx="430.05" cy="704.29" rx="17.4" ry="0.35" fill="#dddcef"/><ellipse cx="446.14" cy="710.16" rx="10.68" ry="0.35" fill="#dcdaee"/><ellipse cx="426.43" cy="735.69" rx="7.92" ry="0.35" fill="#ebeaf6"/><ellipse cx="447.33" cy="729.42" rx="9.51" ry="0.35" fill="#e3e1f1"/><ellipse cx="429.92" cy="741.9" rx="5.22" ry="0.35" fill="#e8e7f4"/><ellipse cx="424.37" cy="727.21" rx="5.37" ry="0.35" fill="#e9e8f4"/><ellipse cx="443.13" cy="751.49" rx="15.75" ry="0.35" fill="#deddef"/><ellipse cx="430.79" cy="757.15" rx="11.87" ry="0.35" fill="#dfddef"/><ellipse cx="445.67" cy="699.31" rx="17.34" ry="0.35" fill="#dddbee"/><ellipse cx="449.3" cy="736.61" rx="12.08" ry="0.35" fill="#e4e3f2"/><ellipse cx="437.15" cy="690.2" rx="12.18" ry="0.35" fill="#dddbee"/><ellipse cx="446.25" cy="744.15" rx="6.41" ry="0.35" fill="#e4e3f2"/><ellipse cx="436.97" cy="755.44" rx="9.95" ry="0.35" fill="#dedcef"/></g></g>
<rect x="407.35" y="682.2" width="69" height="112.5" fill="none" stroke="#3a3232" stroke-width="1.2" />
<line x1="407.35" y1="794.7" x2="407.35" y2="797.1" stroke="#3a3232" stroke-width="1.1" />
<line x1="441.85" y1="794.7" x2="441.85" y2="797.1" stroke="#3a3232" stroke-width="1.1" />
<line x1="476.35" y1="794.7" x2="476.35" y2="797.1" stroke="#3a3232" stroke-width="1.1" />
<text x="408.95" y="805" font-size="9.4" text-anchor="start" fill="#333" >-3.0</text>
<text x="441.85" y="805" font-size="9.4" text-anchor="middle" fill="#333" >TSS</text>
<text x="484.35" y="805" font-size="9.4" text-anchor="end" fill="#333" >3.0Kb</text>
<rect x="482.9" y="682.2" width="69" height="112.5" fill="#f8f8fc" />
<rect x="482.9" y="682.2" width="69" height="56.25" fill="url(#hehz)" />
<g clip-path="url(#hecl6)"><g filter="url(#heb)"><ellipse cx="517.54" cy="682.5" rx="3.19" ry="0.71" fill="#463b90"/><ellipse cx="516.07" cy="683.84" rx="2.88" ry="0.82" fill="#2b2072"/><ellipse cx="517.55" cy="686.83" rx="2.49" ry="0.94" fill="#3f348b"/><ellipse cx="519.83" cy="687.95" rx="4.56" ry="0.73" fill="#746db3"/><ellipse cx="519.17" cy="687.95" rx="3.62" ry="0.83" fill="#2f2379"/><ellipse cx="514.61" cy="690.41" rx="2.55" ry="0.87" fill="#291e6d"/><ellipse cx="521.74" cy="691.6" rx="2.41" ry="1.08" fill="#42378d"/><ellipse cx="520.12" cy="693.17" rx="2.1" ry="1.07" fill="#7d76b8"/><ellipse cx="525.44" cy="695.62" rx="2.73" ry="1.26" fill="#7972b6"/><ellipse cx="523.14" cy="696.95" rx="2.62" ry="1.25" fill="#2b2070"/><ellipse cx="518.58" cy="697.98" rx="2.72" ry="1.14" fill="#42388d"/><ellipse cx="520.14" cy="697.98" rx="1.94" ry="1.16" fill="#483e92"/><ellipse cx="515.95" cy="700.73" rx="2.61" ry="0.88" fill="#4b4195"/><ellipse cx="515.32" cy="701.88" rx="4.32" ry="1.06" fill="#52489a"/><ellipse cx="516.45" cy="702.83" rx="3.56" ry="1.02" fill="#352982"/><ellipse cx="517.31" cy="704.19" rx="2.21" ry="1.27" fill="#32267f"/><ellipse cx="524.67" cy="705.29" rx="2.75" ry="1.1" fill="#483d92"/><ellipse cx="521.44" cy="705.29" rx="2.04" ry="1.11" fill="#382c85"/><ellipse cx="514.9" cy="709.09" rx="2.77" ry="0.91" fill="#6058a6"/><ellipse cx="517.53" cy="709.09" rx="3.56" ry="1.29" fill="#645ca9"/><ellipse cx="520.19" cy="714.48" rx="3.78" ry="0.97" fill="#7069b1"/><ellipse cx="524.75" cy="716.8" rx="2.43" ry="1.19" fill="#635ba8"/><ellipse cx="513.61" cy="723.27" rx="1.84" ry="1.16" fill="#736cb2"/><ellipse cx="516.96" cy="727.18" rx="3.23" ry="1.03" fill="#7972b6"/><ellipse cx="520.03" cy="728.18" rx="1.7" ry="1" fill="#857fbd"/><ellipse cx="513.83" cy="730.6" rx="3.19" ry="0.95" fill="#aca8d4"/><ellipse cx="525.2" cy="735.19" rx="1.57" ry="0.95" fill="#817bbb"/><ellipse cx="515.77" cy="736.12" rx="2.33" ry="0.88" fill="#a39fcf"/><ellipse cx="521.43" cy="737.51" rx="2.84" ry="0.94" fill="#948fc6"/><ellipse cx="518.87" cy="737.51" rx="1.08" ry="0.77" fill="#7a73b6"/><ellipse cx="512.39" cy="740.11" rx="1.02" ry="1.05" fill="#766fb4"/><ellipse cx="514.11" cy="684.08" rx="2.51" ry="0.52" fill="#746db3"/><ellipse cx="519.1" cy="686.76" rx="4.83" ry="0.92" fill="#2d2276"/><ellipse cx="520.97" cy="687.1" rx="2.05" ry="0.72" fill="#4b4195"/><ellipse cx="504.29" cy="683.11" rx="3.96" ry="0.76" fill="#322680"/><ellipse cx="531.3" cy="687.38" rx="2.52" ry="0.6" fill="#2f2379"/><ellipse cx="520.96" cy="684.11" rx="4.6" ry="0.86" fill="#a7a4d1"/><ellipse cx="516.47" cy="685" rx="3.86" ry="0.61" fill="#9d98cb"/><ellipse cx="524.71" cy="684.62" rx="3.85" ry="0.82" fill="#554c9d"/><ellipse cx="518.02" cy="683.51" rx="2.86" ry="0.6" fill="#493f93"/><ellipse cx="532.26" cy="685.03" rx="2.26" ry="0.49" fill="#3a2e86"/><ellipse cx="513.26" cy="769.81" rx="1.74" ry="0.77" fill="#d6d5eb"/><ellipse cx="548.67" cy="696.34" rx="1.92" ry="0.42" fill="#b7b4da"/><ellipse cx="515.53" cy="739.91" rx="3.06" ry="0.57" fill="#e2e0f1"/><ellipse cx="528.78" cy="683.22" rx="1.49" ry="0.82" fill="#a19dce"/><ellipse cx="542.33" cy="726.53" rx="2.98" ry="0.61" fill="#c5c3e2"/><ellipse cx="510.85" cy="708.98" rx="1.6" ry="0.59" fill="#e2e1f1"/><ellipse cx="513" cy="732.52" rx="3.45" ry="0.43" fill="#d2d0e9"/><ellipse cx="543.71" cy="689.69" rx="2.54" ry="0.51" fill="#7d76b8"/><ellipse cx="527.94" cy="726.59" rx="4.13" ry="0.66" fill="#d2d0e9"/><ellipse cx="520.22" cy="686.64" rx="3.58" ry="0.58" fill="#3c3188"/><ellipse cx="522.23" cy="686.38" rx="2.96" ry="0.62" fill="#7871b5"/><ellipse cx="543.58" cy="752.84" rx="2.04" ry="0.67" fill="#deddef"/><ellipse cx="522.24" cy="704.89" rx="4.18" ry="0.59" fill="#6c64ae"/><ellipse cx="518.43" cy="687.7" rx="3.26" ry="0.72" fill="#8e89c2"/><ellipse cx="498.93" cy="733.94" rx="1.47" ry="0.54" fill="#a09bcd"/><ellipse cx="522.38" cy="723.72" rx="2.62" ry="0.41" fill="#9f9bcc"/><ellipse cx="513.43" cy="731.82" rx="2.91" ry="0.84" fill="#d1cfe8"/><ellipse cx="523.77" cy="761.49" rx="1.98" ry="0.63" fill="#cbcae6"/><ellipse cx="506.71" cy="744.17" rx="3.18" ry="0.6" fill="#edebf6"/><ellipse cx="527.78" cy="736.28" rx="4.46" ry="0.8" fill="#a09ccd"/><ellipse cx="509.82" cy="687.98" rx="2.04" ry="0.81" fill="#e2e0f1"/><ellipse cx="502.99" cy="696.98" rx="1.92" ry="0.55" fill="#b5b2d9"/><ellipse cx="507.74" cy="718.56" rx="2.01" ry="0.59" fill="#c0bee0"/><ellipse cx="523.3" cy="718.8" rx="2.14" ry="0.47" fill="#b9b6db"/><ellipse cx="533.79" cy="700.9" rx="3.96" ry="0.57" fill="#c8c6e4"/><ellipse cx="516.54" cy="688.32" rx="4.19" ry="0.87" fill="#dbd9ee"/><ellipse cx="482.68" cy="688.61" rx="2.9" ry="0.78" fill="#dddcef"/><ellipse cx="515.74" cy="710.51" rx="3.69" ry="0.86" fill="#d7d5eb"/><ellipse cx="541.66" cy="711.27" rx="2.71" ry="0.49" fill="#7a73b7"/><ellipse cx="522.19" cy="683.38" rx="2.12" ry="0.62" fill="#ada9d4"/><ellipse cx="552.93" cy="688.17" rx="2.99" ry="0.65" fill="#8882bf"/><ellipse cx="503.59" cy="685.32" rx="3.37" ry="0.86" fill="#cecce7"/><ellipse cx="505.89" cy="685.24" rx="3.25" ry="0.53" fill="#deddef"/><ellipse cx="516.91" cy="683.42" rx="2.92" ry="0.83" fill="#e4e2f2"/><ellipse cx="527.7" cy="689.42" rx="3.03" ry="0.84" fill="#564c9d"/><ellipse cx="521.29" cy="683.26" rx="1.15" ry="0.83" fill="#b5b2d9"/><ellipse cx="498.4" cy="688.49" rx="2.81" ry="0.72" fill="#d2d0e9"/><ellipse cx="519.19" cy="719.05" rx="2.8" ry="0.74" fill="#e7e5f3"/><ellipse cx="505.51" cy="757.89" rx="1.02" ry="0.54" fill="#efeef8"/><ellipse cx="532.01" cy="691.56" rx="3.06" ry="0.78" fill="#e5e4f3"/><ellipse cx="502.41" cy="763.47" rx="2.29" ry="0.48" fill="#d8d6ec"/><ellipse cx="496.36" cy="693.78" rx="4.28" ry="0.47" fill="#564c9d"/><ellipse cx="517.7" cy="684.9" rx="3.23" ry="0.4" fill="#493e93"/><ellipse cx="509.39" cy="701.48" rx="3.67" ry="0.5" fill="#bab8dc"/><ellipse cx="522.64" cy="689.11" rx="2.56" ry="0.71" fill="#514799"/><ellipse cx="505.55" cy="758.76" rx="2.47" ry="0.81" fill="#cccae6"/><ellipse cx="499.65" cy="692.03" rx="4.43" ry="0.52" fill="#cbcae6"/><ellipse cx="537.06" cy="721.79" rx="4.38" ry="0.57" fill="#918bc4"/><ellipse cx="521.24" cy="683.67" rx="3.7" ry="0.51" fill="#cccae6"/><ellipse cx="506.02" cy="771.02" rx="4.12" ry="0.84" fill="#deddef"/><ellipse cx="543.43" cy="684.5" rx="2.09" ry="0.87" fill="#564d9d"/><ellipse cx="481.87" cy="713.19" rx="3.27" ry="0.52" fill="#e4e3f2"/><ellipse cx="514.59" cy="733.65" rx="1.24" ry="0.86" fill="#cbc9e5"/><ellipse cx="488.53" cy="746.92" rx="2.84" ry="0.89" fill="#cfcee8"/><ellipse cx="507.84" cy="713.97" rx="2.01" ry="0.85" fill="#7e78b9"/><ellipse cx="519.71" cy="695.44" rx="2.7" ry="0.74" fill="#9e99cc"/><ellipse cx="518.41" cy="700.27" rx="2.75" ry="0.64" fill="#cdcbe7"/><ellipse cx="487.29" cy="723.51" rx="1.7" ry="0.77" fill="#7a74b7"/><ellipse cx="512.15" cy="696.86" rx="3.78" ry="0.59" fill="#7871b5"/><ellipse cx="520.76" cy="772.17" rx="1.86" ry="0.8" fill="#dddbee"/><ellipse cx="496.64" cy="760.54" rx="1.24" ry="0.42" fill="#e0dff0"/><ellipse cx="544.66" cy="694.37" rx="2.46" ry="0.48" fill="#a9a5d2"/><ellipse cx="528.96" cy="719.32" rx="2.59" ry="0.89" fill="#7871b5"/><ellipse cx="498.11" cy="761.04" rx="3.58" ry="0.63" fill="#e7e6f4"/><ellipse cx="520.88" cy="772.15" rx="2.41" ry="0.64" fill="#d9d7ec"/><ellipse cx="524.98" cy="686.39" rx="3.7" ry="0.71" fill="#e2e1f1"/><ellipse cx="543.91" cy="748.09" rx="4.33" ry="0.62" fill="#d5d3ea"/><ellipse cx="502.42" cy="737.09" rx="18.63" ry="0.35" fill="#eceaf6"/><ellipse cx="518.47" cy="736.6" rx="7.42" ry="0.35" fill="#e0def0"/><ellipse cx="533.52" cy="759.58" rx="15.58" ry="0.35" fill="#e1dff0"/><ellipse cx="520.17" cy="706.93" rx="12.07" ry="0.35" fill="#e9e8f4"/><ellipse cx="524.15" cy="762.02" rx="19.61" ry="0.35" fill="#e3e1f1"/><ellipse cx="510.96" cy="722.13" rx="17.26" ry="0.35" fill="#e5e4f2"/><ellipse cx="530.97" cy="710.81" rx="8.71" ry="0.35" fill="#e3e1f1"/><ellipse cx="505.49" cy="747.42" rx="8.43" ry="0.35" fill="#e9e7f4"/><ellipse cx="511.47" cy="729.79" rx="11.17" ry="0.35" fill="#dcdaee"/><ellipse cx="524.17" cy="693.33" rx="15.3" ry="0.35" fill="#dddbee"/><ellipse cx="528.12" cy="690.19" rx="13.29" ry="0.35" fill="#e1dff0"/></g></g>
<rect x="482.9" y="682.2" width="69" height="112.5" fill="none" stroke="#3a3232" stroke-width="1.2" />
<line x1="482.9" y1="794.7" x2="482.9" y2="797.1" stroke="#3a3232" stroke-width="1.1" />
<line x1="517.4" y1="794.7" x2="517.4" y2="797.1" stroke="#3a3232" stroke-width="1.1" />
<line x1="551.9" y1="794.7" x2="551.9" y2="797.1" stroke="#3a3232" stroke-width="1.1" />
<text x="484.5" y="805" font-size="9.4" text-anchor="start" fill="#333" >-3.0</text>
<text x="517.4" y="805" font-size="9.4" text-anchor="middle" fill="#333" >TSS</text>
<text x="559.9" y="805" font-size="9.4" text-anchor="end" fill="#333" >3.0Kb</text>
<rect x="558.45" y="682.2" width="69" height="112.5" fill="#f8f8fc" />
<rect x="558.45" y="682.2" width="69" height="56.25" fill="url(#hehz)" />
<g clip-path="url(#hecl7)"><g filter="url(#heb)"><ellipse cx="593.33" cy="682.5" rx="3.19" ry="0.71" fill="#463b90"/><ellipse cx="591.08" cy="683.84" rx="2.88" ry="0.82" fill="#2b2072"/><ellipse cx="592.69" cy="686.83" rx="2.49" ry="0.94" fill="#3f348b"/><ellipse cx="595.12" cy="687.95" rx="4.56" ry="0.73" fill="#746db3"/><ellipse cx="594.68" cy="687.95" rx="3.62" ry="0.83" fill="#2f2379"/><ellipse cx="590.39" cy="690.41" rx="2.55" ry="0.87" fill="#291e6d"/><ellipse cx="596.9" cy="691.6" rx="2.41" ry="1.08" fill="#42378d"/><ellipse cx="595.65" cy="693.17" rx="2.1" ry="1.07" fill="#7d76b8"/><ellipse cx="600.59" cy="695.62" rx="2.73" ry="1.26" fill="#7972b6"/><ellipse cx="598.94" cy="696.95" rx="2.62" ry="1.25" fill="#2b2070"/><ellipse cx="593.79" cy="697.98" rx="2.72" ry="1.14" fill="#42388d"/><ellipse cx="595.14" cy="697.98" rx="1.94" ry="1.16" fill="#483e92"/><ellipse cx="591.4" cy="700.73" rx="2.61" ry="0.88" fill="#4b4195"/><ellipse cx="591.42" cy="701.88" rx="4.32" ry="1.06" fill="#52489a"/><ellipse cx="592.02" cy="702.83" rx="3.56" ry="1.02" fill="#352982"/><ellipse cx="592.35" cy="704.19" rx="2.21" ry="1.27" fill="#32267f"/><ellipse cx="600.36" cy="705.29" rx="2.75" ry="1.1" fill="#483d92"/><ellipse cx="597.02" cy="705.29" rx="2.04" ry="1.11" fill="#382c85"/><ellipse cx="590.13" cy="709.09" rx="2.77" ry="0.91" fill="#6058a6"/><ellipse cx="593.09" cy="709.09" rx="3.56" ry="1.29" fill="#645ca9"/><ellipse cx="595.48" cy="714.48" rx="3.78" ry="0.97" fill="#7069b1"/><ellipse cx="600.51" cy="716.8" rx="2.43" ry="1.19" fill="#635ba8"/><ellipse cx="589.6" cy="723.27" rx="1.84" ry="1.16" fill="#736cb2"/><ellipse cx="592.67" cy="727.18" rx="3.23" ry="1.03" fill="#7972b6"/><ellipse cx="595.97" cy="728.18" rx="1.7" ry="1" fill="#857fbd"/><ellipse cx="589.73" cy="730.6" rx="3.19" ry="0.95" fill="#aca8d4"/><ellipse cx="600.27" cy="735.19" rx="1.57" ry="0.95" fill="#817bbb"/><ellipse cx="590.97" cy="736.12" rx="2.33" ry="0.88" fill="#a39fcf"/><ellipse cx="597.55" cy="737.51" rx="2.84" ry="0.94" fill="#948fc6"/><ellipse cx="594.96" cy="737.51" rx="1.08" ry="0.77" fill="#7a73b6"/><ellipse cx="588.22" cy="740.11" rx="1.02" ry="1.05" fill="#766fb4"/><ellipse cx="589.34" cy="684.08" rx="2.51" ry="0.52" fill="#746db3"/><ellipse cx="594.39" cy="686.76" rx="4.83" ry="0.92" fill="#2d2276"/><ellipse cx="596.79" cy="687.1" rx="2.05" ry="0.72" fill="#4b4195"/><ellipse cx="580.2" cy="683.11" rx="3.96" ry="0.76" fill="#322680"/><ellipse cx="606.51" cy="687.38" rx="2.52" ry="0.6" fill="#2f2379"/><ellipse cx="597" cy="684.11" rx="4.6" ry="0.86" fill="#a7a4d1"/><ellipse cx="591.81" cy="685" rx="3.86" ry="0.61" fill="#9d98cb"/><ellipse cx="600.08" cy="684.62" rx="3.85" ry="0.82" fill="#554c9d"/><ellipse cx="593.69" cy="683.51" rx="2.86" ry="0.6" fill="#493f93"/><ellipse cx="608.33" cy="685.03" rx="2.26" ry="0.49" fill="#3a2e86"/><ellipse cx="588.45" cy="769.81" rx="1.74" ry="0.77" fill="#d6d5eb"/><ellipse cx="624.06" cy="696.34" rx="1.92" ry="0.42" fill="#b7b4da"/><ellipse cx="591.54" cy="739.91" rx="3.06" ry="0.57" fill="#e2e0f1"/><ellipse cx="603.76" cy="683.22" rx="1.49" ry="0.82" fill="#a19dce"/><ellipse cx="617.37" cy="726.53" rx="2.98" ry="0.61" fill="#c5c3e2"/><ellipse cx="586.08" cy="708.98" rx="1.6" ry="0.59" fill="#e2e1f1"/><ellipse cx="588.84" cy="732.52" rx="3.45" ry="0.43" fill="#d2d0e9"/><ellipse cx="618.93" cy="689.69" rx="2.54" ry="0.51" fill="#7d76b8"/><ellipse cx="603.09" cy="726.59" rx="4.13" ry="0.66" fill="#d2d0e9"/><ellipse cx="595.9" cy="686.64" rx="3.58" ry="0.58" fill="#3c3188"/><ellipse cx="597.84" cy="686.38" rx="2.96" ry="0.62" fill="#7871b5"/><ellipse cx="619.13" cy="752.84" rx="2.04" ry="0.67" fill="#deddef"/><ellipse cx="597.84" cy="704.89" rx="4.18" ry="0.59" fill="#6c64ae"/><ellipse cx="593.42" cy="687.7" rx="3.26" ry="0.72" fill="#8e89c2"/><ellipse cx="575.01" cy="733.94" rx="1.47" ry="0.54" fill="#a09bcd"/><ellipse cx="597.41" cy="723.72" rx="2.62" ry="0.41" fill="#9f9bcc"/><ellipse cx="588.53" cy="731.82" rx="2.91" ry="0.84" fill="#d1cfe8"/><ellipse cx="598.93" cy="761.49" rx="1.98" ry="0.63" fill="#cbcae6"/><ellipse cx="582.36" cy="744.17" rx="3.18" ry="0.6" fill="#edebf6"/><ellipse cx="603.26" cy="736.28" rx="4.46" ry="0.8" fill="#a09ccd"/><ellipse cx="585.51" cy="687.98" rx="2.04" ry="0.81" fill="#e2e0f1"/><ellipse cx="578.44" cy="696.98" rx="1.92" ry="0.55" fill="#b5b2d9"/><ellipse cx="583.35" cy="718.56" rx="2.01" ry="0.59" fill="#c0bee0"/><ellipse cx="598.95" cy="718.8" rx="2.14" ry="0.47" fill="#b9b6db"/><ellipse cx="609.47" cy="700.9" rx="3.96" ry="0.57" fill="#c8c6e4"/><ellipse cx="591.91" cy="688.32" rx="4.19" ry="0.87" fill="#dbd9ee"/><ellipse cx="557.76" cy="688.61" rx="2.9" ry="0.78" fill="#dddcef"/><ellipse cx="591.11" cy="710.51" rx="3.69" ry="0.86" fill="#d7d5eb"/><ellipse cx="617.78" cy="711.27" rx="2.71" ry="0.49" fill="#7a73b7"/><ellipse cx="597.96" cy="683.38" rx="2.12" ry="0.62" fill="#ada9d4"/><ellipse cx="628.26" cy="688.17" rx="2.99" ry="0.65" fill="#8882bf"/><ellipse cx="578.93" cy="685.32" rx="3.37" ry="0.86" fill="#cecce7"/><ellipse cx="581.92" cy="685.24" rx="3.25" ry="0.53" fill="#deddef"/><ellipse cx="592.33" cy="683.42" rx="2.92" ry="0.83" fill="#e4e2f2"/><ellipse cx="602.79" cy="689.42" rx="3.03" ry="0.84" fill="#564c9d"/><ellipse cx="596.3" cy="683.26" rx="1.15" ry="0.83" fill="#b5b2d9"/><ellipse cx="573.49" cy="688.49" rx="2.81" ry="0.72" fill="#d2d0e9"/><ellipse cx="594.6" cy="719.05" rx="2.8" ry="0.74" fill="#e7e5f3"/><ellipse cx="581.07" cy="757.89" rx="1.02" ry="0.54" fill="#efeef8"/><ellipse cx="608.08" cy="691.56" rx="3.06" ry="0.78" fill="#e5e4f3"/><ellipse cx="577.48" cy="763.47" rx="2.29" ry="0.48" fill="#d8d6ec"/><ellipse cx="571.35" cy="693.78" rx="4.28" ry="0.47" fill="#564c9d"/><ellipse cx="593.81" cy="684.9" rx="3.23" ry="0.4" fill="#493e93"/><ellipse cx="584.75" cy="701.48" rx="3.67" ry="0.5" fill="#bab8dc"/><ellipse cx="598.44" cy="689.11" rx="2.56" ry="0.71" fill="#514799"/><ellipse cx="581.67" cy="758.76" rx="2.47" ry="0.81" fill="#cccae6"/><ellipse cx="575.2" cy="692.03" rx="4.43" ry="0.52" fill="#cbcae6"/><ellipse cx="613.01" cy="721.79" rx="4.38" ry="0.57" fill="#918bc4"/><ellipse cx="596.83" cy="683.67" rx="3.7" ry="0.51" fill="#cccae6"/><ellipse cx="582.02" cy="771.02" rx="4.12" ry="0.84" fill="#deddef"/><ellipse cx="619.06" cy="684.5" rx="2.09" ry="0.87" fill="#564d9d"/><ellipse cx="556.93" cy="713.19" rx="3.27" ry="0.52" fill="#e4e3f2"/><ellipse cx="590.52" cy="733.65" rx="1.24" ry="0.86" fill="#cbc9e5"/><ellipse cx="563.95" cy="746.92" rx="2.84" ry="0.89" fill="#cfcee8"/><ellipse cx="583.35" cy="713.97" rx="2.01" ry="0.85" fill="#7e78b9"/><ellipse cx="594.73" cy="695.44" rx="2.7" ry="0.74" fill="#9e99cc"/><ellipse cx="593.45" cy="700.27" rx="2.75" ry="0.64" fill="#cdcbe7"/><ellipse cx="563.36" cy="723.51" rx="1.7" ry="0.77" fill="#7a74b7"/><ellipse cx="588.08" cy="696.86" rx="3.78" ry="0.59" fill="#7871b5"/><ellipse cx="596.3" cy="772.17" rx="1.86" ry="0.8" fill="#dddbee"/><ellipse cx="571.75" cy="760.54" rx="1.24" ry="0.42" fill="#e0dff0"/><ellipse cx="620.42" cy="694.37" rx="2.46" ry="0.48" fill="#a9a5d2"/><ellipse cx="603.97" cy="719.32" rx="2.59" ry="0.89" fill="#7871b5"/><ellipse cx="573.33" cy="761.04" rx="3.58" ry="0.63" fill="#e7e6f4"/><ellipse cx="596.83" cy="772.15" rx="2.41" ry="0.64" fill="#d9d7ec"/><ellipse cx="599.96" cy="686.39" rx="3.7" ry="0.71" fill="#e2e1f1"/><ellipse cx="620.03" cy="748.09" rx="4.33" ry="0.62" fill="#d5d3ea"/><ellipse cx="577.75" cy="737.09" rx="18.63" ry="0.35" fill="#eceaf6"/><ellipse cx="593.51" cy="736.6" rx="7.42" ry="0.35" fill="#e0def0"/><ellipse cx="608.74" cy="759.58" rx="15.58" ry="0.35" fill="#e1dff0"/><ellipse cx="595.81" cy="706.93" rx="12.07" ry="0.35" fill="#e9e8f4"/><ellipse cx="599.42" cy="762.02" rx="19.61" ry="0.35" fill="#e3e1f1"/><ellipse cx="586.38" cy="722.13" rx="17.26" ry="0.35" fill="#e5e4f2"/><ellipse cx="606.98" cy="710.81" rx="8.71" ry="0.35" fill="#e3e1f1"/><ellipse cx="581.55" cy="747.42" rx="8.43" ry="0.35" fill="#e9e7f4"/><ellipse cx="587.45" cy="729.79" rx="11.17" ry="0.35" fill="#dcdaee"/><ellipse cx="599.28" cy="693.33" rx="15.3" ry="0.35" fill="#dddbee"/><ellipse cx="604.14" cy="690.19" rx="13.29" ry="0.35" fill="#e1dff0"/></g></g>
<rect x="558.45" y="682.2" width="69" height="112.5" fill="none" stroke="#3a3232" stroke-width="1.2" />
<line x1="558.45" y1="794.7" x2="558.45" y2="797.1" stroke="#3a3232" stroke-width="1.1" />
<line x1="592.95" y1="794.7" x2="592.95" y2="797.1" stroke="#3a3232" stroke-width="1.1" />
<line x1="627.45" y1="794.7" x2="627.45" y2="797.1" stroke="#3a3232" stroke-width="1.1" />
<text x="560.05" y="805" font-size="9.4" text-anchor="start" fill="#333" >-3.0</text>
<text x="592.95" y="805" font-size="9.4" text-anchor="middle" fill="#333" >TSS</text>
<text x="635.45" y="805" font-size="9.4" text-anchor="end" fill="#333" >3.0Kb</text>
<text x="26" y="735" font-size="9.4" text-anchor="middle" fill="#333" transform="rotate(-90 26 735)">peak</text>
<rect x="634.6" y="682.7" width="7.4" height="112.6" fill="url(#cbc)" stroke="#3a3232" stroke-width="1.1" />
<line x1="642" y1="795.1" x2="644.2" y2="795.1" stroke="#3a3232" stroke-width="1.0" />
<text x="645.8" y="798.1" font-size="8.4" text-anchor="start" fill="#333" >0.00</text>
<line x1="642" y1="782.5" x2="644.2" y2="782.5" stroke="#3a3232" stroke-width="1.0" />
<text x="645.8" y="785.5" font-size="8.4" text-anchor="start" fill="#333" >0.25</text>
<line x1="642" y1="769.9" x2="644.2" y2="769.9" stroke="#3a3232" stroke-width="1.0" />
<text x="645.8" y="772.9" font-size="8.4" text-anchor="start" fill="#333" >0.50</text>
<line x1="642" y1="757.3" x2="644.2" y2="757.3" stroke="#3a3232" stroke-width="1.0" />
<text x="645.8" y="760.3" font-size="8.4" text-anchor="start" fill="#333" >0.75</text>
<line x1="642" y1="744.7" x2="644.2" y2="744.7" stroke="#3a3232" stroke-width="1.0" />
<text x="645.8" y="747.7" font-size="8.4" text-anchor="start" fill="#333" >1.00</text>
<line x1="642" y1="732.1" x2="644.2" y2="732.1" stroke="#3a3232" stroke-width="1.0" />
<text x="645.8" y="735.1" font-size="8.4" text-anchor="start" fill="#333" >1.25</text>
<line x1="642" y1="719.5" x2="644.2" y2="719.5" stroke="#3a3232" stroke-width="1.0" />
<text x="645.8" y="722.5" font-size="8.4" text-anchor="start" fill="#333" >1.50</text>
<line x1="642" y1="706.9" x2="644.2" y2="706.9" stroke="#3a3232" stroke-width="1.0" />
<text x="645.8" y="709.9" font-size="8.4" text-anchor="start" fill="#333" >1.75</text>
<line x1="642" y1="694.3" x2="644.2" y2="694.3" stroke="#3a3232" stroke-width="1.0" />
<text x="645.8" y="697.3" font-size="8.4" text-anchor="start" fill="#333" >2.00</text>
<text x="4.4" y="827.8" font-size="14.6" text-anchor="start" fill="#000" >f</text>
<rect x="55.9" y="821.4" width="11.6" height="5.6" fill="#c47cc0" />
<text x="72.5" y="827" font-size="12.2" text-anchor="start" fill="#333" >Senescent</text>
<rect x="211.5" y="821.4" width="11.6" height="5.6" fill="#e8a2a0" />
<text x="228.1" y="827" font-size="12.2" text-anchor="start" fill="#333" >Force (+)</text>
<rect x="367.7" y="821.4" width="11.6" height="5.6" fill="#7a78c4" />
<text x="384.3" y="827" font-size="12.2" text-anchor="start" fill="#333" >Young</text>
<rect x="523.8" y="821.4" width="11.6" height="5.6" fill="#a676c6" />
<text x="540.4" y="827" font-size="12.2" text-anchor="start" fill="#333" >Force (-)</text>
<text x="28.2" y="826.2" font-size="6.0" text-anchor="start" fill="#333" >3</text>
<text x="28.2" y="838.2" font-size="6.0" text-anchor="start" fill="#333" >0</text>
<line x1="31.9" y1="824" x2="33.9" y2="824" stroke="#666" stroke-width="0.6" />
<line x1="31.9" y1="836" x2="33.9" y2="836" stroke="#666" stroke-width="0.6" />
<line x1="32.6" y1="829.8" x2="33.6" y2="829.8" stroke="#666" stroke-width="0.6" />
<path d="M36.8 836.0V835.3h1.5V834.8h1.5V835.5h1.5V835.2h1.5V834.4h1.5V835.3h1.5V835.4h1.5V834.9h1.5V835.5h1.5V835.4h1.5V835.1h1.5V835.0h1.5V834.5h1.5V835.4h1.5V835.1h1.5V835.4h1.5V834.8h1.5V835.4h1.5V835.0h1.5V835.3h1.5V835.5h1.5V835.3h1.5V834.9h1.5V835.3h1.5V835.5h1.5V835.0h1.5V835.2h1.5V835.3h1.5V835.3h1.5V835.0h1.5V835.2h1.5V834.9h1.5V835.4h1.5V835.3h1.5V835.5h1.5V835.3h1.5V835.2h1.5V835.0h1.5V835.2h1.5V835.4h1.5V835.4h1.5V835.2h1.5V834.5h1.5V832.7h1.5V830.6h1.5V831.8h1.5V834.8h1.5V835.2h1.5V835.4h1.5V834.8h1.5V835.3h1.5V835.3h1.5V835.4h1.5V835.3h1.5V835.3h1.5V835.3h1.5V834.9h1.5V835.4h1.5V835.1h1.5V835.0h1.5V835.3h1.5V835.2h1.5V835.0h1.5V835.5h1.5V835.5h1.5V835.5h1.5V835.3h1.5V835.3h1.5V835.5h1.5V835.5h1.5V835.4h1.5V835.3h1.5V834.8h1.5V835.3h1.5V835.5h1.5V835.5h1.5V835.2h1.5V835.3h1.5V835.5h1.5V835.4h1.5V835.1h1.5V835.4h1.5V835.4h1.5V835.4h1.5V835.5h1.5V835.4h1.5V835.4h1.5V835.5h1.5V835.4h1.5V834.1h1.5V835.4h1.5V835.2h1.5V835.2h1.5V835.4h1.5V835.0h1.5V835.5h1.5V835.3h1.5V835.5h1.5V835.5h1.5V835.5h1.5V834.9h1.5V835.3h1.5V835.4h1.5V835.5h1.5V835.2h1.5V835.2h1.5V835.3h1.5V835.1h1.5V835.5h1.5V834.8h1.5V835.5h1.5V835.2h1.5V835.0h1.5V835.5h1.5V834.6h1.5V835.5h1.5V835.5h1.5V835.3h1.5V835.0h1.5V835.2h1.5V835.5h1.5V835.1h1.5V835.2h1.5V835.4h1.5V834.9h1.5V835.5h1.5V835.5h1.5V835.4h1.5V835.5h1.5V835.4h1.5V834.8h1.5V835.2h1.5V834.9h1.5V835.3h1.5V835.2h1.5V835.0h1.5V835.5h1.5V835.5h1.5V835.2h1.5V833.8h1.5V834.9h1.5V835.2h1.5V835.2h1.5V835.5h1.5V835.5h1.5V834.8h1.5V834.7h1.5V835.3h1.5V835.4h1.5V835.5h1.5V835.3h1.5V835.1h1.5V835.2h1.5V835.4h1.5V835.0h1.5V835.5h1.5V835.4h1.5V835.4h1.5V835.1h1.5V834.5h1.5V834.3h1.5V835.1h1.5V835.5h1.5V835.2h1.5V835.4h1.5V835.1h1.5V835.3h1.5V835.4h1.5V835.5h1.5V835.4h1.5V835.2h1.5V835.3h1.5V835.1h1.5V835.2h1.5V835.0h1.5V835.5h1.5V835.2h1.5V835.2h1.5V835.3h1.5V835.2h1.5V835.5h1.5V835.2h1.5V835.5h1.5V835.3h1.5V834.8h1.5V835.4h1.5V835.2h1.5V834.3h1.5V835.2h1.5V835.5h1.5V835.4h1.5V835.5h1.5V835.0h1.5V835.2h1.5V835.3h1.5V834.7h1.5V835.3h1.5V835.0h1.5V835.5h1.5V835.5h1.5V835.4h1.5V835.5h1.5V835.3h1.5V834.9h1.5V835.3h1.5V835.4h1.5V835.1h1.5V835.4h1.5V835.5h1.5V835.4h1.5V835.0h1.5V835.3h1.5V835.5h1.5V835.1h1.5V835.4h1.5V835.4h1.5V835.1h1.5V835.3h1.5V835.4h1.5V835.4h1.5V834.8h1.5V835.4h1.5V835.3h1.5V835.5h1.5V835.3h1.5V835.5h1.5V834.7h1.5V835.2h1.5V835.0h1.5V835.5h1.5V835.2h1.5V835.4h1.5V835.5h1.5V835.3h1.5V835.5h1.5V835.4h1.5V835.3h1.5V835.4h1.5V835.4h1.5V835.2h1.5V835.2h1.5V835.5h1.5V835.4h1.5V835.4h1.5V835.1h1.5V834.5h1.5V835.0h1.5V835.5h1.5V835.0h1.5V835.4h1.5V835.3h1.5V835.3h1.5V835.2h1.5V834.7h1.5V835.5h1.5V835.5h1.5V835.3h1.5V835.1h1.5V835.2h1.5V835.3h1.5V835.2h1.5V835.2h1.5V835.5h1.5V835.1h1.5V835.1h1.5V835.4h1.5V835.3h1.5V835.3h1.5V835.5h1.5V835.1h1.5V835.1h1.5V835.4h1.5V835.5h1.5V835.1h1.5V835.5h1.5V835.1h1.5V835.3h1.5V835.3h1.5V835.2h1.5V835.0h1.5V835.4h1.5V835.5h1.5V834.9h1.5V835.1h1.5V835.4h1.5V835.4h1.5V835.4h1.5V835.4h1.5V835.3h1.5V835.5h1.5V835.4h1.5V835.4h1.5V835.5h1.5V835.4h1.5V835.3h1.5V835.5h1.5V835.5h1.5V835.4h1.5V835.5h1.5V835.5h1.5V835.5h1.5V835.0h1.5V835.2h1.5V835.4h1.5V835.4h1.5V835.4h1.5V835.5h1.5V835.5h1.5V834.7h1.5V835.2h1.5V835.5h1.5V834.8h1.5V835.3h1.5V834.4h1.5V835.2h1.5V835.3h1.5V835.4h1.5V835.1h1.5V834.6h1.5V835.1h1.5V835.5h1.5V835.5h1.5V835.3h1.5V835.5h1.5V834.9h1.5V835.4h1.5V835.5h1.5V835.5h1.5V835.2h1.5V835.1h1.5V835.4h1.5V835.3h1.5V835.4h1.5V835.2h1.5V835.2h1.5V835.0h1.5V835.2h1.5V835.5h1.5V835.5h1.5V835.3h1.5V835.5h1.5V835.5h1.5V835.0h1.5V834.5h1.5V835.1h1.5V835.4h1.5V835.2h1.5V835.4h1.5V835.3h1.5V835.4h1.5V835.1h1.5V835.5h1.5V835.3h1.5V835.5h1.5V835.2h1.5V835.4h1.5V835.5h1.5V835.4h1.5V835.3h1.5V835.2h1.5V835.4h1.5V835.2h1.5V835.5h1.5V835.1h1.5V834.9h1.5V835.0h1.5V835.5h1.5V835.3h1.5V835.2h1.5V835.3h1.5V835.2h1.5V835.2h1.5V835.3h1.5V835.3h1.5V835.1h1.5V835.0h1.5V835.5h1.5V835.3h1.5V835.5h1.5V835.3h1.5V835.2h1.5V835.4h1.5V834.6h1.5V835.5h1.5V835.0h1.5V835.5h1.5V835.5h1.5V835.5h1.5V835.5h1.5V835.3h1.5V835.2h1.5V835.2h1.5V835.3h1.5V835.2h1.5V835.5h1.5V834.9h1.5V835.3h1.5V835.4h1.5V835.3h1.5V835.5h1.5V835.2h1.5V835.4h1.5V835.3h1.5V835.2h1.5V834.7h1.5V834.8h1.5V834.9h1.5V834.6h1.5V834.8h1.5V834.1h1.5V834.0h1.5V834.1h1.5V834.6h1.5V831.7h1.5V830.3h1.5V833.8h1.5V834.8h1.5V835.4h1.5V834.8h1.5V835.2h1.5V835.2h1.5V835.2h1.5V835.4h1.5V836.0Z" fill="#c47cc0"/>
<line x1="36.8" y1="836.1" x2="670" y2="836.1" stroke="#c47cc0" stroke-width="1.0" />
<text x="28.2" y="844.3" font-size="6.0" text-anchor="start" fill="#333" >3</text>
<text x="28.2" y="856.3" font-size="6.0" text-anchor="start" fill="#333" >0</text>
<line x1="31.9" y1="842.1" x2="33.9" y2="842.1" stroke="#666" stroke-width="0.6" />
<line x1="31.9" y1="854.1" x2="33.9" y2="854.1" stroke="#666" stroke-width="0.6" />
<line x1="32.6" y1="847.9" x2="33.6" y2="847.9" stroke="#666" stroke-width="0.6" />
<path d="M36.8 854.1V853.4h1.5V853.3h1.5V853.5h1.5V853.4h1.5V853.3h1.5V852.6h1.5V853.6h1.5V853.3h1.5V853.4h1.5V853.6h1.5V853.5h1.5V853.6h1.5V853.5h1.5V852.7h1.5V853.0h1.5V853.3h1.5V853.3h1.5V853.0h1.5V853.2h1.5V853.6h1.5V853.5h1.5V853.5h1.5V853.3h1.5V853.3h1.5V853.5h1.5V852.8h1.5V853.0h1.5V852.9h1.5V853.1h1.5V853.5h1.5V853.6h1.5V853.4h1.5V853.5h1.5V853.6h1.5V853.1h1.5V853.2h1.5V852.8h1.5V853.6h1.5V853.6h1.5V853.2h1.5V853.6h1.5V853.3h1.5V852.6h1.5V850.7h1.5V848.3h1.5V849.1h1.5V852.9h1.5V853.3h1.5V853.5h1.5V853.4h1.5V853.0h1.5V853.5h1.5V853.3h1.5V853.6h1.5V853.2h1.5V852.4h1.5V853.5h1.5V853.4h1.5V853.4h1.5V853.5h1.5V853.5h1.5V853.3h1.5V853.4h1.5V853.6h1.5V853.4h1.5V853.2h1.5V853.4h1.5V853.2h1.5V852.4h1.5V853.5h1.5V853.1h1.5V853.4h1.5V853.5h1.5V853.4h1.5V853.3h1.5V853.6h1.5V853.2h1.5V853.1h1.5V853.1h1.5V853.6h1.5V853.6h1.5V853.5h1.5V853.6h1.5V853.5h1.5V853.4h1.5V853.4h1.5V853.1h1.5V853.3h1.5V853.6h1.5V853.3h1.5V853.2h1.5V853.6h1.5V853.6h1.5V853.6h1.5V853.6h1.5V853.4h1.5V853.3h1.5V853.4h1.5V853.2h1.5V852.6h1.5V853.6h1.5V853.5h1.5V853.4h1.5V853.6h1.5V853.4h1.5V853.1h1.5V853.4h1.5V853.6h1.5V853.5h1.5V853.5h1.5V853.5h1.5V853.4h1.5V853.6h1.5V853.5h1.5V853.6h1.5V853.4h1.5V853.4h1.5V853.3h1.5V853.6h1.5V853.3h1.5V853.6h1.5V853.4h1.5V853.6h1.5V853.0h1.5V853.6h1.5V853.6h1.5V853.4h1.5V853.3h1.5V853.3h1.5V853.6h1.5V853.5h1.5V852.4h1.5V853.4h1.5V853.3h1.5V853.3h1.5V853.3h1.5V853.5h1.5V853.4h1.5V853.4h1.5V852.0h1.5V853.2h1.5V853.4h1.5V853.3h1.5V853.6h1.5V853.3h1.5V853.3h1.5V853.6h1.5V853.1h1.5V852.7h1.5V853.2h1.5V853.3h1.5V853.5h1.5V853.6h1.5V853.6h1.5V853.4h1.5V853.3h1.5V853.5h1.5V853.5h1.5V853.1h1.5V853.4h1.5V852.1h1.5V853.1h1.5V853.3h1.5V853.6h1.5V853.3h1.5V853.2h1.5V853.6h1.5V852.9h1.5V853.4h1.5V853.5h1.5V853.2h1.5V853.2h1.5V853.1h1.5V853.6h1.5V853.3h1.5V852.8h1.5V853.4h1.5V853.6h1.5V853.1h1.5V853.0h1.5V853.6h1.5V853.0h1.5V853.5h1.5V852.5h1.5V853.2h1.5V853.5h1.5V853.6h1.5V853.4h1.5V853.5h1.5V853.2h1.5V853.4h1.5V853.4h1.5V853.5h1.5V853.5h1.5V853.3h1.5V852.3h1.5V853.5h1.5V852.6h1.5V853.3h1.5V853.5h1.5V853.6h1.5V853.5h1.5V853.6h1.5V853.4h1.5V853.3h1.5V853.6h1.5V853.3h1.5V853.5h1.5V853.4h1.5V853.3h1.5V853.6h1.5V853.0h1.5V853.5h1.5V853.4h1.5V853.3h1.5V853.4h1.5V853.5h1.5V853.5h1.5V853.5h1.5V853.6h1.5V853.4h1.5V853.6h1.5V852.6h1.5V853.6h1.5V853.5h1.5V853.1h1.5V853.6h1.5V853.6h1.5V853.4h1.5V853.4h1.5V852.9h1.5V853.5h1.5V852.9h1.5V853.6h1.5V853.5h1.5V853.6h1.5V853.3h1.5V853.1h1.5V853.5h1.5V853.6h1.5V853.4h1.5V853.4h1.5V853.4h1.5V853.2h1.5V852.5h1.5V853.4h1.5V853.3h1.5V853.4h1.5V853.6h1.5V853.5h1.5V853.4h1.5V853.4h1.5V853.2h1.5V853.5h1.5V853.5h1.5V853.5h1.5V853.4h1.5V853.5h1.5V853.3h1.5V853.5h1.5V853.5h1.5V853.5h1.5V853.5h1.5V853.3h1.5V853.3h1.5V853.6h1.5V853.3h1.5V853.4h1.5V853.5h1.5V853.4h1.5V853.4h1.5V853.6h1.5V853.1h1.5V853.5h1.5V852.9h1.5V853.5h1.5V853.1h1.5V853.5h1.5V853.6h1.5V852.0h1.5V853.5h1.5V853.1h1.5V853.1h1.5V853.6h1.5V853.0h1.5V853.6h1.5V853.5h1.5V853.6h1.5V853.4h1.5V853.4h1.5V853.4h1.5V853.6h1.5V853.4h1.5V853.4h1.5V853.3h1.5V853.4h1.5V853.6h1.5V853.3h1.5V853.2h1.5V853.4h1.5V853.5h1.5V853.1h1.5V853.4h1.5V853.2h1.5V853.6h1.5V853.4h1.5V853.2h1.5V853.5h1.5V853.2h1.5V853.6h1.5V853.3h1.5V853.6h1.5V853.5h1.5V853.1h1.5V853.6h1.5V853.1h1.5V853.3h1.5V853.3h1.5V853.2h1.5V853.4h1.5V852.6h1.5V853.4h1.5V853.1h1.5V853.6h1.5V853.3h1.5V853.6h1.5V853.4h1.5V852.0h1.5V853.4h1.5V853.4h1.5V853.3h1.5V853.6h1.5V853.1h1.5V853.2h1.5V853.0h1.5V853.5h1.5V853.4h1.5V853.3h1.5V853.6h1.5V853.5h1.5V853.4h1.5V853.6h1.5V853.6h1.5V853.6h1.5V853.5h1.5V853.4h1.5V853.3h1.5V853.6h1.5V853.1h1.5V853.4h1.5V853.4h1.5V853.3h1.5V853.5h1.5V853.4h1.5V853.2h1.5V853.4h1.5V852.5h1.5V853.1h1.5V853.4h1.5V853.3h1.5V853.3h1.5V853.6h1.5V853.6h1.5V853.6h1.5V853.4h1.5V853.2h1.5V853.4h1.5V853.6h1.5V853.3h1.5V853.1h1.5V853.6h1.5V853.5h1.5V852.6h1.5V853.3h1.5V853.5h1.5V853.3h1.5V853.5h1.5V853.3h1.5V853.6h1.5V853.4h1.5V853.6h1.5V853.6h1.5V852.2h1.5V853.6h1.5V853.6h1.5V853.0h1.5V853.4h1.5V853.4h1.5V853.1h1.5V852.7h1.5V852.5h1.5V853.5h1.5V853.3h1.5V853.4h1.5V853.5h1.5V853.6h1.5V853.4h1.5V853.5h1.5V853.5h1.5V853.2h1.5V853.5h1.5V853.6h1.5V853.4h1.5V852.9h1.5V852.9h1.5V852.8h1.5V852.8h1.5V852.9h1.5V853.1h1.5V852.4h1.5V851.9h1.5V852.5h1.5V852.8h1.5V849.9h1.5V848.8h1.5V851.7h1.5V853.2h1.5V852.7h1.5V853.4h1.5V853.5h1.5V852.9h1.5V852.9h1.5V853.4h1.5V854.1Z" fill="#c47cc0"/>
<line x1="36.8" y1="854.2" x2="670" y2="854.2" stroke="#c47cc0" stroke-width="1.0" />
<text x="28.2" y="862.4" font-size="6.0" text-anchor="start" fill="#333" >3</text>
<text x="28.2" y="874.4" font-size="6.0" text-anchor="start" fill="#333" >0</text>
<line x1="31.9" y1="860.2" x2="33.9" y2="860.2" stroke="#666" stroke-width="0.6" />
<line x1="31.9" y1="872.2" x2="33.9" y2="872.2" stroke="#666" stroke-width="0.6" />
<line x1="32.6" y1="866" x2="33.6" y2="866" stroke="#666" stroke-width="0.6" />
<path d="M39.3 872.2V871.6h1.5V871.7h1.5V871.7h1.5V871.6h1.5V871.3h1.5V871.6h1.5V871.6h1.5V871.3h1.5V871.7h1.5V871.5h1.5V871.7h1.5V871.7h1.5V871.6h1.5V871.4h1.5V871.6h1.5V871.7h1.5V871.3h1.5V870.5h1.5V871.4h1.5V871.7h1.5V871.6h1.5V871.6h1.5V870.5h1.5V871.5h1.5V870.4h1.5V871.2h1.5V871.5h1.5V871.5h1.5V870.8h1.5V871.5h1.5V871.6h1.5V871.4h1.5V871.6h1.5V871.4h1.5V871.3h1.5V871.5h1.5V871.4h1.5V871.7h1.5V871.7h1.5V871.6h1.5V870.8h1.5V868.9h1.5V865.4h1.5V865.0h1.5V869.5h1.5V871.5h1.5V871.6h1.5V871.7h1.5V871.7h1.5V871.7h1.5V871.2h1.5V871.7h1.5V871.7h1.5V871.6h1.5V871.6h1.5V871.0h1.5V871.2h1.5V871.6h1.5V871.6h1.5V871.5h1.5V871.4h1.5V871.4h1.5V871.6h1.5V871.7h1.5V871.5h1.5V871.6h1.5V871.4h1.5V871.2h1.5V871.6h1.5V871.6h1.5V871.4h1.5V871.4h1.5V871.3h1.5V871.6h1.5V871.1h1.5V871.6h1.5V871.5h1.5V871.3h1.5V871.0h1.5V871.5h1.5V871.0h1.5V871.3h1.5V871.2h1.5V871.7h1.5V871.7h1.5V871.3h1.5V871.2h1.5V870.8h1.5V871.6h1.5V871.5h1.5V871.4h1.5V871.6h1.5V871.3h1.5V871.7h1.5V871.5h1.5V871.7h1.5V871.4h1.5V871.5h1.5V871.4h1.5V871.7h1.5V871.5h1.5V871.6h1.5V871.4h1.5V871.5h1.5V871.6h1.5V871.7h1.5V871.7h1.5V871.3h1.5V871.5h1.5V871.7h1.5V871.6h1.5V871.6h1.5V871.6h1.5V871.7h1.5V871.5h1.5V871.7h1.5V871.2h1.5V871.6h1.5V871.6h1.5V871.4h1.5V871.4h1.5V871.5h1.5V871.5h1.5V871.4h1.5V871.1h1.5V871.5h1.5V871.2h1.5V871.3h1.5V871.3h1.5V871.3h1.5V871.6h1.5V871.5h1.5V871.7h1.5V871.7h1.5V871.5h1.5V871.5h1.5V871.6h1.5V868.6h1.5V868.0h1.5V871.4h1.5V871.6h1.5V871.6h1.5V871.0h1.5V871.0h1.5V871.5h1.5V871.6h1.5V871.6h1.5V871.4h1.5V871.6h1.5V871.6h1.5V871.5h1.5V871.4h1.5V871.6h1.5V870.8h1.5V871.6h1.5V871.4h1.5V871.5h1.5V871.2h1.5V871.3h1.5V870.3h1.5V871.5h1.5V871.4h1.5V871.3h1.5V871.5h1.5V871.3h1.5V871.6h1.5V871.6h1.5V871.7h1.5V871.6h1.5V871.4h1.5V871.6h1.5V871.4h1.5V871.5h1.5V871.4h1.5V870.7h1.5V871.4h1.5V871.7h1.5V871.3h1.5V871.5h1.5V871.6h1.5V870.6h1.5V871.3h1.5V871.7h1.5V871.3h1.5V871.4h1.5V871.4h1.5V871.1h1.5V871.4h1.5V871.7h1.5V871.3h1.5V871.5h1.5V871.5h1.5V871.1h1.5V871.0h1.5V871.4h1.5V871.6h1.5V871.6h1.5V871.2h1.5V871.3h1.5V871.7h1.5V871.6h1.5V871.6h1.5V871.6h1.5V871.6h1.5V871.5h1.5V871.4h1.5V871.6h1.5V871.6h1.5V871.6h1.5V871.5h1.5V871.4h1.5V871.6h1.5V871.5h1.5V871.2h1.5V871.7h1.5V870.4h1.5V871.0h1.5V871.3h1.5V871.4h1.5V871.7h1.5V871.5h1.5V871.7h1.5V871.4h1.5V871.2h1.5V871.3h1.5V871.5h1.5V871.3h1.5V871.6h1.5V871.5h1.5V871.2h1.5V871.6h1.5V871.6h1.5V871.7h1.5V871.5h1.5V871.5h1.5V871.2h1.5V871.7h1.5V871.4h1.5V871.5h1.5V871.5h1.5V871.4h1.5V871.7h1.5V871.4h1.5V871.1h1.5V871.2h1.5V871.5h1.5V871.6h1.5V871.4h1.5V871.7h1.5V871.7h1.5V870.8h1.5V871.7h1.5V871.7h1.5V871.5h1.5V871.6h1.5V871.2h1.5V871.0h1.5V871.7h1.5V871.1h1.5V871.7h1.5V871.5h1.5V871.4h1.5V871.0h1.5V871.3h1.5V871.6h1.5V871.7h1.5V871.5h1.5V871.7h1.5V871.3h1.5V871.5h1.5V871.6h1.5V871.7h1.5V871.6h1.5V871.4h1.5V871.6h1.5V871.6h1.5V871.7h1.5V871.7h1.5V871.2h1.5V871.5h1.5V871.5h1.5V871.6h1.5V871.3h1.5V871.6h1.5V871.4h1.5V871.4h1.5V871.7h1.5V871.7h1.5V871.4h1.5V871.6h1.5V871.4h1.5V871.6h1.5V871.5h1.5V871.2h1.5V871.2h1.5V871.6h1.5V871.1h1.5V871.5h1.5V871.5h1.5V871.3h1.5V871.7h1.5V871.1h1.5V871.7h1.5V871.7h1.5V871.6h1.5V871.7h1.5V871.6h1.5V871.3h1.5V871.6h1.5V871.3h1.5V871.1h1.5V871.7h1.5V871.7h1.5V871.5h1.5V871.6h1.5V870.9h1.5V870.6h1.5V871.2h1.5V871.6h1.5V871.7h1.5V871.6h1.5V871.2h1.5V871.5h1.5V871.5h1.5V871.4h1.5V871.5h1.5V871.7h1.5V871.4h1.5V870.2h1.5V871.5h1.5V871.6h1.5V871.6h1.5V871.4h1.5V871.2h1.5V871.1h1.5V871.3h1.5V871.4h1.5V871.3h1.5V870.5h1.5V871.4h1.5V871.3h1.5V870.2h1.5V871.1h1.5V871.5h1.5V871.6h1.5V871.6h1.5V871.7h1.5V871.1h1.5V871.6h1.5V871.4h1.5V871.6h1.5V871.5h1.5V871.2h1.5V871.1h1.5V871.6h1.5V871.4h1.5V871.3h1.5V870.9h1.5V871.1h1.5V871.2h1.5V871.3h1.5V871.7h1.5V871.7h1.5V871.1h1.5V871.7h1.5V871.6h1.5V871.3h1.5V870.7h1.5V871.6h1.5V871.5h1.5V871.6h1.5V871.6h1.5V871.6h1.5V870.6h1.5V871.6h1.5V871.6h1.5V871.4h1.5V871.2h1.5V870.9h1.5V871.5h1.5V871.6h1.5V871.5h1.5V871.5h1.5V871.0h1.5V871.6h1.5V871.7h1.5V871.6h1.5V871.2h1.5V871.7h1.5V871.5h1.5V871.3h1.5V871.6h1.5V871.7h1.5V871.6h1.5V871.6h1.5V871.3h1.5V871.6h1.5V871.0h1.5V871.5h1.5V870.8h1.5V871.3h1.5V871.4h1.5V871.1h1.5V870.7h1.5V870.5h1.5V870.2h1.5V869.9h1.5V869.8h1.5V869.0h1.5V869.4h1.5V870.0h1.5V868.0h1.5V864.5h1.5V867.9h1.5V871.2h1.5V871.4h1.5V871.1h1.5V871.6h1.5V871.5h1.5V868.8h1.5V871.2h1.5V872.2Z" fill="#e8a4a0"/>
<line x1="39.3" y1="872.3" x2="670" y2="872.3" stroke="#e8a4a0" stroke-width="1.0" />
<text x="28.2" y="880.5" font-size="6.0" text-anchor="start" fill="#333" >3</text>
<text x="28.2" y="892.5" font-size="6.0" text-anchor="start" fill="#333" >0</text>
<line x1="31.9" y1="878.3" x2="33.9" y2="878.3" stroke="#666" stroke-width="0.6" />
<line x1="31.9" y1="890.3" x2="33.9" y2="890.3" stroke="#666" stroke-width="0.6" />
<line x1="32.6" y1="884.1" x2="33.6" y2="884.1" stroke="#666" stroke-width="0.6" />
<path d="M36.8 890.3V889.7h1.5V889.6h1.5V889.8h1.5V889.8h1.5V889.8h1.5V889.8h1.5V889.4h1.5V889.6h1.5V889.7h1.5V889.6h1.5V889.3h1.5V889.7h1.5V889.7h1.5V889.2h1.5V889.7h1.5V889.8h1.5V889.3h1.5V888.5h1.5V889.7h1.5V889.5h1.5V889.4h1.5V889.5h1.5V889.7h1.5V889.6h1.5V889.8h1.5V889.3h1.5V889.5h1.5V889.2h1.5V889.5h1.5V889.6h1.5V889.8h1.5V889.7h1.5V889.6h1.5V889.5h1.5V889.6h1.5V889.7h1.5V889.7h1.5V889.2h1.5V888.7h1.5V889.6h1.5V889.8h1.5V889.4h1.5V888.3h1.5V884.9h1.5V880.6h1.5V883.3h1.5V888.1h1.5V889.6h1.5V889.4h1.5V889.4h1.5V889.8h1.5V889.6h1.5V889.6h1.5V889.7h1.5V889.7h1.5V889.2h1.5V889.4h1.5V889.8h1.5V889.7h1.5V889.8h1.5V889.4h1.5V889.2h1.5V889.7h1.5V889.6h1.5V889.5h1.5V889.8h1.5V889.7h1.5V889.6h1.5V889.7h1.5V889.4h1.5V889.8h1.5V889.0h1.5V889.6h1.5V889.5h1.5V889.5h1.5V889.0h1.5V889.6h1.5V889.6h1.5V889.5h1.5V889.6h1.5V889.8h1.5V889.7h1.5V889.7h1.5V889.6h1.5V889.8h1.5V889.4h1.5V888.3h1.5V889.7h1.5V889.2h1.5V889.8h1.5V889.8h1.5V889.8h1.5V889.1h1.5V889.6h1.5V889.8h1.5V889.7h1.5V889.8h1.5V889.4h1.5V889.4h1.5V889.7h1.5V889.5h1.5V889.6h1.5V889.4h1.5V889.8h1.5V889.8h1.5V889.1h1.5V889.7h1.5V889.4h1.5V889.5h1.5V889.5h1.5V889.3h1.5V889.7h1.5V889.5h1.5V889.5h1.5V889.5h1.5V888.7h1.5V889.6h1.5V889.7h1.5V889.1h1.5V889.6h1.5V889.6h1.5V889.8h1.5V889.8h1.5V889.7h1.5V889.5h1.5V889.6h1.5V889.8h1.5V889.6h1.5V889.8h1.5V889.1h1.5V889.3h1.5V889.7h1.5V889.7h1.5V889.2h1.5V889.8h1.5V889.6h1.5V889.7h1.5V889.7h1.5V889.2h1.5V885.0h1.5V888.2h1.5V889.1h1.5V889.4h1.5V889.7h1.5V889.6h1.5V889.6h1.5V889.6h1.5V889.4h1.5V889.8h1.5V889.8h1.5V889.7h1.5V889.8h1.5V889.3h1.5V889.7h1.5V889.7h1.5V889.2h1.5V889.3h1.5V889.5h1.5V889.6h1.5V889.7h1.5V889.0h1.5V888.3h1.5V889.7h1.5V889.8h1.5V889.8h1.5V889.6h1.5V889.7h1.5V889.6h1.5V889.5h1.5V889.8h1.5V889.8h1.5V889.7h1.5V889.6h1.5V889.8h1.5V889.8h1.5V889.8h1.5V889.6h1.5V889.6h1.5V889.8h1.5V889.4h1.5V889.6h1.5V889.8h1.5V889.3h1.5V889.7h1.5V889.7h1.5V889.6h1.5V889.7h1.5V889.5h1.5V889.4h1.5V889.7h1.5V889.8h1.5V889.7h1.5V889.8h1.5V889.4h1.5V889.1h1.5V889.6h1.5V889.2h1.5V889.6h1.5V889.6h1.5V889.7h1.5V889.5h1.5V889.5h1.5V889.8h1.5V889.7h1.5V889.2h1.5V889.8h1.5V889.6h1.5V889.8h1.5V889.3h1.5V889.7h1.5V889.7h1.5V889.8h1.5V889.2h1.5V889.5h1.5V889.4h1.5V889.8h1.5V889.7h1.5V889.0h1.5V889.8h1.5V889.8h1.5V889.8h1.5V889.7h1.5V889.4h1.5V889.6h1.5V889.4h1.5V889.4h1.5V889.6h1.5V889.5h1.5V889.5h1.5V889.7h1.5V889.8h1.5V889.7h1.5V889.3h1.5V889.8h1.5V889.4h1.5V889.7h1.5V889.8h1.5V889.6h1.5V889.3h1.5V889.5h1.5V889.7h1.5V889.7h1.5V889.6h1.5V889.0h1.5V889.3h1.5V889.4h1.5V889.6h1.5V889.5h1.5V889.6h1.5V889.4h1.5V889.5h1.5V889.7h1.5V889.4h1.5V889.8h1.5V889.7h1.5V888.8h1.5V889.6h1.5V889.6h1.5V889.1h1.5V889.5h1.5V889.7h1.5V889.7h1.5V889.8h1.5V889.1h1.5V887.9h1.5V889.7h1.5V889.8h1.5V889.7h1.5V889.8h1.5V889.4h1.5V889.7h1.5V889.7h1.5V889.7h1.5V889.4h1.5V889.5h1.5V889.5h1.5V889.4h1.5V889.4h1.5V889.7h1.5V889.8h1.5V889.8h1.5V889.8h1.5V889.4h1.5V889.7h1.5V889.6h1.5V889.5h1.5V889.4h1.5V889.5h1.5V889.7h1.5V889.8h1.5V889.7h1.5V889.5h1.5V889.5h1.5V889.7h1.5V889.7h1.5V889.3h1.5V889.6h1.5V889.7h1.5V889.8h1.5V889.3h1.5V889.8h1.5V889.7h1.5V889.7h1.5V889.5h1.5V889.4h1.5V889.7h1.5V889.8h1.5V889.7h1.5V889.6h1.5V889.3h1.5V889.3h1.5V889.8h1.5V889.3h1.5V889.7h1.5V889.3h1.5V889.8h1.5V889.1h1.5V888.1h1.5V888.4h1.5V889.4h1.5V889.4h1.5V889.5h1.5V889.6h1.5V889.8h1.5V889.7h1.5V889.5h1.5V889.4h1.5V889.8h1.5V889.8h1.5V889.8h1.5V889.8h1.5V889.7h1.5V889.7h1.5V889.8h1.5V889.8h1.5V889.6h1.5V889.2h1.5V889.3h1.5V889.5h1.5V889.7h1.5V889.5h1.5V889.5h1.5V889.8h1.5V889.5h1.5V889.8h1.5V889.8h1.5V889.8h1.5V889.5h1.5V889.7h1.5V889.6h1.5V889.5h1.5V889.5h1.5V889.6h1.5V889.3h1.5V889.3h1.5V889.5h1.5V889.6h1.5V888.3h1.5V889.8h1.5V889.6h1.5V889.8h1.5V889.4h1.5V889.7h1.5V889.3h1.5V889.8h1.5V889.7h1.5V889.6h1.5V889.0h1.5V888.9h1.5V889.0h1.5V889.3h1.5V889.7h1.5V889.5h1.5V889.6h1.5V889.5h1.5V889.2h1.5V889.7h1.5V889.5h1.5V888.8h1.5V889.7h1.5V889.2h1.5V889.6h1.5V889.8h1.5V889.0h1.5V889.4h1.5V889.4h1.5V889.6h1.5V889.4h1.5V889.4h1.5V889.8h1.5V889.5h1.5V889.7h1.5V889.4h1.5V889.5h1.5V889.7h1.5V889.6h1.5V889.5h1.5V889.6h1.5V889.8h1.5V889.4h1.5V889.5h1.5V889.8h1.5V889.4h1.5V889.3h1.5V888.9h1.5V888.4h1.5V888.5h1.5V888.8h1.5V888.4h1.5V887.4h1.5V886.9h1.5V887.5h1.5V888.2h1.5V884.7h1.5V882.2h1.5V887.4h1.5V889.5h1.5V889.5h1.5V889.8h1.5V889.6h1.5V889.0h1.5V888.2h1.5V889.6h1.5V890.3Z" fill="#e8a4a0"/>
<line x1="36.8" y1="890.4" x2="670" y2="890.4" stroke="#e8a4a0" stroke-width="1.0" />
<text x="28.2" y="899" font-size="6.0" text-anchor="start" fill="#333" >3</text>
<text x="28.2" y="911" font-size="6.0" text-anchor="start" fill="#333" >0</text>
<line x1="31.9" y1="896.8" x2="33.9" y2="896.8" stroke="#666" stroke-width="0.6" />
<line x1="31.9" y1="908.8" x2="33.9" y2="908.8" stroke="#666" stroke-width="0.6" />
<line x1="32.6" y1="902.6" x2="33.6" y2="902.6" stroke="#666" stroke-width="0.6" />
<path d="M41.7 908.8V908.0h1.5V908.3h1.5V908.3h1.5V908.2h1.5V907.7h1.5V907.8h1.5V908.3h1.5V908.3h1.5V908.2h1.5V908.3h1.5V907.9h1.5V908.2h1.5V908.3h1.5V908.2h1.5V908.2h1.5V908.3h1.5V908.1h1.5V907.9h1.5V908.2h1.5V908.0h1.5V908.0h1.5V908.0h1.5V908.1h1.5V908.1h1.5V908.1h1.5V907.7h1.5V908.0h1.5V908.1h1.5V908.3h1.5V908.0h1.5V908.2h1.5V908.0h1.5V908.0h1.5V908.3h1.5V908.2h1.5V907.6h1.5V908.0h1.5V907.7h1.5V907.7h1.5V906.8h1.5V904.5h1.5V903.5h1.5V906.0h1.5V907.9h1.5V908.3h1.5V908.2h1.5V908.3h1.5V907.3h1.5V908.3h1.5V908.1h1.5V907.9h1.5V908.3h1.5V907.6h1.5V908.2h1.5V907.9h1.5V908.0h1.5V907.9h1.5V908.1h1.5V908.3h1.5V908.3h1.5V907.9h1.5V908.2h1.5V908.0h1.5V908.0h1.5V908.2h1.5V908.2h1.5V908.3h1.5V908.0h1.5V908.1h1.5V908.2h1.5V907.7h1.5V908.2h1.5V908.0h1.5V908.3h1.5V908.2h1.5V908.0h1.5V908.2h1.5V908.0h1.5V908.3h1.5V908.2h1.5V908.2h1.5V908.3h1.5V907.7h1.5V908.2h1.5V908.3h1.5V908.0h1.5V908.1h1.5V908.3h1.5V908.1h1.5V908.2h1.5V908.2h1.5V908.2h1.5V907.3h1.5V908.1h1.5V908.3h1.5V907.8h1.5V908.1h1.5V908.3h1.5V908.3h1.5V907.9h1.5V908.1h1.5V908.0h1.5V908.2h1.5V908.1h1.5V908.3h1.5V907.8h1.5V908.2h1.5V908.1h1.5V908.3h1.5V908.1h1.5V908.3h1.5V907.9h1.5V907.8h1.5V908.1h1.5V908.2h1.5V908.1h1.5V908.1h1.5V908.3h1.5V908.1h1.5V908.2h1.5V907.9h1.5V908.2h1.5V908.2h1.5V908.0h1.5V908.1h1.5V907.8h1.5V908.3h1.5V908.2h1.5V907.2h1.5V908.0h1.5V908.3h1.5V908.3h1.5V908.2h1.5V907.9h1.5V908.3h1.5V907.2h1.5V900.9h1.5V907.3h1.5V908.0h1.5V907.9h1.5V907.9h1.5V908.3h1.5V908.3h1.5V908.3h1.5V908.1h1.5V908.1h1.5V908.3h1.5V908.2h1.5V908.0h1.5V907.9h1.5V907.6h1.5V908.2h1.5V908.1h1.5V908.3h1.5V908.0h1.5V908.3h1.5V908.2h1.5V907.2h1.5V907.0h1.5V908.1h1.5V908.2h1.5V907.9h1.5V908.1h1.5V907.8h1.5V907.6h1.5V907.8h1.5V907.8h1.5V907.9h1.5V908.3h1.5V908.3h1.5V908.1h1.5V907.6h1.5V907.8h1.5V908.3h1.5V907.6h1.5V908.0h1.5V908.3h1.5V908.2h1.5V908.3h1.5V908.0h1.5V908.1h1.5V908.1h1.5V908.1h1.5V908.2h1.5V908.2h1.5V906.7h1.5V908.1h1.5V908.0h1.5V908.0h1.5V908.3h1.5V908.3h1.5V907.9h1.5V908.1h1.5V908.3h1.5V908.3h1.5V907.5h1.5V908.3h1.5V908.3h1.5V908.3h1.5V908.0h1.5V908.3h1.5V908.3h1.5V908.2h1.5V908.3h1.5V908.2h1.5V908.0h1.5V908.2h1.5V908.1h1.5V908.1h1.5V907.9h1.5V908.2h1.5V908.3h1.5V907.9h1.5V908.3h1.5V908.1h1.5V908.1h1.5V908.1h1.5V908.3h1.5V908.0h1.5V908.0h1.5V908.1h1.5V907.6h1.5V908.1h1.5V907.9h1.5V907.9h1.5V908.2h1.5V907.8h1.5V908.3h1.5V907.2h1.5V907.8h1.5V908.1h1.5V908.0h1.5V907.9h1.5V908.3h1.5V907.9h1.5V908.3h1.5V907.1h1.5V908.0h1.5V908.2h1.5V908.0h1.5V908.0h1.5V907.5h1.5V907.2h1.5V907.8h1.5V907.6h1.5V908.1h1.5V908.2h1.5V907.7h1.5V907.9h1.5V908.0h1.5V908.2h1.5V908.3h1.5V908.1h1.5V908.3h1.5V908.3h1.5V907.9h1.5V908.0h1.5V908.2h1.5V908.3h1.5V908.2h1.5V907.6h1.5V907.7h1.5V908.1h1.5V908.3h1.5V908.0h1.5V907.8h1.5V907.8h1.5V908.2h1.5V908.2h1.5V908.3h1.5V908.1h1.5V908.2h1.5V908.2h1.5V908.0h1.5V908.1h1.5V908.3h1.5V907.8h1.5V908.1h1.5V908.3h1.5V908.1h1.5V908.2h1.5V908.3h1.5V908.1h1.5V907.4h1.5V908.2h1.5V907.5h1.5V908.2h1.5V908.3h1.5V908.3h1.5V908.2h1.5V908.2h1.5V908.1h1.5V908.1h1.5V908.3h1.5V908.3h1.5V907.5h1.5V908.0h1.5V908.2h1.5V908.0h1.5V908.1h1.5V908.1h1.5V908.1h1.5V908.3h1.5V908.1h1.5V908.0h1.5V907.7h1.5V908.0h1.5V908.2h1.5V908.1h1.5V908.3h1.5V907.8h1.5V907.7h1.5V908.0h1.5V906.5h1.5V903.1h1.5V905.5h1.5V908.0h1.5V908.1h1.5V908.2h1.5V907.1h1.5V908.0h1.5V908.3h1.5V908.2h1.5V908.1h1.5V908.2h1.5V908.3h1.5V907.3h1.5V908.3h1.5V907.8h1.5V908.0h1.5V908.3h1.5V908.2h1.5V907.3h1.5V906.6h1.5V908.2h1.5V908.1h1.5V908.1h1.5V908.0h1.5V908.2h1.5V907.9h1.5V907.8h1.5V908.2h1.5V908.0h1.5V907.8h1.5V908.1h1.5V908.0h1.5V907.9h1.5V908.3h1.5V907.9h1.5V908.3h1.5V907.9h1.5V906.5h1.5V907.8h1.5V908.3h1.5V908.1h1.5V908.3h1.5V908.1h1.5V907.8h1.5V908.0h1.5V908.2h1.5V908.0h1.5V908.0h1.5V908.3h1.5V907.9h1.5V907.8h1.5V905.8h1.5V907.0h1.5V907.9h1.5V908.0h1.5V908.2h1.5V908.3h1.5V908.2h1.5V908.0h1.5V908.3h1.5V908.2h1.5V907.9h1.5V908.1h1.5V908.1h1.5V908.0h1.5V908.1h1.5V907.8h1.5V908.3h1.5V908.2h1.5V907.8h1.5V908.0h1.5V908.2h1.5V908.3h1.5V908.2h1.5V908.3h1.5V908.2h1.5V908.2h1.5V908.2h1.5V908.1h1.5V908.1h1.5V908.3h1.5V907.7h1.5V908.2h1.5V907.8h1.5V908.3h1.5V908.1h1.5V907.7h1.5V907.0h1.5V906.5h1.5V905.9h1.5V906.7h1.5V906.4h1.5V904.7h1.5V904.5h1.5V905.8h1.5V905.1h1.5V900.1h1.5V900.4h1.5V906.2h1.5V908.1h1.5V908.2h1.5V908.1h1.5V908.2h1.5V906.6h1.5V907.0h1.5V908.8Z" fill="#6e6ec0"/>
<line x1="41.7" y1="908.9" x2="670" y2="908.9" stroke="#6e6ec0" stroke-width="1.0" />
<text x="28.2" y="917.3" font-size="6.0" text-anchor="start" fill="#333" >3</text>
<text x="28.2" y="929.3" font-size="6.0" text-anchor="start" fill="#333" >0</text>
<line x1="31.9" y1="915.1" x2="33.9" y2="915.1" stroke="#666" stroke-width="0.6" />
<line x1="31.9" y1="927.1" x2="33.9" y2="927.1" stroke="#666" stroke-width="0.6" />
<line x1="32.6" y1="920.9" x2="33.6" y2="920.9" stroke="#666" stroke-width="0.6" />
<path d="M48.0 927.1V926.3h1.5V926.2h1.5V926.5h1.5V926.1h1.5V926.1h1.5V926.5h1.5V926.6h1.5V926.1h1.5V925.8h1.5V926.5h1.5V926.6h1.5V926.1h1.5V926.5h1.5V925.7h1.5V926.5h1.5V926.1h1.5V926.6h1.5V926.5h1.5V926.5h1.5V926.3h1.5V926.6h1.5V926.6h1.5V924.9h1.5V926.3h1.5V926.3h1.5V926.3h1.5V926.0h1.5V926.2h1.5V926.5h1.5V926.6h1.5V925.9h1.5V926.6h1.5V926.1h1.5V926.6h1.5V925.9h1.5V924.8h1.5V922.0h1.5V920.5h1.5V924.1h1.5V926.4h1.5V926.1h1.5V926.2h1.5V925.3h1.5V926.5h1.5V926.4h1.5V926.4h1.5V926.2h1.5V926.6h1.5V926.0h1.5V926.4h1.5V926.2h1.5V926.2h1.5V926.5h1.5V926.5h1.5V925.8h1.5V926.6h1.5V926.4h1.5V926.6h1.5V925.8h1.5V926.2h1.5V926.1h1.5V926.4h1.5V926.5h1.5V926.4h1.5V925.5h1.5V926.6h1.5V926.5h1.5V926.6h1.5V926.6h1.5V926.4h1.5V926.3h1.5V926.4h1.5V926.6h1.5V926.2h1.5V926.1h1.5V926.6h1.5V926.3h1.5V926.2h1.5V926.5h1.5V926.4h1.5V926.5h1.5V926.5h1.5V926.4h1.5V926.1h1.5V926.6h1.5V926.4h1.5V926.0h1.5V926.5h1.5V926.5h1.5V926.4h1.5V926.4h1.5V926.4h1.5V926.6h1.5V926.5h1.5V926.6h1.5V926.0h1.5V926.4h1.5V926.4h1.5V926.2h1.5V926.3h1.5V926.4h1.5V926.5h1.5V926.6h1.5V926.4h1.5V926.3h1.5V925.1h1.5V926.5h1.5V926.4h1.5V926.6h1.5V926.5h1.5V926.3h1.5V926.5h1.5V926.5h1.5V926.2h1.5V926.4h1.5V926.3h1.5V926.6h1.5V926.4h1.5V926.6h1.5V926.5h1.5V926.4h1.5V926.5h1.5V926.6h1.5V926.5h1.5V926.3h1.5V926.4h1.5V925.7h1.5V926.4h1.5V925.9h1.5V925.7h1.5V926.6h1.5V924.0h1.5V920.1h1.5V926.3h1.5V926.5h1.5V926.3h1.5V926.2h1.5V926.5h1.5V926.3h1.5V926.4h1.5V926.6h1.5V925.5h1.5V926.6h1.5V926.6h1.5V926.6h1.5V926.4h1.5V926.5h1.5V926.5h1.5V926.5h1.5V926.6h1.5V926.2h1.5V926.6h1.5V926.4h1.5V925.5h1.5V926.1h1.5V926.5h1.5V926.6h1.5V926.3h1.5V926.6h1.5V926.6h1.5V926.6h1.5V926.2h1.5V926.5h1.5V926.5h1.5V926.4h1.5V926.6h1.5V925.9h1.5V926.5h1.5V926.1h1.5V926.4h1.5V926.2h1.5V926.6h1.5V926.0h1.5V926.6h1.5V926.1h1.5V926.3h1.5V926.6h1.5V926.6h1.5V926.4h1.5V926.6h1.5V926.5h1.5V926.5h1.5V926.1h1.5V925.7h1.5V926.5h1.5V926.5h1.5V926.5h1.5V926.3h1.5V926.2h1.5V926.6h1.5V926.3h1.5V926.0h1.5V926.3h1.5V926.6h1.5V926.5h1.5V926.6h1.5V926.0h1.5V926.1h1.5V926.3h1.5V926.5h1.5V926.2h1.5V926.6h1.5V926.6h1.5V926.4h1.5V926.3h1.5V926.3h1.5V926.2h1.5V926.5h1.5V926.6h1.5V926.4h1.5V926.4h1.5V926.6h1.5V926.4h1.5V926.4h1.5V926.6h1.5V926.1h1.5V926.2h1.5V926.2h1.5V926.5h1.5V926.3h1.5V926.0h1.5V926.6h1.5V925.6h1.5V925.8h1.5V926.4h1.5V926.2h1.5V926.6h1.5V926.3h1.5V926.6h1.5V926.5h1.5V926.3h1.5V926.6h1.5V926.6h1.5V926.4h1.5V926.5h1.5V926.6h1.5V926.4h1.5V925.1h1.5V925.5h1.5V926.1h1.5V926.3h1.5V926.1h1.5V925.9h1.5V926.5h1.5V926.6h1.5V926.0h1.5V926.4h1.5V926.3h1.5V926.6h1.5V926.5h1.5V926.4h1.5V926.4h1.5V926.5h1.5V926.4h1.5V926.2h1.5V926.5h1.5V925.3h1.5V926.4h1.5V926.6h1.5V926.4h1.5V926.6h1.5V925.9h1.5V926.3h1.5V926.2h1.5V926.5h1.5V926.4h1.5V926.5h1.5V926.6h1.5V926.2h1.5V926.6h1.5V926.6h1.5V925.9h1.5V926.4h1.5V926.5h1.5V926.3h1.5V926.5h1.5V926.2h1.5V926.4h1.5V926.4h1.5V926.6h1.5V926.6h1.5V926.6h1.5V926.3h1.5V926.4h1.5V926.1h1.5V926.2h1.5V925.7h1.5V926.6h1.5V926.6h1.5V926.5h1.5V926.3h1.5V926.6h1.5V926.5h1.5V926.1h1.5V926.5h1.5V926.3h1.5V926.3h1.5V926.5h1.5V926.6h1.5V926.6h1.5V926.2h1.5V926.6h1.5V926.6h1.5V926.5h1.5V926.5h1.5V926.1h1.5V926.6h1.5V926.6h1.5V926.4h1.5V925.3h1.5V923.5h1.5V924.8h1.5V926.5h1.5V926.4h1.5V926.3h1.5V926.1h1.5V926.6h1.5V926.6h1.5V926.4h1.5V926.5h1.5V926.6h1.5V926.3h1.5V926.5h1.5V926.4h1.5V925.5h1.5V926.4h1.5V926.6h1.5V926.5h1.5V925.7h1.5V925.9h1.5V926.5h1.5V926.5h1.5V926.3h1.5V926.4h1.5V926.6h1.5V926.5h1.5V926.3h1.5V926.6h1.5V926.3h1.5V926.4h1.5V926.6h1.5V926.6h1.5V926.3h1.5V926.2h1.5V926.5h1.5V926.6h1.5V926.3h1.5V925.7h1.5V926.0h1.5V926.6h1.5V926.3h1.5V926.6h1.5V926.4h1.5V926.4h1.5V926.6h1.5V926.6h1.5V926.3h1.5V926.3h1.5V926.5h1.5V926.4h1.5V926.0h1.5V925.2h1.5V926.2h1.5V926.5h1.5V926.4h1.5V926.5h1.5V926.4h1.5V926.3h1.5V926.4h1.5V925.9h1.5V926.4h1.5V926.4h1.5V926.6h1.5V926.4h1.5V926.6h1.5V925.9h1.5V926.5h1.5V926.5h1.5V926.5h1.5V926.4h1.5V926.5h1.5V926.1h1.5V926.5h1.5V926.6h1.5V925.9h1.5V926.6h1.5V926.5h1.5V926.4h1.5V926.5h1.5V926.3h1.5V926.4h1.5V926.1h1.5V926.5h1.5V926.1h1.5V925.9h1.5V926.0h1.5V925.6h1.5V925.2h1.5V924.7h1.5V924.8h1.5V925.2h1.5V924.4h1.5V922.6h1.5V923.0h1.5V924.7h1.5V923.0h1.5V917.0h1.5V919.5h1.5V925.2h1.5V926.0h1.5V926.5h1.5V926.4h1.5V926.3h1.5V924.3h1.5V926.1h1.5V927.1Z" fill="#6e6ec0"/>
<line x1="48" y1="927.2" x2="670" y2="927.2" stroke="#6e6ec0" stroke-width="1.0" />
<text x="28.2" y="935.5" font-size="6.0" text-anchor="start" fill="#333" >3</text>
<text x="28.2" y="947.5" font-size="6.0" text-anchor="start" fill="#333" >0</text>
<line x1="31.9" y1="933.3" x2="33.9" y2="933.3" stroke="#666" stroke-width="0.6" />
<line x1="31.9" y1="945.3" x2="33.9" y2="945.3" stroke="#666" stroke-width="0.6" />
<line x1="32.6" y1="939.1" x2="33.6" y2="939.1" stroke="#666" stroke-width="0.6" />
<path d="M36.8 945.3V944.8h1.5V944.5h1.5V944.8h1.5V944.6h1.5V944.8h1.5V944.5h1.5V944.3h1.5V944.8h1.5V944.5h1.5V944.5h1.5V944.4h1.5V944.8h1.5V944.7h1.5V944.5h1.5V944.7h1.5V944.8h1.5V943.8h1.5V944.8h1.5V944.4h1.5V944.7h1.5V944.4h1.5V944.8h1.5V944.8h1.5V944.6h1.5V944.5h1.5V944.7h1.5V944.6h1.5V944.6h1.5V944.0h1.5V944.8h1.5V944.2h1.5V944.7h1.5V944.6h1.5V944.6h1.5V944.7h1.5V944.5h1.5V944.8h1.5V944.1h1.5V944.8h1.5V944.4h1.5V944.7h1.5V944.6h1.5V943.3h1.5V941.8h1.5V938.5h1.5V940.6h1.5V943.9h1.5V944.5h1.5V944.4h1.5V944.8h1.5V944.7h1.5V944.6h1.5V944.6h1.5V944.1h1.5V944.6h1.5V944.6h1.5V944.4h1.5V944.7h1.5V944.6h1.5V944.8h1.5V944.7h1.5V944.6h1.5V944.7h1.5V944.2h1.5V944.1h1.5V944.8h1.5V944.8h1.5V944.5h1.5V944.8h1.5V944.5h1.5V944.6h1.5V944.6h1.5V944.5h1.5V944.5h1.5V944.4h1.5V944.8h1.5V944.5h1.5V944.6h1.5V944.4h1.5V944.4h1.5V944.8h1.5V944.6h1.5V944.6h1.5V944.5h1.5V944.6h1.5V944.6h1.5V944.1h1.5V944.5h1.5V944.1h1.5V944.8h1.5V944.8h1.5V944.6h1.5V944.6h1.5V944.4h1.5V944.7h1.5V944.3h1.5V944.8h1.5V944.0h1.5V944.7h1.5V943.9h1.5V944.5h1.5V944.7h1.5V944.2h1.5V943.8h1.5V944.7h1.5V944.6h1.5V944.3h1.5V944.8h1.5V944.6h1.5V944.8h1.5V944.6h1.5V944.2h1.5V943.7h1.5V944.6h1.5V944.8h1.5V944.7h1.5V944.3h1.5V944.1h1.5V944.8h1.5V944.8h1.5V944.8h1.5V944.0h1.5V944.5h1.5V944.7h1.5V944.3h1.5V944.2h1.5V944.6h1.5V944.8h1.5V944.7h1.5V944.8h1.5V944.8h1.5V944.4h1.5V944.6h1.5V944.7h1.5V944.8h1.5V944.7h1.5V944.3h1.5V944.6h1.5V944.7h1.5V943.5h1.5V944.2h1.5V944.6h1.5V943.9h1.5V944.4h1.5V944.4h1.5V944.7h1.5V944.4h1.5V944.5h1.5V944.4h1.5V944.8h1.5V944.8h1.5V944.5h1.5V944.2h1.5V944.1h1.5V944.2h1.5V943.6h1.5V943.7h1.5V944.5h1.5V944.8h1.5V944.5h1.5V944.6h1.5V944.4h1.5V944.8h1.5V944.7h1.5V944.7h1.5V944.6h1.5V944.7h1.5V944.8h1.5V944.6h1.5V944.4h1.5V944.5h1.5V944.3h1.5V944.7h1.5V944.8h1.5V944.8h1.5V944.5h1.5V944.7h1.5V944.3h1.5V943.6h1.5V944.8h1.5V944.7h1.5V944.7h1.5V944.1h1.5V944.5h1.5V944.8h1.5V944.4h1.5V943.4h1.5V944.8h1.5V944.8h1.5V944.8h1.5V943.7h1.5V944.4h1.5V944.8h1.5V944.8h1.5V944.8h1.5V944.6h1.5V944.7h1.5V944.3h1.5V944.8h1.5V944.6h1.5V944.7h1.5V944.8h1.5V944.7h1.5V944.7h1.5V944.3h1.5V944.5h1.5V944.7h1.5V944.6h1.5V944.4h1.5V944.8h1.5V944.7h1.5V944.7h1.5V944.3h1.5V944.1h1.5V944.4h1.5V944.7h1.5V944.6h1.5V944.5h1.5V944.8h1.5V944.5h1.5V944.8h1.5V944.6h1.5V944.8h1.5V944.6h1.5V944.5h1.5V944.5h1.5V944.8h1.5V944.6h1.5V944.8h1.5V944.5h1.5V944.6h1.5V944.8h1.5V944.7h1.5V944.8h1.5V944.7h1.5V944.8h1.5V944.8h1.5V944.2h1.5V944.4h1.5V944.7h1.5V944.7h1.5V944.6h1.5V944.8h1.5V944.6h1.5V944.5h1.5V944.3h1.5V944.6h1.5V944.6h1.5V944.8h1.5V944.7h1.5V944.3h1.5V944.7h1.5V944.5h1.5V944.8h1.5V944.8h1.5V944.8h1.5V944.0h1.5V944.4h1.5V944.3h1.5V944.6h1.5V944.7h1.5V944.3h1.5V944.8h1.5V944.4h1.5V944.5h1.5V944.7h1.5V944.5h1.5V944.7h1.5V944.5h1.5V944.2h1.5V944.4h1.5V944.5h1.5V944.6h1.5V944.5h1.5V944.6h1.5V944.6h1.5V944.8h1.5V944.7h1.5V943.4h1.5V944.7h1.5V944.8h1.5V944.4h1.5V943.2h1.5V944.7h1.5V944.8h1.5V944.7h1.5V944.5h1.5V944.6h1.5V944.6h1.5V944.5h1.5V944.6h1.5V944.4h1.5V944.8h1.5V944.7h1.5V943.7h1.5V944.2h1.5V944.7h1.5V944.7h1.5V944.4h1.5V944.6h1.5V944.8h1.5V944.8h1.5V944.8h1.5V944.5h1.5V944.6h1.5V944.7h1.5V944.5h1.5V944.4h1.5V944.8h1.5V943.4h1.5V944.8h1.5V944.7h1.5V944.8h1.5V944.5h1.5V944.3h1.5V944.4h1.5V944.6h1.5V943.8h1.5V944.3h1.5V944.5h1.5V944.4h1.5V944.7h1.5V944.8h1.5V944.8h1.5V944.8h1.5V944.6h1.5V944.7h1.5V944.6h1.5V944.8h1.5V944.6h1.5V944.4h1.5V944.7h1.5V944.8h1.5V944.0h1.5V944.2h1.5V944.6h1.5V944.4h1.5V944.6h1.5V944.5h1.5V944.8h1.5V944.8h1.5V944.8h1.5V944.7h1.5V944.6h1.5V944.6h1.5V944.7h1.5V944.7h1.5V944.8h1.5V944.8h1.5V944.8h1.5V944.8h1.5V944.3h1.5V944.8h1.5V944.7h1.5V944.2h1.5V944.4h1.5V944.6h1.5V944.4h1.5V944.8h1.5V944.4h1.5V944.8h1.5V944.2h1.5V944.3h1.5V944.3h1.5V944.6h1.5V944.7h1.5V944.7h1.5V944.8h1.5V944.5h1.5V944.1h1.5V944.3h1.5V944.8h1.5V944.7h1.5V944.7h1.5V944.7h1.5V944.8h1.5V944.1h1.5V944.6h1.5V944.7h1.5V943.6h1.5V944.5h1.5V944.7h1.5V944.8h1.5V944.6h1.5V944.7h1.5V944.5h1.5V944.0h1.5V944.5h1.5V944.7h1.5V944.7h1.5V944.3h1.5V944.7h1.5V944.7h1.5V944.4h1.5V944.4h1.5V943.8h1.5V944.2h1.5V944.6h1.5V944.6h1.5V944.6h1.5V944.7h1.5V944.5h1.5V944.5h1.5V944.2h1.5V944.2h1.5V943.8h1.5V943.7h1.5V943.7h1.5V943.9h1.5V943.2h1.5V942.8h1.5V943.2h1.5V943.7h1.5V940.7h1.5V938.8h1.5V942.7h1.5V944.3h1.5V944.8h1.5V944.7h1.5V944.7h1.5V944.3h1.5V943.9h1.5V944.8h1.5V945.3Z" fill="#a070c6"/>
<line x1="36.8" y1="945.4" x2="670" y2="945.4" stroke="#a070c6" stroke-width="1.0" />
<text x="28.2" y="954.4" font-size="6.0" text-anchor="start" fill="#333" >3</text>
<text x="28.2" y="966.4" font-size="6.0" text-anchor="start" fill="#333" >0</text>
<line x1="31.9" y1="952.2" x2="33.9" y2="952.2" stroke="#666" stroke-width="0.6" />
<line x1="31.9" y1="964.2" x2="33.9" y2="964.2" stroke="#666" stroke-width="0.6" />
<line x1="32.6" y1="958" x2="33.6" y2="958" stroke="#666" stroke-width="0.6" />
<path d="M36.8 964.2V963.3h1.5V963.7h1.5V963.7h1.5V963.5h1.5V963.5h1.5V963.6h1.5V963.3h1.5V963.4h1.5V963.6h1.5V963.6h1.5V963.7h1.5V963.3h1.5V963.6h1.5V963.6h1.5V962.9h1.5V963.6h1.5V963.5h1.5V963.7h1.5V963.6h1.5V963.7h1.5V963.3h1.5V963.7h1.5V963.6h1.5V963.7h1.5V963.5h1.5V963.7h1.5V963.2h1.5V963.6h1.5V963.4h1.5V963.7h1.5V963.7h1.5V963.7h1.5V963.7h1.5V963.6h1.5V963.6h1.5V963.5h1.5V963.6h1.5V963.3h1.5V963.6h1.5V963.7h1.5V963.6h1.5V963.3h1.5V962.5h1.5V959.6h1.5V958.2h1.5V960.0h1.5V962.9h1.5V963.5h1.5V963.5h1.5V963.6h1.5V963.6h1.5V963.6h1.5V962.9h1.5V963.5h1.5V963.1h1.5V963.6h1.5V963.7h1.5V963.6h1.5V963.7h1.5V963.4h1.5V963.3h1.5V963.2h1.5V963.3h1.5V963.7h1.5V963.0h1.5V963.5h1.5V963.6h1.5V963.3h1.5V963.6h1.5V963.2h1.5V963.1h1.5V963.6h1.5V963.6h1.5V963.5h1.5V963.4h1.5V963.3h1.5V963.3h1.5V963.7h1.5V963.2h1.5V963.2h1.5V963.7h1.5V963.7h1.5V963.6h1.5V963.6h1.5V963.6h1.5V963.5h1.5V963.6h1.5V963.7h1.5V963.7h1.5V963.5h1.5V963.7h1.5V963.4h1.5V962.7h1.5V963.5h1.5V963.5h1.5V963.5h1.5V963.7h1.5V963.5h1.5V963.3h1.5V963.7h1.5V963.2h1.5V963.5h1.5V963.6h1.5V963.5h1.5V963.5h1.5V963.3h1.5V963.5h1.5V963.3h1.5V963.7h1.5V963.6h1.5V963.6h1.5V963.3h1.5V963.5h1.5V962.8h1.5V963.7h1.5V963.7h1.5V963.4h1.5V963.5h1.5V963.6h1.5V963.2h1.5V963.5h1.5V963.6h1.5V962.3h1.5V963.7h1.5V963.7h1.5V963.4h1.5V963.4h1.5V963.5h1.5V963.7h1.5V963.4h1.5V963.6h1.5V963.7h1.5V963.2h1.5V963.7h1.5V963.7h1.5V963.7h1.5V963.7h1.5V963.7h1.5V963.6h1.5V962.3h1.5V963.3h1.5V963.4h1.5V963.7h1.5V963.3h1.5V963.6h1.5V963.6h1.5V963.5h1.5V963.5h1.5V963.1h1.5V963.4h1.5V963.4h1.5V963.2h1.5V963.6h1.5V963.7h1.5V963.4h1.5V962.8h1.5V963.6h1.5V963.6h1.5V963.5h1.5V963.5h1.5V963.6h1.5V962.7h1.5V963.7h1.5V963.7h1.5V963.5h1.5V963.7h1.5V963.5h1.5V963.6h1.5V963.7h1.5V963.3h1.5V963.7h1.5V963.5h1.5V963.5h1.5V963.7h1.5V963.2h1.5V963.7h1.5V963.6h1.5V963.5h1.5V963.1h1.5V963.5h1.5V963.6h1.5V963.4h1.5V963.7h1.5V963.5h1.5V963.2h1.5V963.3h1.5V963.6h1.5V963.6h1.5V963.3h1.5V963.5h1.5V963.2h1.5V963.7h1.5V963.7h1.5V963.3h1.5V962.1h1.5V963.6h1.5V963.7h1.5V963.2h1.5V963.5h1.5V963.7h1.5V963.3h1.5V963.5h1.5V963.5h1.5V963.6h1.5V963.6h1.5V963.3h1.5V963.7h1.5V963.4h1.5V963.6h1.5V962.4h1.5V963.4h1.5V963.6h1.5V963.2h1.5V963.1h1.5V963.7h1.5V963.2h1.5V963.5h1.5V963.5h1.5V963.2h1.5V963.3h1.5V963.6h1.5V963.5h1.5V963.7h1.5V963.3h1.5V963.7h1.5V963.7h1.5V963.4h1.5V963.2h1.5V963.6h1.5V963.6h1.5V963.5h1.5V963.3h1.5V963.5h1.5V963.3h1.5V963.4h1.5V963.6h1.5V963.4h1.5V963.4h1.5V963.2h1.5V963.1h1.5V963.6h1.5V963.2h1.5V963.6h1.5V963.3h1.5V963.3h1.5V963.3h1.5V963.5h1.5V963.6h1.5V963.4h1.5V963.7h1.5V963.5h1.5V963.6h1.5V963.7h1.5V963.6h1.5V963.5h1.5V963.6h1.5V963.7h1.5V963.7h1.5V963.7h1.5V963.5h1.5V963.2h1.5V963.0h1.5V963.3h1.5V963.4h1.5V963.4h1.5V963.7h1.5V963.7h1.5V963.3h1.5V963.7h1.5V963.4h1.5V963.5h1.5V963.4h1.5V963.4h1.5V963.5h1.5V963.6h1.5V963.1h1.5V963.6h1.5V963.3h1.5V963.7h1.5V963.4h1.5V963.1h1.5V963.6h1.5V963.6h1.5V963.1h1.5V963.6h1.5V963.4h1.5V963.7h1.5V963.7h1.5V963.6h1.5V963.3h1.5V963.6h1.5V963.4h1.5V963.4h1.5V963.5h1.5V963.6h1.5V963.3h1.5V963.4h1.5V963.7h1.5V963.7h1.5V963.4h1.5V963.4h1.5V963.7h1.5V963.6h1.5V963.7h1.5V963.6h1.5V963.7h1.5V963.1h1.5V963.2h1.5V963.2h1.5V963.2h1.5V963.6h1.5V963.3h1.5V963.5h1.5V963.3h1.5V963.3h1.5V962.8h1.5V963.2h1.5V962.7h1.5V962.9h1.5V963.7h1.5V963.6h1.5V963.5h1.5V963.0h1.5V963.6h1.5V963.4h1.5V963.4h1.5V963.6h1.5V963.7h1.5V963.5h1.5V961.7h1.5V963.7h1.5V963.6h1.5V963.5h1.5V963.5h1.5V963.6h1.5V962.8h1.5V963.3h1.5V963.1h1.5V963.5h1.5V962.9h1.5V963.6h1.5V963.3h1.5V963.7h1.5V963.2h1.5V962.4h1.5V963.7h1.5V962.5h1.5V963.2h1.5V963.7h1.5V963.7h1.5V963.6h1.5V963.6h1.5V963.5h1.5V963.3h1.5V962.9h1.5V962.1h1.5V963.6h1.5V963.5h1.5V963.5h1.5V963.7h1.5V963.6h1.5V963.5h1.5V963.3h1.5V963.4h1.5V963.7h1.5V963.1h1.5V963.5h1.5V963.6h1.5V963.1h1.5V963.3h1.5V963.5h1.5V962.7h1.5V963.4h1.5V963.7h1.5V963.3h1.5V963.2h1.5V963.7h1.5V963.5h1.5V963.3h1.5V963.5h1.5V963.6h1.5V963.4h1.5V963.7h1.5V963.3h1.5V962.9h1.5V963.2h1.5V963.6h1.5V963.3h1.5V963.4h1.5V963.5h1.5V963.6h1.5V963.6h1.5V963.6h1.5V963.7h1.5V963.7h1.5V963.6h1.5V963.6h1.5V963.4h1.5V963.7h1.5V963.7h1.5V963.6h1.5V963.5h1.5V963.4h1.5V963.5h1.5V963.0h1.5V963.0h1.5V962.6h1.5V963.0h1.5V962.9h1.5V962.5h1.5V962.1h1.5V962.3h1.5V962.3h1.5V960.0h1.5V958.2h1.5V962.0h1.5V962.7h1.5V963.4h1.5V962.6h1.5V963.5h1.5V963.6h1.5V963.0h1.5V963.7h1.5V964.2Z" fill="#a070c6"/>
<line x1="36.8" y1="964.3" x2="670" y2="964.3" stroke="#a070c6" stroke-width="1.0" />
<line x1="114" y1="969.2" x2="640" y2="969.2" stroke="#b8b8b8" stroke-width="0.9" />
<path d="M117.2 968.1 L118.6 969.2 L117.2 970.3" fill="none" stroke="#b0b0b0" stroke-width="0.6"/>
<path d="M124.4 968.1 L125.8 969.2 L124.4 970.3" fill="none" stroke="#b0b0b0" stroke-width="0.6"/>
<path d="M131.6 968.1 L133 969.2 L131.6 970.3" fill="none" stroke="#b0b0b0" stroke-width="0.6"/>
<path d="M138.8 968.1 L140.2 969.2 L138.8 970.3" fill="none" stroke="#b0b0b0" stroke-width="0.6"/>
<path d="M146 968.1 L147.4 969.2 L146 970.3" fill="none" stroke="#b0b0b0" stroke-width="0.6"/>
<path d="M153.2 968.1 L154.6 969.2 L153.2 970.3" fill="none" stroke="#b0b0b0" stroke-width="0.6"/>
<path d="M160.4 968.1 L161.8 969.2 L160.4 970.3" fill="none" stroke="#b0b0b0" stroke-width="0.6"/>
<path d="M167.6 968.1 L169 969.2 L167.6 970.3" fill="none" stroke="#b0b0b0" stroke-width="0.6"/>
<path d="M174.8 968.1 L176.2 969.2 L174.8 970.3" fill="none" stroke="#b0b0b0" stroke-width="0.6"/>
<path d="M182 968.1 L183.4 969.2 L182 970.3" fill="none" stroke="#b0b0b0" stroke-width="0.6"/>
<path d="M189.2 968.1 L190.6 969.2 L189.2 970.3" fill="none" stroke="#b0b0b0" stroke-width="0.6"/>
<path d="M196.4 968.1 L197.8 969.2 L196.4 970.3" fill="none" stroke="#b0b0b0" stroke-width="0.6"/>
<path d="M203.6 968.1 L205 969.2 L203.6 970.3" fill="none" stroke="#b0b0b0" stroke-width="0.6"/>
<path d="M210.8 968.1 L212.2 969.2 L210.8 970.3" fill="none" stroke="#b0b0b0" stroke-width="0.6"/>
<path d="M218 968.1 L219.4 969.2 L218 970.3" fill="none" stroke="#b0b0b0" stroke-width="0.6"/>
<path d="M225.2 968.1 L226.6 969.2 L225.2 970.3" fill="none" stroke="#b0b0b0" stroke-width="0.6"/>
<path d="M232.4 968.1 L233.8 969.2 L232.4 970.3" fill="none" stroke="#b0b0b0" stroke-width="0.6"/>
<path d="M239.6 968.1 L241 969.2 L239.6 970.3" fill="none" stroke="#b0b0b0" stroke-width="0.6"/>
<path d="M246.8 968.1 L248.2 969.2 L246.8 970.3" fill="none" stroke="#b0b0b0" stroke-width="0.6"/>
<path d="M254 968.1 L255.4 969.2 L254 970.3" fill="none" stroke="#b0b0b0" stroke-width="0.6"/>
<path d="M261.2 968.1 L262.6 969.2 L261.2 970.3" fill="none" stroke="#b0b0b0" stroke-width="0.6"/>
<path d="M268.4 968.1 L269.8 969.2 L268.4 970.3" fill="none" stroke="#b0b0b0" stroke-width="0.6"/>
<path d="M275.6 968.1 L277 969.2 L275.6 970.3" fill="none" stroke="#b0b0b0" stroke-width="0.6"/>
<path d="M282.8 968.1 L284.2 969.2 L282.8 970.3" fill="none" stroke="#b0b0b0" stroke-width="0.6"/>
<path d="M290 968.1 L291.4 969.2 L290 970.3" fill="none" stroke="#b0b0b0" stroke-width="0.6"/>
<path d="M297.2 968.1 L298.6 969.2 L297.2 970.3" fill="none" stroke="#b0b0b0" stroke-width="0.6"/>
<path d="M304.4 968.1 L305.8 969.2 L304.4 970.3" fill="none" stroke="#b0b0b0" stroke-width="0.6"/>
<path d="M311.6 968.1 L313 969.2 L311.6 970.3" fill="none" stroke="#b0b0b0" stroke-width="0.6"/>
<path d="M318.8 968.1 L320.2 969.2 L318.8 970.3" fill="none" stroke="#b0b0b0" stroke-width="0.6"/>
<path d="M326 968.1 L327.4 969.2 L326 970.3" fill="none" stroke="#b0b0b0" stroke-width="0.6"/>
<path d="M333.2 968.1 L334.6 969.2 L333.2 970.3" fill="none" stroke="#b0b0b0" stroke-width="0.6"/>
<path d="M340.4 968.1 L341.8 969.2 L340.4 970.3" fill="none" stroke="#b0b0b0" stroke-width="0.6"/>
<path d="M347.6 968.1 L349 969.2 L347.6 970.3" fill="none" stroke="#b0b0b0" stroke-width="0.6"/>
<path d="M354.8 968.1 L356.2 969.2 L354.8 970.3" fill="none" stroke="#b0b0b0" stroke-width="0.6"/>
<path d="M362 968.1 L363.4 969.2 L362 970.3" fill="none" stroke="#b0b0b0" stroke-width="0.6"/>
<path d="M369.2 968.1 L370.6 969.2 L369.2 970.3" fill="none" stroke="#b0b0b0" stroke-width="0.6"/>
<path d="M376.4 968.1 L377.8 969.2 L376.4 970.3" fill="none" stroke="#b0b0b0" stroke-width="0.6"/>
<path d="M383.6 968.1 L385 969.2 L383.6 970.3" fill="none" stroke="#b0b0b0" stroke-width="0.6"/>
<path d="M390.8 968.1 L392.2 969.2 L390.8 970.3" fill="none" stroke="#b0b0b0" stroke-width="0.6"/>
<path d="M398 968.1 L399.4 969.2 L398 970.3" fill="none" stroke="#b0b0b0" stroke-width="0.6"/>
<path d="M405.2 968.1 L406.6 969.2 L405.2 970.3" fill="none" stroke="#b0b0b0" stroke-width="0.6"/>
<path d="M412.4 968.1 L413.8 969.2 L412.4 970.3" fill="none" stroke="#b0b0b0" stroke-width="0.6"/>
<path d="M419.6 968.1 L421 969.2 L419.6 970.3" fill="none" stroke="#b0b0b0" stroke-width="0.6"/>
<path d="M426.8 968.1 L428.2 969.2 L426.8 970.3" fill="none" stroke="#b0b0b0" stroke-width="0.6"/>
<path d="M434 968.1 L435.4 969.2 L434 970.3" fill="none" stroke="#b0b0b0" stroke-width="0.6"/>
<path d="M441.2 968.1 L442.6 969.2 L441.2 970.3" fill="none" stroke="#b0b0b0" stroke-width="0.6"/>
<path d="M448.4 968.1 L449.8 969.2 L448.4 970.3" fill="none" stroke="#b0b0b0" stroke-width="0.6"/>
<path d="M455.6 968.1 L457 969.2 L455.6 970.3" fill="none" stroke="#b0b0b0" stroke-width="0.6"/>
<path d="M462.8 968.1 L464.2 969.2 L462.8 970.3" fill="none" stroke="#b0b0b0" stroke-width="0.6"/>
<path d="M470 968.1 L471.4 969.2 L470 970.3" fill="none" stroke="#b0b0b0" stroke-width="0.6"/>
<path d="M477.2 968.1 L478.6 969.2 L477.2 970.3" fill="none" stroke="#b0b0b0" stroke-width="0.6"/>
<path d="M484.4 968.1 L485.8 969.2 L484.4 970.3" fill="none" stroke="#b0b0b0" stroke-width="0.6"/>
<path d="M491.6 968.1 L493 969.2 L491.6 970.3" fill="none" stroke="#b0b0b0" stroke-width="0.6"/>
<path d="M498.8 968.1 L500.2 969.2 L498.8 970.3" fill="none" stroke="#b0b0b0" stroke-width="0.6"/>
<path d="M506 968.1 L507.4 969.2 L506 970.3" fill="none" stroke="#b0b0b0" stroke-width="0.6"/>
<path d="M513.2 968.1 L514.6 969.2 L513.2 970.3" fill="none" stroke="#b0b0b0" stroke-width="0.6"/>
<path d="M520.4 968.1 L521.8 969.2 L520.4 970.3" fill="none" stroke="#b0b0b0" stroke-width="0.6"/>
<path d="M527.6 968.1 L529 969.2 L527.6 970.3" fill="none" stroke="#b0b0b0" stroke-width="0.6"/>
<path d="M534.8 968.1 L536.2 969.2 L534.8 970.3" fill="none" stroke="#b0b0b0" stroke-width="0.6"/>
<path d="M542 968.1 L543.4 969.2 L542 970.3" fill="none" stroke="#b0b0b0" stroke-width="0.6"/>
<path d="M549.2 968.1 L550.6 969.2 L549.2 970.3" fill="none" stroke="#b0b0b0" stroke-width="0.6"/>
<path d="M556.4 968.1 L557.8 969.2 L556.4 970.3" fill="none" stroke="#b0b0b0" stroke-width="0.6"/>
<path d="M563.6 968.1 L565 969.2 L563.6 970.3" fill="none" stroke="#b0b0b0" stroke-width="0.6"/>
<path d="M570.8 968.1 L572.2 969.2 L570.8 970.3" fill="none" stroke="#b0b0b0" stroke-width="0.6"/>
<path d="M578 968.1 L579.4 969.2 L578 970.3" fill="none" stroke="#b0b0b0" stroke-width="0.6"/>
<path d="M585.2 968.1 L586.6 969.2 L585.2 970.3" fill="none" stroke="#b0b0b0" stroke-width="0.6"/>
<path d="M592.4 968.1 L593.8 969.2 L592.4 970.3" fill="none" stroke="#b0b0b0" stroke-width="0.6"/>
<path d="M599.6 968.1 L601 969.2 L599.6 970.3" fill="none" stroke="#b0b0b0" stroke-width="0.6"/>
<path d="M606.8 968.1 L608.2 969.2 L606.8 970.3" fill="none" stroke="#b0b0b0" stroke-width="0.6"/>
<path d="M614 968.1 L615.4 969.2 L614 970.3" fill="none" stroke="#b0b0b0" stroke-width="0.6"/>
<path d="M621.2 968.1 L622.6 969.2 L621.2 970.3" fill="none" stroke="#b0b0b0" stroke-width="0.6"/>
<path d="M628.4 968.1 L629.8 969.2 L628.4 970.3" fill="none" stroke="#b0b0b0" stroke-width="0.6"/>
<rect x="87" y="968.2" width="18.8" height="2" fill="#3f68c4" />
<rect x="106" y="967.3" width="8" height="3.8" fill="#3f68c4" />
<line x1="114" y1="971.8" x2="122.5" y2="971.8" stroke="#b8b8b8" stroke-width="0.9" />
<circle cx="123" cy="971.8" r="0.9" fill="#3f68c4"/>
<path d="M638.5 967.7 L643.5 967.7 L645.5 969.2 L643.5 970.7 L638.5 970.7 Z" fill="#3f68c4"/>
<text x="57.6" y="975" font-size="7.0" text-anchor="start" fill="#333" >FOXO1</text>
<text x="88.2" y="977.2" font-size="7.0" text-anchor="start" fill="#333" >FOXO1</text>
<path d="M45 992.4 L657 992.4 L657 991.3 L661.5 993.9 L657 996.5 L657 995.4 L45 995.4 Q43 993.9 45 992.4 Z" fill="#000"/>
<line x1="67.3" y1="991.1" x2="67.3" y2="993.9" stroke="#000" stroke-width="1.0" />
<line x1="56.8" y1="993.9" x2="56.8" y2="996.7" stroke="#000" stroke-width="1.0" />
<line x1="88.35" y1="990.3" x2="88.35" y2="993.9" stroke="#000" stroke-width="1.0" />
<line x1="77.85" y1="993.9" x2="77.85" y2="996.7" stroke="#000" stroke-width="1.0" />
<line x1="109.4" y1="991.1" x2="109.4" y2="993.9" stroke="#000" stroke-width="1.0" />
<line x1="98.9" y1="993.9" x2="98.9" y2="996.7" stroke="#000" stroke-width="1.0" />
<line x1="130.45" y1="990.3" x2="130.45" y2="993.9" stroke="#000" stroke-width="1.0" />
<line x1="119.95" y1="993.9" x2="119.95" y2="996.7" stroke="#000" stroke-width="1.0" />
<line x1="151.5" y1="991.1" x2="151.5" y2="993.9" stroke="#000" stroke-width="1.0" />
<line x1="141" y1="993.9" x2="141" y2="996.7" stroke="#000" stroke-width="1.0" />
<line x1="172.55" y1="990.3" x2="172.55" y2="993.9" stroke="#000" stroke-width="1.0" />
<line x1="162.05" y1="993.9" x2="162.05" y2="996.7" stroke="#000" stroke-width="1.0" />
<line x1="193.6" y1="991.1" x2="193.6" y2="993.9" stroke="#000" stroke-width="1.0" />
<line x1="183.1" y1="993.9" x2="183.1" y2="996.7" stroke="#000" stroke-width="1.0" />
<line x1="214.65" y1="990.3" x2="214.65" y2="993.9" stroke="#000" stroke-width="1.0" />
<line x1="204.15" y1="993.9" x2="204.15" y2="996.7" stroke="#000" stroke-width="1.0" />
<line x1="235.7" y1="991.1" x2="235.7" y2="993.9" stroke="#000" stroke-width="1.0" />
<line x1="225.2" y1="993.9" x2="225.2" y2="996.7" stroke="#000" stroke-width="1.0" />
<line x1="256.75" y1="990.3" x2="256.75" y2="993.9" stroke="#000" stroke-width="1.0" />
<line x1="246.25" y1="993.9" x2="246.25" y2="996.7" stroke="#000" stroke-width="1.0" />
<line x1="277.8" y1="991.1" x2="277.8" y2="993.9" stroke="#000" stroke-width="1.0" />
<line x1="267.3" y1="993.9" x2="267.3" y2="996.7" stroke="#000" stroke-width="1.0" />
<line x1="298.85" y1="990.3" x2="298.85" y2="993.9" stroke="#000" stroke-width="1.0" />
<line x1="288.35" y1="993.9" x2="288.35" y2="996.7" stroke="#000" stroke-width="1.0" />
<line x1="319.9" y1="991.1" x2="319.9" y2="993.9" stroke="#000" stroke-width="1.0" />
<line x1="309.4" y1="993.9" x2="309.4" y2="996.7" stroke="#000" stroke-width="1.0" />
<line x1="340.95" y1="990.3" x2="340.95" y2="993.9" stroke="#000" stroke-width="1.0" />
<line x1="330.45" y1="993.9" x2="330.45" y2="996.7" stroke="#000" stroke-width="1.0" />
<line x1="362" y1="991.1" x2="362" y2="993.9" stroke="#000" stroke-width="1.0" />
<line x1="351.5" y1="993.9" x2="351.5" y2="996.7" stroke="#000" stroke-width="1.0" />
<line x1="383.05" y1="990.3" x2="383.05" y2="993.9" stroke="#000" stroke-width="1.0" />
<line x1="372.55" y1="993.9" x2="372.55" y2="996.7" stroke="#000" stroke-width="1.0" />
<line x1="404.1" y1="991.1" x2="404.1" y2="993.9" stroke="#000" stroke-width="1.0" />
<line x1="393.6" y1="993.9" x2="393.6" y2="996.7" stroke="#000" stroke-width="1.0" />
<line x1="425.15" y1="990.3" x2="425.15" y2="993.9" stroke="#000" stroke-width="1.0" />
<line x1="414.65" y1="993.9" x2="414.65" y2="996.7" stroke="#000" stroke-width="1.0" />
<line x1="446.2" y1="991.1" x2="446.2" y2="993.9" stroke="#000" stroke-width="1.0" />
<line x1="435.7" y1="993.9" x2="435.7" y2="996.7" stroke="#000" stroke-width="1.0" />
<line x1="467.25" y1="990.3" x2="467.25" y2="993.9" stroke="#000" stroke-width="1.0" />
<line x1="456.75" y1="993.9" x2="456.75" y2="996.7" stroke="#000" stroke-width="1.0" />
<line x1="488.3" y1="991.1" x2="488.3" y2="993.9" stroke="#000" stroke-width="1.0" />
<line x1="477.8" y1="993.9" x2="477.8" y2="996.7" stroke="#000" stroke-width="1.0" />
<line x1="509.35" y1="990.3" x2="509.35" y2="993.9" stroke="#000" stroke-width="1.0" />
<line x1="498.85" y1="993.9" x2="498.85" y2="996.7" stroke="#000" stroke-width="1.0" />
<line x1="530.4" y1="991.1" x2="530.4" y2="993.9" stroke="#000" stroke-width="1.0" />
<line x1="519.9" y1="993.9" x2="519.9" y2="996.7" stroke="#000" stroke-width="1.0" />
<line x1="551.45" y1="990.3" x2="551.45" y2="993.9" stroke="#000" stroke-width="1.0" />
<line x1="540.95" y1="993.9" x2="540.95" y2="996.7" stroke="#000" stroke-width="1.0" />
<line x1="572.5" y1="991.1" x2="572.5" y2="993.9" stroke="#000" stroke-width="1.0" />
<line x1="562" y1="993.9" x2="562" y2="996.7" stroke="#000" stroke-width="1.0" />
<line x1="593.55" y1="990.3" x2="593.55" y2="993.9" stroke="#000" stroke-width="1.0" />
<line x1="583.05" y1="993.9" x2="583.05" y2="996.7" stroke="#000" stroke-width="1.0" />
<line x1="614.6" y1="991.1" x2="614.6" y2="993.9" stroke="#000" stroke-width="1.0" />
<line x1="604.1" y1="993.9" x2="604.1" y2="996.7" stroke="#000" stroke-width="1.0" />
<line x1="635.65" y1="990.3" x2="635.65" y2="993.9" stroke="#000" stroke-width="1.0" />
<line x1="625.15" y1="993.9" x2="625.15" y2="996.7" stroke="#000" stroke-width="1.0" />
<line x1="646.2" y1="993.9" x2="646.2" y2="996.7" stroke="#000" stroke-width="1.0" />
<text x="73.4" y="988.2" font-size="7.6" text-anchor="middle" fill="#222" >40.556 mb</text>
<text x="115.5" y="988.2" font-size="7.6" text-anchor="middle" fill="#222" >40.564 mb</text>
<text x="157.6" y="988.2" font-size="7.6" text-anchor="middle" fill="#222" >40.572 mb</text>
<text x="199.7" y="988.2" font-size="7.6" text-anchor="middle" fill="#222" >40.58 mb</text>
<text x="241.8" y="988.2" font-size="7.6" text-anchor="middle" fill="#222" >40.588 mb</text>
<text x="283.9" y="988.2" font-size="7.6" text-anchor="middle" fill="#222" >40.596 mb</text>
<text x="326" y="988.2" font-size="7.6" text-anchor="middle" fill="#222" >40.604 mb</text>
<text x="368.1" y="988.2" font-size="7.6" text-anchor="middle" fill="#222" >40.612 mb</text>
<text x="410.2" y="988.2" font-size="7.6" text-anchor="middle" fill="#222" >40.62 mb</text>
<text x="452.3" y="988.2" font-size="7.6" text-anchor="middle" fill="#222" >40.628 mb</text>
<text x="494.4" y="988.2" font-size="7.6" text-anchor="middle" fill="#222" >40.636 mb</text>
<text x="536.5" y="988.2" font-size="7.6" text-anchor="middle" fill="#222" >40.644 mb</text>
<text x="578.6" y="988.2" font-size="7.6" text-anchor="middle" fill="#222" >40.652 mb</text>
<text x="620.7" y="988.2" font-size="7.6" text-anchor="middle" fill="#222" >40.66 mb</text>
<text x="63.2" y="1004.4" font-size="7.6" text-anchor="middle" fill="#222" >40.554 mb</text>
<text x="105.3" y="1004.4" font-size="7.6" text-anchor="middle" fill="#222" >40.562 mb</text>
<text x="147.4" y="1004.4" font-size="7.6" text-anchor="middle" fill="#222" >40.57 mb</text>
<text x="189.5" y="1004.4" font-size="7.6" text-anchor="middle" fill="#222" >40.578 mb</text>
<text x="231.6" y="1004.4" font-size="7.6" text-anchor="middle" fill="#222" >40.586 mb</text>
<text x="273.7" y="1004.4" font-size="7.6" text-anchor="middle" fill="#222" >40.594 mb</text>
<text x="315.8" y="1004.4" font-size="7.6" text-anchor="middle" fill="#222" >40.602 mb</text>
<text x="357.9" y="1004.4" font-size="7.6" text-anchor="middle" fill="#222" >40.61 mb</text>
<text x="400" y="1004.4" font-size="7.6" text-anchor="middle" fill="#222" >40.618 mb</text>
<text x="442.1" y="1004.4" font-size="7.6" text-anchor="middle" fill="#222" >40.626 mb</text>
<text x="484.2" y="1004.4" font-size="7.6" text-anchor="middle" fill="#222" >40.634 mb</text>
<text x="526.3" y="1004.4" font-size="7.6" text-anchor="middle" fill="#222" >40.642 mb</text>
<text x="568.4" y="1004.4" font-size="7.6" text-anchor="middle" fill="#222" >40.65 mb</text>
<text x="610.5" y="1004.4" font-size="7.6" text-anchor="middle" fill="#222" >40.658 mb</text>
<text x="652.6" y="1004.4" font-size="7.6" text-anchor="middle" fill="#222" >40.666 mb</text>
<text x="33.8" y="990.8" font-size="7.2" text-anchor="start" fill="#222" >5'</text>
<text x="33.8" y="999.2" font-size="7.2" text-anchor="start" fill="#222" >3'</text>
<text x="662.6" y="990" font-size="7.2" text-anchor="start" fill="#222" >3'</text>
<text x="662.6" y="998.4" font-size="7.2" text-anchor="start" fill="#222" >5'</text>
</svg>
</body></html>
